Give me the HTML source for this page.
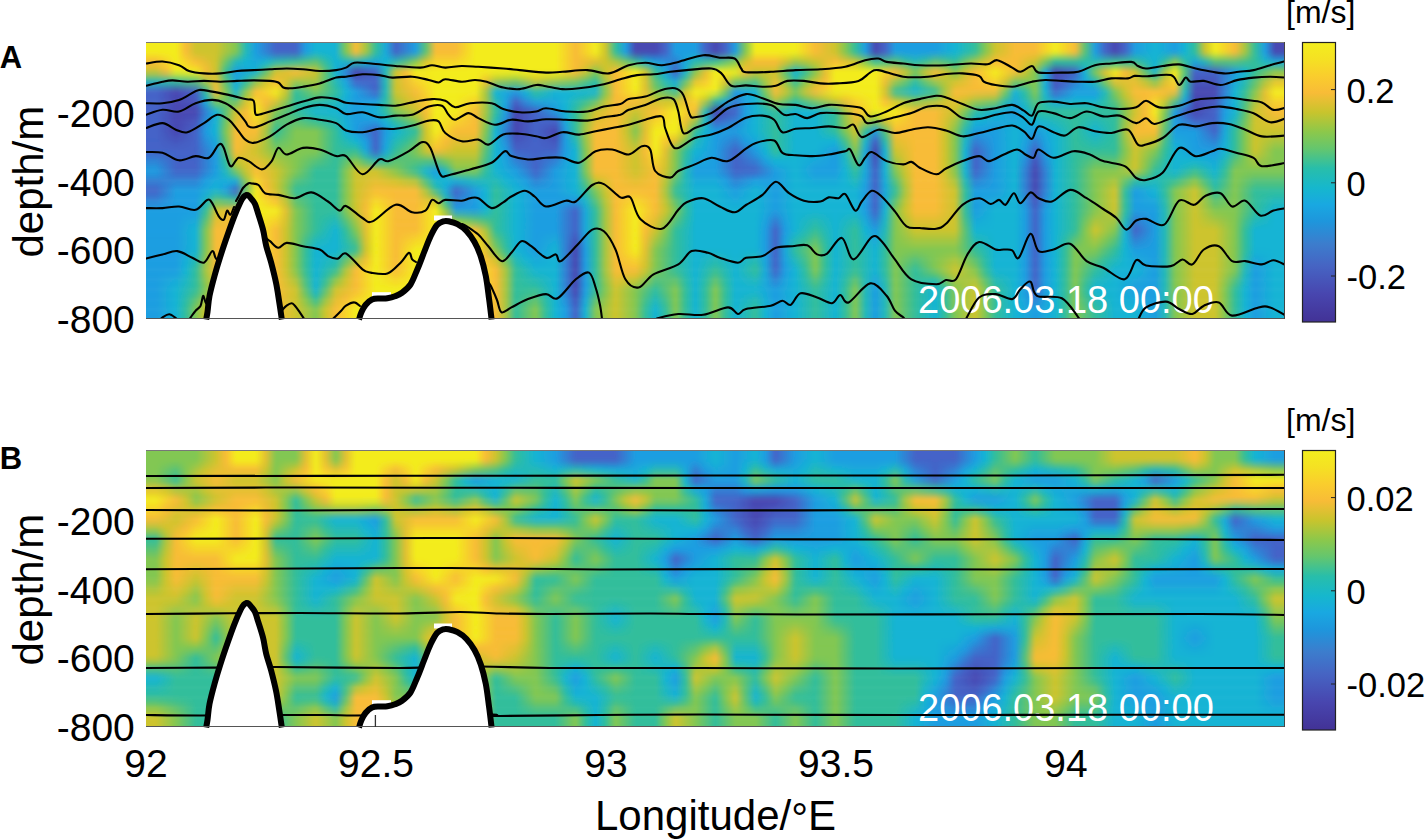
<!DOCTYPE html>
<html><head><meta charset="utf-8"><style>
html,body{margin:0;padding:0;background:#fff;width:1425px;height:840px;overflow:hidden}
svg{display:block;font-family:'Liberation Sans', sans-serif}
</style></head><body>
<svg width="1425" height="840" viewBox="0 0 1425 840">
<defs><linearGradient id="cbg" x1="0" y1="0" x2="0" y2="1"><stop offset="0.000" stop-color="rgb(243,238,30)"/><stop offset="0.060" stop-color="rgb(245,225,35)"/><stop offset="0.120" stop-color="rgb(250,205,45)"/><stop offset="0.180" stop-color="rgb(248,188,55)"/><stop offset="0.250" stop-color="rgb(200,196,45)"/><stop offset="0.320" stop-color="rgb(140,200,75)"/><stop offset="0.380" stop-color="rgb(100,198,110)"/><stop offset="0.450" stop-color="rgb(40,190,170)"/><stop offset="0.520" stop-color="rgb(22,183,205)"/><stop offset="0.580" stop-color="rgb(25,168,225)"/><stop offset="0.640" stop-color="rgb(30,150,220)"/><stop offset="0.720" stop-color="rgb(60,125,205)"/><stop offset="0.800" stop-color="rgb(70,100,195)"/><stop offset="0.900" stop-color="rgb(72,70,175)"/><stop offset="1.000" stop-color="rgb(66,50,150)"/></linearGradient></defs>
<defs><linearGradient id="vfade" x1="0" y1="0" x2="0" y2="1"><stop offset="0" stop-color="#fff"/><stop offset="1" stop-color="#000"/></linearGradient><mask id="fade" maskContentUnits="objectBoundingBox"><rect width="1" height="1" fill="url(#vfade)"/></mask></defs>
<defs><filter id="bl" x="-5%" y="-5%" width="110%" height="110%"><feGaussianBlur stdDeviation="1.5"/></filter></defs>
<defs><linearGradient id="gA0" gradientUnits="userSpaceOnUse" x1="156.0" y1="0" x2="1275.0" y2="0"><stop offset="0.00%" stop-color="#f3ec1e"/><stop offset="0.89%" stop-color="#f3ec1e"/><stop offset="1.79%" stop-color="#f3ec1e"/><stop offset="2.68%" stop-color="#f8bc37"/><stop offset="3.57%" stop-color="#cdc42d"/><stop offset="4.46%" stop-color="#cdc42d"/><stop offset="5.36%" stop-color="#cdc42d"/><stop offset="6.25%" stop-color="#a8c640"/><stop offset="7.14%" stop-color="#82c752"/><stop offset="8.04%" stop-color="#24b9b8"/><stop offset="8.93%" stop-color="#1e9ee1"/><stop offset="9.82%" stop-color="#3181d4"/><stop offset="10.71%" stop-color="#4464c8"/><stop offset="11.61%" stop-color="#4464c8"/><stop offset="12.50%" stop-color="#4464c8"/><stop offset="13.39%" stop-color="#1e9ee1"/><stop offset="14.29%" stop-color="#16b4d4"/><stop offset="15.18%" stop-color="#16b4d4"/><stop offset="16.07%" stop-color="#16b4d4"/><stop offset="16.96%" stop-color="#82c752"/><stop offset="17.86%" stop-color="#f8bc37"/><stop offset="18.75%" stop-color="#a8c640"/><stop offset="19.64%" stop-color="#32be9b"/><stop offset="20.54%" stop-color="#1aa9da"/><stop offset="21.43%" stop-color="#4464c8"/><stop offset="22.32%" stop-color="#3181d4"/><stop offset="23.21%" stop-color="#1e9ee1"/><stop offset="24.11%" stop-color="#5ac276"/><stop offset="25.00%" stop-color="#f8bc37"/><stop offset="25.89%" stop-color="#f8bc37"/><stop offset="26.79%" stop-color="#f8bc37"/><stop offset="27.68%" stop-color="#f6d42a"/><stop offset="28.57%" stop-color="#f3ec1e"/><stop offset="29.46%" stop-color="#f3ec1e"/><stop offset="30.36%" stop-color="#f3ec1e"/><stop offset="31.25%" stop-color="#f3ec1e"/><stop offset="32.14%" stop-color="#f3ec1e"/><stop offset="33.04%" stop-color="#f3ec1e"/><stop offset="33.93%" stop-color="#f3ec1e"/><stop offset="34.82%" stop-color="#f3ec1e"/><stop offset="35.71%" stop-color="#f3ec1e"/><stop offset="36.61%" stop-color="#f6d42a"/><stop offset="37.50%" stop-color="#f8bc37"/><stop offset="38.39%" stop-color="#f6d42a"/><stop offset="39.29%" stop-color="#f3ec1e"/><stop offset="40.18%" stop-color="#cdc42d"/><stop offset="41.07%" stop-color="#32be9b"/><stop offset="41.96%" stop-color="#1e9ee1"/><stop offset="42.86%" stop-color="#4848b2"/><stop offset="43.75%" stop-color="#4848b2"/><stop offset="44.64%" stop-color="#4848b2"/><stop offset="45.54%" stop-color="#4464c8"/><stop offset="46.43%" stop-color="#1e9ee1"/><stop offset="47.32%" stop-color="#1e9ee1"/><stop offset="48.21%" stop-color="#1e9ee1"/><stop offset="49.11%" stop-color="#4464c8"/><stop offset="50.00%" stop-color="#4848b2"/><stop offset="50.89%" stop-color="#4464c8"/><stop offset="51.79%" stop-color="#1e9ee1"/><stop offset="52.68%" stop-color="#82c752"/><stop offset="53.57%" stop-color="#f3ec1e"/><stop offset="54.46%" stop-color="#f3ec1e"/><stop offset="55.36%" stop-color="#f3ec1e"/><stop offset="56.25%" stop-color="#f3ec1e"/><stop offset="57.14%" stop-color="#f3ec1e"/><stop offset="58.04%" stop-color="#f6d42a"/><stop offset="58.93%" stop-color="#f8bc37"/><stop offset="59.82%" stop-color="#e2c032"/><stop offset="60.71%" stop-color="#cdc42d"/><stop offset="61.61%" stop-color="#82c752"/><stop offset="62.50%" stop-color="#32be9b"/><stop offset="63.39%" stop-color="#1e9ee1"/><stop offset="64.29%" stop-color="#4848b2"/><stop offset="65.18%" stop-color="#4464c8"/><stop offset="66.07%" stop-color="#1e9ee1"/><stop offset="66.96%" stop-color="#1e9ee1"/><stop offset="67.86%" stop-color="#1e9ee1"/><stop offset="68.75%" stop-color="#1e9ee1"/><stop offset="69.64%" stop-color="#1e9ee1"/><stop offset="70.54%" stop-color="#1aa9da"/><stop offset="71.43%" stop-color="#16b4d4"/><stop offset="72.32%" stop-color="#24b9b8"/><stop offset="73.21%" stop-color="#32be9b"/><stop offset="74.11%" stop-color="#82c752"/><stop offset="75.00%" stop-color="#cdc42d"/><stop offset="75.89%" stop-color="#e2c032"/><stop offset="76.79%" stop-color="#f8bc37"/><stop offset="77.68%" stop-color="#f8bc37"/><stop offset="78.57%" stop-color="#f8bc37"/><stop offset="79.46%" stop-color="#f6d42a"/><stop offset="80.36%" stop-color="#f3ec1e"/><stop offset="81.25%" stop-color="#f6d42a"/><stop offset="82.14%" stop-color="#f8bc37"/><stop offset="83.04%" stop-color="#5ac276"/><stop offset="83.93%" stop-color="#1e9ee1"/><stop offset="84.82%" stop-color="#4464c8"/><stop offset="85.71%" stop-color="#4848b2"/><stop offset="86.61%" stop-color="#4464c8"/><stop offset="87.50%" stop-color="#1e9ee1"/><stop offset="88.39%" stop-color="#1aa9da"/><stop offset="89.29%" stop-color="#16b4d4"/><stop offset="90.18%" stop-color="#1aa9da"/><stop offset="91.07%" stop-color="#1e9ee1"/><stop offset="91.96%" stop-color="#16b4d4"/><stop offset="92.86%" stop-color="#32be9b"/><stop offset="93.75%" stop-color="#cdc42d"/><stop offset="94.64%" stop-color="#f3ec1e"/><stop offset="95.54%" stop-color="#f6d42a"/><stop offset="96.43%" stop-color="#f8bc37"/><stop offset="97.32%" stop-color="#a8c640"/><stop offset="98.21%" stop-color="#32be9b"/><stop offset="99.11%" stop-color="#1e9ee1"/><stop offset="100.00%" stop-color="#4848b2"/></linearGradient><linearGradient id="gA1" gradientUnits="userSpaceOnUse" x1="156.0" y1="0" x2="1275.0" y2="0"><stop offset="0.00%" stop-color="#f8bc37"/><stop offset="0.89%" stop-color="#f6d42a"/><stop offset="1.79%" stop-color="#f3ec1e"/><stop offset="2.68%" stop-color="#f6d42a"/><stop offset="3.57%" stop-color="#f8bc37"/><stop offset="4.46%" stop-color="#e2c032"/><stop offset="5.36%" stop-color="#cdc42d"/><stop offset="6.25%" stop-color="#6ec564"/><stop offset="7.14%" stop-color="#24b9b8"/><stop offset="8.04%" stop-color="#16b4d4"/><stop offset="8.93%" stop-color="#1aa9da"/><stop offset="9.82%" stop-color="#16b4d4"/><stop offset="10.71%" stop-color="#24b9b8"/><stop offset="11.61%" stop-color="#2bbca9"/><stop offset="12.50%" stop-color="#32be9b"/><stop offset="13.39%" stop-color="#46c089"/><stop offset="14.29%" stop-color="#5ac276"/><stop offset="15.18%" stop-color="#2bbca9"/><stop offset="16.07%" stop-color="#16b4d4"/><stop offset="16.96%" stop-color="#1db6c6"/><stop offset="17.86%" stop-color="#24b9b8"/><stop offset="18.75%" stop-color="#16b4d4"/><stop offset="19.64%" stop-color="#1aa9da"/><stop offset="20.54%" stop-color="#16b4d4"/><stop offset="21.43%" stop-color="#24b9b8"/><stop offset="22.32%" stop-color="#46c089"/><stop offset="23.21%" stop-color="#82c752"/><stop offset="24.11%" stop-color="#d8c230"/><stop offset="25.00%" stop-color="#f6d42a"/><stop offset="25.89%" stop-color="#f6d42a"/><stop offset="26.79%" stop-color="#f6d42a"/><stop offset="27.68%" stop-color="#f4e024"/><stop offset="28.57%" stop-color="#f3ec1e"/><stop offset="29.46%" stop-color="#f3ec1e"/><stop offset="30.36%" stop-color="#f3ec1e"/><stop offset="31.25%" stop-color="#f3ec1e"/><stop offset="32.14%" stop-color="#f3ec1e"/><stop offset="33.04%" stop-color="#f3ec1e"/><stop offset="33.93%" stop-color="#f3ec1e"/><stop offset="34.82%" stop-color="#f3ec1e"/><stop offset="35.71%" stop-color="#f3ec1e"/><stop offset="36.61%" stop-color="#f6d42a"/><stop offset="37.50%" stop-color="#f8bc37"/><stop offset="38.39%" stop-color="#edbe34"/><stop offset="39.29%" stop-color="#e2c032"/><stop offset="40.18%" stop-color="#cdc42d"/><stop offset="41.07%" stop-color="#a8c640"/><stop offset="41.96%" stop-color="#6ec564"/><stop offset="42.86%" stop-color="#32be9b"/><stop offset="43.75%" stop-color="#16b4d4"/><stop offset="44.64%" stop-color="#1e9ee1"/><stop offset="45.54%" stop-color="#2890db"/><stop offset="46.43%" stop-color="#3181d4"/><stop offset="47.32%" stop-color="#1aa9da"/><stop offset="48.21%" stop-color="#24b9b8"/><stop offset="49.11%" stop-color="#2bbca9"/><stop offset="50.00%" stop-color="#32be9b"/><stop offset="50.89%" stop-color="#5ac276"/><stop offset="51.79%" stop-color="#82c752"/><stop offset="52.68%" stop-color="#cdc42d"/><stop offset="53.57%" stop-color="#f8bc37"/><stop offset="54.46%" stop-color="#f8bc37"/><stop offset="55.36%" stop-color="#f8bc37"/><stop offset="56.25%" stop-color="#d8c230"/><stop offset="57.14%" stop-color="#a8c640"/><stop offset="58.04%" stop-color="#bac536"/><stop offset="58.93%" stop-color="#cdc42d"/><stop offset="59.82%" stop-color="#e2c032"/><stop offset="60.71%" stop-color="#f8bc37"/><stop offset="61.61%" stop-color="#e2c032"/><stop offset="62.50%" stop-color="#cdc42d"/><stop offset="63.39%" stop-color="#82c752"/><stop offset="64.29%" stop-color="#32be9b"/><stop offset="65.18%" stop-color="#46c089"/><stop offset="66.07%" stop-color="#5ac276"/><stop offset="66.96%" stop-color="#32be9b"/><stop offset="67.86%" stop-color="#24b9b8"/><stop offset="68.75%" stop-color="#32be9b"/><stop offset="69.64%" stop-color="#5ac276"/><stop offset="70.54%" stop-color="#46c089"/><stop offset="71.43%" stop-color="#32be9b"/><stop offset="72.32%" stop-color="#6ec564"/><stop offset="73.21%" stop-color="#a8c640"/><stop offset="74.11%" stop-color="#d8c230"/><stop offset="75.00%" stop-color="#f8bc37"/><stop offset="75.89%" stop-color="#f8bc37"/><stop offset="76.79%" stop-color="#f8bc37"/><stop offset="77.68%" stop-color="#e2c032"/><stop offset="78.57%" stop-color="#cdc42d"/><stop offset="79.46%" stop-color="#82c752"/><stop offset="80.36%" stop-color="#32be9b"/><stop offset="81.25%" stop-color="#32be9b"/><stop offset="82.14%" stop-color="#32be9b"/><stop offset="83.04%" stop-color="#2bbca9"/><stop offset="83.93%" stop-color="#24b9b8"/><stop offset="84.82%" stop-color="#2bbca9"/><stop offset="85.71%" stop-color="#32be9b"/><stop offset="86.61%" stop-color="#32be9b"/><stop offset="87.50%" stop-color="#32be9b"/><stop offset="88.39%" stop-color="#24b9b8"/><stop offset="89.29%" stop-color="#16b4d4"/><stop offset="90.18%" stop-color="#32be9b"/><stop offset="91.07%" stop-color="#82c752"/><stop offset="91.96%" stop-color="#2bbca9"/><stop offset="92.86%" stop-color="#1aa9da"/><stop offset="93.75%" stop-color="#24b9b8"/><stop offset="94.64%" stop-color="#5ac276"/><stop offset="95.54%" stop-color="#5ac276"/><stop offset="96.43%" stop-color="#5ac276"/><stop offset="97.32%" stop-color="#46c089"/><stop offset="98.21%" stop-color="#32be9b"/><stop offset="99.11%" stop-color="#1db6c6"/><stop offset="100.00%" stop-color="#1aa9da"/></linearGradient><linearGradient id="gA2" gradientUnits="userSpaceOnUse" x1="156.0" y1="0" x2="1275.0" y2="0"><stop offset="0.00%" stop-color="#cdc42d"/><stop offset="0.89%" stop-color="#f8bc37"/><stop offset="1.79%" stop-color="#f3ec1e"/><stop offset="2.68%" stop-color="#f3ec1e"/><stop offset="3.57%" stop-color="#f3ec1e"/><stop offset="4.46%" stop-color="#f8bc37"/><stop offset="5.36%" stop-color="#cdc42d"/><stop offset="6.25%" stop-color="#32be9b"/><stop offset="7.14%" stop-color="#1e9ee1"/><stop offset="8.04%" stop-color="#1aa9da"/><stop offset="8.93%" stop-color="#16b4d4"/><stop offset="9.82%" stop-color="#5ac276"/><stop offset="10.71%" stop-color="#cdc42d"/><stop offset="11.61%" stop-color="#e2c032"/><stop offset="12.50%" stop-color="#f8bc37"/><stop offset="13.39%" stop-color="#e2c032"/><stop offset="14.29%" stop-color="#cdc42d"/><stop offset="15.18%" stop-color="#5ac276"/><stop offset="16.07%" stop-color="#16b4d4"/><stop offset="16.96%" stop-color="#3181d4"/><stop offset="17.86%" stop-color="#4848b2"/><stop offset="18.75%" stop-color="#4656bd"/><stop offset="19.64%" stop-color="#4464c8"/><stop offset="20.54%" stop-color="#24b9b8"/><stop offset="21.43%" stop-color="#cdc42d"/><stop offset="22.32%" stop-color="#f8bc37"/><stop offset="23.21%" stop-color="#f3ec1e"/><stop offset="24.11%" stop-color="#f3ec1e"/><stop offset="25.00%" stop-color="#f3ec1e"/><stop offset="25.89%" stop-color="#f3ec1e"/><stop offset="26.79%" stop-color="#f3ec1e"/><stop offset="27.68%" stop-color="#f3ec1e"/><stop offset="28.57%" stop-color="#f3ec1e"/><stop offset="29.46%" stop-color="#f3ec1e"/><stop offset="30.36%" stop-color="#f3ec1e"/><stop offset="31.25%" stop-color="#f3ec1e"/><stop offset="32.14%" stop-color="#f3ec1e"/><stop offset="33.04%" stop-color="#f3ec1e"/><stop offset="33.93%" stop-color="#f3ec1e"/><stop offset="34.82%" stop-color="#f3ec1e"/><stop offset="35.71%" stop-color="#f3ec1e"/><stop offset="36.61%" stop-color="#f6d42a"/><stop offset="37.50%" stop-color="#f8bc37"/><stop offset="38.39%" stop-color="#cdc42d"/><stop offset="39.29%" stop-color="#82c752"/><stop offset="40.18%" stop-color="#cdc42d"/><stop offset="41.07%" stop-color="#f8bc37"/><stop offset="41.96%" stop-color="#f6d42a"/><stop offset="42.86%" stop-color="#f3ec1e"/><stop offset="43.75%" stop-color="#cdc42d"/><stop offset="44.64%" stop-color="#32be9b"/><stop offset="45.54%" stop-color="#1aa9da"/><stop offset="46.43%" stop-color="#4464c8"/><stop offset="47.32%" stop-color="#16b4d4"/><stop offset="48.21%" stop-color="#82c752"/><stop offset="49.11%" stop-color="#e2c032"/><stop offset="50.00%" stop-color="#f3ec1e"/><stop offset="50.89%" stop-color="#f3ec1e"/><stop offset="51.79%" stop-color="#f3ec1e"/><stop offset="52.68%" stop-color="#f8bc37"/><stop offset="53.57%" stop-color="#cdc42d"/><stop offset="54.46%" stop-color="#cdc42d"/><stop offset="55.36%" stop-color="#cdc42d"/><stop offset="56.25%" stop-color="#5ac276"/><stop offset="57.14%" stop-color="#16b4d4"/><stop offset="58.04%" stop-color="#32be9b"/><stop offset="58.93%" stop-color="#82c752"/><stop offset="59.82%" stop-color="#e2c032"/><stop offset="60.71%" stop-color="#f3ec1e"/><stop offset="61.61%" stop-color="#f3ec1e"/><stop offset="62.50%" stop-color="#f3ec1e"/><stop offset="63.39%" stop-color="#f3ec1e"/><stop offset="64.29%" stop-color="#f3ec1e"/><stop offset="65.18%" stop-color="#f6d42a"/><stop offset="66.07%" stop-color="#f8bc37"/><stop offset="66.96%" stop-color="#cdc42d"/><stop offset="67.86%" stop-color="#82c752"/><stop offset="68.75%" stop-color="#cdc42d"/><stop offset="69.64%" stop-color="#f8bc37"/><stop offset="70.54%" stop-color="#cdc42d"/><stop offset="71.43%" stop-color="#82c752"/><stop offset="72.32%" stop-color="#cdc42d"/><stop offset="73.21%" stop-color="#f8bc37"/><stop offset="74.11%" stop-color="#f6d42a"/><stop offset="75.00%" stop-color="#f3ec1e"/><stop offset="75.89%" stop-color="#f6d42a"/><stop offset="76.79%" stop-color="#f8bc37"/><stop offset="77.68%" stop-color="#cdc42d"/><stop offset="78.57%" stop-color="#82c752"/><stop offset="79.46%" stop-color="#1aa9da"/><stop offset="80.36%" stop-color="#4848b2"/><stop offset="81.25%" stop-color="#4656bd"/><stop offset="82.14%" stop-color="#4464c8"/><stop offset="83.04%" stop-color="#16b4d4"/><stop offset="83.93%" stop-color="#82c752"/><stop offset="84.82%" stop-color="#e2c032"/><stop offset="85.71%" stop-color="#f3ec1e"/><stop offset="86.61%" stop-color="#f8bc37"/><stop offset="87.50%" stop-color="#cdc42d"/><stop offset="88.39%" stop-color="#5ac276"/><stop offset="89.29%" stop-color="#16b4d4"/><stop offset="90.18%" stop-color="#a8c640"/><stop offset="91.07%" stop-color="#f3ec1e"/><stop offset="91.96%" stop-color="#5ac276"/><stop offset="92.86%" stop-color="#4464c8"/><stop offset="93.75%" stop-color="#4464c8"/><stop offset="94.64%" stop-color="#4464c8"/><stop offset="95.54%" stop-color="#3181d4"/><stop offset="96.43%" stop-color="#1e9ee1"/><stop offset="97.32%" stop-color="#16b4d4"/><stop offset="98.21%" stop-color="#32be9b"/><stop offset="99.11%" stop-color="#5ac276"/><stop offset="100.00%" stop-color="#82c752"/></linearGradient><linearGradient id="gA3" gradientUnits="userSpaceOnUse" x1="156.0" y1="0" x2="1275.0" y2="0"><stop offset="0.00%" stop-color="#24b9b8"/><stop offset="0.89%" stop-color="#2bbca9"/><stop offset="1.79%" stop-color="#32be9b"/><stop offset="2.68%" stop-color="#46c089"/><stop offset="3.57%" stop-color="#5ac276"/><stop offset="4.46%" stop-color="#a8c640"/><stop offset="5.36%" stop-color="#e2c032"/><stop offset="6.25%" stop-color="#5ac276"/><stop offset="7.14%" stop-color="#1aa9da"/><stop offset="8.04%" stop-color="#2bbca9"/><stop offset="8.93%" stop-color="#82c752"/><stop offset="9.82%" stop-color="#cdc42d"/><stop offset="10.71%" stop-color="#f8bc37"/><stop offset="11.61%" stop-color="#d8c230"/><stop offset="12.50%" stop-color="#a8c640"/><stop offset="13.39%" stop-color="#a8c640"/><stop offset="14.29%" stop-color="#a8c640"/><stop offset="15.18%" stop-color="#5ac276"/><stop offset="16.07%" stop-color="#24b9b8"/><stop offset="16.96%" stop-color="#1ca4de"/><stop offset="17.86%" stop-color="#4464c8"/><stop offset="18.75%" stop-color="#4464c8"/><stop offset="19.64%" stop-color="#4464c8"/><stop offset="20.54%" stop-color="#24b9b8"/><stop offset="21.43%" stop-color="#cdc42d"/><stop offset="22.32%" stop-color="#edbe34"/><stop offset="23.21%" stop-color="#f6d42a"/><stop offset="24.11%" stop-color="#f4e024"/><stop offset="25.00%" stop-color="#f3ec1e"/><stop offset="25.89%" stop-color="#f3ec1e"/><stop offset="26.79%" stop-color="#f3ec1e"/><stop offset="27.68%" stop-color="#f3ec1e"/><stop offset="28.57%" stop-color="#f3ec1e"/><stop offset="29.46%" stop-color="#edbe34"/><stop offset="30.36%" stop-color="#a8c640"/><stop offset="31.25%" stop-color="#95c649"/><stop offset="32.14%" stop-color="#82c752"/><stop offset="33.04%" stop-color="#a8c640"/><stop offset="33.93%" stop-color="#cdc42d"/><stop offset="34.82%" stop-color="#bac536"/><stop offset="35.71%" stop-color="#a8c640"/><stop offset="36.61%" stop-color="#95c649"/><stop offset="37.50%" stop-color="#82c752"/><stop offset="38.39%" stop-color="#5ac276"/><stop offset="39.29%" stop-color="#32be9b"/><stop offset="40.18%" stop-color="#a8c640"/><stop offset="41.07%" stop-color="#f8bc37"/><stop offset="41.96%" stop-color="#f6d42a"/><stop offset="42.86%" stop-color="#f3ec1e"/><stop offset="43.75%" stop-color="#d8c230"/><stop offset="44.64%" stop-color="#5ac276"/><stop offset="45.54%" stop-color="#24b9b8"/><stop offset="46.43%" stop-color="#1aa9da"/><stop offset="47.32%" stop-color="#5ac276"/><stop offset="48.21%" stop-color="#e2c032"/><stop offset="49.11%" stop-color="#f7c831"/><stop offset="50.00%" stop-color="#f3ec1e"/><stop offset="50.89%" stop-color="#e2c032"/><stop offset="51.79%" stop-color="#82c752"/><stop offset="52.68%" stop-color="#6ec564"/><stop offset="53.57%" stop-color="#5ac276"/><stop offset="54.46%" stop-color="#a8c640"/><stop offset="55.36%" stop-color="#e2c032"/><stop offset="56.25%" stop-color="#95c649"/><stop offset="57.14%" stop-color="#32be9b"/><stop offset="58.04%" stop-color="#82c752"/><stop offset="58.93%" stop-color="#cdc42d"/><stop offset="59.82%" stop-color="#f8bc37"/><stop offset="60.71%" stop-color="#f3ec1e"/><stop offset="61.61%" stop-color="#f3ec1e"/><stop offset="62.50%" stop-color="#f3ec1e"/><stop offset="63.39%" stop-color="#f3ec1e"/><stop offset="64.29%" stop-color="#f3ec1e"/><stop offset="65.18%" stop-color="#edbe34"/><stop offset="66.07%" stop-color="#a8c640"/><stop offset="66.96%" stop-color="#6ec564"/><stop offset="67.86%" stop-color="#32be9b"/><stop offset="68.75%" stop-color="#6ec564"/><stop offset="69.64%" stop-color="#a8c640"/><stop offset="70.54%" stop-color="#bac536"/><stop offset="71.43%" stop-color="#cdc42d"/><stop offset="72.32%" stop-color="#e2c032"/><stop offset="73.21%" stop-color="#f8bc37"/><stop offset="74.11%" stop-color="#f7c831"/><stop offset="75.00%" stop-color="#f6d42a"/><stop offset="75.89%" stop-color="#d8c230"/><stop offset="76.79%" stop-color="#82c752"/><stop offset="77.68%" stop-color="#82c752"/><stop offset="78.57%" stop-color="#82c752"/><stop offset="79.46%" stop-color="#18aed7"/><stop offset="80.36%" stop-color="#4656bd"/><stop offset="81.25%" stop-color="#4464c8"/><stop offset="82.14%" stop-color="#3181d4"/><stop offset="83.04%" stop-color="#1aa9da"/><stop offset="83.93%" stop-color="#24b9b8"/><stop offset="84.82%" stop-color="#82c752"/><stop offset="85.71%" stop-color="#e2c032"/><stop offset="86.61%" stop-color="#e2c032"/><stop offset="87.50%" stop-color="#e2c032"/><stop offset="88.39%" stop-color="#bac536"/><stop offset="89.29%" stop-color="#82c752"/><stop offset="90.18%" stop-color="#d8c230"/><stop offset="91.07%" stop-color="#f6d42a"/><stop offset="91.96%" stop-color="#32be9b"/><stop offset="92.86%" stop-color="#4656bd"/><stop offset="93.75%" stop-color="#4656bd"/><stop offset="94.64%" stop-color="#4656bd"/><stop offset="95.54%" stop-color="#3181d4"/><stop offset="96.43%" stop-color="#1aa9da"/><stop offset="97.32%" stop-color="#24b9b8"/><stop offset="98.21%" stop-color="#5ac276"/><stop offset="99.11%" stop-color="#a8c640"/><stop offset="100.00%" stop-color="#e2c032"/></linearGradient><linearGradient id="gA4" gradientUnits="userSpaceOnUse" x1="156.0" y1="0" x2="1275.0" y2="0"><stop offset="0.00%" stop-color="#4464c8"/><stop offset="0.89%" stop-color="#4656bd"/><stop offset="1.79%" stop-color="#4848b2"/><stop offset="2.68%" stop-color="#4656bd"/><stop offset="3.57%" stop-color="#4464c8"/><stop offset="4.46%" stop-color="#32be9b"/><stop offset="5.36%" stop-color="#f8bc37"/><stop offset="6.25%" stop-color="#82c752"/><stop offset="7.14%" stop-color="#16b4d4"/><stop offset="8.04%" stop-color="#82c752"/><stop offset="8.93%" stop-color="#f8bc37"/><stop offset="9.82%" stop-color="#f6d42a"/><stop offset="10.71%" stop-color="#f3ec1e"/><stop offset="11.61%" stop-color="#cdc42d"/><stop offset="12.50%" stop-color="#32be9b"/><stop offset="13.39%" stop-color="#5ac276"/><stop offset="14.29%" stop-color="#82c752"/><stop offset="15.18%" stop-color="#5ac276"/><stop offset="16.07%" stop-color="#32be9b"/><stop offset="16.96%" stop-color="#16b4d4"/><stop offset="17.86%" stop-color="#1e9ee1"/><stop offset="18.75%" stop-color="#3181d4"/><stop offset="19.64%" stop-color="#4464c8"/><stop offset="20.54%" stop-color="#24b9b8"/><stop offset="21.43%" stop-color="#cdc42d"/><stop offset="22.32%" stop-color="#e2c032"/><stop offset="23.21%" stop-color="#f8bc37"/><stop offset="24.11%" stop-color="#f6d42a"/><stop offset="25.00%" stop-color="#f3ec1e"/><stop offset="25.89%" stop-color="#f3ec1e"/><stop offset="26.79%" stop-color="#f3ec1e"/><stop offset="27.68%" stop-color="#f3ec1e"/><stop offset="28.57%" stop-color="#f3ec1e"/><stop offset="29.46%" stop-color="#a8c640"/><stop offset="30.36%" stop-color="#16b4d4"/><stop offset="31.25%" stop-color="#1aa9da"/><stop offset="32.14%" stop-color="#1e9ee1"/><stop offset="33.04%" stop-color="#16b4d4"/><stop offset="33.93%" stop-color="#32be9b"/><stop offset="34.82%" stop-color="#24b9b8"/><stop offset="35.71%" stop-color="#16b4d4"/><stop offset="36.61%" stop-color="#16b4d4"/><stop offset="37.50%" stop-color="#16b4d4"/><stop offset="38.39%" stop-color="#16b4d4"/><stop offset="39.29%" stop-color="#16b4d4"/><stop offset="40.18%" stop-color="#82c752"/><stop offset="41.07%" stop-color="#f8bc37"/><stop offset="41.96%" stop-color="#f6d42a"/><stop offset="42.86%" stop-color="#f3ec1e"/><stop offset="43.75%" stop-color="#e2c032"/><stop offset="44.64%" stop-color="#82c752"/><stop offset="45.54%" stop-color="#5ac276"/><stop offset="46.43%" stop-color="#32be9b"/><stop offset="47.32%" stop-color="#cdc42d"/><stop offset="48.21%" stop-color="#f3ec1e"/><stop offset="49.11%" stop-color="#f3ec1e"/><stop offset="50.00%" stop-color="#f3ec1e"/><stop offset="50.89%" stop-color="#82c752"/><stop offset="51.79%" stop-color="#1e9ee1"/><stop offset="52.68%" stop-color="#1aa9da"/><stop offset="53.57%" stop-color="#16b4d4"/><stop offset="54.46%" stop-color="#82c752"/><stop offset="55.36%" stop-color="#f8bc37"/><stop offset="56.25%" stop-color="#cdc42d"/><stop offset="57.14%" stop-color="#82c752"/><stop offset="58.04%" stop-color="#cdc42d"/><stop offset="58.93%" stop-color="#f8bc37"/><stop offset="59.82%" stop-color="#f6d42a"/><stop offset="60.71%" stop-color="#f3ec1e"/><stop offset="61.61%" stop-color="#f3ec1e"/><stop offset="62.50%" stop-color="#f3ec1e"/><stop offset="63.39%" stop-color="#f3ec1e"/><stop offset="64.29%" stop-color="#f3ec1e"/><stop offset="65.18%" stop-color="#cdc42d"/><stop offset="66.07%" stop-color="#32be9b"/><stop offset="66.96%" stop-color="#24b9b8"/><stop offset="67.86%" stop-color="#16b4d4"/><stop offset="68.75%" stop-color="#24b9b8"/><stop offset="69.64%" stop-color="#32be9b"/><stop offset="70.54%" stop-color="#a8c640"/><stop offset="71.43%" stop-color="#f8bc37"/><stop offset="72.32%" stop-color="#f8bc37"/><stop offset="73.21%" stop-color="#f8bc37"/><stop offset="74.11%" stop-color="#f8bc37"/><stop offset="75.00%" stop-color="#f8bc37"/><stop offset="75.89%" stop-color="#82c752"/><stop offset="76.79%" stop-color="#16b4d4"/><stop offset="77.68%" stop-color="#32be9b"/><stop offset="78.57%" stop-color="#82c752"/><stop offset="79.46%" stop-color="#16b4d4"/><stop offset="80.36%" stop-color="#4464c8"/><stop offset="81.25%" stop-color="#3181d4"/><stop offset="82.14%" stop-color="#1e9ee1"/><stop offset="83.04%" stop-color="#1e9ee1"/><stop offset="83.93%" stop-color="#1e9ee1"/><stop offset="84.82%" stop-color="#24b9b8"/><stop offset="85.71%" stop-color="#82c752"/><stop offset="86.61%" stop-color="#cdc42d"/><stop offset="87.50%" stop-color="#f8bc37"/><stop offset="88.39%" stop-color="#f8bc37"/><stop offset="89.29%" stop-color="#f8bc37"/><stop offset="90.18%" stop-color="#f8bc37"/><stop offset="91.07%" stop-color="#f8bc37"/><stop offset="91.96%" stop-color="#24b9b8"/><stop offset="92.86%" stop-color="#4848b2"/><stop offset="93.75%" stop-color="#4848b2"/><stop offset="94.64%" stop-color="#4848b2"/><stop offset="95.54%" stop-color="#3181d4"/><stop offset="96.43%" stop-color="#16b4d4"/><stop offset="97.32%" stop-color="#32be9b"/><stop offset="98.21%" stop-color="#82c752"/><stop offset="99.11%" stop-color="#e2c032"/><stop offset="100.00%" stop-color="#f3ec1e"/></linearGradient><linearGradient id="gA5" gradientUnits="userSpaceOnUse" x1="156.0" y1="0" x2="1275.0" y2="0"><stop offset="0.00%" stop-color="#4464c8"/><stop offset="0.89%" stop-color="#4656bd"/><stop offset="1.79%" stop-color="#4848b2"/><stop offset="2.68%" stop-color="#474fb8"/><stop offset="3.57%" stop-color="#4656bd"/><stop offset="4.46%" stop-color="#18aed7"/><stop offset="5.36%" stop-color="#82c752"/><stop offset="6.25%" stop-color="#6ec564"/><stop offset="7.14%" stop-color="#5ac276"/><stop offset="8.04%" stop-color="#cdc42d"/><stop offset="8.93%" stop-color="#f6d42a"/><stop offset="9.82%" stop-color="#f8bc37"/><stop offset="10.71%" stop-color="#e2c032"/><stop offset="11.61%" stop-color="#95c649"/><stop offset="12.50%" stop-color="#32be9b"/><stop offset="13.39%" stop-color="#32be9b"/><stop offset="14.29%" stop-color="#32be9b"/><stop offset="15.18%" stop-color="#2bbca9"/><stop offset="16.07%" stop-color="#24b9b8"/><stop offset="16.96%" stop-color="#18aed7"/><stop offset="17.86%" stop-color="#1e9ee1"/><stop offset="18.75%" stop-color="#1e9ee1"/><stop offset="19.64%" stop-color="#1e9ee1"/><stop offset="20.54%" stop-color="#2bbca9"/><stop offset="21.43%" stop-color="#a8c640"/><stop offset="22.32%" stop-color="#cdc42d"/><stop offset="23.21%" stop-color="#e2c032"/><stop offset="24.11%" stop-color="#f7c831"/><stop offset="25.00%" stop-color="#f3ec1e"/><stop offset="25.89%" stop-color="#f3ec1e"/><stop offset="26.79%" stop-color="#f3ec1e"/><stop offset="27.68%" stop-color="#f4e024"/><stop offset="28.57%" stop-color="#f6d42a"/><stop offset="29.46%" stop-color="#a8c640"/><stop offset="30.36%" stop-color="#24b9b8"/><stop offset="31.25%" stop-color="#1ca4de"/><stop offset="32.14%" stop-color="#4464c8"/><stop offset="33.04%" stop-color="#2890db"/><stop offset="33.93%" stop-color="#1aa9da"/><stop offset="34.82%" stop-color="#1aa9da"/><stop offset="35.71%" stop-color="#1aa9da"/><stop offset="36.61%" stop-color="#16b4d4"/><stop offset="37.50%" stop-color="#24b9b8"/><stop offset="38.39%" stop-color="#32be9b"/><stop offset="39.29%" stop-color="#5ac276"/><stop offset="40.18%" stop-color="#bac536"/><stop offset="41.07%" stop-color="#f8bc37"/><stop offset="41.96%" stop-color="#f8bc37"/><stop offset="42.86%" stop-color="#f8bc37"/><stop offset="43.75%" stop-color="#e2c032"/><stop offset="44.64%" stop-color="#cdc42d"/><stop offset="45.54%" stop-color="#cdc42d"/><stop offset="46.43%" stop-color="#cdc42d"/><stop offset="47.32%" stop-color="#edbe34"/><stop offset="48.21%" stop-color="#f6d42a"/><stop offset="49.11%" stop-color="#bac536"/><stop offset="50.00%" stop-color="#32be9b"/><stop offset="50.89%" stop-color="#18aed7"/><stop offset="51.79%" stop-color="#3181d4"/><stop offset="52.68%" stop-color="#1ca4de"/><stop offset="53.57%" stop-color="#16b4d4"/><stop offset="54.46%" stop-color="#46c089"/><stop offset="55.36%" stop-color="#a8c640"/><stop offset="56.25%" stop-color="#6ec564"/><stop offset="57.14%" stop-color="#32be9b"/><stop offset="58.04%" stop-color="#5ac276"/><stop offset="58.93%" stop-color="#82c752"/><stop offset="59.82%" stop-color="#a8c640"/><stop offset="60.71%" stop-color="#cdc42d"/><stop offset="61.61%" stop-color="#edbe34"/><stop offset="62.50%" stop-color="#f6d42a"/><stop offset="63.39%" stop-color="#f4e024"/><stop offset="64.29%" stop-color="#f3ec1e"/><stop offset="65.18%" stop-color="#f8bc37"/><stop offset="66.07%" stop-color="#cdc42d"/><stop offset="66.96%" stop-color="#a8c640"/><stop offset="67.86%" stop-color="#82c752"/><stop offset="68.75%" stop-color="#95c649"/><stop offset="69.64%" stop-color="#a8c640"/><stop offset="70.54%" stop-color="#cdc42d"/><stop offset="71.43%" stop-color="#e2c032"/><stop offset="72.32%" stop-color="#cdc42d"/><stop offset="73.21%" stop-color="#a8c640"/><stop offset="74.11%" stop-color="#95c649"/><stop offset="75.00%" stop-color="#82c752"/><stop offset="75.89%" stop-color="#2bbca9"/><stop offset="76.79%" stop-color="#1aa9da"/><stop offset="77.68%" stop-color="#24b9b8"/><stop offset="78.57%" stop-color="#5ac276"/><stop offset="79.46%" stop-color="#24b9b8"/><stop offset="80.36%" stop-color="#1aa9da"/><stop offset="81.25%" stop-color="#18aed7"/><stop offset="82.14%" stop-color="#16b4d4"/><stop offset="83.04%" stop-color="#16b4d4"/><stop offset="83.93%" stop-color="#16b4d4"/><stop offset="84.82%" stop-color="#2bbca9"/><stop offset="85.71%" stop-color="#5ac276"/><stop offset="86.61%" stop-color="#a8c640"/><stop offset="87.50%" stop-color="#e2c032"/><stop offset="88.39%" stop-color="#f8bc37"/><stop offset="89.29%" stop-color="#f6d42a"/><stop offset="90.18%" stop-color="#cdc42d"/><stop offset="91.07%" stop-color="#5ac276"/><stop offset="91.96%" stop-color="#1ca4de"/><stop offset="92.86%" stop-color="#4848b2"/><stop offset="93.75%" stop-color="#474fb8"/><stop offset="94.64%" stop-color="#4656bd"/><stop offset="95.54%" stop-color="#2890db"/><stop offset="96.43%" stop-color="#16b4d4"/><stop offset="97.32%" stop-color="#46c089"/><stop offset="98.21%" stop-color="#a8c640"/><stop offset="99.11%" stop-color="#e2c032"/><stop offset="100.00%" stop-color="#f6d42a"/></linearGradient><linearGradient id="gA6" gradientUnits="userSpaceOnUse" x1="156.0" y1="0" x2="1275.0" y2="0"><stop offset="0.00%" stop-color="#4464c8"/><stop offset="0.89%" stop-color="#4656bd"/><stop offset="1.79%" stop-color="#4848b2"/><stop offset="2.68%" stop-color="#4848b2"/><stop offset="3.57%" stop-color="#4848b2"/><stop offset="4.46%" stop-color="#3181d4"/><stop offset="5.36%" stop-color="#16b4d4"/><stop offset="6.25%" stop-color="#5ac276"/><stop offset="7.14%" stop-color="#cdc42d"/><stop offset="8.04%" stop-color="#f8bc37"/><stop offset="8.93%" stop-color="#f3ec1e"/><stop offset="9.82%" stop-color="#e2c032"/><stop offset="10.71%" stop-color="#82c752"/><stop offset="11.61%" stop-color="#5ac276"/><stop offset="12.50%" stop-color="#32be9b"/><stop offset="13.39%" stop-color="#24b9b8"/><stop offset="14.29%" stop-color="#16b4d4"/><stop offset="15.18%" stop-color="#16b4d4"/><stop offset="16.07%" stop-color="#16b4d4"/><stop offset="16.96%" stop-color="#1aa9da"/><stop offset="17.86%" stop-color="#1e9ee1"/><stop offset="18.75%" stop-color="#1aa9da"/><stop offset="19.64%" stop-color="#16b4d4"/><stop offset="20.54%" stop-color="#32be9b"/><stop offset="21.43%" stop-color="#82c752"/><stop offset="22.32%" stop-color="#a8c640"/><stop offset="23.21%" stop-color="#cdc42d"/><stop offset="24.11%" stop-color="#f8bc37"/><stop offset="25.00%" stop-color="#f3ec1e"/><stop offset="25.89%" stop-color="#f3ec1e"/><stop offset="26.79%" stop-color="#f3ec1e"/><stop offset="27.68%" stop-color="#f6d42a"/><stop offset="28.57%" stop-color="#f8bc37"/><stop offset="29.46%" stop-color="#a8c640"/><stop offset="30.36%" stop-color="#32be9b"/><stop offset="31.25%" stop-color="#1e9ee1"/><stop offset="32.14%" stop-color="#4848b2"/><stop offset="33.04%" stop-color="#4656bd"/><stop offset="33.93%" stop-color="#4464c8"/><stop offset="34.82%" stop-color="#3181d4"/><stop offset="35.71%" stop-color="#1e9ee1"/><stop offset="36.61%" stop-color="#16b4d4"/><stop offset="37.50%" stop-color="#32be9b"/><stop offset="38.39%" stop-color="#82c752"/><stop offset="39.29%" stop-color="#cdc42d"/><stop offset="40.18%" stop-color="#e2c032"/><stop offset="41.07%" stop-color="#f8bc37"/><stop offset="41.96%" stop-color="#e2c032"/><stop offset="42.86%" stop-color="#cdc42d"/><stop offset="43.75%" stop-color="#e2c032"/><stop offset="44.64%" stop-color="#f8bc37"/><stop offset="45.54%" stop-color="#f6d42a"/><stop offset="46.43%" stop-color="#f3ec1e"/><stop offset="47.32%" stop-color="#f6d42a"/><stop offset="48.21%" stop-color="#f8bc37"/><stop offset="49.11%" stop-color="#24b9b8"/><stop offset="50.00%" stop-color="#4848b2"/><stop offset="50.89%" stop-color="#4656bd"/><stop offset="51.79%" stop-color="#4464c8"/><stop offset="52.68%" stop-color="#1e9ee1"/><stop offset="53.57%" stop-color="#16b4d4"/><stop offset="54.46%" stop-color="#24b9b8"/><stop offset="55.36%" stop-color="#32be9b"/><stop offset="56.25%" stop-color="#24b9b8"/><stop offset="57.14%" stop-color="#16b4d4"/><stop offset="58.04%" stop-color="#16b4d4"/><stop offset="58.93%" stop-color="#16b4d4"/><stop offset="59.82%" stop-color="#24b9b8"/><stop offset="60.71%" stop-color="#32be9b"/><stop offset="61.61%" stop-color="#a8c640"/><stop offset="62.50%" stop-color="#f8bc37"/><stop offset="63.39%" stop-color="#f6d42a"/><stop offset="64.29%" stop-color="#f3ec1e"/><stop offset="65.18%" stop-color="#f3ec1e"/><stop offset="66.07%" stop-color="#f3ec1e"/><stop offset="66.96%" stop-color="#f6d42a"/><stop offset="67.86%" stop-color="#f8bc37"/><stop offset="68.75%" stop-color="#f8bc37"/><stop offset="69.64%" stop-color="#f8bc37"/><stop offset="70.54%" stop-color="#e2c032"/><stop offset="71.43%" stop-color="#cdc42d"/><stop offset="72.32%" stop-color="#82c752"/><stop offset="73.21%" stop-color="#32be9b"/><stop offset="74.11%" stop-color="#24b9b8"/><stop offset="75.00%" stop-color="#16b4d4"/><stop offset="75.89%" stop-color="#1aa9da"/><stop offset="76.79%" stop-color="#1e9ee1"/><stop offset="77.68%" stop-color="#16b4d4"/><stop offset="78.57%" stop-color="#32be9b"/><stop offset="79.46%" stop-color="#32be9b"/><stop offset="80.36%" stop-color="#32be9b"/><stop offset="81.25%" stop-color="#32be9b"/><stop offset="82.14%" stop-color="#32be9b"/><stop offset="83.04%" stop-color="#32be9b"/><stop offset="83.93%" stop-color="#32be9b"/><stop offset="84.82%" stop-color="#32be9b"/><stop offset="85.71%" stop-color="#32be9b"/><stop offset="86.61%" stop-color="#82c752"/><stop offset="87.50%" stop-color="#cdc42d"/><stop offset="88.39%" stop-color="#f8bc37"/><stop offset="89.29%" stop-color="#f3ec1e"/><stop offset="90.18%" stop-color="#82c752"/><stop offset="91.07%" stop-color="#1e9ee1"/><stop offset="91.96%" stop-color="#4464c8"/><stop offset="92.86%" stop-color="#4848b2"/><stop offset="93.75%" stop-color="#4656bd"/><stop offset="94.64%" stop-color="#4464c8"/><stop offset="95.54%" stop-color="#1e9ee1"/><stop offset="96.43%" stop-color="#16b4d4"/><stop offset="97.32%" stop-color="#5ac276"/><stop offset="98.21%" stop-color="#cdc42d"/><stop offset="99.11%" stop-color="#e2c032"/><stop offset="100.00%" stop-color="#f8bc37"/></linearGradient><linearGradient id="gA7" gradientUnits="userSpaceOnUse" x1="156.0" y1="0" x2="1275.0" y2="0"><stop offset="0.00%" stop-color="#4464c8"/><stop offset="0.89%" stop-color="#4656bd"/><stop offset="1.79%" stop-color="#4848b2"/><stop offset="2.68%" stop-color="#474fb8"/><stop offset="3.57%" stop-color="#4656bd"/><stop offset="4.46%" stop-color="#2890db"/><stop offset="5.36%" stop-color="#16b4d4"/><stop offset="6.25%" stop-color="#6ec564"/><stop offset="7.14%" stop-color="#e2c032"/><stop offset="8.04%" stop-color="#f8bc37"/><stop offset="8.93%" stop-color="#f6d42a"/><stop offset="9.82%" stop-color="#cdc42d"/><stop offset="10.71%" stop-color="#5ac276"/><stop offset="11.61%" stop-color="#5ac276"/><stop offset="12.50%" stop-color="#5ac276"/><stop offset="13.39%" stop-color="#46c089"/><stop offset="14.29%" stop-color="#32be9b"/><stop offset="15.18%" stop-color="#2bbca9"/><stop offset="16.07%" stop-color="#24b9b8"/><stop offset="16.96%" stop-color="#18aed7"/><stop offset="17.86%" stop-color="#1e9ee1"/><stop offset="18.75%" stop-color="#1e9ee1"/><stop offset="19.64%" stop-color="#1e9ee1"/><stop offset="20.54%" stop-color="#16b4d4"/><stop offset="21.43%" stop-color="#32be9b"/><stop offset="22.32%" stop-color="#5ac276"/><stop offset="23.21%" stop-color="#82c752"/><stop offset="24.11%" stop-color="#e2c032"/><stop offset="25.00%" stop-color="#f3ec1e"/><stop offset="25.89%" stop-color="#f4e024"/><stop offset="26.79%" stop-color="#f6d42a"/><stop offset="27.68%" stop-color="#f7c831"/><stop offset="28.57%" stop-color="#f8bc37"/><stop offset="29.46%" stop-color="#95c649"/><stop offset="30.36%" stop-color="#24b9b8"/><stop offset="31.25%" stop-color="#2890db"/><stop offset="32.14%" stop-color="#4848b2"/><stop offset="33.04%" stop-color="#4656bd"/><stop offset="33.93%" stop-color="#4464c8"/><stop offset="34.82%" stop-color="#4464c8"/><stop offset="35.71%" stop-color="#4464c8"/><stop offset="36.61%" stop-color="#1aa9da"/><stop offset="37.50%" stop-color="#32be9b"/><stop offset="38.39%" stop-color="#95c649"/><stop offset="39.29%" stop-color="#e2c032"/><stop offset="40.18%" stop-color="#edbe34"/><stop offset="41.07%" stop-color="#f8bc37"/><stop offset="41.96%" stop-color="#d8c230"/><stop offset="42.86%" stop-color="#a8c640"/><stop offset="43.75%" stop-color="#e2c032"/><stop offset="44.64%" stop-color="#f6d42a"/><stop offset="45.54%" stop-color="#f4e024"/><stop offset="46.43%" stop-color="#f3ec1e"/><stop offset="47.32%" stop-color="#edbe34"/><stop offset="48.21%" stop-color="#a8c640"/><stop offset="49.11%" stop-color="#1db6c6"/><stop offset="50.00%" stop-color="#4464c8"/><stop offset="50.89%" stop-color="#3a72ce"/><stop offset="51.79%" stop-color="#3181d4"/><stop offset="52.68%" stop-color="#1ca4de"/><stop offset="53.57%" stop-color="#16b4d4"/><stop offset="54.46%" stop-color="#24b9b8"/><stop offset="55.36%" stop-color="#32be9b"/><stop offset="56.25%" stop-color="#24b9b8"/><stop offset="57.14%" stop-color="#16b4d4"/><stop offset="58.04%" stop-color="#16b4d4"/><stop offset="58.93%" stop-color="#16b4d4"/><stop offset="59.82%" stop-color="#24b9b8"/><stop offset="60.71%" stop-color="#32be9b"/><stop offset="61.61%" stop-color="#95c649"/><stop offset="62.50%" stop-color="#e2c032"/><stop offset="63.39%" stop-color="#bac536"/><stop offset="64.29%" stop-color="#82c752"/><stop offset="65.18%" stop-color="#d8c230"/><stop offset="66.07%" stop-color="#f6d42a"/><stop offset="66.96%" stop-color="#f7c831"/><stop offset="67.86%" stop-color="#f8bc37"/><stop offset="68.75%" stop-color="#f8bc37"/><stop offset="69.64%" stop-color="#f8bc37"/><stop offset="70.54%" stop-color="#d8c230"/><stop offset="71.43%" stop-color="#a8c640"/><stop offset="72.32%" stop-color="#46c089"/><stop offset="73.21%" stop-color="#16b4d4"/><stop offset="74.11%" stop-color="#18aed7"/><stop offset="75.00%" stop-color="#1aa9da"/><stop offset="75.89%" stop-color="#1aa9da"/><stop offset="76.79%" stop-color="#1aa9da"/><stop offset="77.68%" stop-color="#18aed7"/><stop offset="78.57%" stop-color="#16b4d4"/><stop offset="79.46%" stop-color="#1db6c6"/><stop offset="80.36%" stop-color="#24b9b8"/><stop offset="81.25%" stop-color="#2bbca9"/><stop offset="82.14%" stop-color="#32be9b"/><stop offset="83.04%" stop-color="#2bbca9"/><stop offset="83.93%" stop-color="#24b9b8"/><stop offset="84.82%" stop-color="#2bbca9"/><stop offset="85.71%" stop-color="#32be9b"/><stop offset="86.61%" stop-color="#95c649"/><stop offset="87.50%" stop-color="#e2c032"/><stop offset="88.39%" stop-color="#f8bc37"/><stop offset="89.29%" stop-color="#f6d42a"/><stop offset="90.18%" stop-color="#6ec564"/><stop offset="91.07%" stop-color="#1e9ee1"/><stop offset="91.96%" stop-color="#3181d4"/><stop offset="92.86%" stop-color="#4464c8"/><stop offset="93.75%" stop-color="#4464c8"/><stop offset="94.64%" stop-color="#4464c8"/><stop offset="95.54%" stop-color="#1ca4de"/><stop offset="96.43%" stop-color="#24b9b8"/><stop offset="97.32%" stop-color="#6ec564"/><stop offset="98.21%" stop-color="#cdc42d"/><stop offset="99.11%" stop-color="#d8c230"/><stop offset="100.00%" stop-color="#e2c032"/></linearGradient><linearGradient id="gA8" gradientUnits="userSpaceOnUse" x1="156.0" y1="0" x2="1275.0" y2="0"><stop offset="0.00%" stop-color="#4464c8"/><stop offset="0.89%" stop-color="#4656bd"/><stop offset="1.79%" stop-color="#4848b2"/><stop offset="2.68%" stop-color="#4656bd"/><stop offset="3.57%" stop-color="#4464c8"/><stop offset="4.46%" stop-color="#1e9ee1"/><stop offset="5.36%" stop-color="#16b4d4"/><stop offset="6.25%" stop-color="#82c752"/><stop offset="7.14%" stop-color="#f8bc37"/><stop offset="8.04%" stop-color="#f8bc37"/><stop offset="8.93%" stop-color="#f8bc37"/><stop offset="9.82%" stop-color="#a8c640"/><stop offset="10.71%" stop-color="#32be9b"/><stop offset="11.61%" stop-color="#5ac276"/><stop offset="12.50%" stop-color="#82c752"/><stop offset="13.39%" stop-color="#82c752"/><stop offset="14.29%" stop-color="#82c752"/><stop offset="15.18%" stop-color="#5ac276"/><stop offset="16.07%" stop-color="#32be9b"/><stop offset="16.96%" stop-color="#16b4d4"/><stop offset="17.86%" stop-color="#1e9ee1"/><stop offset="18.75%" stop-color="#3181d4"/><stop offset="19.64%" stop-color="#4464c8"/><stop offset="20.54%" stop-color="#1e9ee1"/><stop offset="21.43%" stop-color="#16b4d4"/><stop offset="22.32%" stop-color="#24b9b8"/><stop offset="23.21%" stop-color="#32be9b"/><stop offset="24.11%" stop-color="#cdc42d"/><stop offset="25.00%" stop-color="#f3ec1e"/><stop offset="25.89%" stop-color="#f6d42a"/><stop offset="26.79%" stop-color="#f8bc37"/><stop offset="27.68%" stop-color="#f8bc37"/><stop offset="28.57%" stop-color="#f8bc37"/><stop offset="29.46%" stop-color="#82c752"/><stop offset="30.36%" stop-color="#16b4d4"/><stop offset="31.25%" stop-color="#3181d4"/><stop offset="32.14%" stop-color="#4848b2"/><stop offset="33.04%" stop-color="#4656bd"/><stop offset="33.93%" stop-color="#4464c8"/><stop offset="34.82%" stop-color="#4656bd"/><stop offset="35.71%" stop-color="#4848b2"/><stop offset="36.61%" stop-color="#1e9ee1"/><stop offset="37.50%" stop-color="#32be9b"/><stop offset="38.39%" stop-color="#a8c640"/><stop offset="39.29%" stop-color="#f8bc37"/><stop offset="40.18%" stop-color="#f8bc37"/><stop offset="41.07%" stop-color="#f8bc37"/><stop offset="41.96%" stop-color="#cdc42d"/><stop offset="42.86%" stop-color="#82c752"/><stop offset="43.75%" stop-color="#e2c032"/><stop offset="44.64%" stop-color="#f3ec1e"/><stop offset="45.54%" stop-color="#f3ec1e"/><stop offset="46.43%" stop-color="#f3ec1e"/><stop offset="47.32%" stop-color="#cdc42d"/><stop offset="48.21%" stop-color="#32be9b"/><stop offset="49.11%" stop-color="#16b4d4"/><stop offset="50.00%" stop-color="#1e9ee1"/><stop offset="50.89%" stop-color="#1e9ee1"/><stop offset="51.79%" stop-color="#1e9ee1"/><stop offset="52.68%" stop-color="#1aa9da"/><stop offset="53.57%" stop-color="#16b4d4"/><stop offset="54.46%" stop-color="#24b9b8"/><stop offset="55.36%" stop-color="#32be9b"/><stop offset="56.25%" stop-color="#24b9b8"/><stop offset="57.14%" stop-color="#16b4d4"/><stop offset="58.04%" stop-color="#16b4d4"/><stop offset="58.93%" stop-color="#16b4d4"/><stop offset="59.82%" stop-color="#24b9b8"/><stop offset="60.71%" stop-color="#32be9b"/><stop offset="61.61%" stop-color="#82c752"/><stop offset="62.50%" stop-color="#cdc42d"/><stop offset="63.39%" stop-color="#32be9b"/><stop offset="64.29%" stop-color="#1e9ee1"/><stop offset="65.18%" stop-color="#5ac276"/><stop offset="66.07%" stop-color="#f8bc37"/><stop offset="66.96%" stop-color="#f8bc37"/><stop offset="67.86%" stop-color="#f8bc37"/><stop offset="68.75%" stop-color="#f8bc37"/><stop offset="69.64%" stop-color="#f8bc37"/><stop offset="70.54%" stop-color="#cdc42d"/><stop offset="71.43%" stop-color="#82c752"/><stop offset="72.32%" stop-color="#24b9b8"/><stop offset="73.21%" stop-color="#1e9ee1"/><stop offset="74.11%" stop-color="#1e9ee1"/><stop offset="75.00%" stop-color="#1e9ee1"/><stop offset="75.89%" stop-color="#1aa9da"/><stop offset="76.79%" stop-color="#16b4d4"/><stop offset="77.68%" stop-color="#1aa9da"/><stop offset="78.57%" stop-color="#1e9ee1"/><stop offset="79.46%" stop-color="#1aa9da"/><stop offset="80.36%" stop-color="#16b4d4"/><stop offset="81.25%" stop-color="#24b9b8"/><stop offset="82.14%" stop-color="#32be9b"/><stop offset="83.04%" stop-color="#24b9b8"/><stop offset="83.93%" stop-color="#16b4d4"/><stop offset="84.82%" stop-color="#24b9b8"/><stop offset="85.71%" stop-color="#32be9b"/><stop offset="86.61%" stop-color="#a8c640"/><stop offset="87.50%" stop-color="#f8bc37"/><stop offset="88.39%" stop-color="#f8bc37"/><stop offset="89.29%" stop-color="#f8bc37"/><stop offset="90.18%" stop-color="#5ac276"/><stop offset="91.07%" stop-color="#1e9ee1"/><stop offset="91.96%" stop-color="#1e9ee1"/><stop offset="92.86%" stop-color="#1e9ee1"/><stop offset="93.75%" stop-color="#3181d4"/><stop offset="94.64%" stop-color="#4464c8"/><stop offset="95.54%" stop-color="#1aa9da"/><stop offset="96.43%" stop-color="#32be9b"/><stop offset="97.32%" stop-color="#82c752"/><stop offset="98.21%" stop-color="#cdc42d"/><stop offset="99.11%" stop-color="#cdc42d"/><stop offset="100.00%" stop-color="#cdc42d"/></linearGradient><linearGradient id="gA9" gradientUnits="userSpaceOnUse" x1="156.0" y1="0" x2="1275.0" y2="0"><stop offset="0.00%" stop-color="#4464c8"/><stop offset="0.89%" stop-color="#455dc2"/><stop offset="1.79%" stop-color="#4656bd"/><stop offset="2.68%" stop-color="#455dc2"/><stop offset="3.57%" stop-color="#4464c8"/><stop offset="4.46%" stop-color="#2890db"/><stop offset="5.36%" stop-color="#1aa9da"/><stop offset="6.25%" stop-color="#6ec564"/><stop offset="7.14%" stop-color="#f8bc37"/><stop offset="8.04%" stop-color="#edbe34"/><stop offset="8.93%" stop-color="#e2c032"/><stop offset="9.82%" stop-color="#a8c640"/><stop offset="10.71%" stop-color="#5ac276"/><stop offset="11.61%" stop-color="#6ec564"/><stop offset="12.50%" stop-color="#82c752"/><stop offset="13.39%" stop-color="#82c752"/><stop offset="14.29%" stop-color="#82c752"/><stop offset="15.18%" stop-color="#5ac276"/><stop offset="16.07%" stop-color="#32be9b"/><stop offset="16.96%" stop-color="#24b9b8"/><stop offset="17.86%" stop-color="#16b4d4"/><stop offset="18.75%" stop-color="#1e9ee1"/><stop offset="19.64%" stop-color="#4464c8"/><stop offset="20.54%" stop-color="#1ca4de"/><stop offset="21.43%" stop-color="#24b9b8"/><stop offset="22.32%" stop-color="#32be9b"/><stop offset="23.21%" stop-color="#5ac276"/><stop offset="24.11%" stop-color="#cdc42d"/><stop offset="25.00%" stop-color="#f6d42a"/><stop offset="25.89%" stop-color="#f8bc37"/><stop offset="26.79%" stop-color="#e2c032"/><stop offset="27.68%" stop-color="#e2c032"/><stop offset="28.57%" stop-color="#e2c032"/><stop offset="29.46%" stop-color="#6ec564"/><stop offset="30.36%" stop-color="#16b4d4"/><stop offset="31.25%" stop-color="#2890db"/><stop offset="32.14%" stop-color="#4656bd"/><stop offset="33.04%" stop-color="#455dc2"/><stop offset="33.93%" stop-color="#4464c8"/><stop offset="34.82%" stop-color="#455dc2"/><stop offset="35.71%" stop-color="#4656bd"/><stop offset="36.61%" stop-color="#1e9ee1"/><stop offset="37.50%" stop-color="#24b9b8"/><stop offset="38.39%" stop-color="#95c649"/><stop offset="39.29%" stop-color="#f8bc37"/><stop offset="40.18%" stop-color="#f8bc37"/><stop offset="41.07%" stop-color="#f8bc37"/><stop offset="41.96%" stop-color="#d8c230"/><stop offset="42.86%" stop-color="#a8c640"/><stop offset="43.75%" stop-color="#edbe34"/><stop offset="44.64%" stop-color="#f3ec1e"/><stop offset="45.54%" stop-color="#f7c831"/><stop offset="46.43%" stop-color="#e2c032"/><stop offset="47.32%" stop-color="#82c752"/><stop offset="48.21%" stop-color="#24b9b8"/><stop offset="49.11%" stop-color="#18aed7"/><stop offset="50.00%" stop-color="#1e9ee1"/><stop offset="50.89%" stop-color="#2890db"/><stop offset="51.79%" stop-color="#3181d4"/><stop offset="52.68%" stop-color="#1e9ee1"/><stop offset="53.57%" stop-color="#1aa9da"/><stop offset="54.46%" stop-color="#1db6c6"/><stop offset="55.36%" stop-color="#32be9b"/><stop offset="56.25%" stop-color="#24b9b8"/><stop offset="57.14%" stop-color="#16b4d4"/><stop offset="58.04%" stop-color="#16b4d4"/><stop offset="58.93%" stop-color="#16b4d4"/><stop offset="59.82%" stop-color="#16b4d4"/><stop offset="60.71%" stop-color="#16b4d4"/><stop offset="61.61%" stop-color="#46c089"/><stop offset="62.50%" stop-color="#a8c640"/><stop offset="63.39%" stop-color="#1db6c6"/><stop offset="64.29%" stop-color="#4464c8"/><stop offset="65.18%" stop-color="#2bbca9"/><stop offset="66.07%" stop-color="#e2c032"/><stop offset="66.96%" stop-color="#edbe34"/><stop offset="67.86%" stop-color="#f8bc37"/><stop offset="68.75%" stop-color="#f8bc37"/><stop offset="69.64%" stop-color="#f8bc37"/><stop offset="70.54%" stop-color="#cdc42d"/><stop offset="71.43%" stop-color="#82c752"/><stop offset="72.32%" stop-color="#1db6c6"/><stop offset="73.21%" stop-color="#3181d4"/><stop offset="74.11%" stop-color="#2890db"/><stop offset="75.00%" stop-color="#1e9ee1"/><stop offset="75.89%" stop-color="#1aa9da"/><stop offset="76.79%" stop-color="#16b4d4"/><stop offset="77.68%" stop-color="#1ca4de"/><stop offset="78.57%" stop-color="#3181d4"/><stop offset="79.46%" stop-color="#1ca4de"/><stop offset="80.36%" stop-color="#16b4d4"/><stop offset="81.25%" stop-color="#24b9b8"/><stop offset="82.14%" stop-color="#32be9b"/><stop offset="83.04%" stop-color="#2bbca9"/><stop offset="83.93%" stop-color="#24b9b8"/><stop offset="84.82%" stop-color="#2bbca9"/><stop offset="85.71%" stop-color="#32be9b"/><stop offset="86.61%" stop-color="#95c649"/><stop offset="87.50%" stop-color="#e2c032"/><stop offset="88.39%" stop-color="#d8c230"/><stop offset="89.29%" stop-color="#cdc42d"/><stop offset="90.18%" stop-color="#46c089"/><stop offset="91.07%" stop-color="#1aa9da"/><stop offset="91.96%" stop-color="#1ca4de"/><stop offset="92.86%" stop-color="#1e9ee1"/><stop offset="93.75%" stop-color="#2890db"/><stop offset="94.64%" stop-color="#3181d4"/><stop offset="95.54%" stop-color="#18aed7"/><stop offset="96.43%" stop-color="#32be9b"/><stop offset="97.32%" stop-color="#82c752"/><stop offset="98.21%" stop-color="#cdc42d"/><stop offset="99.11%" stop-color="#bac536"/><stop offset="100.00%" stop-color="#a8c640"/></linearGradient><linearGradient id="gA10" gradientUnits="userSpaceOnUse" x1="156.0" y1="0" x2="1275.0" y2="0"><stop offset="0.00%" stop-color="#4464c8"/><stop offset="0.89%" stop-color="#4464c8"/><stop offset="1.79%" stop-color="#4464c8"/><stop offset="2.68%" stop-color="#4464c8"/><stop offset="3.57%" stop-color="#4464c8"/><stop offset="4.46%" stop-color="#3181d4"/><stop offset="5.36%" stop-color="#1e9ee1"/><stop offset="6.25%" stop-color="#5ac276"/><stop offset="7.14%" stop-color="#f8bc37"/><stop offset="8.04%" stop-color="#e2c032"/><stop offset="8.93%" stop-color="#cdc42d"/><stop offset="9.82%" stop-color="#a8c640"/><stop offset="10.71%" stop-color="#82c752"/><stop offset="11.61%" stop-color="#82c752"/><stop offset="12.50%" stop-color="#82c752"/><stop offset="13.39%" stop-color="#82c752"/><stop offset="14.29%" stop-color="#82c752"/><stop offset="15.18%" stop-color="#5ac276"/><stop offset="16.07%" stop-color="#32be9b"/><stop offset="16.96%" stop-color="#32be9b"/><stop offset="17.86%" stop-color="#32be9b"/><stop offset="18.75%" stop-color="#1aa9da"/><stop offset="19.64%" stop-color="#4464c8"/><stop offset="20.54%" stop-color="#1aa9da"/><stop offset="21.43%" stop-color="#32be9b"/><stop offset="22.32%" stop-color="#5ac276"/><stop offset="23.21%" stop-color="#82c752"/><stop offset="24.11%" stop-color="#cdc42d"/><stop offset="25.00%" stop-color="#f8bc37"/><stop offset="25.89%" stop-color="#e2c032"/><stop offset="26.79%" stop-color="#cdc42d"/><stop offset="27.68%" stop-color="#cdc42d"/><stop offset="28.57%" stop-color="#cdc42d"/><stop offset="29.46%" stop-color="#5ac276"/><stop offset="30.36%" stop-color="#16b4d4"/><stop offset="31.25%" stop-color="#1e9ee1"/><stop offset="32.14%" stop-color="#4464c8"/><stop offset="33.04%" stop-color="#4464c8"/><stop offset="33.93%" stop-color="#4464c8"/><stop offset="34.82%" stop-color="#4464c8"/><stop offset="35.71%" stop-color="#4464c8"/><stop offset="36.61%" stop-color="#1e9ee1"/><stop offset="37.50%" stop-color="#16b4d4"/><stop offset="38.39%" stop-color="#82c752"/><stop offset="39.29%" stop-color="#f8bc37"/><stop offset="40.18%" stop-color="#f8bc37"/><stop offset="41.07%" stop-color="#f8bc37"/><stop offset="41.96%" stop-color="#e2c032"/><stop offset="42.86%" stop-color="#cdc42d"/><stop offset="43.75%" stop-color="#f8bc37"/><stop offset="44.64%" stop-color="#f3ec1e"/><stop offset="45.54%" stop-color="#e2c032"/><stop offset="46.43%" stop-color="#82c752"/><stop offset="47.32%" stop-color="#32be9b"/><stop offset="48.21%" stop-color="#16b4d4"/><stop offset="49.11%" stop-color="#1aa9da"/><stop offset="50.00%" stop-color="#1e9ee1"/><stop offset="50.89%" stop-color="#3181d4"/><stop offset="51.79%" stop-color="#4464c8"/><stop offset="52.68%" stop-color="#3181d4"/><stop offset="53.57%" stop-color="#1e9ee1"/><stop offset="54.46%" stop-color="#16b4d4"/><stop offset="55.36%" stop-color="#32be9b"/><stop offset="56.25%" stop-color="#24b9b8"/><stop offset="57.14%" stop-color="#16b4d4"/><stop offset="58.04%" stop-color="#16b4d4"/><stop offset="58.93%" stop-color="#16b4d4"/><stop offset="59.82%" stop-color="#1aa9da"/><stop offset="60.71%" stop-color="#1e9ee1"/><stop offset="61.61%" stop-color="#24b9b8"/><stop offset="62.50%" stop-color="#82c752"/><stop offset="63.39%" stop-color="#1aa9da"/><stop offset="64.29%" stop-color="#4848b2"/><stop offset="65.18%" stop-color="#16b4d4"/><stop offset="66.07%" stop-color="#cdc42d"/><stop offset="66.96%" stop-color="#e2c032"/><stop offset="67.86%" stop-color="#f8bc37"/><stop offset="68.75%" stop-color="#f8bc37"/><stop offset="69.64%" stop-color="#f8bc37"/><stop offset="70.54%" stop-color="#cdc42d"/><stop offset="71.43%" stop-color="#82c752"/><stop offset="72.32%" stop-color="#16b4d4"/><stop offset="73.21%" stop-color="#4464c8"/><stop offset="74.11%" stop-color="#3181d4"/><stop offset="75.00%" stop-color="#1e9ee1"/><stop offset="75.89%" stop-color="#1aa9da"/><stop offset="76.79%" stop-color="#16b4d4"/><stop offset="77.68%" stop-color="#1e9ee1"/><stop offset="78.57%" stop-color="#4464c8"/><stop offset="79.46%" stop-color="#1e9ee1"/><stop offset="80.36%" stop-color="#16b4d4"/><stop offset="81.25%" stop-color="#24b9b8"/><stop offset="82.14%" stop-color="#32be9b"/><stop offset="83.04%" stop-color="#32be9b"/><stop offset="83.93%" stop-color="#32be9b"/><stop offset="84.82%" stop-color="#32be9b"/><stop offset="85.71%" stop-color="#32be9b"/><stop offset="86.61%" stop-color="#82c752"/><stop offset="87.50%" stop-color="#cdc42d"/><stop offset="88.39%" stop-color="#a8c640"/><stop offset="89.29%" stop-color="#82c752"/><stop offset="90.18%" stop-color="#32be9b"/><stop offset="91.07%" stop-color="#16b4d4"/><stop offset="91.96%" stop-color="#1aa9da"/><stop offset="92.86%" stop-color="#1e9ee1"/><stop offset="93.75%" stop-color="#1e9ee1"/><stop offset="94.64%" stop-color="#1e9ee1"/><stop offset="95.54%" stop-color="#16b4d4"/><stop offset="96.43%" stop-color="#32be9b"/><stop offset="97.32%" stop-color="#82c752"/><stop offset="98.21%" stop-color="#cdc42d"/><stop offset="99.11%" stop-color="#a8c640"/><stop offset="100.00%" stop-color="#82c752"/></linearGradient><linearGradient id="gA11" gradientUnits="userSpaceOnUse" x1="156.0" y1="0" x2="1275.0" y2="0"><stop offset="0.00%" stop-color="#3181d4"/><stop offset="0.89%" stop-color="#3a72ce"/><stop offset="1.79%" stop-color="#4464c8"/><stop offset="2.68%" stop-color="#4464c8"/><stop offset="3.57%" stop-color="#4464c8"/><stop offset="4.46%" stop-color="#3181d4"/><stop offset="5.36%" stop-color="#1e9ee1"/><stop offset="6.25%" stop-color="#32be9b"/><stop offset="7.14%" stop-color="#cdc42d"/><stop offset="8.04%" stop-color="#d8c230"/><stop offset="8.93%" stop-color="#e2c032"/><stop offset="9.82%" stop-color="#cdc42d"/><stop offset="10.71%" stop-color="#a8c640"/><stop offset="11.61%" stop-color="#95c649"/><stop offset="12.50%" stop-color="#82c752"/><stop offset="13.39%" stop-color="#6ec564"/><stop offset="14.29%" stop-color="#5ac276"/><stop offset="15.18%" stop-color="#46c089"/><stop offset="16.07%" stop-color="#32be9b"/><stop offset="16.96%" stop-color="#5ac276"/><stop offset="17.86%" stop-color="#82c752"/><stop offset="18.75%" stop-color="#46c089"/><stop offset="19.64%" stop-color="#24b9b8"/><stop offset="20.54%" stop-color="#32be9b"/><stop offset="21.43%" stop-color="#5ac276"/><stop offset="22.32%" stop-color="#5ac276"/><stop offset="23.21%" stop-color="#5ac276"/><stop offset="24.11%" stop-color="#5ac276"/><stop offset="25.00%" stop-color="#5ac276"/><stop offset="25.89%" stop-color="#82c752"/><stop offset="26.79%" stop-color="#a8c640"/><stop offset="27.68%" stop-color="#a8c640"/><stop offset="28.57%" stop-color="#a8c640"/><stop offset="29.46%" stop-color="#46c089"/><stop offset="30.36%" stop-color="#16b4d4"/><stop offset="31.25%" stop-color="#1ca4de"/><stop offset="32.14%" stop-color="#3181d4"/><stop offset="33.04%" stop-color="#3a72ce"/><stop offset="33.93%" stop-color="#4464c8"/><stop offset="34.82%" stop-color="#3a72ce"/><stop offset="35.71%" stop-color="#3181d4"/><stop offset="36.61%" stop-color="#1ca4de"/><stop offset="37.50%" stop-color="#16b4d4"/><stop offset="38.39%" stop-color="#82c752"/><stop offset="39.29%" stop-color="#f8bc37"/><stop offset="40.18%" stop-color="#f8bc37"/><stop offset="41.07%" stop-color="#f8bc37"/><stop offset="41.96%" stop-color="#e2c032"/><stop offset="42.86%" stop-color="#cdc42d"/><stop offset="43.75%" stop-color="#edbe34"/><stop offset="44.64%" stop-color="#f6d42a"/><stop offset="45.54%" stop-color="#d8c230"/><stop offset="46.43%" stop-color="#82c752"/><stop offset="47.32%" stop-color="#2bbca9"/><stop offset="48.21%" stop-color="#1aa9da"/><stop offset="49.11%" stop-color="#1ca4de"/><stop offset="50.00%" stop-color="#1e9ee1"/><stop offset="50.89%" stop-color="#3181d4"/><stop offset="51.79%" stop-color="#4464c8"/><stop offset="52.68%" stop-color="#3a72ce"/><stop offset="53.57%" stop-color="#3181d4"/><stop offset="54.46%" stop-color="#1ca4de"/><stop offset="55.36%" stop-color="#16b4d4"/><stop offset="56.25%" stop-color="#16b4d4"/><stop offset="57.14%" stop-color="#16b4d4"/><stop offset="58.04%" stop-color="#18aed7"/><stop offset="58.93%" stop-color="#1aa9da"/><stop offset="59.82%" stop-color="#1ca4de"/><stop offset="60.71%" stop-color="#1e9ee1"/><stop offset="61.61%" stop-color="#1db6c6"/><stop offset="62.50%" stop-color="#5ac276"/><stop offset="63.39%" stop-color="#1aa9da"/><stop offset="64.29%" stop-color="#4656bd"/><stop offset="65.18%" stop-color="#16b4d4"/><stop offset="66.07%" stop-color="#a8c640"/><stop offset="66.96%" stop-color="#d8c230"/><stop offset="67.86%" stop-color="#f8bc37"/><stop offset="68.75%" stop-color="#f8bc37"/><stop offset="69.64%" stop-color="#f8bc37"/><stop offset="70.54%" stop-color="#cdc42d"/><stop offset="71.43%" stop-color="#82c752"/><stop offset="72.32%" stop-color="#16b4d4"/><stop offset="73.21%" stop-color="#4464c8"/><stop offset="74.11%" stop-color="#3181d4"/><stop offset="75.00%" stop-color="#1e9ee1"/><stop offset="75.89%" stop-color="#1aa9da"/><stop offset="76.79%" stop-color="#16b4d4"/><stop offset="77.68%" stop-color="#2890db"/><stop offset="78.57%" stop-color="#4656bd"/><stop offset="79.46%" stop-color="#2890db"/><stop offset="80.36%" stop-color="#16b4d4"/><stop offset="81.25%" stop-color="#24b9b8"/><stop offset="82.14%" stop-color="#32be9b"/><stop offset="83.04%" stop-color="#46c089"/><stop offset="83.93%" stop-color="#5ac276"/><stop offset="84.82%" stop-color="#5ac276"/><stop offset="85.71%" stop-color="#5ac276"/><stop offset="86.61%" stop-color="#95c649"/><stop offset="87.50%" stop-color="#cdc42d"/><stop offset="88.39%" stop-color="#95c649"/><stop offset="89.29%" stop-color="#5ac276"/><stop offset="90.18%" stop-color="#2bbca9"/><stop offset="91.07%" stop-color="#16b4d4"/><stop offset="91.96%" stop-color="#16b4d4"/><stop offset="92.86%" stop-color="#16b4d4"/><stop offset="93.75%" stop-color="#18aed7"/><stop offset="94.64%" stop-color="#1aa9da"/><stop offset="95.54%" stop-color="#24b9b8"/><stop offset="96.43%" stop-color="#5ac276"/><stop offset="97.32%" stop-color="#82c752"/><stop offset="98.21%" stop-color="#a8c640"/><stop offset="99.11%" stop-color="#95c649"/><stop offset="100.00%" stop-color="#82c752"/></linearGradient><linearGradient id="gA12" gradientUnits="userSpaceOnUse" x1="156.0" y1="0" x2="1275.0" y2="0"><stop offset="0.00%" stop-color="#1e9ee1"/><stop offset="0.89%" stop-color="#3181d4"/><stop offset="1.79%" stop-color="#4464c8"/><stop offset="2.68%" stop-color="#4464c8"/><stop offset="3.57%" stop-color="#4464c8"/><stop offset="4.46%" stop-color="#3181d4"/><stop offset="5.36%" stop-color="#1e9ee1"/><stop offset="6.25%" stop-color="#24b9b8"/><stop offset="7.14%" stop-color="#82c752"/><stop offset="8.04%" stop-color="#cdc42d"/><stop offset="8.93%" stop-color="#f8bc37"/><stop offset="9.82%" stop-color="#e2c032"/><stop offset="10.71%" stop-color="#cdc42d"/><stop offset="11.61%" stop-color="#a8c640"/><stop offset="12.50%" stop-color="#82c752"/><stop offset="13.39%" stop-color="#5ac276"/><stop offset="14.29%" stop-color="#32be9b"/><stop offset="15.18%" stop-color="#32be9b"/><stop offset="16.07%" stop-color="#32be9b"/><stop offset="16.96%" stop-color="#82c752"/><stop offset="17.86%" stop-color="#cdc42d"/><stop offset="18.75%" stop-color="#cdc42d"/><stop offset="19.64%" stop-color="#cdc42d"/><stop offset="20.54%" stop-color="#a8c640"/><stop offset="21.43%" stop-color="#82c752"/><stop offset="22.32%" stop-color="#5ac276"/><stop offset="23.21%" stop-color="#32be9b"/><stop offset="24.11%" stop-color="#16b4d4"/><stop offset="25.00%" stop-color="#1e9ee1"/><stop offset="25.89%" stop-color="#24b9b8"/><stop offset="26.79%" stop-color="#82c752"/><stop offset="27.68%" stop-color="#82c752"/><stop offset="28.57%" stop-color="#82c752"/><stop offset="29.46%" stop-color="#32be9b"/><stop offset="30.36%" stop-color="#16b4d4"/><stop offset="31.25%" stop-color="#1aa9da"/><stop offset="32.14%" stop-color="#1e9ee1"/><stop offset="33.04%" stop-color="#3181d4"/><stop offset="33.93%" stop-color="#4464c8"/><stop offset="34.82%" stop-color="#3181d4"/><stop offset="35.71%" stop-color="#1e9ee1"/><stop offset="36.61%" stop-color="#1aa9da"/><stop offset="37.50%" stop-color="#16b4d4"/><stop offset="38.39%" stop-color="#82c752"/><stop offset="39.29%" stop-color="#f8bc37"/><stop offset="40.18%" stop-color="#f8bc37"/><stop offset="41.07%" stop-color="#f8bc37"/><stop offset="41.96%" stop-color="#e2c032"/><stop offset="42.86%" stop-color="#cdc42d"/><stop offset="43.75%" stop-color="#e2c032"/><stop offset="44.64%" stop-color="#f8bc37"/><stop offset="45.54%" stop-color="#cdc42d"/><stop offset="46.43%" stop-color="#82c752"/><stop offset="47.32%" stop-color="#24b9b8"/><stop offset="48.21%" stop-color="#1e9ee1"/><stop offset="49.11%" stop-color="#1e9ee1"/><stop offset="50.00%" stop-color="#1e9ee1"/><stop offset="50.89%" stop-color="#3181d4"/><stop offset="51.79%" stop-color="#4464c8"/><stop offset="52.68%" stop-color="#4464c8"/><stop offset="53.57%" stop-color="#4464c8"/><stop offset="54.46%" stop-color="#3181d4"/><stop offset="55.36%" stop-color="#1e9ee1"/><stop offset="56.25%" stop-color="#1aa9da"/><stop offset="57.14%" stop-color="#16b4d4"/><stop offset="58.04%" stop-color="#1aa9da"/><stop offset="58.93%" stop-color="#1e9ee1"/><stop offset="59.82%" stop-color="#1e9ee1"/><stop offset="60.71%" stop-color="#1e9ee1"/><stop offset="61.61%" stop-color="#16b4d4"/><stop offset="62.50%" stop-color="#32be9b"/><stop offset="63.39%" stop-color="#1aa9da"/><stop offset="64.29%" stop-color="#4464c8"/><stop offset="65.18%" stop-color="#16b4d4"/><stop offset="66.07%" stop-color="#82c752"/><stop offset="66.96%" stop-color="#cdc42d"/><stop offset="67.86%" stop-color="#f8bc37"/><stop offset="68.75%" stop-color="#f8bc37"/><stop offset="69.64%" stop-color="#f8bc37"/><stop offset="70.54%" stop-color="#cdc42d"/><stop offset="71.43%" stop-color="#82c752"/><stop offset="72.32%" stop-color="#16b4d4"/><stop offset="73.21%" stop-color="#4464c8"/><stop offset="74.11%" stop-color="#3181d4"/><stop offset="75.00%" stop-color="#1e9ee1"/><stop offset="75.89%" stop-color="#1aa9da"/><stop offset="76.79%" stop-color="#16b4d4"/><stop offset="77.68%" stop-color="#3181d4"/><stop offset="78.57%" stop-color="#4848b2"/><stop offset="79.46%" stop-color="#3181d4"/><stop offset="80.36%" stop-color="#16b4d4"/><stop offset="81.25%" stop-color="#24b9b8"/><stop offset="82.14%" stop-color="#32be9b"/><stop offset="83.04%" stop-color="#5ac276"/><stop offset="83.93%" stop-color="#82c752"/><stop offset="84.82%" stop-color="#82c752"/><stop offset="85.71%" stop-color="#82c752"/><stop offset="86.61%" stop-color="#a8c640"/><stop offset="87.50%" stop-color="#cdc42d"/><stop offset="88.39%" stop-color="#82c752"/><stop offset="89.29%" stop-color="#32be9b"/><stop offset="90.18%" stop-color="#24b9b8"/><stop offset="91.07%" stop-color="#16b4d4"/><stop offset="91.96%" stop-color="#24b9b8"/><stop offset="92.86%" stop-color="#32be9b"/><stop offset="93.75%" stop-color="#24b9b8"/><stop offset="94.64%" stop-color="#16b4d4"/><stop offset="95.54%" stop-color="#32be9b"/><stop offset="96.43%" stop-color="#82c752"/><stop offset="97.32%" stop-color="#82c752"/><stop offset="98.21%" stop-color="#82c752"/><stop offset="99.11%" stop-color="#82c752"/><stop offset="100.00%" stop-color="#82c752"/></linearGradient><linearGradient id="gA13" gradientUnits="userSpaceOnUse" x1="156.0" y1="0" x2="1275.0" y2="0"><stop offset="0.00%" stop-color="#3181d4"/><stop offset="0.89%" stop-color="#3181d4"/><stop offset="1.79%" stop-color="#3181d4"/><stop offset="2.68%" stop-color="#3181d4"/><stop offset="3.57%" stop-color="#3181d4"/><stop offset="4.46%" stop-color="#1e9ee1"/><stop offset="5.36%" stop-color="#1aa9da"/><stop offset="6.25%" stop-color="#18aed7"/><stop offset="7.14%" stop-color="#16b4d4"/><stop offset="8.04%" stop-color="#95c649"/><stop offset="8.93%" stop-color="#f6d42a"/><stop offset="9.82%" stop-color="#edbe34"/><stop offset="10.71%" stop-color="#cdc42d"/><stop offset="11.61%" stop-color="#95c649"/><stop offset="12.50%" stop-color="#5ac276"/><stop offset="13.39%" stop-color="#46c089"/><stop offset="14.29%" stop-color="#32be9b"/><stop offset="15.18%" stop-color="#32be9b"/><stop offset="16.07%" stop-color="#32be9b"/><stop offset="16.96%" stop-color="#82c752"/><stop offset="17.86%" stop-color="#cdc42d"/><stop offset="18.75%" stop-color="#d8c230"/><stop offset="19.64%" stop-color="#e2c032"/><stop offset="20.54%" stop-color="#d8c230"/><stop offset="21.43%" stop-color="#cdc42d"/><stop offset="22.32%" stop-color="#bac536"/><stop offset="23.21%" stop-color="#a8c640"/><stop offset="24.11%" stop-color="#46c089"/><stop offset="25.00%" stop-color="#16b4d4"/><stop offset="25.89%" stop-color="#16b4d4"/><stop offset="26.79%" stop-color="#16b4d4"/><stop offset="27.68%" stop-color="#1db6c6"/><stop offset="28.57%" stop-color="#24b9b8"/><stop offset="29.46%" stop-color="#24b9b8"/><stop offset="30.36%" stop-color="#24b9b8"/><stop offset="31.25%" stop-color="#16b4d4"/><stop offset="32.14%" stop-color="#1aa9da"/><stop offset="33.04%" stop-color="#1e9ee1"/><stop offset="33.93%" stop-color="#3181d4"/><stop offset="34.82%" stop-color="#2890db"/><stop offset="35.71%" stop-color="#1e9ee1"/><stop offset="36.61%" stop-color="#1aa9da"/><stop offset="37.50%" stop-color="#16b4d4"/><stop offset="38.39%" stop-color="#5ac276"/><stop offset="39.29%" stop-color="#cdc42d"/><stop offset="40.18%" stop-color="#e2c032"/><stop offset="41.07%" stop-color="#f8bc37"/><stop offset="41.96%" stop-color="#edbe34"/><stop offset="42.86%" stop-color="#e2c032"/><stop offset="43.75%" stop-color="#edbe34"/><stop offset="44.64%" stop-color="#f8bc37"/><stop offset="45.54%" stop-color="#bac536"/><stop offset="46.43%" stop-color="#5ac276"/><stop offset="47.32%" stop-color="#24b9b8"/><stop offset="48.21%" stop-color="#1aa9da"/><stop offset="49.11%" stop-color="#1aa9da"/><stop offset="50.00%" stop-color="#1aa9da"/><stop offset="50.89%" stop-color="#1e9ee1"/><stop offset="51.79%" stop-color="#3181d4"/><stop offset="52.68%" stop-color="#2890db"/><stop offset="53.57%" stop-color="#1e9ee1"/><stop offset="54.46%" stop-color="#1e9ee1"/><stop offset="55.36%" stop-color="#1e9ee1"/><stop offset="56.25%" stop-color="#1aa9da"/><stop offset="57.14%" stop-color="#16b4d4"/><stop offset="58.04%" stop-color="#18aed7"/><stop offset="58.93%" stop-color="#1aa9da"/><stop offset="59.82%" stop-color="#1aa9da"/><stop offset="60.71%" stop-color="#1aa9da"/><stop offset="61.61%" stop-color="#16b4d4"/><stop offset="62.50%" stop-color="#24b9b8"/><stop offset="63.39%" stop-color="#1ca4de"/><stop offset="64.29%" stop-color="#4464c8"/><stop offset="65.18%" stop-color="#18aed7"/><stop offset="66.07%" stop-color="#5ac276"/><stop offset="66.96%" stop-color="#bac536"/><stop offset="67.86%" stop-color="#f8bc37"/><stop offset="68.75%" stop-color="#f8bc37"/><stop offset="69.64%" stop-color="#f8bc37"/><stop offset="70.54%" stop-color="#d8c230"/><stop offset="71.43%" stop-color="#a8c640"/><stop offset="72.32%" stop-color="#24b9b8"/><stop offset="73.21%" stop-color="#3181d4"/><stop offset="74.11%" stop-color="#2890db"/><stop offset="75.00%" stop-color="#1e9ee1"/><stop offset="75.89%" stop-color="#1aa9da"/><stop offset="76.79%" stop-color="#16b4d4"/><stop offset="77.68%" stop-color="#3181d4"/><stop offset="78.57%" stop-color="#4848b2"/><stop offset="79.46%" stop-color="#3181d4"/><stop offset="80.36%" stop-color="#16b4d4"/><stop offset="81.25%" stop-color="#24b9b8"/><stop offset="82.14%" stop-color="#32be9b"/><stop offset="83.04%" stop-color="#5ac276"/><stop offset="83.93%" stop-color="#82c752"/><stop offset="84.82%" stop-color="#95c649"/><stop offset="85.71%" stop-color="#a8c640"/><stop offset="86.61%" stop-color="#6ec564"/><stop offset="87.50%" stop-color="#32be9b"/><stop offset="88.39%" stop-color="#2bbca9"/><stop offset="89.29%" stop-color="#24b9b8"/><stop offset="90.18%" stop-color="#2bbca9"/><stop offset="91.07%" stop-color="#32be9b"/><stop offset="91.96%" stop-color="#5ac276"/><stop offset="92.86%" stop-color="#82c752"/><stop offset="93.75%" stop-color="#46c089"/><stop offset="94.64%" stop-color="#24b9b8"/><stop offset="95.54%" stop-color="#46c089"/><stop offset="96.43%" stop-color="#82c752"/><stop offset="97.32%" stop-color="#6ec564"/><stop offset="98.21%" stop-color="#5ac276"/><stop offset="99.11%" stop-color="#5ac276"/><stop offset="100.00%" stop-color="#5ac276"/></linearGradient><linearGradient id="gA14" gradientUnits="userSpaceOnUse" x1="156.0" y1="0" x2="1275.0" y2="0"><stop offset="0.00%" stop-color="#4464c8"/><stop offset="0.89%" stop-color="#3181d4"/><stop offset="1.79%" stop-color="#1e9ee1"/><stop offset="2.68%" stop-color="#1e9ee1"/><stop offset="3.57%" stop-color="#1e9ee1"/><stop offset="4.46%" stop-color="#1aa9da"/><stop offset="5.36%" stop-color="#16b4d4"/><stop offset="6.25%" stop-color="#1e9ee1"/><stop offset="7.14%" stop-color="#4464c8"/><stop offset="8.04%" stop-color="#5ac276"/><stop offset="8.93%" stop-color="#f3ec1e"/><stop offset="9.82%" stop-color="#f8bc37"/><stop offset="10.71%" stop-color="#cdc42d"/><stop offset="11.61%" stop-color="#82c752"/><stop offset="12.50%" stop-color="#32be9b"/><stop offset="13.39%" stop-color="#32be9b"/><stop offset="14.29%" stop-color="#32be9b"/><stop offset="15.18%" stop-color="#32be9b"/><stop offset="16.07%" stop-color="#32be9b"/><stop offset="16.96%" stop-color="#82c752"/><stop offset="17.86%" stop-color="#cdc42d"/><stop offset="18.75%" stop-color="#e2c032"/><stop offset="19.64%" stop-color="#f8bc37"/><stop offset="20.54%" stop-color="#f8bc37"/><stop offset="21.43%" stop-color="#f8bc37"/><stop offset="22.32%" stop-color="#f8bc37"/><stop offset="23.21%" stop-color="#f8bc37"/><stop offset="24.11%" stop-color="#a8c640"/><stop offset="25.00%" stop-color="#32be9b"/><stop offset="25.89%" stop-color="#1aa9da"/><stop offset="26.79%" stop-color="#4464c8"/><stop offset="27.68%" stop-color="#3181d4"/><stop offset="28.57%" stop-color="#1e9ee1"/><stop offset="29.46%" stop-color="#16b4d4"/><stop offset="30.36%" stop-color="#32be9b"/><stop offset="31.25%" stop-color="#24b9b8"/><stop offset="32.14%" stop-color="#16b4d4"/><stop offset="33.04%" stop-color="#1aa9da"/><stop offset="33.93%" stop-color="#1e9ee1"/><stop offset="34.82%" stop-color="#1e9ee1"/><stop offset="35.71%" stop-color="#1e9ee1"/><stop offset="36.61%" stop-color="#1aa9da"/><stop offset="37.50%" stop-color="#16b4d4"/><stop offset="38.39%" stop-color="#32be9b"/><stop offset="39.29%" stop-color="#82c752"/><stop offset="40.18%" stop-color="#cdc42d"/><stop offset="41.07%" stop-color="#f8bc37"/><stop offset="41.96%" stop-color="#f8bc37"/><stop offset="42.86%" stop-color="#f8bc37"/><stop offset="43.75%" stop-color="#f8bc37"/><stop offset="44.64%" stop-color="#f8bc37"/><stop offset="45.54%" stop-color="#a8c640"/><stop offset="46.43%" stop-color="#32be9b"/><stop offset="47.32%" stop-color="#24b9b8"/><stop offset="48.21%" stop-color="#16b4d4"/><stop offset="49.11%" stop-color="#16b4d4"/><stop offset="50.00%" stop-color="#16b4d4"/><stop offset="50.89%" stop-color="#1aa9da"/><stop offset="51.79%" stop-color="#1e9ee1"/><stop offset="52.68%" stop-color="#1aa9da"/><stop offset="53.57%" stop-color="#16b4d4"/><stop offset="54.46%" stop-color="#1aa9da"/><stop offset="55.36%" stop-color="#1e9ee1"/><stop offset="56.25%" stop-color="#1aa9da"/><stop offset="57.14%" stop-color="#16b4d4"/><stop offset="58.04%" stop-color="#16b4d4"/><stop offset="58.93%" stop-color="#16b4d4"/><stop offset="59.82%" stop-color="#16b4d4"/><stop offset="60.71%" stop-color="#16b4d4"/><stop offset="61.61%" stop-color="#16b4d4"/><stop offset="62.50%" stop-color="#16b4d4"/><stop offset="63.39%" stop-color="#1e9ee1"/><stop offset="64.29%" stop-color="#4464c8"/><stop offset="65.18%" stop-color="#1aa9da"/><stop offset="66.07%" stop-color="#32be9b"/><stop offset="66.96%" stop-color="#a8c640"/><stop offset="67.86%" stop-color="#f8bc37"/><stop offset="68.75%" stop-color="#f8bc37"/><stop offset="69.64%" stop-color="#f8bc37"/><stop offset="70.54%" stop-color="#e2c032"/><stop offset="71.43%" stop-color="#cdc42d"/><stop offset="72.32%" stop-color="#32be9b"/><stop offset="73.21%" stop-color="#1e9ee1"/><stop offset="74.11%" stop-color="#1e9ee1"/><stop offset="75.00%" stop-color="#1e9ee1"/><stop offset="75.89%" stop-color="#1aa9da"/><stop offset="76.79%" stop-color="#16b4d4"/><stop offset="77.68%" stop-color="#3181d4"/><stop offset="78.57%" stop-color="#4848b2"/><stop offset="79.46%" stop-color="#3181d4"/><stop offset="80.36%" stop-color="#16b4d4"/><stop offset="81.25%" stop-color="#24b9b8"/><stop offset="82.14%" stop-color="#32be9b"/><stop offset="83.04%" stop-color="#5ac276"/><stop offset="83.93%" stop-color="#82c752"/><stop offset="84.82%" stop-color="#a8c640"/><stop offset="85.71%" stop-color="#cdc42d"/><stop offset="86.61%" stop-color="#32be9b"/><stop offset="87.50%" stop-color="#1e9ee1"/><stop offset="88.39%" stop-color="#1aa9da"/><stop offset="89.29%" stop-color="#16b4d4"/><stop offset="90.18%" stop-color="#32be9b"/><stop offset="91.07%" stop-color="#82c752"/><stop offset="91.96%" stop-color="#a8c640"/><stop offset="92.86%" stop-color="#cdc42d"/><stop offset="93.75%" stop-color="#82c752"/><stop offset="94.64%" stop-color="#32be9b"/><stop offset="95.54%" stop-color="#5ac276"/><stop offset="96.43%" stop-color="#82c752"/><stop offset="97.32%" stop-color="#5ac276"/><stop offset="98.21%" stop-color="#32be9b"/><stop offset="99.11%" stop-color="#32be9b"/><stop offset="100.00%" stop-color="#32be9b"/></linearGradient><linearGradient id="gA15" gradientUnits="userSpaceOnUse" x1="156.0" y1="0" x2="1275.0" y2="0"><stop offset="0.00%" stop-color="#3181d4"/><stop offset="0.89%" stop-color="#2890db"/><stop offset="1.79%" stop-color="#1e9ee1"/><stop offset="2.68%" stop-color="#1e9ee1"/><stop offset="3.57%" stop-color="#1e9ee1"/><stop offset="4.46%" stop-color="#1db6c6"/><stop offset="5.36%" stop-color="#5ac276"/><stop offset="6.25%" stop-color="#46c089"/><stop offset="7.14%" stop-color="#32be9b"/><stop offset="8.04%" stop-color="#cdc42d"/><stop offset="8.93%" stop-color="#f3ec1e"/><stop offset="9.82%" stop-color="#f6d42a"/><stop offset="10.71%" stop-color="#f8bc37"/><stop offset="11.61%" stop-color="#bac536"/><stop offset="12.50%" stop-color="#5ac276"/><stop offset="13.39%" stop-color="#46c089"/><stop offset="14.29%" stop-color="#32be9b"/><stop offset="15.18%" stop-color="#32be9b"/><stop offset="16.07%" stop-color="#32be9b"/><stop offset="16.96%" stop-color="#82c752"/><stop offset="17.86%" stop-color="#cdc42d"/><stop offset="18.75%" stop-color="#edbe34"/><stop offset="19.64%" stop-color="#f6d42a"/><stop offset="20.54%" stop-color="#f7c831"/><stop offset="21.43%" stop-color="#f8bc37"/><stop offset="22.32%" stop-color="#f8bc37"/><stop offset="23.21%" stop-color="#f8bc37"/><stop offset="24.11%" stop-color="#e2c032"/><stop offset="25.00%" stop-color="#cdc42d"/><stop offset="25.89%" stop-color="#2bbca9"/><stop offset="26.79%" stop-color="#3181d4"/><stop offset="27.68%" stop-color="#2890db"/><stop offset="28.57%" stop-color="#1e9ee1"/><stop offset="29.46%" stop-color="#16b4d4"/><stop offset="30.36%" stop-color="#32be9b"/><stop offset="31.25%" stop-color="#24b9b8"/><stop offset="32.14%" stop-color="#16b4d4"/><stop offset="33.04%" stop-color="#1aa9da"/><stop offset="33.93%" stop-color="#1e9ee1"/><stop offset="34.82%" stop-color="#1e9ee1"/><stop offset="35.71%" stop-color="#1e9ee1"/><stop offset="36.61%" stop-color="#1e9ee1"/><stop offset="37.50%" stop-color="#1e9ee1"/><stop offset="38.39%" stop-color="#1db6c6"/><stop offset="39.29%" stop-color="#5ac276"/><stop offset="40.18%" stop-color="#bac536"/><stop offset="41.07%" stop-color="#f8bc37"/><stop offset="41.96%" stop-color="#f7c831"/><stop offset="42.86%" stop-color="#f6d42a"/><stop offset="43.75%" stop-color="#f7c831"/><stop offset="44.64%" stop-color="#f8bc37"/><stop offset="45.54%" stop-color="#bac536"/><stop offset="46.43%" stop-color="#5ac276"/><stop offset="47.32%" stop-color="#2bbca9"/><stop offset="48.21%" stop-color="#16b4d4"/><stop offset="49.11%" stop-color="#16b4d4"/><stop offset="50.00%" stop-color="#16b4d4"/><stop offset="50.89%" stop-color="#18aed7"/><stop offset="51.79%" stop-color="#1aa9da"/><stop offset="52.68%" stop-color="#18aed7"/><stop offset="53.57%" stop-color="#16b4d4"/><stop offset="54.46%" stop-color="#1aa9da"/><stop offset="55.36%" stop-color="#1e9ee1"/><stop offset="56.25%" stop-color="#1aa9da"/><stop offset="57.14%" stop-color="#16b4d4"/><stop offset="58.04%" stop-color="#16b4d4"/><stop offset="58.93%" stop-color="#16b4d4"/><stop offset="59.82%" stop-color="#16b4d4"/><stop offset="60.71%" stop-color="#16b4d4"/><stop offset="61.61%" stop-color="#16b4d4"/><stop offset="62.50%" stop-color="#16b4d4"/><stop offset="63.39%" stop-color="#1e9ee1"/><stop offset="64.29%" stop-color="#4464c8"/><stop offset="65.18%" stop-color="#18aed7"/><stop offset="66.07%" stop-color="#5ac276"/><stop offset="66.96%" stop-color="#bac536"/><stop offset="67.86%" stop-color="#f8bc37"/><stop offset="68.75%" stop-color="#f8bc37"/><stop offset="69.64%" stop-color="#f8bc37"/><stop offset="70.54%" stop-color="#e2c032"/><stop offset="71.43%" stop-color="#cdc42d"/><stop offset="72.32%" stop-color="#32be9b"/><stop offset="73.21%" stop-color="#1e9ee1"/><stop offset="74.11%" stop-color="#1ca4de"/><stop offset="75.00%" stop-color="#1aa9da"/><stop offset="75.89%" stop-color="#18aed7"/><stop offset="76.79%" stop-color="#16b4d4"/><stop offset="77.68%" stop-color="#2890db"/><stop offset="78.57%" stop-color="#4656bd"/><stop offset="79.46%" stop-color="#2890db"/><stop offset="80.36%" stop-color="#16b4d4"/><stop offset="81.25%" stop-color="#24b9b8"/><stop offset="82.14%" stop-color="#32be9b"/><stop offset="83.04%" stop-color="#5ac276"/><stop offset="83.93%" stop-color="#82c752"/><stop offset="84.82%" stop-color="#a8c640"/><stop offset="85.71%" stop-color="#cdc42d"/><stop offset="86.61%" stop-color="#32be9b"/><stop offset="87.50%" stop-color="#1e9ee1"/><stop offset="88.39%" stop-color="#1ca4de"/><stop offset="89.29%" stop-color="#1aa9da"/><stop offset="90.18%" stop-color="#2bbca9"/><stop offset="91.07%" stop-color="#82c752"/><stop offset="91.96%" stop-color="#a8c640"/><stop offset="92.86%" stop-color="#cdc42d"/><stop offset="93.75%" stop-color="#95c649"/><stop offset="94.64%" stop-color="#5ac276"/><stop offset="95.54%" stop-color="#6ec564"/><stop offset="96.43%" stop-color="#82c752"/><stop offset="97.32%" stop-color="#5ac276"/><stop offset="98.21%" stop-color="#32be9b"/><stop offset="99.11%" stop-color="#2bbca9"/><stop offset="100.00%" stop-color="#24b9b8"/></linearGradient><linearGradient id="gA16" gradientUnits="userSpaceOnUse" x1="156.0" y1="0" x2="1275.0" y2="0"><stop offset="0.00%" stop-color="#1e9ee1"/><stop offset="0.89%" stop-color="#1e9ee1"/><stop offset="1.79%" stop-color="#1e9ee1"/><stop offset="2.68%" stop-color="#1e9ee1"/><stop offset="3.57%" stop-color="#1e9ee1"/><stop offset="4.46%" stop-color="#32be9b"/><stop offset="5.36%" stop-color="#cdc42d"/><stop offset="6.25%" stop-color="#e2c032"/><stop offset="7.14%" stop-color="#f8bc37"/><stop offset="8.04%" stop-color="#f6d42a"/><stop offset="8.93%" stop-color="#f3ec1e"/><stop offset="9.82%" stop-color="#f3ec1e"/><stop offset="10.71%" stop-color="#f3ec1e"/><stop offset="11.61%" stop-color="#e2c032"/><stop offset="12.50%" stop-color="#82c752"/><stop offset="13.39%" stop-color="#5ac276"/><stop offset="14.29%" stop-color="#32be9b"/><stop offset="15.18%" stop-color="#32be9b"/><stop offset="16.07%" stop-color="#32be9b"/><stop offset="16.96%" stop-color="#82c752"/><stop offset="17.86%" stop-color="#cdc42d"/><stop offset="18.75%" stop-color="#f8bc37"/><stop offset="19.64%" stop-color="#f3ec1e"/><stop offset="20.54%" stop-color="#f6d42a"/><stop offset="21.43%" stop-color="#f8bc37"/><stop offset="22.32%" stop-color="#f8bc37"/><stop offset="23.21%" stop-color="#f8bc37"/><stop offset="24.11%" stop-color="#f6d42a"/><stop offset="25.00%" stop-color="#f3ec1e"/><stop offset="25.89%" stop-color="#82c752"/><stop offset="26.79%" stop-color="#1e9ee1"/><stop offset="27.68%" stop-color="#1e9ee1"/><stop offset="28.57%" stop-color="#1e9ee1"/><stop offset="29.46%" stop-color="#16b4d4"/><stop offset="30.36%" stop-color="#32be9b"/><stop offset="31.25%" stop-color="#24b9b8"/><stop offset="32.14%" stop-color="#16b4d4"/><stop offset="33.04%" stop-color="#1aa9da"/><stop offset="33.93%" stop-color="#1e9ee1"/><stop offset="34.82%" stop-color="#1e9ee1"/><stop offset="35.71%" stop-color="#1e9ee1"/><stop offset="36.61%" stop-color="#3181d4"/><stop offset="37.50%" stop-color="#4464c8"/><stop offset="38.39%" stop-color="#1aa9da"/><stop offset="39.29%" stop-color="#32be9b"/><stop offset="40.18%" stop-color="#a8c640"/><stop offset="41.07%" stop-color="#f8bc37"/><stop offset="41.96%" stop-color="#f6d42a"/><stop offset="42.86%" stop-color="#f3ec1e"/><stop offset="43.75%" stop-color="#f6d42a"/><stop offset="44.64%" stop-color="#f8bc37"/><stop offset="45.54%" stop-color="#cdc42d"/><stop offset="46.43%" stop-color="#82c752"/><stop offset="47.32%" stop-color="#32be9b"/><stop offset="48.21%" stop-color="#16b4d4"/><stop offset="49.11%" stop-color="#16b4d4"/><stop offset="50.00%" stop-color="#16b4d4"/><stop offset="50.89%" stop-color="#16b4d4"/><stop offset="51.79%" stop-color="#16b4d4"/><stop offset="52.68%" stop-color="#16b4d4"/><stop offset="53.57%" stop-color="#16b4d4"/><stop offset="54.46%" stop-color="#1aa9da"/><stop offset="55.36%" stop-color="#1e9ee1"/><stop offset="56.25%" stop-color="#1aa9da"/><stop offset="57.14%" stop-color="#16b4d4"/><stop offset="58.04%" stop-color="#16b4d4"/><stop offset="58.93%" stop-color="#16b4d4"/><stop offset="59.82%" stop-color="#16b4d4"/><stop offset="60.71%" stop-color="#16b4d4"/><stop offset="61.61%" stop-color="#16b4d4"/><stop offset="62.50%" stop-color="#16b4d4"/><stop offset="63.39%" stop-color="#1e9ee1"/><stop offset="64.29%" stop-color="#4464c8"/><stop offset="65.18%" stop-color="#16b4d4"/><stop offset="66.07%" stop-color="#82c752"/><stop offset="66.96%" stop-color="#cdc42d"/><stop offset="67.86%" stop-color="#f8bc37"/><stop offset="68.75%" stop-color="#f8bc37"/><stop offset="69.64%" stop-color="#f8bc37"/><stop offset="70.54%" stop-color="#e2c032"/><stop offset="71.43%" stop-color="#cdc42d"/><stop offset="72.32%" stop-color="#32be9b"/><stop offset="73.21%" stop-color="#1e9ee1"/><stop offset="74.11%" stop-color="#1aa9da"/><stop offset="75.00%" stop-color="#16b4d4"/><stop offset="75.89%" stop-color="#16b4d4"/><stop offset="76.79%" stop-color="#16b4d4"/><stop offset="77.68%" stop-color="#1e9ee1"/><stop offset="78.57%" stop-color="#4464c8"/><stop offset="79.46%" stop-color="#1e9ee1"/><stop offset="80.36%" stop-color="#16b4d4"/><stop offset="81.25%" stop-color="#24b9b8"/><stop offset="82.14%" stop-color="#32be9b"/><stop offset="83.04%" stop-color="#5ac276"/><stop offset="83.93%" stop-color="#82c752"/><stop offset="84.82%" stop-color="#a8c640"/><stop offset="85.71%" stop-color="#cdc42d"/><stop offset="86.61%" stop-color="#32be9b"/><stop offset="87.50%" stop-color="#1e9ee1"/><stop offset="88.39%" stop-color="#1e9ee1"/><stop offset="89.29%" stop-color="#1e9ee1"/><stop offset="90.18%" stop-color="#24b9b8"/><stop offset="91.07%" stop-color="#82c752"/><stop offset="91.96%" stop-color="#a8c640"/><stop offset="92.86%" stop-color="#cdc42d"/><stop offset="93.75%" stop-color="#a8c640"/><stop offset="94.64%" stop-color="#82c752"/><stop offset="95.54%" stop-color="#82c752"/><stop offset="96.43%" stop-color="#82c752"/><stop offset="97.32%" stop-color="#5ac276"/><stop offset="98.21%" stop-color="#32be9b"/><stop offset="99.11%" stop-color="#24b9b8"/><stop offset="100.00%" stop-color="#16b4d4"/></linearGradient><linearGradient id="gA17" gradientUnits="userSpaceOnUse" x1="156.0" y1="0" x2="1275.0" y2="0"><stop offset="0.00%" stop-color="#1e9ee1"/><stop offset="0.89%" stop-color="#1e9ee1"/><stop offset="1.79%" stop-color="#1e9ee1"/><stop offset="2.68%" stop-color="#1ca4de"/><stop offset="3.57%" stop-color="#1aa9da"/><stop offset="4.46%" stop-color="#5ac276"/><stop offset="5.36%" stop-color="#e2c032"/><stop offset="6.25%" stop-color="#edbe34"/><stop offset="7.14%" stop-color="#f8bc37"/><stop offset="8.04%" stop-color="#f6d42a"/><stop offset="8.93%" stop-color="#f3ec1e"/><stop offset="9.82%" stop-color="#f4e024"/><stop offset="10.71%" stop-color="#f6d42a"/><stop offset="11.61%" stop-color="#d8c230"/><stop offset="12.50%" stop-color="#82c752"/><stop offset="13.39%" stop-color="#5ac276"/><stop offset="14.29%" stop-color="#32be9b"/><stop offset="15.18%" stop-color="#2bbca9"/><stop offset="16.07%" stop-color="#24b9b8"/><stop offset="16.96%" stop-color="#5ac276"/><stop offset="17.86%" stop-color="#a8c640"/><stop offset="18.75%" stop-color="#edbe34"/><stop offset="19.64%" stop-color="#f3ec1e"/><stop offset="20.54%" stop-color="#f6d42a"/><stop offset="21.43%" stop-color="#f8bc37"/><stop offset="22.32%" stop-color="#f8bc37"/><stop offset="23.21%" stop-color="#f8bc37"/><stop offset="24.11%" stop-color="#f6d42a"/><stop offset="25.00%" stop-color="#f3ec1e"/><stop offset="25.89%" stop-color="#e2c032"/><stop offset="26.79%" stop-color="#82c752"/><stop offset="27.68%" stop-color="#6ec564"/><stop offset="28.57%" stop-color="#5ac276"/><stop offset="29.46%" stop-color="#46c089"/><stop offset="30.36%" stop-color="#32be9b"/><stop offset="31.25%" stop-color="#24b9b8"/><stop offset="32.14%" stop-color="#16b4d4"/><stop offset="33.04%" stop-color="#1aa9da"/><stop offset="33.93%" stop-color="#1e9ee1"/><stop offset="34.82%" stop-color="#1e9ee1"/><stop offset="35.71%" stop-color="#1e9ee1"/><stop offset="36.61%" stop-color="#3181d4"/><stop offset="37.50%" stop-color="#4464c8"/><stop offset="38.39%" stop-color="#1aa9da"/><stop offset="39.29%" stop-color="#32be9b"/><stop offset="40.18%" stop-color="#a8c640"/><stop offset="41.07%" stop-color="#f8bc37"/><stop offset="41.96%" stop-color="#f6d42a"/><stop offset="42.86%" stop-color="#f3ec1e"/><stop offset="43.75%" stop-color="#f7c831"/><stop offset="44.64%" stop-color="#e2c032"/><stop offset="45.54%" stop-color="#a8c640"/><stop offset="46.43%" stop-color="#5ac276"/><stop offset="47.32%" stop-color="#2bbca9"/><stop offset="48.21%" stop-color="#16b4d4"/><stop offset="49.11%" stop-color="#16b4d4"/><stop offset="50.00%" stop-color="#16b4d4"/><stop offset="50.89%" stop-color="#16b4d4"/><stop offset="51.79%" stop-color="#16b4d4"/><stop offset="52.68%" stop-color="#16b4d4"/><stop offset="53.57%" stop-color="#16b4d4"/><stop offset="54.46%" stop-color="#1ca4de"/><stop offset="55.36%" stop-color="#3181d4"/><stop offset="56.25%" stop-color="#1ca4de"/><stop offset="57.14%" stop-color="#16b4d4"/><stop offset="58.04%" stop-color="#1db6c6"/><stop offset="58.93%" stop-color="#24b9b8"/><stop offset="59.82%" stop-color="#1db6c6"/><stop offset="60.71%" stop-color="#16b4d4"/><stop offset="61.61%" stop-color="#1db6c6"/><stop offset="62.50%" stop-color="#24b9b8"/><stop offset="63.39%" stop-color="#1aa9da"/><stop offset="64.29%" stop-color="#3181d4"/><stop offset="65.18%" stop-color="#1db6c6"/><stop offset="66.07%" stop-color="#82c752"/><stop offset="66.96%" stop-color="#bac536"/><stop offset="67.86%" stop-color="#e2c032"/><stop offset="68.75%" stop-color="#e2c032"/><stop offset="69.64%" stop-color="#e2c032"/><stop offset="70.54%" stop-color="#d8c230"/><stop offset="71.43%" stop-color="#cdc42d"/><stop offset="72.32%" stop-color="#46c089"/><stop offset="73.21%" stop-color="#1aa9da"/><stop offset="74.11%" stop-color="#18aed7"/><stop offset="75.00%" stop-color="#16b4d4"/><stop offset="75.89%" stop-color="#16b4d4"/><stop offset="76.79%" stop-color="#16b4d4"/><stop offset="77.68%" stop-color="#1e9ee1"/><stop offset="78.57%" stop-color="#4464c8"/><stop offset="79.46%" stop-color="#1e9ee1"/><stop offset="80.36%" stop-color="#16b4d4"/><stop offset="81.25%" stop-color="#24b9b8"/><stop offset="82.14%" stop-color="#32be9b"/><stop offset="83.04%" stop-color="#6ec564"/><stop offset="83.93%" stop-color="#a8c640"/><stop offset="84.82%" stop-color="#a8c640"/><stop offset="85.71%" stop-color="#a8c640"/><stop offset="86.61%" stop-color="#24b9b8"/><stop offset="87.50%" stop-color="#3181d4"/><stop offset="88.39%" stop-color="#2890db"/><stop offset="89.29%" stop-color="#1e9ee1"/><stop offset="90.18%" stop-color="#24b9b8"/><stop offset="91.07%" stop-color="#82c752"/><stop offset="91.96%" stop-color="#a8c640"/><stop offset="92.86%" stop-color="#cdc42d"/><stop offset="93.75%" stop-color="#bac536"/><stop offset="94.64%" stop-color="#a8c640"/><stop offset="95.54%" stop-color="#95c649"/><stop offset="96.43%" stop-color="#82c752"/><stop offset="97.32%" stop-color="#46c089"/><stop offset="98.21%" stop-color="#24b9b8"/><stop offset="99.11%" stop-color="#1db6c6"/><stop offset="100.00%" stop-color="#16b4d4"/></linearGradient><linearGradient id="gA18" gradientUnits="userSpaceOnUse" x1="156.0" y1="0" x2="1275.0" y2="0"><stop offset="0.00%" stop-color="#1e9ee1"/><stop offset="0.89%" stop-color="#1e9ee1"/><stop offset="1.79%" stop-color="#1e9ee1"/><stop offset="2.68%" stop-color="#1aa9da"/><stop offset="3.57%" stop-color="#16b4d4"/><stop offset="4.46%" stop-color="#82c752"/><stop offset="5.36%" stop-color="#f8bc37"/><stop offset="6.25%" stop-color="#f8bc37"/><stop offset="7.14%" stop-color="#f8bc37"/><stop offset="8.04%" stop-color="#f6d42a"/><stop offset="8.93%" stop-color="#f3ec1e"/><stop offset="9.82%" stop-color="#f6d42a"/><stop offset="10.71%" stop-color="#f8bc37"/><stop offset="11.61%" stop-color="#cdc42d"/><stop offset="12.50%" stop-color="#82c752"/><stop offset="13.39%" stop-color="#5ac276"/><stop offset="14.29%" stop-color="#32be9b"/><stop offset="15.18%" stop-color="#24b9b8"/><stop offset="16.07%" stop-color="#16b4d4"/><stop offset="16.96%" stop-color="#32be9b"/><stop offset="17.86%" stop-color="#82c752"/><stop offset="18.75%" stop-color="#e2c032"/><stop offset="19.64%" stop-color="#f3ec1e"/><stop offset="20.54%" stop-color="#f6d42a"/><stop offset="21.43%" stop-color="#f8bc37"/><stop offset="22.32%" stop-color="#f8bc37"/><stop offset="23.21%" stop-color="#f8bc37"/><stop offset="24.11%" stop-color="#f6d42a"/><stop offset="25.00%" stop-color="#f3ec1e"/><stop offset="25.89%" stop-color="#f3ec1e"/><stop offset="26.79%" stop-color="#f3ec1e"/><stop offset="27.68%" stop-color="#f6d42a"/><stop offset="28.57%" stop-color="#f8bc37"/><stop offset="29.46%" stop-color="#a8c640"/><stop offset="30.36%" stop-color="#32be9b"/><stop offset="31.25%" stop-color="#24b9b8"/><stop offset="32.14%" stop-color="#16b4d4"/><stop offset="33.04%" stop-color="#1aa9da"/><stop offset="33.93%" stop-color="#1e9ee1"/><stop offset="34.82%" stop-color="#1e9ee1"/><stop offset="35.71%" stop-color="#1e9ee1"/><stop offset="36.61%" stop-color="#3181d4"/><stop offset="37.50%" stop-color="#4464c8"/><stop offset="38.39%" stop-color="#1aa9da"/><stop offset="39.29%" stop-color="#32be9b"/><stop offset="40.18%" stop-color="#a8c640"/><stop offset="41.07%" stop-color="#f8bc37"/><stop offset="41.96%" stop-color="#f6d42a"/><stop offset="42.86%" stop-color="#f3ec1e"/><stop offset="43.75%" stop-color="#f8bc37"/><stop offset="44.64%" stop-color="#cdc42d"/><stop offset="45.54%" stop-color="#82c752"/><stop offset="46.43%" stop-color="#32be9b"/><stop offset="47.32%" stop-color="#24b9b8"/><stop offset="48.21%" stop-color="#16b4d4"/><stop offset="49.11%" stop-color="#16b4d4"/><stop offset="50.00%" stop-color="#16b4d4"/><stop offset="50.89%" stop-color="#16b4d4"/><stop offset="51.79%" stop-color="#16b4d4"/><stop offset="52.68%" stop-color="#16b4d4"/><stop offset="53.57%" stop-color="#16b4d4"/><stop offset="54.46%" stop-color="#1e9ee1"/><stop offset="55.36%" stop-color="#4464c8"/><stop offset="56.25%" stop-color="#1e9ee1"/><stop offset="57.14%" stop-color="#16b4d4"/><stop offset="58.04%" stop-color="#24b9b8"/><stop offset="58.93%" stop-color="#32be9b"/><stop offset="59.82%" stop-color="#24b9b8"/><stop offset="60.71%" stop-color="#16b4d4"/><stop offset="61.61%" stop-color="#24b9b8"/><stop offset="62.50%" stop-color="#32be9b"/><stop offset="63.39%" stop-color="#16b4d4"/><stop offset="64.29%" stop-color="#1e9ee1"/><stop offset="65.18%" stop-color="#24b9b8"/><stop offset="66.07%" stop-color="#82c752"/><stop offset="66.96%" stop-color="#a8c640"/><stop offset="67.86%" stop-color="#cdc42d"/><stop offset="68.75%" stop-color="#cdc42d"/><stop offset="69.64%" stop-color="#cdc42d"/><stop offset="70.54%" stop-color="#cdc42d"/><stop offset="71.43%" stop-color="#cdc42d"/><stop offset="72.32%" stop-color="#5ac276"/><stop offset="73.21%" stop-color="#16b4d4"/><stop offset="74.11%" stop-color="#16b4d4"/><stop offset="75.00%" stop-color="#16b4d4"/><stop offset="75.89%" stop-color="#16b4d4"/><stop offset="76.79%" stop-color="#16b4d4"/><stop offset="77.68%" stop-color="#1e9ee1"/><stop offset="78.57%" stop-color="#4464c8"/><stop offset="79.46%" stop-color="#1e9ee1"/><stop offset="80.36%" stop-color="#16b4d4"/><stop offset="81.25%" stop-color="#24b9b8"/><stop offset="82.14%" stop-color="#32be9b"/><stop offset="83.04%" stop-color="#82c752"/><stop offset="83.93%" stop-color="#cdc42d"/><stop offset="84.82%" stop-color="#a8c640"/><stop offset="85.71%" stop-color="#82c752"/><stop offset="86.61%" stop-color="#16b4d4"/><stop offset="87.50%" stop-color="#4464c8"/><stop offset="88.39%" stop-color="#3181d4"/><stop offset="89.29%" stop-color="#1e9ee1"/><stop offset="90.18%" stop-color="#24b9b8"/><stop offset="91.07%" stop-color="#82c752"/><stop offset="91.96%" stop-color="#a8c640"/><stop offset="92.86%" stop-color="#cdc42d"/><stop offset="93.75%" stop-color="#cdc42d"/><stop offset="94.64%" stop-color="#cdc42d"/><stop offset="95.54%" stop-color="#a8c640"/><stop offset="96.43%" stop-color="#82c752"/><stop offset="97.32%" stop-color="#32be9b"/><stop offset="98.21%" stop-color="#16b4d4"/><stop offset="99.11%" stop-color="#16b4d4"/><stop offset="100.00%" stop-color="#16b4d4"/></linearGradient><linearGradient id="gA19" gradientUnits="userSpaceOnUse" x1="156.0" y1="0" x2="1275.0" y2="0"><stop offset="0.00%" stop-color="#1e9ee1"/><stop offset="0.89%" stop-color="#1e9ee1"/><stop offset="1.79%" stop-color="#1e9ee1"/><stop offset="2.68%" stop-color="#1aa9da"/><stop offset="3.57%" stop-color="#16b4d4"/><stop offset="4.46%" stop-color="#82c752"/><stop offset="5.36%" stop-color="#f8bc37"/><stop offset="6.25%" stop-color="#f8bc37"/><stop offset="7.14%" stop-color="#f8bc37"/><stop offset="8.04%" stop-color="#f6d42a"/><stop offset="8.93%" stop-color="#f3ec1e"/><stop offset="9.82%" stop-color="#f6d42a"/><stop offset="10.71%" stop-color="#f8bc37"/><stop offset="11.61%" stop-color="#cdc42d"/><stop offset="12.50%" stop-color="#82c752"/><stop offset="13.39%" stop-color="#46c089"/><stop offset="14.29%" stop-color="#24b9b8"/><stop offset="15.18%" stop-color="#1db6c6"/><stop offset="16.07%" stop-color="#16b4d4"/><stop offset="16.96%" stop-color="#2bbca9"/><stop offset="17.86%" stop-color="#5ac276"/><stop offset="18.75%" stop-color="#d8c230"/><stop offset="19.64%" stop-color="#f3ec1e"/><stop offset="20.54%" stop-color="#f6d42a"/><stop offset="21.43%" stop-color="#f8bc37"/><stop offset="22.32%" stop-color="#f7c831"/><stop offset="23.21%" stop-color="#f6d42a"/><stop offset="24.11%" stop-color="#f4e024"/><stop offset="25.00%" stop-color="#f3ec1e"/><stop offset="25.89%" stop-color="#f3ec1e"/><stop offset="26.79%" stop-color="#f3ec1e"/><stop offset="27.68%" stop-color="#f4e024"/><stop offset="28.57%" stop-color="#f6d42a"/><stop offset="29.46%" stop-color="#cdc42d"/><stop offset="30.36%" stop-color="#5ac276"/><stop offset="31.25%" stop-color="#2bbca9"/><stop offset="32.14%" stop-color="#16b4d4"/><stop offset="33.04%" stop-color="#1aa9da"/><stop offset="33.93%" stop-color="#1e9ee1"/><stop offset="34.82%" stop-color="#1ca4de"/><stop offset="35.71%" stop-color="#1aa9da"/><stop offset="36.61%" stop-color="#3181d4"/><stop offset="37.50%" stop-color="#4656bd"/><stop offset="38.39%" stop-color="#1ca4de"/><stop offset="39.29%" stop-color="#32be9b"/><stop offset="40.18%" stop-color="#a8c640"/><stop offset="41.07%" stop-color="#f8bc37"/><stop offset="41.96%" stop-color="#f6d42a"/><stop offset="42.86%" stop-color="#f3ec1e"/><stop offset="43.75%" stop-color="#edbe34"/><stop offset="44.64%" stop-color="#a8c640"/><stop offset="45.54%" stop-color="#6ec564"/><stop offset="46.43%" stop-color="#32be9b"/><stop offset="47.32%" stop-color="#24b9b8"/><stop offset="48.21%" stop-color="#16b4d4"/><stop offset="49.11%" stop-color="#16b4d4"/><stop offset="50.00%" stop-color="#16b4d4"/><stop offset="50.89%" stop-color="#16b4d4"/><stop offset="51.79%" stop-color="#16b4d4"/><stop offset="52.68%" stop-color="#16b4d4"/><stop offset="53.57%" stop-color="#16b4d4"/><stop offset="54.46%" stop-color="#1e9ee1"/><stop offset="55.36%" stop-color="#4464c8"/><stop offset="56.25%" stop-color="#1ca4de"/><stop offset="57.14%" stop-color="#24b9b8"/><stop offset="58.04%" stop-color="#32be9b"/><stop offset="58.93%" stop-color="#5ac276"/><stop offset="59.82%" stop-color="#2bbca9"/><stop offset="60.71%" stop-color="#16b4d4"/><stop offset="61.61%" stop-color="#24b9b8"/><stop offset="62.50%" stop-color="#32be9b"/><stop offset="63.39%" stop-color="#1db6c6"/><stop offset="64.29%" stop-color="#1aa9da"/><stop offset="65.18%" stop-color="#2bbca9"/><stop offset="66.07%" stop-color="#82c752"/><stop offset="66.96%" stop-color="#95c649"/><stop offset="67.86%" stop-color="#a8c640"/><stop offset="68.75%" stop-color="#a8c640"/><stop offset="69.64%" stop-color="#a8c640"/><stop offset="70.54%" stop-color="#a8c640"/><stop offset="71.43%" stop-color="#a8c640"/><stop offset="72.32%" stop-color="#5ac276"/><stop offset="73.21%" stop-color="#24b9b8"/><stop offset="74.11%" stop-color="#1db6c6"/><stop offset="75.00%" stop-color="#16b4d4"/><stop offset="75.89%" stop-color="#16b4d4"/><stop offset="76.79%" stop-color="#16b4d4"/><stop offset="77.68%" stop-color="#1e9ee1"/><stop offset="78.57%" stop-color="#4464c8"/><stop offset="79.46%" stop-color="#1e9ee1"/><stop offset="80.36%" stop-color="#16b4d4"/><stop offset="81.25%" stop-color="#2bbca9"/><stop offset="82.14%" stop-color="#5ac276"/><stop offset="83.04%" stop-color="#82c752"/><stop offset="83.93%" stop-color="#a8c640"/><stop offset="84.82%" stop-color="#82c752"/><stop offset="85.71%" stop-color="#5ac276"/><stop offset="86.61%" stop-color="#16b4d4"/><stop offset="87.50%" stop-color="#3181d4"/><stop offset="88.39%" stop-color="#2890db"/><stop offset="89.29%" stop-color="#1e9ee1"/><stop offset="90.18%" stop-color="#24b9b8"/><stop offset="91.07%" stop-color="#82c752"/><stop offset="91.96%" stop-color="#a8c640"/><stop offset="92.86%" stop-color="#cdc42d"/><stop offset="93.75%" stop-color="#cdc42d"/><stop offset="94.64%" stop-color="#cdc42d"/><stop offset="95.54%" stop-color="#a8c640"/><stop offset="96.43%" stop-color="#82c752"/><stop offset="97.32%" stop-color="#32be9b"/><stop offset="98.21%" stop-color="#16b4d4"/><stop offset="99.11%" stop-color="#16b4d4"/><stop offset="100.00%" stop-color="#16b4d4"/></linearGradient><linearGradient id="gA20" gradientUnits="userSpaceOnUse" x1="156.0" y1="0" x2="1275.0" y2="0"><stop offset="0.00%" stop-color="#1e9ee1"/><stop offset="0.89%" stop-color="#1e9ee1"/><stop offset="1.79%" stop-color="#1e9ee1"/><stop offset="2.68%" stop-color="#1aa9da"/><stop offset="3.57%" stop-color="#16b4d4"/><stop offset="4.46%" stop-color="#82c752"/><stop offset="5.36%" stop-color="#f8bc37"/><stop offset="6.25%" stop-color="#f8bc37"/><stop offset="7.14%" stop-color="#f8bc37"/><stop offset="8.04%" stop-color="#f6d42a"/><stop offset="8.93%" stop-color="#f3ec1e"/><stop offset="9.82%" stop-color="#f6d42a"/><stop offset="10.71%" stop-color="#f8bc37"/><stop offset="11.61%" stop-color="#cdc42d"/><stop offset="12.50%" stop-color="#82c752"/><stop offset="13.39%" stop-color="#32be9b"/><stop offset="14.29%" stop-color="#16b4d4"/><stop offset="15.18%" stop-color="#16b4d4"/><stop offset="16.07%" stop-color="#16b4d4"/><stop offset="16.96%" stop-color="#24b9b8"/><stop offset="17.86%" stop-color="#32be9b"/><stop offset="18.75%" stop-color="#cdc42d"/><stop offset="19.64%" stop-color="#f3ec1e"/><stop offset="20.54%" stop-color="#f6d42a"/><stop offset="21.43%" stop-color="#f8bc37"/><stop offset="22.32%" stop-color="#f6d42a"/><stop offset="23.21%" stop-color="#f3ec1e"/><stop offset="24.11%" stop-color="#f3ec1e"/><stop offset="25.00%" stop-color="#f3ec1e"/><stop offset="25.89%" stop-color="#f3ec1e"/><stop offset="26.79%" stop-color="#f3ec1e"/><stop offset="27.68%" stop-color="#f3ec1e"/><stop offset="28.57%" stop-color="#f3ec1e"/><stop offset="29.46%" stop-color="#e2c032"/><stop offset="30.36%" stop-color="#82c752"/><stop offset="31.25%" stop-color="#32be9b"/><stop offset="32.14%" stop-color="#16b4d4"/><stop offset="33.04%" stop-color="#1aa9da"/><stop offset="33.93%" stop-color="#1e9ee1"/><stop offset="34.82%" stop-color="#1aa9da"/><stop offset="35.71%" stop-color="#16b4d4"/><stop offset="36.61%" stop-color="#3181d4"/><stop offset="37.50%" stop-color="#4848b2"/><stop offset="38.39%" stop-color="#1e9ee1"/><stop offset="39.29%" stop-color="#32be9b"/><stop offset="40.18%" stop-color="#a8c640"/><stop offset="41.07%" stop-color="#f8bc37"/><stop offset="41.96%" stop-color="#f6d42a"/><stop offset="42.86%" stop-color="#f3ec1e"/><stop offset="43.75%" stop-color="#e2c032"/><stop offset="44.64%" stop-color="#82c752"/><stop offset="45.54%" stop-color="#5ac276"/><stop offset="46.43%" stop-color="#32be9b"/><stop offset="47.32%" stop-color="#24b9b8"/><stop offset="48.21%" stop-color="#16b4d4"/><stop offset="49.11%" stop-color="#16b4d4"/><stop offset="50.00%" stop-color="#16b4d4"/><stop offset="50.89%" stop-color="#16b4d4"/><stop offset="51.79%" stop-color="#16b4d4"/><stop offset="52.68%" stop-color="#16b4d4"/><stop offset="53.57%" stop-color="#16b4d4"/><stop offset="54.46%" stop-color="#1e9ee1"/><stop offset="55.36%" stop-color="#4464c8"/><stop offset="56.25%" stop-color="#1aa9da"/><stop offset="57.14%" stop-color="#32be9b"/><stop offset="58.04%" stop-color="#5ac276"/><stop offset="58.93%" stop-color="#82c752"/><stop offset="59.82%" stop-color="#32be9b"/><stop offset="60.71%" stop-color="#16b4d4"/><stop offset="61.61%" stop-color="#24b9b8"/><stop offset="62.50%" stop-color="#32be9b"/><stop offset="63.39%" stop-color="#24b9b8"/><stop offset="64.29%" stop-color="#16b4d4"/><stop offset="65.18%" stop-color="#32be9b"/><stop offset="66.07%" stop-color="#82c752"/><stop offset="66.96%" stop-color="#82c752"/><stop offset="67.86%" stop-color="#82c752"/><stop offset="68.75%" stop-color="#82c752"/><stop offset="69.64%" stop-color="#82c752"/><stop offset="70.54%" stop-color="#82c752"/><stop offset="71.43%" stop-color="#82c752"/><stop offset="72.32%" stop-color="#5ac276"/><stop offset="73.21%" stop-color="#32be9b"/><stop offset="74.11%" stop-color="#24b9b8"/><stop offset="75.00%" stop-color="#16b4d4"/><stop offset="75.89%" stop-color="#16b4d4"/><stop offset="76.79%" stop-color="#16b4d4"/><stop offset="77.68%" stop-color="#1e9ee1"/><stop offset="78.57%" stop-color="#4464c8"/><stop offset="79.46%" stop-color="#1e9ee1"/><stop offset="80.36%" stop-color="#16b4d4"/><stop offset="81.25%" stop-color="#32be9b"/><stop offset="82.14%" stop-color="#82c752"/><stop offset="83.04%" stop-color="#82c752"/><stop offset="83.93%" stop-color="#82c752"/><stop offset="84.82%" stop-color="#5ac276"/><stop offset="85.71%" stop-color="#32be9b"/><stop offset="86.61%" stop-color="#16b4d4"/><stop offset="87.50%" stop-color="#1e9ee1"/><stop offset="88.39%" stop-color="#1e9ee1"/><stop offset="89.29%" stop-color="#1e9ee1"/><stop offset="90.18%" stop-color="#24b9b8"/><stop offset="91.07%" stop-color="#82c752"/><stop offset="91.96%" stop-color="#a8c640"/><stop offset="92.86%" stop-color="#cdc42d"/><stop offset="93.75%" stop-color="#cdc42d"/><stop offset="94.64%" stop-color="#cdc42d"/><stop offset="95.54%" stop-color="#a8c640"/><stop offset="96.43%" stop-color="#82c752"/><stop offset="97.32%" stop-color="#32be9b"/><stop offset="98.21%" stop-color="#16b4d4"/><stop offset="99.11%" stop-color="#16b4d4"/><stop offset="100.00%" stop-color="#16b4d4"/></linearGradient><linearGradient id="gA21" gradientUnits="userSpaceOnUse" x1="156.0" y1="0" x2="1275.0" y2="0"><stop offset="0.00%" stop-color="#1e9ee1"/><stop offset="0.89%" stop-color="#1e9ee1"/><stop offset="1.79%" stop-color="#1e9ee1"/><stop offset="2.68%" stop-color="#18aed7"/><stop offset="3.57%" stop-color="#24b9b8"/><stop offset="4.46%" stop-color="#95c649"/><stop offset="5.36%" stop-color="#f8bc37"/><stop offset="6.25%" stop-color="#f8bc37"/><stop offset="7.14%" stop-color="#f8bc37"/><stop offset="8.04%" stop-color="#f6d42a"/><stop offset="8.93%" stop-color="#f3ec1e"/><stop offset="9.82%" stop-color="#f6d42a"/><stop offset="10.71%" stop-color="#f8bc37"/><stop offset="11.61%" stop-color="#cdc42d"/><stop offset="12.50%" stop-color="#82c752"/><stop offset="13.39%" stop-color="#32be9b"/><stop offset="14.29%" stop-color="#16b4d4"/><stop offset="15.18%" stop-color="#1db6c6"/><stop offset="16.07%" stop-color="#24b9b8"/><stop offset="16.96%" stop-color="#5ac276"/><stop offset="17.86%" stop-color="#a8c640"/><stop offset="18.75%" stop-color="#edbe34"/><stop offset="19.64%" stop-color="#f3ec1e"/><stop offset="20.54%" stop-color="#f6d42a"/><stop offset="21.43%" stop-color="#f8bc37"/><stop offset="22.32%" stop-color="#f6d42a"/><stop offset="23.21%" stop-color="#f3ec1e"/><stop offset="24.11%" stop-color="#f3ec1e"/><stop offset="25.00%" stop-color="#f3ec1e"/><stop offset="25.89%" stop-color="#f3ec1e"/><stop offset="26.79%" stop-color="#f3ec1e"/><stop offset="27.68%" stop-color="#f3ec1e"/><stop offset="28.57%" stop-color="#f3ec1e"/><stop offset="29.46%" stop-color="#f8bc37"/><stop offset="30.36%" stop-color="#cdc42d"/><stop offset="31.25%" stop-color="#6ec564"/><stop offset="32.14%" stop-color="#24b9b8"/><stop offset="33.04%" stop-color="#16b4d4"/><stop offset="33.93%" stop-color="#1aa9da"/><stop offset="34.82%" stop-color="#18aed7"/><stop offset="35.71%" stop-color="#16b4d4"/><stop offset="36.61%" stop-color="#3181d4"/><stop offset="37.50%" stop-color="#4848b2"/><stop offset="38.39%" stop-color="#1e9ee1"/><stop offset="39.29%" stop-color="#32be9b"/><stop offset="40.18%" stop-color="#a8c640"/><stop offset="41.07%" stop-color="#f8bc37"/><stop offset="41.96%" stop-color="#f7c831"/><stop offset="42.86%" stop-color="#f6d42a"/><stop offset="43.75%" stop-color="#d8c230"/><stop offset="44.64%" stop-color="#82c752"/><stop offset="45.54%" stop-color="#5ac276"/><stop offset="46.43%" stop-color="#32be9b"/><stop offset="47.32%" stop-color="#24b9b8"/><stop offset="48.21%" stop-color="#16b4d4"/><stop offset="49.11%" stop-color="#1db6c6"/><stop offset="50.00%" stop-color="#24b9b8"/><stop offset="50.89%" stop-color="#1db6c6"/><stop offset="51.79%" stop-color="#16b4d4"/><stop offset="52.68%" stop-color="#1db6c6"/><stop offset="53.57%" stop-color="#24b9b8"/><stop offset="54.46%" stop-color="#1ca4de"/><stop offset="55.36%" stop-color="#4464c8"/><stop offset="56.25%" stop-color="#1ca4de"/><stop offset="57.14%" stop-color="#24b9b8"/><stop offset="58.04%" stop-color="#46c089"/><stop offset="58.93%" stop-color="#82c752"/><stop offset="59.82%" stop-color="#32be9b"/><stop offset="60.71%" stop-color="#16b4d4"/><stop offset="61.61%" stop-color="#24b9b8"/><stop offset="62.50%" stop-color="#32be9b"/><stop offset="63.39%" stop-color="#24b9b8"/><stop offset="64.29%" stop-color="#16b4d4"/><stop offset="65.18%" stop-color="#32be9b"/><stop offset="66.07%" stop-color="#82c752"/><stop offset="66.96%" stop-color="#6ec564"/><stop offset="67.86%" stop-color="#5ac276"/><stop offset="68.75%" stop-color="#6ec564"/><stop offset="69.64%" stop-color="#82c752"/><stop offset="70.54%" stop-color="#95c649"/><stop offset="71.43%" stop-color="#a8c640"/><stop offset="72.32%" stop-color="#82c752"/><stop offset="73.21%" stop-color="#5ac276"/><stop offset="74.11%" stop-color="#2bbca9"/><stop offset="75.00%" stop-color="#16b4d4"/><stop offset="75.89%" stop-color="#16b4d4"/><stop offset="76.79%" stop-color="#16b4d4"/><stop offset="77.68%" stop-color="#1e9ee1"/><stop offset="78.57%" stop-color="#4464c8"/><stop offset="79.46%" stop-color="#1e9ee1"/><stop offset="80.36%" stop-color="#16b4d4"/><stop offset="81.25%" stop-color="#32be9b"/><stop offset="82.14%" stop-color="#82c752"/><stop offset="83.04%" stop-color="#6ec564"/><stop offset="83.93%" stop-color="#5ac276"/><stop offset="84.82%" stop-color="#32be9b"/><stop offset="85.71%" stop-color="#24b9b8"/><stop offset="86.61%" stop-color="#16b4d4"/><stop offset="87.50%" stop-color="#1aa9da"/><stop offset="88.39%" stop-color="#1ca4de"/><stop offset="89.29%" stop-color="#1e9ee1"/><stop offset="90.18%" stop-color="#24b9b8"/><stop offset="91.07%" stop-color="#82c752"/><stop offset="91.96%" stop-color="#a8c640"/><stop offset="92.86%" stop-color="#cdc42d"/><stop offset="93.75%" stop-color="#cdc42d"/><stop offset="94.64%" stop-color="#cdc42d"/><stop offset="95.54%" stop-color="#a8c640"/><stop offset="96.43%" stop-color="#82c752"/><stop offset="97.32%" stop-color="#2bbca9"/><stop offset="98.21%" stop-color="#1aa9da"/><stop offset="99.11%" stop-color="#18aed7"/><stop offset="100.00%" stop-color="#16b4d4"/></linearGradient><linearGradient id="gA22" gradientUnits="userSpaceOnUse" x1="156.0" y1="0" x2="1275.0" y2="0"><stop offset="0.00%" stop-color="#1e9ee1"/><stop offset="0.89%" stop-color="#1e9ee1"/><stop offset="1.79%" stop-color="#1e9ee1"/><stop offset="2.68%" stop-color="#16b4d4"/><stop offset="3.57%" stop-color="#32be9b"/><stop offset="4.46%" stop-color="#a8c640"/><stop offset="5.36%" stop-color="#f8bc37"/><stop offset="6.25%" stop-color="#f8bc37"/><stop offset="7.14%" stop-color="#f8bc37"/><stop offset="8.04%" stop-color="#f6d42a"/><stop offset="8.93%" stop-color="#f3ec1e"/><stop offset="9.82%" stop-color="#f6d42a"/><stop offset="10.71%" stop-color="#f8bc37"/><stop offset="11.61%" stop-color="#cdc42d"/><stop offset="12.50%" stop-color="#82c752"/><stop offset="13.39%" stop-color="#32be9b"/><stop offset="14.29%" stop-color="#16b4d4"/><stop offset="15.18%" stop-color="#24b9b8"/><stop offset="16.07%" stop-color="#32be9b"/><stop offset="16.96%" stop-color="#a8c640"/><stop offset="17.86%" stop-color="#f8bc37"/><stop offset="18.75%" stop-color="#f6d42a"/><stop offset="19.64%" stop-color="#f3ec1e"/><stop offset="20.54%" stop-color="#f6d42a"/><stop offset="21.43%" stop-color="#f8bc37"/><stop offset="22.32%" stop-color="#f6d42a"/><stop offset="23.21%" stop-color="#f3ec1e"/><stop offset="24.11%" stop-color="#f3ec1e"/><stop offset="25.00%" stop-color="#f3ec1e"/><stop offset="25.89%" stop-color="#f3ec1e"/><stop offset="26.79%" stop-color="#f3ec1e"/><stop offset="27.68%" stop-color="#f3ec1e"/><stop offset="28.57%" stop-color="#f3ec1e"/><stop offset="29.46%" stop-color="#f6d42a"/><stop offset="30.36%" stop-color="#f8bc37"/><stop offset="31.25%" stop-color="#a8c640"/><stop offset="32.14%" stop-color="#32be9b"/><stop offset="33.04%" stop-color="#24b9b8"/><stop offset="33.93%" stop-color="#16b4d4"/><stop offset="34.82%" stop-color="#16b4d4"/><stop offset="35.71%" stop-color="#16b4d4"/><stop offset="36.61%" stop-color="#3181d4"/><stop offset="37.50%" stop-color="#4848b2"/><stop offset="38.39%" stop-color="#1e9ee1"/><stop offset="39.29%" stop-color="#32be9b"/><stop offset="40.18%" stop-color="#a8c640"/><stop offset="41.07%" stop-color="#f8bc37"/><stop offset="41.96%" stop-color="#f8bc37"/><stop offset="42.86%" stop-color="#f8bc37"/><stop offset="43.75%" stop-color="#cdc42d"/><stop offset="44.64%" stop-color="#82c752"/><stop offset="45.54%" stop-color="#5ac276"/><stop offset="46.43%" stop-color="#32be9b"/><stop offset="47.32%" stop-color="#24b9b8"/><stop offset="48.21%" stop-color="#16b4d4"/><stop offset="49.11%" stop-color="#24b9b8"/><stop offset="50.00%" stop-color="#32be9b"/><stop offset="50.89%" stop-color="#24b9b8"/><stop offset="51.79%" stop-color="#16b4d4"/><stop offset="52.68%" stop-color="#24b9b8"/><stop offset="53.57%" stop-color="#32be9b"/><stop offset="54.46%" stop-color="#1aa9da"/><stop offset="55.36%" stop-color="#4464c8"/><stop offset="56.25%" stop-color="#1e9ee1"/><stop offset="57.14%" stop-color="#16b4d4"/><stop offset="58.04%" stop-color="#32be9b"/><stop offset="58.93%" stop-color="#82c752"/><stop offset="59.82%" stop-color="#32be9b"/><stop offset="60.71%" stop-color="#16b4d4"/><stop offset="61.61%" stop-color="#24b9b8"/><stop offset="62.50%" stop-color="#32be9b"/><stop offset="63.39%" stop-color="#24b9b8"/><stop offset="64.29%" stop-color="#16b4d4"/><stop offset="65.18%" stop-color="#32be9b"/><stop offset="66.07%" stop-color="#82c752"/><stop offset="66.96%" stop-color="#5ac276"/><stop offset="67.86%" stop-color="#32be9b"/><stop offset="68.75%" stop-color="#5ac276"/><stop offset="69.64%" stop-color="#82c752"/><stop offset="70.54%" stop-color="#a8c640"/><stop offset="71.43%" stop-color="#cdc42d"/><stop offset="72.32%" stop-color="#a8c640"/><stop offset="73.21%" stop-color="#82c752"/><stop offset="74.11%" stop-color="#32be9b"/><stop offset="75.00%" stop-color="#16b4d4"/><stop offset="75.89%" stop-color="#16b4d4"/><stop offset="76.79%" stop-color="#16b4d4"/><stop offset="77.68%" stop-color="#1e9ee1"/><stop offset="78.57%" stop-color="#4464c8"/><stop offset="79.46%" stop-color="#1e9ee1"/><stop offset="80.36%" stop-color="#16b4d4"/><stop offset="81.25%" stop-color="#32be9b"/><stop offset="82.14%" stop-color="#82c752"/><stop offset="83.04%" stop-color="#5ac276"/><stop offset="83.93%" stop-color="#32be9b"/><stop offset="84.82%" stop-color="#24b9b8"/><stop offset="85.71%" stop-color="#16b4d4"/><stop offset="86.61%" stop-color="#16b4d4"/><stop offset="87.50%" stop-color="#16b4d4"/><stop offset="88.39%" stop-color="#1aa9da"/><stop offset="89.29%" stop-color="#1e9ee1"/><stop offset="90.18%" stop-color="#24b9b8"/><stop offset="91.07%" stop-color="#82c752"/><stop offset="91.96%" stop-color="#a8c640"/><stop offset="92.86%" stop-color="#cdc42d"/><stop offset="93.75%" stop-color="#cdc42d"/><stop offset="94.64%" stop-color="#cdc42d"/><stop offset="95.54%" stop-color="#a8c640"/><stop offset="96.43%" stop-color="#82c752"/><stop offset="97.32%" stop-color="#24b9b8"/><stop offset="98.21%" stop-color="#1e9ee1"/><stop offset="99.11%" stop-color="#1aa9da"/><stop offset="100.00%" stop-color="#16b4d4"/></linearGradient><linearGradient id="gA23" gradientUnits="userSpaceOnUse" x1="156.0" y1="0" x2="1275.0" y2="0"><stop offset="0.00%" stop-color="#1e9ee1"/><stop offset="0.89%" stop-color="#1ca4de"/><stop offset="1.79%" stop-color="#1aa9da"/><stop offset="2.68%" stop-color="#1db6c6"/><stop offset="3.57%" stop-color="#32be9b"/><stop offset="4.46%" stop-color="#95c649"/><stop offset="5.36%" stop-color="#e2c032"/><stop offset="6.25%" stop-color="#edbe34"/><stop offset="7.14%" stop-color="#f8bc37"/><stop offset="8.04%" stop-color="#f6d42a"/><stop offset="8.93%" stop-color="#f3ec1e"/><stop offset="9.82%" stop-color="#f6d42a"/><stop offset="10.71%" stop-color="#f8bc37"/><stop offset="11.61%" stop-color="#d8c230"/><stop offset="12.50%" stop-color="#a8c640"/><stop offset="13.39%" stop-color="#46c089"/><stop offset="14.29%" stop-color="#16b4d4"/><stop offset="15.18%" stop-color="#32be9b"/><stop offset="16.07%" stop-color="#82c752"/><stop offset="16.96%" stop-color="#cdc42d"/><stop offset="17.86%" stop-color="#f8bc37"/><stop offset="18.75%" stop-color="#f6d42a"/><stop offset="19.64%" stop-color="#f3ec1e"/><stop offset="20.54%" stop-color="#f4e024"/><stop offset="21.43%" stop-color="#f6d42a"/><stop offset="22.32%" stop-color="#f4e024"/><stop offset="23.21%" stop-color="#f3ec1e"/><stop offset="24.11%" stop-color="#f3ec1e"/><stop offset="25.00%" stop-color="#f3ec1e"/><stop offset="25.89%" stop-color="#f3ec1e"/><stop offset="26.79%" stop-color="#f3ec1e"/><stop offset="27.68%" stop-color="#f3ec1e"/><stop offset="28.57%" stop-color="#f3ec1e"/><stop offset="29.46%" stop-color="#f6d42a"/><stop offset="30.36%" stop-color="#f8bc37"/><stop offset="31.25%" stop-color="#a8c640"/><stop offset="32.14%" stop-color="#32be9b"/><stop offset="33.04%" stop-color="#2bbca9"/><stop offset="33.93%" stop-color="#24b9b8"/><stop offset="34.82%" stop-color="#1db6c6"/><stop offset="35.71%" stop-color="#16b4d4"/><stop offset="36.61%" stop-color="#3181d4"/><stop offset="37.50%" stop-color="#4848b2"/><stop offset="38.39%" stop-color="#1e9ee1"/><stop offset="39.29%" stop-color="#32be9b"/><stop offset="40.18%" stop-color="#95c649"/><stop offset="41.07%" stop-color="#e2c032"/><stop offset="41.96%" stop-color="#d8c230"/><stop offset="42.86%" stop-color="#cdc42d"/><stop offset="43.75%" stop-color="#95c649"/><stop offset="44.64%" stop-color="#5ac276"/><stop offset="45.54%" stop-color="#5ac276"/><stop offset="46.43%" stop-color="#5ac276"/><stop offset="47.32%" stop-color="#2bbca9"/><stop offset="48.21%" stop-color="#16b4d4"/><stop offset="49.11%" stop-color="#2bbca9"/><stop offset="50.00%" stop-color="#5ac276"/><stop offset="50.89%" stop-color="#2bbca9"/><stop offset="51.79%" stop-color="#16b4d4"/><stop offset="52.68%" stop-color="#1db6c6"/><stop offset="53.57%" stop-color="#24b9b8"/><stop offset="54.46%" stop-color="#1aa9da"/><stop offset="55.36%" stop-color="#3181d4"/><stop offset="56.25%" stop-color="#1ca4de"/><stop offset="57.14%" stop-color="#16b4d4"/><stop offset="58.04%" stop-color="#2bbca9"/><stop offset="58.93%" stop-color="#5ac276"/><stop offset="59.82%" stop-color="#2bbca9"/><stop offset="60.71%" stop-color="#16b4d4"/><stop offset="61.61%" stop-color="#2bbca9"/><stop offset="62.50%" stop-color="#5ac276"/><stop offset="63.39%" stop-color="#24b9b8"/><stop offset="64.29%" stop-color="#1aa9da"/><stop offset="65.18%" stop-color="#2bbca9"/><stop offset="66.07%" stop-color="#82c752"/><stop offset="66.96%" stop-color="#5ac276"/><stop offset="67.86%" stop-color="#32be9b"/><stop offset="68.75%" stop-color="#32be9b"/><stop offset="69.64%" stop-color="#32be9b"/><stop offset="70.54%" stop-color="#6ec564"/><stop offset="71.43%" stop-color="#a8c640"/><stop offset="72.32%" stop-color="#a8c640"/><stop offset="73.21%" stop-color="#a8c640"/><stop offset="74.11%" stop-color="#5ac276"/><stop offset="75.00%" stop-color="#24b9b8"/><stop offset="75.89%" stop-color="#1db6c6"/><stop offset="76.79%" stop-color="#16b4d4"/><stop offset="77.68%" stop-color="#1e9ee1"/><stop offset="78.57%" stop-color="#4464c8"/><stop offset="79.46%" stop-color="#1e9ee1"/><stop offset="80.36%" stop-color="#16b4d4"/><stop offset="81.25%" stop-color="#32be9b"/><stop offset="82.14%" stop-color="#82c752"/><stop offset="83.04%" stop-color="#46c089"/><stop offset="83.93%" stop-color="#24b9b8"/><stop offset="84.82%" stop-color="#1db6c6"/><stop offset="85.71%" stop-color="#16b4d4"/><stop offset="86.61%" stop-color="#18aed7"/><stop offset="87.50%" stop-color="#1aa9da"/><stop offset="88.39%" stop-color="#1ca4de"/><stop offset="89.29%" stop-color="#1e9ee1"/><stop offset="90.18%" stop-color="#24b9b8"/><stop offset="91.07%" stop-color="#82c752"/><stop offset="91.96%" stop-color="#a8c640"/><stop offset="92.86%" stop-color="#cdc42d"/><stop offset="93.75%" stop-color="#cdc42d"/><stop offset="94.64%" stop-color="#cdc42d"/><stop offset="95.54%" stop-color="#95c649"/><stop offset="96.43%" stop-color="#5ac276"/><stop offset="97.32%" stop-color="#1db6c6"/><stop offset="98.21%" stop-color="#1e9ee1"/><stop offset="99.11%" stop-color="#1aa9da"/><stop offset="100.00%" stop-color="#16b4d4"/></linearGradient><linearGradient id="gA24" gradientUnits="userSpaceOnUse" x1="156.0" y1="0" x2="1275.0" y2="0"><stop offset="0.00%" stop-color="#1e9ee1"/><stop offset="0.89%" stop-color="#1aa9da"/><stop offset="1.79%" stop-color="#16b4d4"/><stop offset="2.68%" stop-color="#24b9b8"/><stop offset="3.57%" stop-color="#32be9b"/><stop offset="4.46%" stop-color="#82c752"/><stop offset="5.36%" stop-color="#cdc42d"/><stop offset="6.25%" stop-color="#e2c032"/><stop offset="7.14%" stop-color="#f8bc37"/><stop offset="8.04%" stop-color="#f6d42a"/><stop offset="8.93%" stop-color="#f3ec1e"/><stop offset="9.82%" stop-color="#f6d42a"/><stop offset="10.71%" stop-color="#f8bc37"/><stop offset="11.61%" stop-color="#e2c032"/><stop offset="12.50%" stop-color="#cdc42d"/><stop offset="13.39%" stop-color="#5ac276"/><stop offset="14.29%" stop-color="#16b4d4"/><stop offset="15.18%" stop-color="#5ac276"/><stop offset="16.07%" stop-color="#cdc42d"/><stop offset="16.96%" stop-color="#e2c032"/><stop offset="17.86%" stop-color="#f8bc37"/><stop offset="18.75%" stop-color="#f6d42a"/><stop offset="19.64%" stop-color="#f3ec1e"/><stop offset="20.54%" stop-color="#f3ec1e"/><stop offset="21.43%" stop-color="#f3ec1e"/><stop offset="22.32%" stop-color="#f3ec1e"/><stop offset="23.21%" stop-color="#f3ec1e"/><stop offset="24.11%" stop-color="#f3ec1e"/><stop offset="25.00%" stop-color="#f3ec1e"/><stop offset="25.89%" stop-color="#f3ec1e"/><stop offset="26.79%" stop-color="#f3ec1e"/><stop offset="27.68%" stop-color="#f3ec1e"/><stop offset="28.57%" stop-color="#f3ec1e"/><stop offset="29.46%" stop-color="#f6d42a"/><stop offset="30.36%" stop-color="#f8bc37"/><stop offset="31.25%" stop-color="#a8c640"/><stop offset="32.14%" stop-color="#32be9b"/><stop offset="33.04%" stop-color="#32be9b"/><stop offset="33.93%" stop-color="#32be9b"/><stop offset="34.82%" stop-color="#24b9b8"/><stop offset="35.71%" stop-color="#16b4d4"/><stop offset="36.61%" stop-color="#3181d4"/><stop offset="37.50%" stop-color="#4848b2"/><stop offset="38.39%" stop-color="#1e9ee1"/><stop offset="39.29%" stop-color="#32be9b"/><stop offset="40.18%" stop-color="#82c752"/><stop offset="41.07%" stop-color="#cdc42d"/><stop offset="41.96%" stop-color="#a8c640"/><stop offset="42.86%" stop-color="#82c752"/><stop offset="43.75%" stop-color="#5ac276"/><stop offset="44.64%" stop-color="#32be9b"/><stop offset="45.54%" stop-color="#5ac276"/><stop offset="46.43%" stop-color="#82c752"/><stop offset="47.32%" stop-color="#32be9b"/><stop offset="48.21%" stop-color="#16b4d4"/><stop offset="49.11%" stop-color="#32be9b"/><stop offset="50.00%" stop-color="#82c752"/><stop offset="50.89%" stop-color="#32be9b"/><stop offset="51.79%" stop-color="#16b4d4"/><stop offset="52.68%" stop-color="#16b4d4"/><stop offset="53.57%" stop-color="#16b4d4"/><stop offset="54.46%" stop-color="#1aa9da"/><stop offset="55.36%" stop-color="#1e9ee1"/><stop offset="56.25%" stop-color="#1aa9da"/><stop offset="57.14%" stop-color="#16b4d4"/><stop offset="58.04%" stop-color="#24b9b8"/><stop offset="58.93%" stop-color="#32be9b"/><stop offset="59.82%" stop-color="#24b9b8"/><stop offset="60.71%" stop-color="#16b4d4"/><stop offset="61.61%" stop-color="#32be9b"/><stop offset="62.50%" stop-color="#82c752"/><stop offset="63.39%" stop-color="#24b9b8"/><stop offset="64.29%" stop-color="#1e9ee1"/><stop offset="65.18%" stop-color="#24b9b8"/><stop offset="66.07%" stop-color="#82c752"/><stop offset="66.96%" stop-color="#5ac276"/><stop offset="67.86%" stop-color="#32be9b"/><stop offset="68.75%" stop-color="#24b9b8"/><stop offset="69.64%" stop-color="#16b4d4"/><stop offset="70.54%" stop-color="#32be9b"/><stop offset="71.43%" stop-color="#82c752"/><stop offset="72.32%" stop-color="#a8c640"/><stop offset="73.21%" stop-color="#cdc42d"/><stop offset="74.11%" stop-color="#82c752"/><stop offset="75.00%" stop-color="#32be9b"/><stop offset="75.89%" stop-color="#24b9b8"/><stop offset="76.79%" stop-color="#16b4d4"/><stop offset="77.68%" stop-color="#1e9ee1"/><stop offset="78.57%" stop-color="#4464c8"/><stop offset="79.46%" stop-color="#1e9ee1"/><stop offset="80.36%" stop-color="#16b4d4"/><stop offset="81.25%" stop-color="#32be9b"/><stop offset="82.14%" stop-color="#82c752"/><stop offset="83.04%" stop-color="#32be9b"/><stop offset="83.93%" stop-color="#16b4d4"/><stop offset="84.82%" stop-color="#16b4d4"/><stop offset="85.71%" stop-color="#16b4d4"/><stop offset="86.61%" stop-color="#1aa9da"/><stop offset="87.50%" stop-color="#1e9ee1"/><stop offset="88.39%" stop-color="#1e9ee1"/><stop offset="89.29%" stop-color="#1e9ee1"/><stop offset="90.18%" stop-color="#24b9b8"/><stop offset="91.07%" stop-color="#82c752"/><stop offset="91.96%" stop-color="#a8c640"/><stop offset="92.86%" stop-color="#cdc42d"/><stop offset="93.75%" stop-color="#cdc42d"/><stop offset="94.64%" stop-color="#cdc42d"/><stop offset="95.54%" stop-color="#82c752"/><stop offset="96.43%" stop-color="#32be9b"/><stop offset="97.32%" stop-color="#16b4d4"/><stop offset="98.21%" stop-color="#1e9ee1"/><stop offset="99.11%" stop-color="#1aa9da"/><stop offset="100.00%" stop-color="#16b4d4"/></linearGradient><linearGradient id="gA25" gradientUnits="userSpaceOnUse" x1="156.0" y1="0" x2="1275.0" y2="0"><stop offset="0.00%" stop-color="#1e9ee1"/><stop offset="0.89%" stop-color="#1aa9da"/><stop offset="1.79%" stop-color="#16b4d4"/><stop offset="2.68%" stop-color="#2bbca9"/><stop offset="3.57%" stop-color="#5ac276"/><stop offset="4.46%" stop-color="#a8c640"/><stop offset="5.36%" stop-color="#e2c032"/><stop offset="6.25%" stop-color="#edbe34"/><stop offset="7.14%" stop-color="#f8bc37"/><stop offset="8.04%" stop-color="#f6d42a"/><stop offset="8.93%" stop-color="#f3ec1e"/><stop offset="9.82%" stop-color="#f6d42a"/><stop offset="10.71%" stop-color="#f8bc37"/><stop offset="11.61%" stop-color="#e2c032"/><stop offset="12.50%" stop-color="#cdc42d"/><stop offset="13.39%" stop-color="#82c752"/><stop offset="14.29%" stop-color="#32be9b"/><stop offset="15.18%" stop-color="#95c649"/><stop offset="16.07%" stop-color="#e2c032"/><stop offset="16.96%" stop-color="#f8bc37"/><stop offset="17.86%" stop-color="#f6d42a"/><stop offset="18.75%" stop-color="#f4e024"/><stop offset="19.64%" stop-color="#f3ec1e"/><stop offset="20.54%" stop-color="#f3ec1e"/><stop offset="21.43%" stop-color="#f3ec1e"/><stop offset="22.32%" stop-color="#f3ec1e"/><stop offset="23.21%" stop-color="#f3ec1e"/><stop offset="24.11%" stop-color="#f3ec1e"/><stop offset="25.00%" stop-color="#f3ec1e"/><stop offset="25.89%" stop-color="#f3ec1e"/><stop offset="26.79%" stop-color="#f3ec1e"/><stop offset="27.68%" stop-color="#f3ec1e"/><stop offset="28.57%" stop-color="#f3ec1e"/><stop offset="29.46%" stop-color="#f6d42a"/><stop offset="30.36%" stop-color="#f8bc37"/><stop offset="31.25%" stop-color="#a8c640"/><stop offset="32.14%" stop-color="#32be9b"/><stop offset="33.04%" stop-color="#46c089"/><stop offset="33.93%" stop-color="#5ac276"/><stop offset="34.82%" stop-color="#2bbca9"/><stop offset="35.71%" stop-color="#16b4d4"/><stop offset="36.61%" stop-color="#2890db"/><stop offset="37.50%" stop-color="#4656bd"/><stop offset="38.39%" stop-color="#1aa9da"/><stop offset="39.29%" stop-color="#5ac276"/><stop offset="40.18%" stop-color="#95c649"/><stop offset="41.07%" stop-color="#cdc42d"/><stop offset="41.96%" stop-color="#a8c640"/><stop offset="42.86%" stop-color="#82c752"/><stop offset="43.75%" stop-color="#46c089"/><stop offset="44.64%" stop-color="#24b9b8"/><stop offset="45.54%" stop-color="#46c089"/><stop offset="46.43%" stop-color="#82c752"/><stop offset="47.32%" stop-color="#32be9b"/><stop offset="48.21%" stop-color="#16b4d4"/><stop offset="49.11%" stop-color="#32be9b"/><stop offset="50.00%" stop-color="#82c752"/><stop offset="50.89%" stop-color="#32be9b"/><stop offset="51.79%" stop-color="#16b4d4"/><stop offset="52.68%" stop-color="#1db6c6"/><stop offset="53.57%" stop-color="#24b9b8"/><stop offset="54.46%" stop-color="#18aed7"/><stop offset="55.36%" stop-color="#1e9ee1"/><stop offset="56.25%" stop-color="#1aa9da"/><stop offset="57.14%" stop-color="#16b4d4"/><stop offset="58.04%" stop-color="#24b9b8"/><stop offset="58.93%" stop-color="#32be9b"/><stop offset="59.82%" stop-color="#24b9b8"/><stop offset="60.71%" stop-color="#16b4d4"/><stop offset="61.61%" stop-color="#32be9b"/><stop offset="62.50%" stop-color="#82c752"/><stop offset="63.39%" stop-color="#24b9b8"/><stop offset="64.29%" stop-color="#1e9ee1"/><stop offset="65.18%" stop-color="#24b9b8"/><stop offset="66.07%" stop-color="#82c752"/><stop offset="66.96%" stop-color="#5ac276"/><stop offset="67.86%" stop-color="#32be9b"/><stop offset="68.75%" stop-color="#24b9b8"/><stop offset="69.64%" stop-color="#16b4d4"/><stop offset="70.54%" stop-color="#32be9b"/><stop offset="71.43%" stop-color="#82c752"/><stop offset="72.32%" stop-color="#a8c640"/><stop offset="73.21%" stop-color="#cdc42d"/><stop offset="74.11%" stop-color="#82c752"/><stop offset="75.00%" stop-color="#32be9b"/><stop offset="75.89%" stop-color="#24b9b8"/><stop offset="76.79%" stop-color="#16b4d4"/><stop offset="77.68%" stop-color="#1ca4de"/><stop offset="78.57%" stop-color="#3181d4"/><stop offset="79.46%" stop-color="#1ca4de"/><stop offset="80.36%" stop-color="#16b4d4"/><stop offset="81.25%" stop-color="#32be9b"/><stop offset="82.14%" stop-color="#82c752"/><stop offset="83.04%" stop-color="#46c089"/><stop offset="83.93%" stop-color="#24b9b8"/><stop offset="84.82%" stop-color="#1db6c6"/><stop offset="85.71%" stop-color="#16b4d4"/><stop offset="86.61%" stop-color="#18aed7"/><stop offset="87.50%" stop-color="#1aa9da"/><stop offset="88.39%" stop-color="#1ca4de"/><stop offset="89.29%" stop-color="#1e9ee1"/><stop offset="90.18%" stop-color="#24b9b8"/><stop offset="91.07%" stop-color="#82c752"/><stop offset="91.96%" stop-color="#a8c640"/><stop offset="92.86%" stop-color="#cdc42d"/><stop offset="93.75%" stop-color="#cdc42d"/><stop offset="94.64%" stop-color="#cdc42d"/><stop offset="95.54%" stop-color="#82c752"/><stop offset="96.43%" stop-color="#32be9b"/><stop offset="97.32%" stop-color="#16b4d4"/><stop offset="98.21%" stop-color="#1e9ee1"/><stop offset="99.11%" stop-color="#1aa9da"/><stop offset="100.00%" stop-color="#16b4d4"/></linearGradient><linearGradient id="gA26" gradientUnits="userSpaceOnUse" x1="156.0" y1="0" x2="1275.0" y2="0"><stop offset="0.00%" stop-color="#1e9ee1"/><stop offset="0.89%" stop-color="#1aa9da"/><stop offset="1.79%" stop-color="#16b4d4"/><stop offset="2.68%" stop-color="#32be9b"/><stop offset="3.57%" stop-color="#82c752"/><stop offset="4.46%" stop-color="#cdc42d"/><stop offset="5.36%" stop-color="#f8bc37"/><stop offset="6.25%" stop-color="#f8bc37"/><stop offset="7.14%" stop-color="#f8bc37"/><stop offset="8.04%" stop-color="#f6d42a"/><stop offset="8.93%" stop-color="#f3ec1e"/><stop offset="9.82%" stop-color="#f6d42a"/><stop offset="10.71%" stop-color="#f8bc37"/><stop offset="11.61%" stop-color="#e2c032"/><stop offset="12.50%" stop-color="#cdc42d"/><stop offset="13.39%" stop-color="#a8c640"/><stop offset="14.29%" stop-color="#82c752"/><stop offset="15.18%" stop-color="#cdc42d"/><stop offset="16.07%" stop-color="#f8bc37"/><stop offset="16.96%" stop-color="#f6d42a"/><stop offset="17.86%" stop-color="#f3ec1e"/><stop offset="18.75%" stop-color="#f3ec1e"/><stop offset="19.64%" stop-color="#f3ec1e"/><stop offset="20.54%" stop-color="#f3ec1e"/><stop offset="21.43%" stop-color="#f3ec1e"/><stop offset="22.32%" stop-color="#f3ec1e"/><stop offset="23.21%" stop-color="#f3ec1e"/><stop offset="24.11%" stop-color="#f3ec1e"/><stop offset="25.00%" stop-color="#f3ec1e"/><stop offset="25.89%" stop-color="#f3ec1e"/><stop offset="26.79%" stop-color="#f3ec1e"/><stop offset="27.68%" stop-color="#f3ec1e"/><stop offset="28.57%" stop-color="#f3ec1e"/><stop offset="29.46%" stop-color="#f6d42a"/><stop offset="30.36%" stop-color="#f8bc37"/><stop offset="31.25%" stop-color="#a8c640"/><stop offset="32.14%" stop-color="#32be9b"/><stop offset="33.04%" stop-color="#5ac276"/><stop offset="33.93%" stop-color="#82c752"/><stop offset="34.82%" stop-color="#32be9b"/><stop offset="35.71%" stop-color="#16b4d4"/><stop offset="36.61%" stop-color="#1e9ee1"/><stop offset="37.50%" stop-color="#4464c8"/><stop offset="38.39%" stop-color="#16b4d4"/><stop offset="39.29%" stop-color="#82c752"/><stop offset="40.18%" stop-color="#a8c640"/><stop offset="41.07%" stop-color="#cdc42d"/><stop offset="41.96%" stop-color="#a8c640"/><stop offset="42.86%" stop-color="#82c752"/><stop offset="43.75%" stop-color="#32be9b"/><stop offset="44.64%" stop-color="#16b4d4"/><stop offset="45.54%" stop-color="#32be9b"/><stop offset="46.43%" stop-color="#82c752"/><stop offset="47.32%" stop-color="#32be9b"/><stop offset="48.21%" stop-color="#16b4d4"/><stop offset="49.11%" stop-color="#32be9b"/><stop offset="50.00%" stop-color="#82c752"/><stop offset="50.89%" stop-color="#32be9b"/><stop offset="51.79%" stop-color="#16b4d4"/><stop offset="52.68%" stop-color="#24b9b8"/><stop offset="53.57%" stop-color="#32be9b"/><stop offset="54.46%" stop-color="#16b4d4"/><stop offset="55.36%" stop-color="#1e9ee1"/><stop offset="56.25%" stop-color="#1aa9da"/><stop offset="57.14%" stop-color="#16b4d4"/><stop offset="58.04%" stop-color="#24b9b8"/><stop offset="58.93%" stop-color="#32be9b"/><stop offset="59.82%" stop-color="#24b9b8"/><stop offset="60.71%" stop-color="#16b4d4"/><stop offset="61.61%" stop-color="#32be9b"/><stop offset="62.50%" stop-color="#82c752"/><stop offset="63.39%" stop-color="#24b9b8"/><stop offset="64.29%" stop-color="#1e9ee1"/><stop offset="65.18%" stop-color="#24b9b8"/><stop offset="66.07%" stop-color="#82c752"/><stop offset="66.96%" stop-color="#5ac276"/><stop offset="67.86%" stop-color="#32be9b"/><stop offset="68.75%" stop-color="#24b9b8"/><stop offset="69.64%" stop-color="#16b4d4"/><stop offset="70.54%" stop-color="#32be9b"/><stop offset="71.43%" stop-color="#82c752"/><stop offset="72.32%" stop-color="#a8c640"/><stop offset="73.21%" stop-color="#cdc42d"/><stop offset="74.11%" stop-color="#82c752"/><stop offset="75.00%" stop-color="#32be9b"/><stop offset="75.89%" stop-color="#24b9b8"/><stop offset="76.79%" stop-color="#16b4d4"/><stop offset="77.68%" stop-color="#1aa9da"/><stop offset="78.57%" stop-color="#1e9ee1"/><stop offset="79.46%" stop-color="#1aa9da"/><stop offset="80.36%" stop-color="#16b4d4"/><stop offset="81.25%" stop-color="#32be9b"/><stop offset="82.14%" stop-color="#82c752"/><stop offset="83.04%" stop-color="#5ac276"/><stop offset="83.93%" stop-color="#32be9b"/><stop offset="84.82%" stop-color="#24b9b8"/><stop offset="85.71%" stop-color="#16b4d4"/><stop offset="86.61%" stop-color="#16b4d4"/><stop offset="87.50%" stop-color="#16b4d4"/><stop offset="88.39%" stop-color="#1aa9da"/><stop offset="89.29%" stop-color="#1e9ee1"/><stop offset="90.18%" stop-color="#24b9b8"/><stop offset="91.07%" stop-color="#82c752"/><stop offset="91.96%" stop-color="#a8c640"/><stop offset="92.86%" stop-color="#cdc42d"/><stop offset="93.75%" stop-color="#cdc42d"/><stop offset="94.64%" stop-color="#cdc42d"/><stop offset="95.54%" stop-color="#82c752"/><stop offset="96.43%" stop-color="#32be9b"/><stop offset="97.32%" stop-color="#16b4d4"/><stop offset="98.21%" stop-color="#1e9ee1"/><stop offset="99.11%" stop-color="#1aa9da"/><stop offset="100.00%" stop-color="#16b4d4"/></linearGradient></defs>
<clipPath id="clipA"><rect x="146" y="42" width="1139" height="277"/></clipPath>
<g clip-path="url(#clipA)"><g filter="url(#bl)">
<rect x="126" y="22" width="1179" height="30.39" fill="url(#gA0)"/>
<rect x="126" y="51.89" width="1179" height="10.19" fill="url(#gA1)"/>
<rect x="126" y="51.89" width="1179" height="10.19" fill="url(#gA0)" mask="url(#fade)"/>
<rect x="126" y="61.79" width="1179" height="10.19" fill="url(#gA2)"/>
<rect x="126" y="61.79" width="1179" height="10.19" fill="url(#gA1)" mask="url(#fade)"/>
<rect x="126" y="71.68" width="1179" height="10.19" fill="url(#gA3)"/>
<rect x="126" y="71.68" width="1179" height="10.19" fill="url(#gA2)" mask="url(#fade)"/>
<rect x="126" y="81.57" width="1179" height="10.19" fill="url(#gA4)"/>
<rect x="126" y="81.57" width="1179" height="10.19" fill="url(#gA3)" mask="url(#fade)"/>
<rect x="126" y="91.46" width="1179" height="10.19" fill="url(#gA5)"/>
<rect x="126" y="91.46" width="1179" height="10.19" fill="url(#gA4)" mask="url(#fade)"/>
<rect x="126" y="101.36" width="1179" height="10.19" fill="url(#gA6)"/>
<rect x="126" y="101.36" width="1179" height="10.19" fill="url(#gA5)" mask="url(#fade)"/>
<rect x="126" y="111.25" width="1179" height="10.19" fill="url(#gA7)"/>
<rect x="126" y="111.25" width="1179" height="10.19" fill="url(#gA6)" mask="url(#fade)"/>
<rect x="126" y="121.14" width="1179" height="10.19" fill="url(#gA8)"/>
<rect x="126" y="121.14" width="1179" height="10.19" fill="url(#gA7)" mask="url(#fade)"/>
<rect x="126" y="131.04" width="1179" height="10.19" fill="url(#gA9)"/>
<rect x="126" y="131.04" width="1179" height="10.19" fill="url(#gA8)" mask="url(#fade)"/>
<rect x="126" y="140.93" width="1179" height="10.19" fill="url(#gA10)"/>
<rect x="126" y="140.93" width="1179" height="10.19" fill="url(#gA9)" mask="url(#fade)"/>
<rect x="126" y="150.82" width="1179" height="10.19" fill="url(#gA11)"/>
<rect x="126" y="150.82" width="1179" height="10.19" fill="url(#gA10)" mask="url(#fade)"/>
<rect x="126" y="160.71" width="1179" height="10.19" fill="url(#gA12)"/>
<rect x="126" y="160.71" width="1179" height="10.19" fill="url(#gA11)" mask="url(#fade)"/>
<rect x="126" y="170.61" width="1179" height="10.19" fill="url(#gA13)"/>
<rect x="126" y="170.61" width="1179" height="10.19" fill="url(#gA12)" mask="url(#fade)"/>
<rect x="126" y="180.50" width="1179" height="10.19" fill="url(#gA14)"/>
<rect x="126" y="180.50" width="1179" height="10.19" fill="url(#gA13)" mask="url(#fade)"/>
<rect x="126" y="190.39" width="1179" height="10.19" fill="url(#gA15)"/>
<rect x="126" y="190.39" width="1179" height="10.19" fill="url(#gA14)" mask="url(#fade)"/>
<rect x="126" y="200.29" width="1179" height="10.19" fill="url(#gA16)"/>
<rect x="126" y="200.29" width="1179" height="10.19" fill="url(#gA15)" mask="url(#fade)"/>
<rect x="126" y="210.18" width="1179" height="10.19" fill="url(#gA17)"/>
<rect x="126" y="210.18" width="1179" height="10.19" fill="url(#gA16)" mask="url(#fade)"/>
<rect x="126" y="220.07" width="1179" height="10.19" fill="url(#gA18)"/>
<rect x="126" y="220.07" width="1179" height="10.19" fill="url(#gA17)" mask="url(#fade)"/>
<rect x="126" y="229.96" width="1179" height="10.19" fill="url(#gA19)"/>
<rect x="126" y="229.96" width="1179" height="10.19" fill="url(#gA18)" mask="url(#fade)"/>
<rect x="126" y="239.86" width="1179" height="10.19" fill="url(#gA20)"/>
<rect x="126" y="239.86" width="1179" height="10.19" fill="url(#gA19)" mask="url(#fade)"/>
<rect x="126" y="249.75" width="1179" height="10.19" fill="url(#gA21)"/>
<rect x="126" y="249.75" width="1179" height="10.19" fill="url(#gA20)" mask="url(#fade)"/>
<rect x="126" y="259.64" width="1179" height="10.19" fill="url(#gA22)"/>
<rect x="126" y="259.64" width="1179" height="10.19" fill="url(#gA21)" mask="url(#fade)"/>
<rect x="126" y="269.54" width="1179" height="10.19" fill="url(#gA23)"/>
<rect x="126" y="269.54" width="1179" height="10.19" fill="url(#gA22)" mask="url(#fade)"/>
<rect x="126" y="279.43" width="1179" height="10.19" fill="url(#gA24)"/>
<rect x="126" y="279.43" width="1179" height="10.19" fill="url(#gA23)" mask="url(#fade)"/>
<rect x="126" y="289.32" width="1179" height="10.19" fill="url(#gA25)"/>
<rect x="126" y="289.32" width="1179" height="10.19" fill="url(#gA24)" mask="url(#fade)"/>
<rect x="126" y="299.21" width="1179" height="10.19" fill="url(#gA26)"/>
<rect x="126" y="299.21" width="1179" height="10.19" fill="url(#gA25)" mask="url(#fade)"/>
<rect x="126" y="309.11" width="1179" height="29.89" fill="url(#gA26)"/>
</g></g>
<text x="918" y="313.3" font-size="38" fill="#fff">2006.03.18 00:00</text>
<g clip-path="url(#clipA)"><path d="M146.0,63.5 C148.8,63.2 157.0,61.2 162.5,61.5 C168.0,61.8 174.6,63.6 179.0,65.2 C183.4,66.8 184.8,69.6 189.0,71.0 C193.2,72.4 198.8,73.0 204.0,73.4 C209.2,73.8 214.9,73.8 220.4,73.4 C225.9,73.0 231.5,71.5 237.0,71.0 C242.5,70.5 248.0,70.4 253.5,70.1 C259.0,69.8 264.5,69.6 270.0,69.3 C275.5,69.0 281.1,68.5 286.6,68.5 C292.1,68.5 297.5,68.9 303.0,69.3 C308.5,69.7 314.2,70.9 319.7,71.0 C325.2,71.1 331.8,70.7 336.2,70.1 C340.6,69.5 343.0,68.8 346.0,67.6 C349.0,66.4 350.2,63.4 354.3,62.7 C358.4,62.0 363.9,63.0 370.8,63.5 C377.7,64.0 387.3,65.3 395.6,66.0 C403.9,66.7 414.3,67.7 420.4,67.6 C426.5,67.5 427.9,65.2 432.0,65.2 C436.1,65.2 440.3,67.5 445.3,67.6 C450.3,67.7 456.3,66.1 461.8,66.0 C467.3,65.9 471.4,66.4 478.3,66.8 C485.2,67.2 496.3,68.0 503.2,68.5 C510.1,69.0 512.6,69.4 519.7,70.1 C526.8,70.8 538.9,72.3 546.0,72.6 C553.1,72.9 555.6,72.2 562.5,71.8 C569.4,71.4 579.7,69.8 587.4,70.1 C595.1,70.4 602.0,74.2 608.9,73.4 C615.8,72.6 622.6,67.0 628.7,65.2 C634.8,63.4 639.8,62.7 645.3,62.7 C650.8,62.7 656.3,65.3 661.8,65.2 C667.3,65.1 671.4,63.6 678.3,61.9 C685.2,60.2 696.3,55.9 703.2,55.2 C710.1,54.5 714.5,57.2 719.7,57.7 C724.9,58.2 731.0,56.7 734.6,58.5 C738.2,60.3 739.3,66.2 741.2,68.5 C743.1,70.8 741.1,71.7 746.0,72.2 C750.9,72.8 762.5,72.2 770.8,71.8 C779.1,71.4 787.3,70.5 795.6,70.1 C803.9,69.7 812.1,69.8 820.4,69.3 C828.7,68.8 837.8,68.3 845.3,66.8 C852.8,65.3 859.6,61.6 865.1,60.2 C870.6,58.8 874.7,58.2 878.3,58.5 C881.9,58.8 882.5,61.1 886.6,61.9 C890.8,62.7 897.7,63.0 903.2,63.5 C908.7,64.0 912.6,64.9 919.7,65.2 C926.8,65.5 937.5,65.5 946.0,65.2 C954.5,64.9 963.9,63.6 970.8,63.5 C977.7,63.4 983.0,64.8 987.4,64.3 C991.8,63.8 993.2,59.7 997.3,60.2 C1001.4,60.8 1008.4,65.7 1012.2,67.6 C1016.1,69.5 1017.1,72.1 1020.4,71.8 C1023.7,71.5 1029.0,65.9 1032.0,66.0 C1035.0,66.1 1033.6,71.5 1038.6,72.6 C1043.6,73.7 1055.2,72.7 1061.8,72.6 C1068.4,72.5 1072.8,73.0 1078.3,71.8 C1083.8,70.6 1089.4,66.6 1094.9,65.2 C1100.4,63.8 1105.3,64.0 1111.4,63.5 C1117.5,63.0 1126.9,61.5 1131.3,61.9 C1135.7,62.3 1135.5,64.9 1137.9,66.0 C1140.4,67.1 1141.9,68.5 1146.0,68.5 C1150.1,68.5 1157.1,66.7 1162.6,66.0 C1168.1,65.3 1173.6,64.0 1179.1,64.4 C1184.6,64.8 1190.2,67.3 1195.7,68.5 C1201.2,69.7 1207.2,71.0 1212.2,71.8 C1217.2,72.6 1221.1,73.5 1225.5,73.5 C1229.9,73.5 1234.0,72.4 1238.7,71.8 C1243.4,71.2 1248.3,71.2 1253.6,70.1 C1258.8,69.0 1264.8,66.7 1270.2,65.2 C1275.6,63.7 1283.4,61.7 1286.0,61.0" fill="none" stroke="#000" stroke-width="2.1" stroke-linejoin="round" stroke-linecap="round"/>
<path d="M146.0,85.8 C148.8,85.1 158.1,82.6 162.5,81.7 C166.9,80.8 168.3,80.4 172.5,80.4 C176.7,80.4 182.2,81.6 187.4,81.7 C192.7,81.8 198.5,80.9 204.0,80.9 C209.5,80.9 214.9,81.7 220.4,81.7 C225.9,81.7 231.5,81.1 237.0,80.9 C242.5,80.7 248.0,80.4 253.5,80.4 C259.0,80.4 265.9,80.6 270.0,80.9 C274.1,81.2 276.1,81.4 278.3,82.5 C280.5,83.6 281.4,86.5 283.3,87.5 C285.2,88.5 286.7,88.4 290.0,88.3 C293.3,88.2 298.1,87.5 303.0,86.7 C307.9,85.9 314.2,84.9 319.7,83.4 C325.2,81.9 331.8,78.7 336.2,77.6 C340.6,76.5 341.6,77.2 346.0,76.7 C350.4,76.2 357.0,74.6 362.5,74.3 C368.0,74.0 374.1,74.5 379.1,75.1 C384.1,75.6 386.8,77.3 392.3,77.6 C397.8,77.9 406.1,76.3 412.2,76.7 C418.3,77.1 424.3,79.0 428.7,80.0 C433.1,81.0 435.8,82.6 438.6,82.5 C441.4,82.4 441.4,79.3 445.3,79.2 C449.2,79.1 456.9,81.6 461.8,81.7 C466.8,81.8 470.9,80.0 475.0,80.0 C479.1,80.0 481.9,80.5 486.6,81.7 C491.3,83.0 497.7,86.3 503.2,87.5 C508.7,88.7 514.2,89.5 519.7,89.1 C525.2,88.7 531.8,85.5 536.2,85.0 C540.6,84.5 541.6,85.5 546.0,86.2 C550.4,86.9 557.0,88.8 562.5,89.1 C568.0,89.4 572.2,89.1 579.1,88.3 C586.0,87.5 597.0,85.7 603.9,84.2 C610.8,82.7 614.9,80.7 620.4,79.2 C625.9,77.7 631.5,75.9 637.0,75.1 C642.5,74.3 648.0,74.8 653.5,74.3 C659.0,73.8 664.6,72.5 670.1,71.8 C675.6,71.1 679.7,70.6 686.6,70.1 C693.5,69.5 705.6,68.0 711.4,68.5 C717.2,69.0 718.1,70.5 721.4,73.4 C724.7,76.3 727.2,83.8 731.3,85.8 C735.4,87.8 740.8,85.2 746.0,85.4 C751.2,85.6 757.5,86.6 762.5,86.7 C767.5,86.8 771.6,86.8 775.8,85.8 C779.9,84.8 782.7,81.7 787.4,80.9 C792.1,80.1 798.4,80.5 803.9,80.9 C809.4,81.3 814.9,83.0 820.4,83.4 C825.9,83.8 830.6,83.8 837.0,83.4 C843.4,83.0 853.0,82.7 858.5,80.9 C864.0,79.1 866.8,74.4 870.1,72.6 C873.4,70.8 872.8,69.4 878.3,70.1 C883.8,70.8 894.9,75.6 903.2,76.7 C911.5,77.8 920.9,77.2 928.0,76.7 C935.1,76.2 940.2,74.5 946.0,74.0 C951.8,73.5 957.0,73.1 962.5,73.4 C968.0,73.7 975.5,74.5 979.1,75.9 C982.7,77.3 981.2,80.2 984.0,81.7 C986.8,83.2 990.9,84.2 995.6,85.0 C1000.3,85.8 1008.1,86.7 1012.2,86.7 C1016.3,86.7 1017.1,85.8 1020.4,85.0 C1023.7,84.2 1027.8,82.5 1032.0,81.7 C1036.2,80.9 1040.3,80.1 1045.3,80.0 C1050.3,79.9 1056.3,80.6 1061.8,80.9 C1067.3,81.2 1072.8,81.6 1078.3,81.7 C1083.8,81.8 1089.4,82.2 1094.9,81.7 C1100.4,81.2 1105.9,79.0 1111.4,78.4 C1116.9,77.9 1124.1,78.8 1128.0,78.4 C1131.9,78.0 1131.6,76.2 1134.6,75.9 C1137.6,75.6 1140.0,76.4 1146.0,76.3 C1152.0,76.2 1165.3,73.6 1170.8,75.1 C1176.3,76.5 1176.6,84.6 1179.1,85.0 C1181.6,85.4 1183.8,78.1 1185.7,77.6 C1187.6,77.0 1187.7,81.2 1190.7,81.7 C1193.7,82.2 1198.9,80.4 1203.9,80.9 C1208.9,81.5 1215.0,85.1 1220.5,85.0 C1226.0,84.9 1231.5,81.3 1237.0,80.1 C1242.5,78.9 1248.1,78.2 1253.6,77.6 C1259.1,77.0 1264.8,76.7 1270.2,76.7 C1275.6,76.7 1283.4,77.4 1286.0,77.6" fill="none" stroke="#000" stroke-width="2.1" stroke-linejoin="round" stroke-linecap="round"/>
<path d="M146.0,103.2 C148.8,103.2 157.0,103.8 162.5,103.2 C168.0,102.7 174.6,101.3 179.0,99.9 C183.4,98.5 185.7,96.6 189.0,94.9 C192.3,93.2 195.1,90.5 199.0,90.0 C202.9,89.5 207.2,90.8 212.2,91.6 C217.1,92.4 223.2,93.7 228.7,94.9 C234.2,96.2 241.2,98.1 245.3,99.1 C249.4,100.1 251.8,98.4 253.5,100.7 C255.2,103.0 254.4,110.8 255.2,113.1 C256.0,115.4 256.0,115.1 258.5,114.8 C261.0,114.5 265.3,112.9 270.0,111.5 C274.7,110.1 281.1,108.2 286.6,106.5 C292.1,104.8 297.5,103.1 303.0,101.6 C308.5,100.1 314.2,97.8 319.7,97.4 C325.2,97.0 331.8,98.2 336.2,99.1 C340.6,100.0 341.6,102.0 346.0,102.8 C350.4,103.6 357.0,103.7 362.5,104.0 C368.0,104.3 373.6,104.6 379.1,104.9 C384.6,105.2 389.5,106.2 395.6,105.7 C401.7,105.2 409.4,102.7 415.5,101.6 C421.6,100.5 427.0,99.2 432.0,99.1 C437.0,98.9 441.4,99.3 445.3,100.7 C449.2,102.1 451.1,106.9 455.2,107.3 C459.3,107.7 464.0,103.9 470.1,103.2 C476.2,102.5 486.1,102.2 491.6,103.2 C497.1,104.2 498.5,107.5 503.2,109.0 C507.9,110.5 514.2,111.9 519.7,112.3 C525.2,112.7 531.8,112.2 536.2,111.5 C540.6,110.8 541.0,108.2 546.0,108.2 C551.0,108.2 559.0,111.0 565.9,111.5 C572.8,112.0 581.1,112.3 587.4,111.5 C593.7,110.7 598.4,107.8 603.9,106.5 C609.4,105.2 616.3,105.2 620.4,104.0 C624.5,102.8 624.6,100.3 628.7,99.1 C632.9,97.9 639.8,98.1 645.3,96.6 C650.8,95.1 656.8,91.4 661.8,90.0 C666.8,88.6 671.4,87.5 675.0,88.3 C678.6,89.1 680.8,90.5 683.3,94.9 C685.8,99.3 688.0,111.1 689.9,114.8 C691.8,118.5 691.3,117.6 694.9,117.3 C698.5,117.0 705.9,115.7 711.4,113.1 C716.9,110.5 722.2,104.8 728.0,101.6 C733.8,98.4 740.2,94.7 746.0,94.1 C751.8,93.5 757.0,96.5 762.5,98.2 C768.0,99.9 773.6,102.9 779.1,104.0 C784.6,105.1 790.1,104.2 795.6,104.9 C801.1,105.6 806.7,108.2 812.2,108.2 C817.7,108.2 823.2,105.3 828.7,104.9 C834.2,104.5 839.8,105.2 845.3,105.7 C850.8,106.2 857.7,106.4 861.8,108.2 C865.9,110.0 866.0,115.9 870.1,116.4 C874.2,117.0 881.1,113.7 886.6,111.5 C892.1,109.3 897.7,105.3 903.2,103.2 C908.7,101.1 914.2,100.3 919.7,99.1 C925.2,97.9 931.8,96.1 936.2,95.8 C940.6,95.5 941.6,96.0 946.0,97.4 C950.4,98.8 957.0,101.9 962.5,104.0 C968.0,106.1 973.6,109.1 979.1,109.8 C984.6,110.5 990.1,109.0 995.6,108.2 C1001.1,107.4 1007.5,104.5 1012.2,104.9 C1016.9,105.3 1020.5,108.8 1023.8,110.6 C1027.1,112.4 1029.5,116.8 1032.0,115.6 C1034.5,114.4 1035.0,105.5 1038.6,103.2 C1042.2,100.9 1048.2,101.5 1053.5,101.6 C1058.8,101.7 1064.6,103.7 1070.1,104.0 C1075.6,104.3 1081.1,102.7 1086.6,103.2 C1092.1,103.8 1097.7,106.3 1103.2,107.3 C1108.7,108.3 1114.2,109.0 1119.7,109.0 C1125.2,109.0 1131.8,108.7 1136.2,107.3 C1140.6,105.9 1142.2,100.8 1146.0,100.8 C1149.8,100.8 1153.7,106.6 1159.2,107.4 C1164.7,108.2 1173.0,107.0 1179.1,105.7 C1185.2,104.5 1190.2,101.1 1195.7,99.9 C1201.2,98.7 1206.7,98.7 1212.2,98.3 C1217.7,97.9 1223.3,97.2 1228.8,97.5 C1234.3,97.8 1239.8,99.1 1245.3,99.9 C1250.8,100.7 1257.2,100.7 1261.9,102.4 C1266.6,104.1 1269.5,109.1 1273.5,109.9 C1277.5,110.7 1283.9,107.8 1286.0,107.4" fill="none" stroke="#000" stroke-width="2.1" stroke-linejoin="round" stroke-linecap="round"/>
<path d="M146.0,114.8 C148.8,114.0 157.0,110.3 162.5,109.8 C168.0,109.2 173.5,112.6 179.0,111.5 C184.5,110.4 190.1,105.1 195.6,103.2 C201.1,101.3 207.2,99.9 212.2,99.9 C217.2,99.9 221.3,101.3 225.4,103.2 C229.5,105.1 233.7,108.5 237.0,111.5 C240.3,114.5 243.4,118.9 245.3,121.4 C247.2,123.9 246.9,125.4 248.6,126.4 C250.2,127.4 251.6,128.0 255.2,127.2 C258.8,126.4 264.8,123.5 270.0,121.4 C275.2,119.3 281.1,117.0 286.6,114.8 C292.1,112.6 297.5,109.8 303.0,108.2 C308.5,106.6 314.2,104.9 319.7,104.9 C325.2,104.9 331.8,106.7 336.2,108.2 C340.6,109.7 341.6,113.3 346.0,114.0 C350.4,114.7 357.0,111.8 362.5,112.3 C368.0,112.8 373.6,116.8 379.1,117.3 C384.6,117.8 390.1,116.0 395.6,115.6 C401.1,115.2 406.7,116.3 412.2,114.8 C417.7,113.3 423.8,108.0 428.7,106.5 C433.6,105.0 438.6,104.3 441.9,105.7 C445.2,107.1 446.4,112.5 448.6,114.8 C450.8,117.1 451.9,120.0 455.2,119.7 C458.5,119.4 464.5,113.4 468.4,113.1 C472.2,112.8 473.9,116.2 478.3,118.1 C482.7,120.0 489.4,124.4 494.9,124.7 C500.4,125.0 505.9,120.2 511.4,119.7 C516.9,119.2 522.2,121.5 528.0,121.4 C533.8,121.3 539.7,119.6 546.0,119.3 C552.3,119.0 559.0,119.5 565.9,119.7 C572.8,119.9 581.1,121.0 587.4,120.6 C593.7,120.2 598.4,118.3 603.9,117.3 C609.4,116.3 616.3,116.0 620.4,114.8 C624.5,113.5 624.6,111.4 628.7,109.8 C632.9,108.2 639.8,106.8 645.3,104.9 C650.8,103.0 657.1,99.2 661.8,98.2 C666.5,97.2 670.6,96.9 673.4,99.1 C676.1,101.3 676.6,105.8 678.3,111.5 C679.9,117.2 680.5,130.2 683.3,133.0 C686.1,135.8 690.2,129.9 694.9,128.0 C699.6,126.1 705.9,124.7 711.4,121.4 C716.9,118.1 722.2,111.1 728.0,108.2 C733.8,105.3 738.9,104.5 746.0,104.0 C753.1,103.5 764.5,103.1 770.8,104.9 C777.1,106.7 779.9,113.3 784.0,114.8 C788.1,116.3 791.7,113.5 795.6,114.0 C799.5,114.5 803.1,118.2 807.2,118.1 C811.3,117.9 815.4,113.9 820.4,113.1 C825.4,112.3 831.5,112.9 837.0,113.1 C842.5,113.2 849.4,113.5 853.5,114.0 C857.6,114.5 859.6,114.9 861.8,116.4 C864.0,117.9 864.0,122.3 866.8,123.1 C869.5,123.9 873.6,122.4 878.3,121.4 C883.0,120.4 889.4,118.7 894.9,117.3 C900.4,115.9 905.9,114.9 911.4,113.1 C916.9,111.3 922.2,107.5 928.0,106.5 C933.8,105.5 940.2,105.1 946.0,107.0 C951.8,108.9 957.0,116.1 962.5,118.1 C968.0,120.1 973.6,119.5 979.1,118.9 C984.6,118.4 990.1,115.9 995.6,114.8 C1001.1,113.7 1007.5,111.8 1012.2,112.3 C1016.9,112.8 1020.5,116.0 1023.8,118.1 C1027.1,120.2 1029.5,125.8 1032.0,124.7 C1034.5,123.6 1035.0,113.4 1038.6,111.5 C1042.2,109.6 1048.2,112.0 1053.5,113.1 C1058.8,114.2 1064.6,118.4 1070.1,118.1 C1075.6,117.8 1081.1,111.8 1086.6,111.5 C1092.1,111.2 1097.7,115.7 1103.2,116.4 C1108.7,117.1 1114.2,114.5 1119.7,115.6 C1125.2,116.7 1131.8,122.7 1136.2,123.1 C1140.6,123.5 1143.0,118.0 1146.0,118.2 C1149.0,118.4 1150.2,124.0 1154.3,124.0 C1158.4,124.0 1165.3,120.1 1170.8,118.2 C1176.3,116.3 1181.9,114.1 1187.4,112.4 C1192.9,110.7 1198.4,109.2 1203.9,108.2 C1209.4,107.2 1215.0,106.4 1220.5,106.6 C1226.0,106.8 1231.5,108.0 1237.0,109.1 C1242.5,110.2 1248.1,111.0 1253.6,113.2 C1259.1,115.4 1264.8,121.5 1270.2,122.3 C1275.6,123.1 1283.4,118.9 1286.0,118.2" fill="none" stroke="#000" stroke-width="2.1" stroke-linejoin="round" stroke-linecap="round"/>
<path d="M146.0,128.0 C148.8,127.2 157.5,122.8 162.5,123.1 C167.5,123.4 171.7,128.2 175.8,129.7 C180.0,131.2 182.7,133.3 187.4,132.2 C192.1,131.1 199.1,126.0 204.0,123.1 C208.9,120.2 213.0,115.4 217.1,114.8 C221.2,114.2 225.1,117.0 228.7,119.7 C232.3,122.5 235.8,128.0 238.6,131.3 C241.4,134.6 242.8,137.7 245.3,139.6 C247.8,141.5 249.4,143.4 253.5,142.9 C257.6,142.4 264.5,139.3 270.0,136.3 C275.5,133.3 281.1,127.7 286.6,124.7 C292.1,121.7 297.5,118.9 303.0,118.1 C308.5,117.3 314.2,118.9 319.7,119.7 C325.2,120.5 331.8,121.3 336.2,123.1 C340.6,124.9 341.6,129.0 346.0,130.5 C350.4,132.0 357.0,132.5 362.5,132.2 C368.0,131.9 373.6,129.4 379.1,128.8 C384.6,128.2 389.5,129.5 395.6,128.8 C401.7,128.1 410.0,126.1 415.5,124.7 C421.0,123.3 424.8,121.1 428.7,120.6 C432.6,120.0 435.8,119.3 438.6,121.4 C441.4,123.5 441.4,129.7 445.3,133.0 C449.2,136.3 456.3,140.2 461.8,141.3 C467.3,142.4 473.9,139.1 478.3,139.6 C482.7,140.1 484.2,145.4 488.3,144.6 C492.4,143.8 498.0,136.4 503.2,134.6 C508.4,132.8 514.2,133.5 519.7,133.8 C525.2,134.1 531.8,135.6 536.2,136.3 C540.6,137.0 541.6,138.7 546.0,138.0 C550.4,137.3 557.0,132.8 562.5,132.2 C568.0,131.6 573.6,134.8 579.1,134.6 C584.6,134.4 590.1,132.4 595.6,131.3 C601.1,130.2 606.7,129.1 612.2,128.0 C617.7,126.9 623.2,126.1 628.7,124.7 C634.2,123.3 639.8,121.1 645.3,119.7 C650.8,118.3 658.5,115.0 661.8,116.4 C665.1,117.8 663.5,123.3 665.1,128.0 C666.8,132.7 669.5,141.3 671.7,144.6 C673.9,147.9 674.4,149.0 678.3,147.9 C682.2,146.8 689.4,140.2 694.9,138.0 C700.4,135.8 705.9,136.3 711.4,134.6 C716.9,132.9 722.2,130.8 728.0,128.0 C733.8,125.2 740.2,119.8 746.0,117.7 C751.8,115.6 757.8,115.3 762.5,115.6 C767.2,115.9 770.8,116.9 774.1,119.7 C777.4,122.5 778.8,130.7 782.4,132.2 C786.0,133.7 790.6,129.5 795.6,128.8 C800.6,128.1 806.7,128.4 812.2,128.0 C817.7,127.6 823.2,126.4 828.7,126.4 C834.2,126.4 841.2,128.3 845.3,128.0 C849.4,127.7 850.8,123.2 853.5,124.7 C856.2,126.2 857.7,136.3 861.8,137.1 C865.9,137.9 872.8,130.4 878.3,129.7 C883.8,129.0 889.4,133.0 894.9,133.0 C900.4,133.0 905.9,130.7 911.4,129.7 C916.9,128.7 922.2,127.1 928.0,127.2 C933.8,127.3 940.2,129.0 946.0,130.5 C951.8,132.0 957.0,135.9 962.5,136.3 C968.0,136.7 973.6,134.2 979.1,133.0 C984.6,131.8 990.1,130.1 995.6,128.8 C1001.1,127.6 1007.5,125.1 1012.2,125.5 C1016.9,125.9 1020.5,129.1 1023.8,131.3 C1027.1,133.5 1029.5,139.6 1032.0,138.8 C1034.5,138.0 1035.0,127.5 1038.6,126.4 C1042.2,125.3 1049.1,130.7 1053.5,132.2 C1057.9,133.7 1061.0,136.3 1065.1,135.5 C1069.2,134.7 1073.3,127.9 1078.3,127.2 C1083.3,126.5 1089.4,130.3 1094.9,131.3 C1100.4,132.3 1105.9,133.3 1111.4,133.0 C1116.9,132.7 1123.6,127.8 1128.0,129.7 C1132.4,131.6 1134.9,142.1 1137.9,144.6 C1140.9,147.1 1141.9,145.7 1146.0,144.6 C1150.1,143.5 1157.1,141.3 1162.6,138.0 C1168.1,134.7 1173.6,126.7 1179.1,124.8 C1184.6,122.9 1190.2,126.7 1195.7,126.4 C1201.2,126.1 1206.7,123.5 1212.2,123.1 C1217.7,122.7 1223.3,122.9 1228.8,124.0 C1234.3,125.1 1239.8,127.6 1245.3,129.7 C1250.8,131.8 1255.1,135.4 1261.9,136.4 C1268.7,137.4 1282.0,135.7 1286.0,135.5" fill="none" stroke="#000" stroke-width="2.1" stroke-linejoin="round" stroke-linecap="round"/>
<path d="M146.0,152.0 C148.8,152.1 157.0,151.4 162.5,152.8 C168.0,154.2 173.5,159.8 179.0,160.3 C184.5,160.9 190.6,156.5 195.6,156.1 C200.6,155.7 205.0,159.7 208.9,157.8 C212.8,155.9 216.3,146.2 218.8,144.6 C221.3,142.9 221.9,144.3 223.8,147.9 C225.7,151.5 227.9,164.4 230.4,166.1 C232.9,167.8 235.6,158.6 238.6,157.8 C241.6,157.0 244.7,159.2 248.6,161.1 C252.5,163.0 257.9,169.4 261.8,169.4 C265.7,169.4 268.9,164.7 271.7,161.1 C274.4,157.5 275.8,149.0 278.3,147.9 C280.8,146.8 282.5,154.5 286.6,154.5 C290.7,154.5 297.5,148.7 303.0,147.9 C308.5,147.1 314.2,148.1 319.7,149.5 C325.2,150.9 331.8,155.0 336.2,156.1 C340.6,157.2 341.6,153.1 346.0,156.1 C350.4,159.1 357.0,173.7 362.5,174.3 C368.0,174.9 374.7,161.7 379.1,159.5 C383.5,157.3 384.0,162.5 389.0,161.1 C394.0,159.7 403.4,154.4 408.9,151.2 C414.4,148.0 418.5,142.6 422.1,142.1 C425.7,141.6 427.4,142.5 430.4,147.9 C433.4,153.3 437.3,169.8 440.3,174.3 C443.3,178.9 443.6,176.0 448.6,175.2 C453.6,174.4 462.9,171.5 470.1,169.4 C477.3,167.3 485.8,165.8 491.6,162.8 C497.4,159.8 501.5,152.3 504.8,151.2 C508.1,150.1 507.5,154.7 511.4,156.1 C515.3,157.5 522.2,159.2 528.0,159.5 C533.8,159.8 540.2,158.1 546.0,157.8 C551.8,157.5 557.0,157.0 562.5,157.8 C568.0,158.6 573.6,163.9 579.1,162.8 C584.6,161.7 590.1,153.4 595.6,151.2 C601.1,149.0 606.7,148.9 612.2,149.5 C617.7,150.1 623.8,155.1 628.7,154.5 C633.7,153.9 638.3,147.0 641.9,146.2 C645.5,145.4 648.0,145.4 650.2,149.5 C652.4,153.6 651.9,166.3 655.2,171.0 C658.5,175.7 666.2,177.6 670.1,177.6 C674.0,177.6 674.2,173.2 678.3,171.0 C682.4,168.8 689.4,166.6 694.9,164.4 C700.4,162.2 705.9,158.4 711.4,157.8 C716.9,157.2 722.2,162.6 728.0,161.1 C733.8,159.6 741.4,151.7 746.0,148.7 C750.6,145.7 751.2,144.3 755.9,142.9 C760.6,141.5 769.7,138.8 774.1,140.4 C778.5,142.1 778.8,150.3 782.4,152.8 C786.0,155.3 790.6,154.8 795.6,155.3 C800.6,155.9 806.7,156.2 812.2,156.1 C817.7,156.0 823.2,155.3 828.7,154.5 C834.2,153.7 841.7,152.0 845.3,151.2 C848.9,150.4 848.0,147.2 850.2,149.5 C852.4,151.8 856.0,163.8 858.5,165.2 C861.0,166.6 862.9,160.0 865.1,157.8 C867.3,155.6 868.1,151.4 871.7,152.0 C875.3,152.6 881.4,159.0 886.6,161.1 C891.9,163.2 899.1,164.3 903.2,164.4 C907.3,164.5 908.6,161.4 911.4,161.9 C914.1,162.4 915.6,165.6 919.7,167.7 C923.8,169.8 931.8,174.2 936.2,174.3 C940.6,174.4 941.6,170.7 946.0,168.5 C950.4,166.3 957.0,163.2 962.5,161.1 C968.0,159.0 974.7,156.1 979.1,156.1 C983.5,156.1 984.9,161.4 989.0,161.1 C993.1,160.8 999.2,156.4 1003.9,154.5 C1008.6,152.6 1013.5,149.5 1017.1,149.5 C1020.7,149.5 1022.6,153.1 1025.4,154.5 C1028.2,155.9 1031.5,158.6 1033.7,157.8 C1035.9,157.0 1035.3,149.5 1038.6,149.5 C1041.9,149.5 1047.7,157.5 1053.5,157.8 C1059.3,158.1 1067.3,151.8 1073.4,151.2 C1079.5,150.6 1084.9,152.8 1089.9,154.5 C1094.9,156.2 1097.4,159.2 1103.2,161.1 C1109.0,163.0 1119.2,163.3 1124.7,166.1 C1130.2,168.9 1132.7,175.7 1136.2,178.0 C1139.8,180.3 1141.6,180.9 1146.0,180.0 C1150.4,179.1 1157.1,178.1 1162.6,172.8 C1168.1,167.5 1173.6,150.8 1179.1,148.0 C1184.6,145.2 1190.2,155.6 1195.7,156.2 C1201.2,156.8 1208.1,152.5 1212.2,151.3 C1216.3,150.1 1216.4,148.5 1220.5,148.8 C1224.6,149.1 1231.5,151.4 1237.0,152.9 C1242.5,154.4 1249.4,155.7 1253.6,157.9 C1257.8,160.1 1256.5,165.4 1261.9,166.2 C1267.3,167.0 1282.0,163.4 1286.0,162.9" fill="none" stroke="#000" stroke-width="2.1" stroke-linejoin="round" stroke-linecap="round"/>
<path d="M146.0,208.1 C148.8,208.1 157.0,208.4 162.5,208.1 C168.0,207.8 173.5,206.2 179.0,206.5 C184.5,206.8 190.9,210.9 195.6,209.8 C200.3,208.7 204.4,201.0 207.2,199.9 C210.0,198.8 210.3,200.4 212.2,203.2 C214.1,205.9 216.9,213.7 218.8,216.4 C220.7,219.2 222.4,220.7 223.8,219.7 C225.2,218.7 226.0,211.4 227.1,210.6 C228.2,209.8 229.2,215.3 230.4,214.7 C231.6,214.1 233.4,208.3 234.0,207.0" fill="none" stroke="#000" stroke-width="2.1" stroke-linejoin="round" stroke-linecap="round"/>
<path d="M236.0,201.0 C236.4,200.2 237.4,198.7 238.6,196.5 C239.8,194.3 241.3,190.2 243.0,188.0 C244.7,185.8 247.1,184.1 248.6,183.3 C250.1,182.6 250.3,183.2 252.0,183.5 C253.7,183.8 256.3,183.4 258.5,185.0 C260.7,186.6 261.8,191.5 265.1,193.2 C268.4,194.8 273.3,194.1 278.3,194.9 C283.3,195.7 289.4,198.6 294.9,198.2 C300.4,197.8 305.9,191.8 311.4,192.4 C316.9,193.0 323.3,198.5 328.0,201.5 C332.7,204.5 336.5,209.8 339.5,210.6 C342.5,211.3 342.2,204.8 346.0,206.0 C349.8,207.2 358.1,215.4 362.5,218.0 C366.9,220.6 367.0,223.6 372.5,221.4 C378.0,219.2 389.0,206.3 395.6,204.8 C402.2,203.3 407.2,211.3 412.2,212.3 C417.2,213.3 422.1,212.7 425.4,210.6 C428.7,208.5 429.8,201.1 432.0,199.9 C434.2,198.7 436.4,203.2 438.6,203.2 C440.8,203.2 441.4,200.3 445.3,199.9 C449.2,199.5 457.7,201.0 461.8,200.7 C465.9,200.4 467.4,198.6 470.1,198.2 C472.9,197.8 474.7,196.5 478.3,198.2 C481.9,199.8 487.5,207.4 491.6,208.1 C495.8,208.8 499.9,204.2 503.2,202.3 C506.5,200.4 507.8,198.4 511.4,196.5 C515.0,194.6 520.8,190.8 524.7,190.8 C528.6,190.8 531.1,193.9 534.6,196.5 C538.1,199.1 540.8,205.8 546.0,206.5 C551.2,207.2 560.9,201.5 565.9,200.7 C570.9,199.9 571.4,204.1 575.8,201.5 C580.2,198.9 587.6,187.9 592.3,185.0 C597.0,182.1 599.2,182.0 603.9,184.1 C608.6,186.2 616.0,195.2 620.4,197.4 C624.8,199.6 627.1,193.8 630.4,197.4 C633.7,201.0 635.1,213.7 640.3,218.9 C645.5,224.1 655.5,230.3 661.8,228.8 C668.1,227.3 674.2,214.2 678.3,209.8 C682.4,205.4 682.5,204.2 686.6,202.3 C690.8,200.4 697.7,197.5 703.2,198.2 C708.7,198.9 714.5,204.2 719.7,206.5 C724.9,208.8 730.2,212.6 734.6,212.3 C739.0,212.1 741.4,207.9 746.0,205.0 C750.6,202.1 757.5,198.8 762.5,194.9 C767.5,191.0 771.4,182.0 775.8,181.7 C780.2,181.4 784.3,190.0 789.0,193.2 C793.7,196.4 798.7,199.3 803.9,200.7 C809.1,202.1 816.3,202.1 820.4,201.5 C824.5,200.9 825.7,198.0 828.7,197.4 C831.7,196.8 835.8,198.8 838.6,198.2 C841.4,197.6 842.5,192.0 845.3,194.1 C848.1,196.2 852.5,209.4 855.2,210.6 C858.0,211.8 859.0,204.8 861.8,201.5 C864.5,198.2 868.4,191.6 871.7,190.8 C875.0,190.0 877.7,193.1 881.6,196.5 C885.5,199.9 890.8,206.4 894.9,211.4 C899.0,216.4 902.4,223.5 906.5,226.3 C910.6,229.1 914.8,227.6 919.7,228.0 C924.7,228.4 931.8,229.5 936.2,228.8 C940.6,228.1 941.6,227.8 946.0,223.8 C950.4,219.8 957.0,209.1 962.5,204.8 C968.0,200.5 974.4,198.3 979.1,198.2 C983.8,198.1 987.4,203.7 990.7,204.0 C994.0,204.3 996.5,199.8 999.0,199.9 C1001.5,200.0 1003.1,205.9 1005.6,204.8 C1008.1,203.7 1011.3,193.5 1013.8,193.2 C1016.3,192.9 1017.6,203.3 1020.4,203.2 C1023.2,203.1 1027.4,193.2 1030.4,192.4 C1033.4,191.6 1035.0,196.7 1038.6,198.2 C1042.2,199.7 1046.7,202.9 1051.9,201.5 C1057.2,200.1 1064.3,190.5 1070.1,189.9 C1075.9,189.3 1081.1,195.0 1086.6,198.2 C1092.1,201.4 1098.2,205.7 1103.2,209.0 C1108.2,212.3 1112.6,214.6 1116.4,218.0 C1120.2,221.4 1123.0,229.2 1126.3,229.6 C1129.6,230.0 1132.9,222.3 1136.2,220.5 C1139.5,218.7 1141.3,218.2 1146.0,218.9 C1150.7,219.6 1158.7,227.7 1164.2,224.7 C1169.7,221.7 1174.1,204.0 1179.1,200.7 C1184.1,197.4 1189.6,205.6 1194.0,204.8 C1198.4,204.0 1201.2,197.6 1205.6,195.7 C1210.0,193.8 1216.1,191.4 1220.5,193.2 C1224.9,195.0 1228.0,205.2 1232.1,206.5 C1236.2,207.8 1240.6,199.2 1245.3,200.7 C1250.0,202.2 1255.5,213.9 1260.2,215.6 C1264.9,217.2 1269.2,211.8 1273.5,210.6 C1277.8,209.3 1283.9,208.5 1286.0,208.1" fill="none" stroke="#000" stroke-width="2.1" stroke-linejoin="round" stroke-linecap="round"/>
<path d="M146.0,258.6 C148.8,257.9 157.3,255.7 162.5,254.4 C167.7,253.2 172.4,250.5 177.4,251.1 C182.4,251.7 187.9,255.9 192.3,257.8 C196.7,259.7 200.6,263.8 203.9,262.7 C207.2,261.6 210.3,251.9 212.2,251.1 C214.1,250.3 214.4,256.0 215.5,257.8 C216.6,259.6 218.4,261.3 219.0,262.0" fill="none" stroke="#000" stroke-width="2.1" stroke-linejoin="round" stroke-linecap="round"/>
<path d="M266.0,238.0 C266.7,238.5 267.9,239.6 270.0,241.2 C272.1,242.8 275.5,247.5 278.3,247.8 C281.1,248.1 282.5,243.2 286.6,242.9 C290.7,242.6 297.5,245.1 303.0,246.2 C308.5,247.3 315.5,247.8 319.7,249.5 C323.9,251.2 325.0,254.6 328.0,256.1 C331.0,257.6 334.9,259.0 337.9,258.6 C340.9,258.2 341.9,251.7 346.0,253.5 C350.1,255.3 358.4,266.1 362.5,269.3 C366.6,272.5 366.7,271.9 370.8,272.6 C374.9,273.3 382.4,275.1 387.4,273.5 C392.4,271.9 397.0,266.1 400.6,262.7 C404.2,259.2 407.0,253.4 408.9,252.8 C410.8,252.2 411.0,257.9 412.2,259.4 C413.4,260.9 415.4,261.6 416.0,262.0" fill="none" stroke="#000" stroke-width="2.1" stroke-linejoin="round" stroke-linecap="round"/>
<path d="M462.0,224.0 C462.8,224.4 464.1,224.5 466.8,226.3 C469.5,228.1 474.7,231.3 478.3,234.6 C481.9,237.9 484.4,241.8 488.3,246.2 C492.2,250.6 497.6,260.0 501.5,261.1 C505.4,262.2 508.1,256.1 511.4,252.8 C514.7,249.5 518.0,242.3 521.3,241.2 C524.6,240.1 527.2,243.4 531.3,246.2 C535.4,249.0 541.9,256.4 546.0,257.8 C550.1,259.2 553.4,253.8 555.9,254.4 C558.4,255.0 557.0,263.0 560.9,261.1 C564.8,259.2 573.9,248.2 579.1,242.9 C584.3,237.7 588.2,231.5 592.3,229.6 C596.4,227.7 600.0,228.0 603.9,231.3 C607.8,234.6 611.9,241.5 615.5,249.5 C619.1,257.5 621.5,273.0 625.4,279.3 C629.2,285.6 633.9,288.3 638.6,287.5 C643.3,286.7 646.9,278.2 653.5,274.3 C660.1,270.4 671.9,268.3 678.3,264.4 C684.6,260.5 686.6,253.0 691.6,251.1 C696.6,249.2 703.4,251.7 708.1,252.8 C712.8,253.9 714.7,256.2 719.7,257.8 C724.7,259.4 733.5,262.7 737.9,262.7 C742.3,262.7 741.9,258.9 746.0,257.8 C750.1,256.7 757.5,257.8 762.5,256.1 C767.5,254.4 770.8,249.5 775.8,247.8 C780.8,246.2 787.1,246.6 792.3,246.2 C797.5,245.8 803.1,243.9 807.2,245.3 C811.3,246.7 813.8,253.0 817.1,254.4 C820.4,255.8 823.0,256.4 827.1,253.6 C831.2,250.8 837.5,236.9 841.9,237.9 C846.3,238.9 848.5,259.5 853.5,259.4 C858.5,259.3 867.0,240.1 871.7,237.1 C876.4,234.1 877.7,237.5 881.6,241.2 C885.5,244.9 889.9,253.0 894.9,259.4 C899.9,265.8 904.5,275.2 911.4,279.3 C918.3,283.4 930.4,284.1 936.2,284.2 C942.0,284.3 942.7,280.8 946.0,280.0 C949.3,279.2 952.3,283.6 955.9,279.3 C959.5,275.0 963.6,260.6 967.5,254.4 C971.4,248.2 974.4,242.8 979.1,242.0 C983.8,241.2 991.5,248.2 995.6,249.5 C999.7,250.8 1001.1,249.4 1003.9,249.5 C1006.7,249.6 1009.7,248.9 1012.2,250.3 C1014.7,251.7 1015.8,260.6 1018.8,257.8 C1021.8,255.1 1027.1,234.9 1030.4,233.8 C1033.7,232.7 1034.8,248.5 1038.6,251.1 C1042.4,253.7 1048.2,250.7 1053.5,249.5 C1058.8,248.3 1064.6,241.8 1070.1,243.7 C1075.6,245.6 1081.1,257.1 1086.6,261.1 C1092.1,265.1 1096.8,264.7 1103.2,267.7 C1109.6,270.7 1119.2,280.6 1124.7,279.3 C1130.2,278.1 1132.7,262.5 1136.2,260.2 C1139.8,257.9 1140.2,264.5 1146.0,265.5 C1151.8,266.5 1164.7,267.1 1170.8,266.1 C1176.9,265.1 1178.8,259.8 1182.4,259.5 C1186.0,259.2 1188.8,266.1 1192.4,264.4 C1196.0,262.7 1199.5,252.5 1203.9,249.5 C1208.3,246.5 1214.1,244.3 1218.8,246.2 C1223.5,248.1 1227.7,258.6 1232.1,261.1 C1236.5,263.6 1240.3,260.6 1245.3,261.1 C1250.3,261.7 1257.2,264.5 1261.9,264.4 C1266.6,264.3 1269.5,260.1 1273.5,260.3 C1277.5,260.5 1283.9,264.5 1286.0,265.3" fill="none" stroke="#000" stroke-width="2.1" stroke-linejoin="round" stroke-linecap="round"/>
<path d="M160.0,320.0 C160.4,319.6 161.0,318.2 162.5,317.3 C164.0,316.4 167.0,314.2 169.2,314.3 C171.4,314.4 174.5,317.2 175.8,318.1 C177.1,319.1 176.8,319.7 177.0,320.0" fill="none" stroke="#000" stroke-width="2.1" stroke-linejoin="round" stroke-linecap="round"/>
<path d="M189.0,320.0 C189.3,319.6 189.6,318.9 190.7,317.3 C191.8,315.8 193.9,312.6 195.6,310.7 C197.2,308.8 199.3,308.2 200.6,305.7 C201.8,303.2 202.3,296.4 203.1,295.8 C203.9,295.2 204.6,300.8 205.6,302.4 C206.6,304.0 208.3,305.1 208.9,305.7" fill="none" stroke="#000" stroke-width="2.1" stroke-linejoin="round" stroke-linecap="round"/>
<path d="M279.0,314.0 C279.4,313.4 280.3,312.1 281.6,310.7 C282.9,309.3 284.9,306.9 286.6,305.7 C288.3,304.4 290.2,303.2 291.6,303.2 C293.0,303.2 293.5,304.2 294.9,305.7 C296.3,307.2 298.1,309.9 299.8,312.3 C301.5,314.7 304.0,318.7 304.8,320.0" fill="none" stroke="#000" stroke-width="2.1" stroke-linejoin="round" stroke-linecap="round"/>
<path d="M332.0,320.0 C332.4,319.6 333.1,318.9 334.6,317.3 C336.1,315.8 339.3,312.6 341.2,310.7 C343.1,308.8 343.8,307.1 346.0,305.7 C348.2,304.3 352.0,302.3 354.3,302.4 C356.6,302.4 359.1,305.4 360.0,306.0" fill="none" stroke="#000" stroke-width="2.1" stroke-linejoin="round" stroke-linecap="round"/>
<path d="M489.0,283.0 C489.4,283.8 490.3,284.7 491.6,287.5 C492.9,290.3 495.4,295.9 497.0,300.0 C498.6,304.1 499.1,311.1 501.5,312.3 C503.9,313.5 507.0,309.6 511.4,307.4 C515.8,305.2 522.2,301.3 528.0,299.1 C533.8,296.9 541.1,294.2 546.0,294.1 C550.9,294.0 552.6,300.8 557.6,298.3 C562.6,295.8 570.6,283.6 575.8,279.3 C581.0,275.0 585.7,271.2 589.0,272.6 C592.3,274.0 593.8,282.1 595.6,287.5 C597.4,292.9 598.9,299.6 600.0,305.0 C601.1,310.4 601.8,317.5 602.2,320.0" fill="none" stroke="#000" stroke-width="2.1" stroke-linejoin="round" stroke-linecap="round"/>
<path d="M656.0,320.0 C656.4,319.7 654.8,319.1 658.5,318.1 C662.2,317.1 670.8,314.6 678.3,314.0 C685.8,313.4 694.9,315.9 703.2,314.8 C711.5,313.7 722.2,307.5 728.0,307.4 C733.8,307.3 734.9,313.7 737.9,314.0 C740.9,314.3 740.5,310.4 746.0,309.0 C751.5,307.6 764.7,307.1 770.8,305.7 C776.9,304.3 779.1,300.9 782.4,300.8 C785.7,300.7 787.7,306.1 790.7,304.9 C793.7,303.6 796.2,294.5 800.6,293.3 C805.0,292.1 811.9,295.9 817.1,297.5 C822.3,299.1 828.1,303.6 832.0,303.2 C835.9,302.8 837.5,295.1 840.3,295.0 C843.1,294.9 843.6,304.3 848.6,302.4 C853.6,300.5 863.8,284.5 870.1,283.4 C876.4,282.3 882.5,291.2 886.6,295.8 C890.7,300.4 892.1,307.1 894.9,310.7 C897.7,314.3 901.5,315.8 903.2,317.3 C904.9,318.9 904.7,319.6 905.0,320.0" fill="none" stroke="#000" stroke-width="2.1" stroke-linejoin="round" stroke-linecap="round"/>
<path d="M964.0,320.0 C964.3,319.8 963.4,322.8 965.9,319.0 C968.4,315.2 974.1,301.6 979.1,297.5 C984.1,293.4 990.1,293.8 995.6,294.1 C1001.1,294.4 1008.1,299.9 1012.2,299.1 C1016.3,298.3 1017.4,292.1 1020.4,289.2 C1023.4,286.3 1027.6,280.6 1030.4,281.7 C1033.2,282.8 1031.8,293.0 1037.0,295.8 C1042.2,298.6 1054.9,294.7 1061.8,298.3 C1068.7,301.9 1075.3,313.7 1078.3,317.3 C1081.3,320.9 1079.7,319.6 1080.0,320.0" fill="none" stroke="#000" stroke-width="2.1" stroke-linejoin="round" stroke-linecap="round"/>
<path d="M1138.0,320.0 C1139.3,317.9 1141.3,310.5 1146.0,307.4 C1150.7,304.3 1160.4,301.3 1165.9,301.6 C1171.4,301.9 1174.7,306.9 1179.1,309.0 C1183.5,311.1 1188.2,314.6 1192.3,314.0 C1196.4,313.4 1199.5,307.6 1203.9,305.7 C1208.3,303.8 1214.1,300.8 1218.8,302.4 C1223.5,304.0 1225.4,314.8 1232.0,315.6 C1238.6,316.4 1252.2,308.8 1258.5,307.4 C1264.8,306.0 1265.5,306.0 1270.1,307.4 C1274.7,308.8 1283.3,314.2 1286.0,315.6" fill="none" stroke="#000" stroke-width="2.1" stroke-linejoin="round" stroke-linecap="round"/></g>
<path d="M206.2,319.5 C206.4,318.2 206.9,315.9 207.5,312.0 C208.1,308.1 208.3,302.0 209.5,296.0 C210.7,290.0 212.6,282.9 214.5,276.0 C216.4,269.1 218.8,261.3 221.0,254.4 C223.2,247.5 225.5,240.9 227.7,234.6 C229.9,228.3 232.2,221.8 234.3,216.4 C236.4,211.0 238.9,205.3 240.5,202.0 C242.1,198.7 243.0,197.7 244.0,196.5 C245.0,195.3 245.6,195.2 246.3,195.0 C247.1,194.8 247.6,194.8 248.5,195.5 C249.4,196.2 250.4,197.6 251.5,199.0 C252.6,200.4 253.9,201.7 255.0,204.0 C256.1,206.3 256.7,208.8 258.0,213.1 C259.3,217.4 261.6,224.1 263.0,229.6 C264.4,235.1 264.9,240.7 266.3,246.2 C267.7,251.7 269.6,256.6 271.2,262.7 C272.8,268.8 274.6,276.0 276.0,282.6 C277.4,289.2 278.3,296.2 279.3,302.4 C280.3,308.5 281.4,316.6 281.8,319.5 Z" fill="#fff" stroke="none"/>
<path d="M359.0,319.5 C359.4,318.2 360.4,314.4 361.5,312.0 C362.6,309.6 363.8,307.1 365.5,305.0 C367.2,302.9 369.6,300.6 372.0,299.5 C374.4,298.4 377.4,298.7 380.0,298.5 C382.6,298.3 384.9,298.6 387.4,298.2 C389.9,297.8 392.6,297.2 395.0,296.3 C397.4,295.4 399.0,295.0 401.6,293.0 C404.2,291.0 407.9,288.5 410.5,284.5 C413.1,280.5 415.2,274.3 417.5,269.0 C419.8,263.7 421.8,258.0 424.0,252.5 C426.2,247.0 428.5,240.6 430.7,236.0 C432.9,231.4 434.9,227.4 437.0,225.0 C439.1,222.6 441.6,221.9 443.5,221.3 C445.4,220.7 446.3,220.8 448.6,221.3 C450.9,221.8 454.5,222.6 457.5,224.2 C460.5,225.8 463.7,228.0 466.5,231.0 C469.3,234.0 472.1,237.8 474.5,242.0 C476.9,246.2 478.9,250.8 480.8,256.5 C482.7,262.2 484.4,268.9 485.8,276.0 C487.2,283.1 488.1,291.9 489.1,299.1 C490.1,306.4 491.2,316.1 491.6,319.5 Z" fill="#fff" stroke="none"/>
<rect x="434" y="215.5" width="18" height="5" fill="#fff"/>
<rect x="372" y="292.2" width="19" height="5" fill="#fff"/>
<path d="M206.2,319.5 C206.4,318.2 206.9,315.9 207.5,312.0 C208.1,308.1 208.3,302.0 209.5,296.0 C210.7,290.0 212.6,282.9 214.5,276.0 C216.4,269.1 218.8,261.3 221.0,254.4 C223.2,247.5 225.5,240.9 227.7,234.6 C229.9,228.3 232.2,221.8 234.3,216.4 C236.4,211.0 238.9,205.3 240.5,202.0 C242.1,198.7 243.0,197.7 244.0,196.5 C245.0,195.3 245.6,195.2 246.3,195.0 C247.1,194.8 247.6,194.8 248.5,195.5 C249.4,196.2 250.4,197.6 251.5,199.0 C252.6,200.4 253.9,201.7 255.0,204.0 C256.1,206.3 256.7,208.8 258.0,213.1 C259.3,217.4 261.6,224.1 263.0,229.6 C264.4,235.1 264.9,240.7 266.3,246.2 C267.7,251.7 269.6,256.6 271.2,262.7 C272.8,268.8 274.6,276.0 276.0,282.6 C277.4,289.2 278.3,296.2 279.3,302.4 C280.3,308.5 281.4,316.6 281.8,319.5" fill="none" stroke="#000" stroke-width="6" stroke-linejoin="round"/>
<path d="M359.0,319.5 C359.4,318.2 360.4,314.4 361.5,312.0 C362.6,309.6 363.8,307.1 365.5,305.0 C367.2,302.9 369.6,300.6 372.0,299.5 C374.4,298.4 377.4,298.7 380.0,298.5 C382.6,298.3 384.9,298.6 387.4,298.2 C389.9,297.8 392.6,297.2 395.0,296.3 C397.4,295.4 399.0,295.0 401.6,293.0 C404.2,291.0 407.9,288.5 410.5,284.5 C413.1,280.5 415.2,274.3 417.5,269.0 C419.8,263.7 421.8,258.0 424.0,252.5 C426.2,247.0 428.5,240.6 430.7,236.0 C432.9,231.4 434.9,227.4 437.0,225.0 C439.1,222.6 441.6,221.9 443.5,221.3 C445.4,220.7 446.3,220.8 448.6,221.3 C450.9,221.8 454.5,222.6 457.5,224.2 C460.5,225.8 463.7,228.0 466.5,231.0 C469.3,234.0 472.1,237.8 474.5,242.0 C476.9,246.2 478.9,250.8 480.8,256.5 C482.7,262.2 484.4,268.9 485.8,276.0 C487.2,283.1 488.1,291.9 489.1,299.1 C490.1,306.4 491.2,316.1 491.6,319.5" fill="none" stroke="#000" stroke-width="6" stroke-linejoin="round"/>
<line x1="146" y1="42.5" x2="1285" y2="42.5" stroke="#777" stroke-width="1"/>
<line x1="146" y1="318.5" x2="1285" y2="318.5" stroke="#555" stroke-width="1"/>
<line x1="1284.5" y1="42" x2="1284.5" y2="319" stroke="#444" stroke-width="1"/>
<defs><linearGradient id="gB0" gradientUnits="userSpaceOnUse" x1="156.0" y1="0" x2="1275.0" y2="0"><stop offset="0.00%" stop-color="#82c752"/><stop offset="0.89%" stop-color="#82c752"/><stop offset="1.79%" stop-color="#82c752"/><stop offset="2.68%" stop-color="#82c752"/><stop offset="3.57%" stop-color="#82c752"/><stop offset="4.46%" stop-color="#a8c640"/><stop offset="5.36%" stop-color="#cdc42d"/><stop offset="6.25%" stop-color="#f8bc37"/><stop offset="7.14%" stop-color="#f3ec1e"/><stop offset="8.04%" stop-color="#f3ec1e"/><stop offset="8.93%" stop-color="#f3ec1e"/><stop offset="9.82%" stop-color="#e2c032"/><stop offset="10.71%" stop-color="#82c752"/><stop offset="11.61%" stop-color="#82c752"/><stop offset="12.50%" stop-color="#82c752"/><stop offset="13.39%" stop-color="#e2c032"/><stop offset="14.29%" stop-color="#f3ec1e"/><stop offset="15.18%" stop-color="#e2c032"/><stop offset="16.07%" stop-color="#82c752"/><stop offset="16.96%" stop-color="#e2c032"/><stop offset="17.86%" stop-color="#f3ec1e"/><stop offset="18.75%" stop-color="#f3ec1e"/><stop offset="19.64%" stop-color="#f3ec1e"/><stop offset="20.54%" stop-color="#f3ec1e"/><stop offset="21.43%" stop-color="#f3ec1e"/><stop offset="22.32%" stop-color="#f3ec1e"/><stop offset="23.21%" stop-color="#f3ec1e"/><stop offset="24.11%" stop-color="#f3ec1e"/><stop offset="25.00%" stop-color="#f3ec1e"/><stop offset="25.89%" stop-color="#f3ec1e"/><stop offset="26.79%" stop-color="#f3ec1e"/><stop offset="27.68%" stop-color="#f3ec1e"/><stop offset="28.57%" stop-color="#f3ec1e"/><stop offset="29.46%" stop-color="#f8bc37"/><stop offset="30.36%" stop-color="#cdc42d"/><stop offset="31.25%" stop-color="#82c752"/><stop offset="32.14%" stop-color="#32be9b"/><stop offset="33.04%" stop-color="#24b9b8"/><stop offset="33.93%" stop-color="#16b4d4"/><stop offset="34.82%" stop-color="#1aa9da"/><stop offset="35.71%" stop-color="#1e9ee1"/><stop offset="36.61%" stop-color="#3181d4"/><stop offset="37.50%" stop-color="#4464c8"/><stop offset="38.39%" stop-color="#4464c8"/><stop offset="39.29%" stop-color="#4464c8"/><stop offset="40.18%" stop-color="#4464c8"/><stop offset="41.07%" stop-color="#4464c8"/><stop offset="41.96%" stop-color="#3181d4"/><stop offset="42.86%" stop-color="#1e9ee1"/><stop offset="43.75%" stop-color="#1e9ee1"/><stop offset="44.64%" stop-color="#1e9ee1"/><stop offset="45.54%" stop-color="#1e9ee1"/><stop offset="46.43%" stop-color="#1e9ee1"/><stop offset="47.32%" stop-color="#1e9ee1"/><stop offset="48.21%" stop-color="#1e9ee1"/><stop offset="49.11%" stop-color="#1aa9da"/><stop offset="50.00%" stop-color="#16b4d4"/><stop offset="50.89%" stop-color="#1aa9da"/><stop offset="51.79%" stop-color="#1e9ee1"/><stop offset="52.68%" stop-color="#1aa9da"/><stop offset="53.57%" stop-color="#16b4d4"/><stop offset="54.46%" stop-color="#1e9ee1"/><stop offset="55.36%" stop-color="#4464c8"/><stop offset="56.25%" stop-color="#3181d4"/><stop offset="57.14%" stop-color="#1e9ee1"/><stop offset="58.04%" stop-color="#1aa9da"/><stop offset="58.93%" stop-color="#16b4d4"/><stop offset="59.82%" stop-color="#1aa9da"/><stop offset="60.71%" stop-color="#1e9ee1"/><stop offset="61.61%" stop-color="#1e9ee1"/><stop offset="62.50%" stop-color="#1e9ee1"/><stop offset="63.39%" stop-color="#1e9ee1"/><stop offset="64.29%" stop-color="#1e9ee1"/><stop offset="65.18%" stop-color="#1e9ee1"/><stop offset="66.07%" stop-color="#1e9ee1"/><stop offset="66.96%" stop-color="#3181d4"/><stop offset="67.86%" stop-color="#4464c8"/><stop offset="68.75%" stop-color="#4464c8"/><stop offset="69.64%" stop-color="#4464c8"/><stop offset="70.54%" stop-color="#4464c8"/><stop offset="71.43%" stop-color="#4464c8"/><stop offset="72.32%" stop-color="#3181d4"/><stop offset="73.21%" stop-color="#1e9ee1"/><stop offset="74.11%" stop-color="#16b4d4"/><stop offset="75.00%" stop-color="#32be9b"/><stop offset="75.89%" stop-color="#5ac276"/><stop offset="76.79%" stop-color="#82c752"/><stop offset="77.68%" stop-color="#5ac276"/><stop offset="78.57%" stop-color="#32be9b"/><stop offset="79.46%" stop-color="#5ac276"/><stop offset="80.36%" stop-color="#82c752"/><stop offset="81.25%" stop-color="#82c752"/><stop offset="82.14%" stop-color="#82c752"/><stop offset="83.04%" stop-color="#82c752"/><stop offset="83.93%" stop-color="#82c752"/><stop offset="84.82%" stop-color="#a8c640"/><stop offset="85.71%" stop-color="#cdc42d"/><stop offset="86.61%" stop-color="#cdc42d"/><stop offset="87.50%" stop-color="#cdc42d"/><stop offset="88.39%" stop-color="#cdc42d"/><stop offset="89.29%" stop-color="#cdc42d"/><stop offset="90.18%" stop-color="#cdc42d"/><stop offset="91.07%" stop-color="#cdc42d"/><stop offset="91.96%" stop-color="#e2c032"/><stop offset="92.86%" stop-color="#f8bc37"/><stop offset="93.75%" stop-color="#cdc42d"/><stop offset="94.64%" stop-color="#82c752"/><stop offset="95.54%" stop-color="#82c752"/><stop offset="96.43%" stop-color="#82c752"/><stop offset="97.32%" stop-color="#32be9b"/><stop offset="98.21%" stop-color="#16b4d4"/><stop offset="99.11%" stop-color="#1aa9da"/><stop offset="100.00%" stop-color="#1e9ee1"/></linearGradient><linearGradient id="gB1" gradientUnits="userSpaceOnUse" x1="156.0" y1="0" x2="1275.0" y2="0"><stop offset="0.00%" stop-color="#82c752"/><stop offset="0.89%" stop-color="#6ec564"/><stop offset="1.79%" stop-color="#5ac276"/><stop offset="2.68%" stop-color="#82c752"/><stop offset="3.57%" stop-color="#a8c640"/><stop offset="4.46%" stop-color="#cdc42d"/><stop offset="5.36%" stop-color="#e2c032"/><stop offset="6.25%" stop-color="#edbe34"/><stop offset="7.14%" stop-color="#f8bc37"/><stop offset="8.04%" stop-color="#f8bc37"/><stop offset="8.93%" stop-color="#f8bc37"/><stop offset="9.82%" stop-color="#cdc42d"/><stop offset="10.71%" stop-color="#82c752"/><stop offset="11.61%" stop-color="#a8c640"/><stop offset="12.50%" stop-color="#cdc42d"/><stop offset="13.39%" stop-color="#f8bc37"/><stop offset="14.29%" stop-color="#f3ec1e"/><stop offset="15.18%" stop-color="#f7c831"/><stop offset="16.07%" stop-color="#e2c032"/><stop offset="16.96%" stop-color="#f7c831"/><stop offset="17.86%" stop-color="#f3ec1e"/><stop offset="18.75%" stop-color="#f3ec1e"/><stop offset="19.64%" stop-color="#f3ec1e"/><stop offset="20.54%" stop-color="#f6d42a"/><stop offset="21.43%" stop-color="#f8bc37"/><stop offset="22.32%" stop-color="#f6d42a"/><stop offset="23.21%" stop-color="#f3ec1e"/><stop offset="24.11%" stop-color="#f6d42a"/><stop offset="25.00%" stop-color="#f8bc37"/><stop offset="25.89%" stop-color="#e2c032"/><stop offset="26.79%" stop-color="#cdc42d"/><stop offset="27.68%" stop-color="#a8c640"/><stop offset="28.57%" stop-color="#82c752"/><stop offset="29.46%" stop-color="#6ec564"/><stop offset="30.36%" stop-color="#5ac276"/><stop offset="31.25%" stop-color="#32be9b"/><stop offset="32.14%" stop-color="#24b9b8"/><stop offset="33.04%" stop-color="#24b9b8"/><stop offset="33.93%" stop-color="#24b9b8"/><stop offset="34.82%" stop-color="#1db6c6"/><stop offset="35.71%" stop-color="#16b4d4"/><stop offset="36.61%" stop-color="#1db6c6"/><stop offset="37.50%" stop-color="#24b9b8"/><stop offset="38.39%" stop-color="#1db6c6"/><stop offset="39.29%" stop-color="#16b4d4"/><stop offset="40.18%" stop-color="#18aed7"/><stop offset="41.07%" stop-color="#1aa9da"/><stop offset="41.96%" stop-color="#1aa9da"/><stop offset="42.86%" stop-color="#1aa9da"/><stop offset="43.75%" stop-color="#16b4d4"/><stop offset="44.64%" stop-color="#24b9b8"/><stop offset="45.54%" stop-color="#24b9b8"/><stop offset="46.43%" stop-color="#24b9b8"/><stop offset="47.32%" stop-color="#1aa9da"/><stop offset="48.21%" stop-color="#3181d4"/><stop offset="49.11%" stop-color="#1e9ee1"/><stop offset="50.00%" stop-color="#1aa9da"/><stop offset="50.89%" stop-color="#1ca4de"/><stop offset="51.79%" stop-color="#1e9ee1"/><stop offset="52.68%" stop-color="#16b4d4"/><stop offset="53.57%" stop-color="#32be9b"/><stop offset="54.46%" stop-color="#1db6c6"/><stop offset="55.36%" stop-color="#1aa9da"/><stop offset="56.25%" stop-color="#1aa9da"/><stop offset="57.14%" stop-color="#1aa9da"/><stop offset="58.04%" stop-color="#16b4d4"/><stop offset="58.93%" stop-color="#24b9b8"/><stop offset="59.82%" stop-color="#1db6c6"/><stop offset="60.71%" stop-color="#16b4d4"/><stop offset="61.61%" stop-color="#18aed7"/><stop offset="62.50%" stop-color="#1aa9da"/><stop offset="63.39%" stop-color="#1aa9da"/><stop offset="64.29%" stop-color="#1aa9da"/><stop offset="65.18%" stop-color="#16b4d4"/><stop offset="66.07%" stop-color="#24b9b8"/><stop offset="66.96%" stop-color="#1aa9da"/><stop offset="67.86%" stop-color="#3181d4"/><stop offset="68.75%" stop-color="#3a72ce"/><stop offset="69.64%" stop-color="#4464c8"/><stop offset="70.54%" stop-color="#3a72ce"/><stop offset="71.43%" stop-color="#3181d4"/><stop offset="72.32%" stop-color="#1ca4de"/><stop offset="73.21%" stop-color="#16b4d4"/><stop offset="74.11%" stop-color="#2bbca9"/><stop offset="75.00%" stop-color="#5ac276"/><stop offset="75.89%" stop-color="#46c089"/><stop offset="76.79%" stop-color="#32be9b"/><stop offset="77.68%" stop-color="#24b9b8"/><stop offset="78.57%" stop-color="#16b4d4"/><stop offset="79.46%" stop-color="#1db6c6"/><stop offset="80.36%" stop-color="#24b9b8"/><stop offset="81.25%" stop-color="#2bbca9"/><stop offset="82.14%" stop-color="#32be9b"/><stop offset="83.04%" stop-color="#5ac276"/><stop offset="83.93%" stop-color="#82c752"/><stop offset="84.82%" stop-color="#82c752"/><stop offset="85.71%" stop-color="#82c752"/><stop offset="86.61%" stop-color="#6ec564"/><stop offset="87.50%" stop-color="#5ac276"/><stop offset="88.39%" stop-color="#32be9b"/><stop offset="89.29%" stop-color="#24b9b8"/><stop offset="90.18%" stop-color="#2bbca9"/><stop offset="91.07%" stop-color="#32be9b"/><stop offset="91.96%" stop-color="#6ec564"/><stop offset="92.86%" stop-color="#a8c640"/><stop offset="93.75%" stop-color="#95c649"/><stop offset="94.64%" stop-color="#82c752"/><stop offset="95.54%" stop-color="#a8c640"/><stop offset="96.43%" stop-color="#cdc42d"/><stop offset="97.32%" stop-color="#bac536"/><stop offset="98.21%" stop-color="#a8c640"/><stop offset="99.11%" stop-color="#95c649"/><stop offset="100.00%" stop-color="#82c752"/></linearGradient><linearGradient id="gB2" gradientUnits="userSpaceOnUse" x1="156.0" y1="0" x2="1275.0" y2="0"><stop offset="0.00%" stop-color="#82c752"/><stop offset="0.89%" stop-color="#5ac276"/><stop offset="1.79%" stop-color="#32be9b"/><stop offset="2.68%" stop-color="#82c752"/><stop offset="3.57%" stop-color="#cdc42d"/><stop offset="4.46%" stop-color="#e2c032"/><stop offset="5.36%" stop-color="#f8bc37"/><stop offset="6.25%" stop-color="#e2c032"/><stop offset="7.14%" stop-color="#cdc42d"/><stop offset="8.04%" stop-color="#cdc42d"/><stop offset="8.93%" stop-color="#cdc42d"/><stop offset="9.82%" stop-color="#a8c640"/><stop offset="10.71%" stop-color="#82c752"/><stop offset="11.61%" stop-color="#cdc42d"/><stop offset="12.50%" stop-color="#f8bc37"/><stop offset="13.39%" stop-color="#f6d42a"/><stop offset="14.29%" stop-color="#f3ec1e"/><stop offset="15.18%" stop-color="#f3ec1e"/><stop offset="16.07%" stop-color="#f3ec1e"/><stop offset="16.96%" stop-color="#f3ec1e"/><stop offset="17.86%" stop-color="#f3ec1e"/><stop offset="18.75%" stop-color="#f3ec1e"/><stop offset="19.64%" stop-color="#f3ec1e"/><stop offset="20.54%" stop-color="#f8bc37"/><stop offset="21.43%" stop-color="#cdc42d"/><stop offset="22.32%" stop-color="#f8bc37"/><stop offset="23.21%" stop-color="#f3ec1e"/><stop offset="24.11%" stop-color="#f8bc37"/><stop offset="25.00%" stop-color="#cdc42d"/><stop offset="25.89%" stop-color="#82c752"/><stop offset="26.79%" stop-color="#32be9b"/><stop offset="27.68%" stop-color="#16b4d4"/><stop offset="28.57%" stop-color="#1e9ee1"/><stop offset="29.46%" stop-color="#1aa9da"/><stop offset="30.36%" stop-color="#16b4d4"/><stop offset="31.25%" stop-color="#16b4d4"/><stop offset="32.14%" stop-color="#16b4d4"/><stop offset="33.04%" stop-color="#24b9b8"/><stop offset="33.93%" stop-color="#32be9b"/><stop offset="34.82%" stop-color="#32be9b"/><stop offset="35.71%" stop-color="#32be9b"/><stop offset="36.61%" stop-color="#82c752"/><stop offset="37.50%" stop-color="#cdc42d"/><stop offset="38.39%" stop-color="#a8c640"/><stop offset="39.29%" stop-color="#82c752"/><stop offset="40.18%" stop-color="#5ac276"/><stop offset="41.07%" stop-color="#32be9b"/><stop offset="41.96%" stop-color="#24b9b8"/><stop offset="42.86%" stop-color="#16b4d4"/><stop offset="43.75%" stop-color="#32be9b"/><stop offset="44.64%" stop-color="#82c752"/><stop offset="45.54%" stop-color="#82c752"/><stop offset="46.43%" stop-color="#82c752"/><stop offset="47.32%" stop-color="#16b4d4"/><stop offset="48.21%" stop-color="#4464c8"/><stop offset="49.11%" stop-color="#3181d4"/><stop offset="50.00%" stop-color="#1e9ee1"/><stop offset="50.89%" stop-color="#1e9ee1"/><stop offset="51.79%" stop-color="#1e9ee1"/><stop offset="52.68%" stop-color="#24b9b8"/><stop offset="53.57%" stop-color="#82c752"/><stop offset="54.46%" stop-color="#5ac276"/><stop offset="55.36%" stop-color="#32be9b"/><stop offset="56.25%" stop-color="#24b9b8"/><stop offset="57.14%" stop-color="#16b4d4"/><stop offset="58.04%" stop-color="#24b9b8"/><stop offset="58.93%" stop-color="#32be9b"/><stop offset="59.82%" stop-color="#32be9b"/><stop offset="60.71%" stop-color="#32be9b"/><stop offset="61.61%" stop-color="#24b9b8"/><stop offset="62.50%" stop-color="#16b4d4"/><stop offset="63.39%" stop-color="#16b4d4"/><stop offset="64.29%" stop-color="#16b4d4"/><stop offset="65.18%" stop-color="#32be9b"/><stop offset="66.07%" stop-color="#82c752"/><stop offset="66.96%" stop-color="#24b9b8"/><stop offset="67.86%" stop-color="#1e9ee1"/><stop offset="68.75%" stop-color="#3181d4"/><stop offset="69.64%" stop-color="#4464c8"/><stop offset="70.54%" stop-color="#3181d4"/><stop offset="71.43%" stop-color="#1e9ee1"/><stop offset="72.32%" stop-color="#16b4d4"/><stop offset="73.21%" stop-color="#32be9b"/><stop offset="74.11%" stop-color="#5ac276"/><stop offset="75.00%" stop-color="#82c752"/><stop offset="75.89%" stop-color="#32be9b"/><stop offset="76.79%" stop-color="#16b4d4"/><stop offset="77.68%" stop-color="#1aa9da"/><stop offset="78.57%" stop-color="#1e9ee1"/><stop offset="79.46%" stop-color="#1e9ee1"/><stop offset="80.36%" stop-color="#1e9ee1"/><stop offset="81.25%" stop-color="#1aa9da"/><stop offset="82.14%" stop-color="#16b4d4"/><stop offset="83.04%" stop-color="#32be9b"/><stop offset="83.93%" stop-color="#82c752"/><stop offset="84.82%" stop-color="#5ac276"/><stop offset="85.71%" stop-color="#32be9b"/><stop offset="86.61%" stop-color="#24b9b8"/><stop offset="87.50%" stop-color="#16b4d4"/><stop offset="88.39%" stop-color="#1e9ee1"/><stop offset="89.29%" stop-color="#4464c8"/><stop offset="90.18%" stop-color="#3181d4"/><stop offset="91.07%" stop-color="#1e9ee1"/><stop offset="91.96%" stop-color="#16b4d4"/><stop offset="92.86%" stop-color="#32be9b"/><stop offset="93.75%" stop-color="#5ac276"/><stop offset="94.64%" stop-color="#82c752"/><stop offset="95.54%" stop-color="#cdc42d"/><stop offset="96.43%" stop-color="#f8bc37"/><stop offset="97.32%" stop-color="#f6d42a"/><stop offset="98.21%" stop-color="#f3ec1e"/><stop offset="99.11%" stop-color="#f3ec1e"/><stop offset="100.00%" stop-color="#f3ec1e"/></linearGradient><linearGradient id="gB3" gradientUnits="userSpaceOnUse" x1="156.0" y1="0" x2="1275.0" y2="0"><stop offset="0.00%" stop-color="#e2c032"/><stop offset="0.89%" stop-color="#cdc42d"/><stop offset="1.79%" stop-color="#a8c640"/><stop offset="2.68%" stop-color="#a8c640"/><stop offset="3.57%" stop-color="#a8c640"/><stop offset="4.46%" stop-color="#cdc42d"/><stop offset="5.36%" stop-color="#e2c032"/><stop offset="6.25%" stop-color="#e2c032"/><stop offset="7.14%" stop-color="#e2c032"/><stop offset="8.04%" stop-color="#e2c032"/><stop offset="8.93%" stop-color="#e2c032"/><stop offset="9.82%" stop-color="#cdc42d"/><stop offset="10.71%" stop-color="#a8c640"/><stop offset="11.61%" stop-color="#a8c640"/><stop offset="12.50%" stop-color="#a8c640"/><stop offset="13.39%" stop-color="#d8c230"/><stop offset="14.29%" stop-color="#f8bc37"/><stop offset="15.18%" stop-color="#f6d42a"/><stop offset="16.07%" stop-color="#f3ec1e"/><stop offset="16.96%" stop-color="#f3ec1e"/><stop offset="17.86%" stop-color="#f3ec1e"/><stop offset="18.75%" stop-color="#f3ec1e"/><stop offset="19.64%" stop-color="#f3ec1e"/><stop offset="20.54%" stop-color="#f8bc37"/><stop offset="21.43%" stop-color="#cdc42d"/><stop offset="22.32%" stop-color="#cdc42d"/><stop offset="23.21%" stop-color="#cdc42d"/><stop offset="24.11%" stop-color="#bac536"/><stop offset="25.00%" stop-color="#a8c640"/><stop offset="25.89%" stop-color="#6ec564"/><stop offset="26.79%" stop-color="#32be9b"/><stop offset="27.68%" stop-color="#2bbca9"/><stop offset="28.57%" stop-color="#24b9b8"/><stop offset="29.46%" stop-color="#1db6c6"/><stop offset="30.36%" stop-color="#16b4d4"/><stop offset="31.25%" stop-color="#2bbca9"/><stop offset="32.14%" stop-color="#5ac276"/><stop offset="33.04%" stop-color="#5ac276"/><stop offset="33.93%" stop-color="#5ac276"/><stop offset="34.82%" stop-color="#32be9b"/><stop offset="35.71%" stop-color="#24b9b8"/><stop offset="36.61%" stop-color="#5ac276"/><stop offset="37.50%" stop-color="#a8c640"/><stop offset="38.39%" stop-color="#6ec564"/><stop offset="39.29%" stop-color="#32be9b"/><stop offset="40.18%" stop-color="#46c089"/><stop offset="41.07%" stop-color="#5ac276"/><stop offset="41.96%" stop-color="#6ec564"/><stop offset="42.86%" stop-color="#82c752"/><stop offset="43.75%" stop-color="#82c752"/><stop offset="44.64%" stop-color="#82c752"/><stop offset="45.54%" stop-color="#82c752"/><stop offset="46.43%" stop-color="#82c752"/><stop offset="47.32%" stop-color="#2bbca9"/><stop offset="48.21%" stop-color="#1aa9da"/><stop offset="49.11%" stop-color="#1e9ee1"/><stop offset="50.00%" stop-color="#3181d4"/><stop offset="50.89%" stop-color="#3181d4"/><stop offset="51.79%" stop-color="#3181d4"/><stop offset="52.68%" stop-color="#1e9ee1"/><stop offset="53.57%" stop-color="#1aa9da"/><stop offset="54.46%" stop-color="#1ca4de"/><stop offset="55.36%" stop-color="#1e9ee1"/><stop offset="56.25%" stop-color="#1e9ee1"/><stop offset="57.14%" stop-color="#1e9ee1"/><stop offset="58.04%" stop-color="#1aa9da"/><stop offset="58.93%" stop-color="#16b4d4"/><stop offset="59.82%" stop-color="#1db6c6"/><stop offset="60.71%" stop-color="#24b9b8"/><stop offset="61.61%" stop-color="#32be9b"/><stop offset="62.50%" stop-color="#5ac276"/><stop offset="63.39%" stop-color="#2bbca9"/><stop offset="64.29%" stop-color="#16b4d4"/><stop offset="65.18%" stop-color="#2bbca9"/><stop offset="66.07%" stop-color="#5ac276"/><stop offset="66.96%" stop-color="#5ac276"/><stop offset="67.86%" stop-color="#5ac276"/><stop offset="68.75%" stop-color="#46c089"/><stop offset="69.64%" stop-color="#32be9b"/><stop offset="70.54%" stop-color="#24b9b8"/><stop offset="71.43%" stop-color="#16b4d4"/><stop offset="72.32%" stop-color="#16b4d4"/><stop offset="73.21%" stop-color="#16b4d4"/><stop offset="74.11%" stop-color="#1db6c6"/><stop offset="75.00%" stop-color="#24b9b8"/><stop offset="75.89%" stop-color="#1db6c6"/><stop offset="76.79%" stop-color="#16b4d4"/><stop offset="77.68%" stop-color="#1db6c6"/><stop offset="78.57%" stop-color="#24b9b8"/><stop offset="79.46%" stop-color="#16b4d4"/><stop offset="80.36%" stop-color="#1aa9da"/><stop offset="81.25%" stop-color="#1aa9da"/><stop offset="82.14%" stop-color="#1aa9da"/><stop offset="83.04%" stop-color="#18aed7"/><stop offset="83.93%" stop-color="#16b4d4"/><stop offset="84.82%" stop-color="#18aed7"/><stop offset="85.71%" stop-color="#1aa9da"/><stop offset="86.61%" stop-color="#18aed7"/><stop offset="87.50%" stop-color="#16b4d4"/><stop offset="88.39%" stop-color="#1db6c6"/><stop offset="89.29%" stop-color="#24b9b8"/><stop offset="90.18%" stop-color="#1db6c6"/><stop offset="91.07%" stop-color="#16b4d4"/><stop offset="91.96%" stop-color="#32be9b"/><stop offset="92.86%" stop-color="#82c752"/><stop offset="93.75%" stop-color="#a8c640"/><stop offset="94.64%" stop-color="#cdc42d"/><stop offset="95.54%" stop-color="#e2c032"/><stop offset="96.43%" stop-color="#f8bc37"/><stop offset="97.32%" stop-color="#f7c831"/><stop offset="98.21%" stop-color="#f6d42a"/><stop offset="99.11%" stop-color="#f7c831"/><stop offset="100.00%" stop-color="#f8bc37"/></linearGradient><linearGradient id="gB4" gradientUnits="userSpaceOnUse" x1="156.0" y1="0" x2="1275.0" y2="0"><stop offset="0.00%" stop-color="#f3ec1e"/><stop offset="0.89%" stop-color="#f6d42a"/><stop offset="1.79%" stop-color="#f8bc37"/><stop offset="2.68%" stop-color="#cdc42d"/><stop offset="3.57%" stop-color="#82c752"/><stop offset="4.46%" stop-color="#a8c640"/><stop offset="5.36%" stop-color="#cdc42d"/><stop offset="6.25%" stop-color="#e2c032"/><stop offset="7.14%" stop-color="#f8bc37"/><stop offset="8.04%" stop-color="#f8bc37"/><stop offset="8.93%" stop-color="#f8bc37"/><stop offset="9.82%" stop-color="#e2c032"/><stop offset="10.71%" stop-color="#cdc42d"/><stop offset="11.61%" stop-color="#82c752"/><stop offset="12.50%" stop-color="#32be9b"/><stop offset="13.39%" stop-color="#82c752"/><stop offset="14.29%" stop-color="#cdc42d"/><stop offset="15.18%" stop-color="#f8bc37"/><stop offset="16.07%" stop-color="#f3ec1e"/><stop offset="16.96%" stop-color="#f3ec1e"/><stop offset="17.86%" stop-color="#f3ec1e"/><stop offset="18.75%" stop-color="#f3ec1e"/><stop offset="19.64%" stop-color="#f3ec1e"/><stop offset="20.54%" stop-color="#f8bc37"/><stop offset="21.43%" stop-color="#cdc42d"/><stop offset="22.32%" stop-color="#82c752"/><stop offset="23.21%" stop-color="#32be9b"/><stop offset="24.11%" stop-color="#5ac276"/><stop offset="25.00%" stop-color="#82c752"/><stop offset="25.89%" stop-color="#5ac276"/><stop offset="26.79%" stop-color="#32be9b"/><stop offset="27.68%" stop-color="#5ac276"/><stop offset="28.57%" stop-color="#82c752"/><stop offset="29.46%" stop-color="#32be9b"/><stop offset="30.36%" stop-color="#16b4d4"/><stop offset="31.25%" stop-color="#5ac276"/><stop offset="32.14%" stop-color="#cdc42d"/><stop offset="33.04%" stop-color="#a8c640"/><stop offset="33.93%" stop-color="#82c752"/><stop offset="34.82%" stop-color="#32be9b"/><stop offset="35.71%" stop-color="#16b4d4"/><stop offset="36.61%" stop-color="#32be9b"/><stop offset="37.50%" stop-color="#82c752"/><stop offset="38.39%" stop-color="#32be9b"/><stop offset="39.29%" stop-color="#16b4d4"/><stop offset="40.18%" stop-color="#32be9b"/><stop offset="41.07%" stop-color="#82c752"/><stop offset="41.96%" stop-color="#cdc42d"/><stop offset="42.86%" stop-color="#f8bc37"/><stop offset="43.75%" stop-color="#cdc42d"/><stop offset="44.64%" stop-color="#82c752"/><stop offset="45.54%" stop-color="#82c752"/><stop offset="46.43%" stop-color="#82c752"/><stop offset="47.32%" stop-color="#5ac276"/><stop offset="48.21%" stop-color="#32be9b"/><stop offset="49.11%" stop-color="#1aa9da"/><stop offset="50.00%" stop-color="#4464c8"/><stop offset="50.89%" stop-color="#4464c8"/><stop offset="51.79%" stop-color="#4464c8"/><stop offset="52.68%" stop-color="#4656bd"/><stop offset="53.57%" stop-color="#4848b2"/><stop offset="54.46%" stop-color="#4848b2"/><stop offset="55.36%" stop-color="#4848b2"/><stop offset="56.25%" stop-color="#4656bd"/><stop offset="57.14%" stop-color="#4464c8"/><stop offset="58.04%" stop-color="#3181d4"/><stop offset="58.93%" stop-color="#1e9ee1"/><stop offset="59.82%" stop-color="#1aa9da"/><stop offset="60.71%" stop-color="#16b4d4"/><stop offset="61.61%" stop-color="#5ac276"/><stop offset="62.50%" stop-color="#cdc42d"/><stop offset="63.39%" stop-color="#5ac276"/><stop offset="64.29%" stop-color="#16b4d4"/><stop offset="65.18%" stop-color="#24b9b8"/><stop offset="66.07%" stop-color="#32be9b"/><stop offset="66.96%" stop-color="#a8c640"/><stop offset="67.86%" stop-color="#f8bc37"/><stop offset="68.75%" stop-color="#f8bc37"/><stop offset="69.64%" stop-color="#f8bc37"/><stop offset="70.54%" stop-color="#a8c640"/><stop offset="71.43%" stop-color="#32be9b"/><stop offset="72.32%" stop-color="#16b4d4"/><stop offset="73.21%" stop-color="#1e9ee1"/><stop offset="74.11%" stop-color="#1e9ee1"/><stop offset="75.00%" stop-color="#1e9ee1"/><stop offset="75.89%" stop-color="#1aa9da"/><stop offset="76.79%" stop-color="#16b4d4"/><stop offset="77.68%" stop-color="#32be9b"/><stop offset="78.57%" stop-color="#82c752"/><stop offset="79.46%" stop-color="#32be9b"/><stop offset="80.36%" stop-color="#16b4d4"/><stop offset="81.25%" stop-color="#1aa9da"/><stop offset="82.14%" stop-color="#1e9ee1"/><stop offset="83.04%" stop-color="#3181d4"/><stop offset="83.93%" stop-color="#4464c8"/><stop offset="84.82%" stop-color="#4464c8"/><stop offset="85.71%" stop-color="#4464c8"/><stop offset="86.61%" stop-color="#1e9ee1"/><stop offset="87.50%" stop-color="#16b4d4"/><stop offset="88.39%" stop-color="#5ac276"/><stop offset="89.29%" stop-color="#cdc42d"/><stop offset="90.18%" stop-color="#82c752"/><stop offset="91.07%" stop-color="#32be9b"/><stop offset="91.96%" stop-color="#82c752"/><stop offset="92.86%" stop-color="#cdc42d"/><stop offset="93.75%" stop-color="#e2c032"/><stop offset="94.64%" stop-color="#f8bc37"/><stop offset="95.54%" stop-color="#f8bc37"/><stop offset="96.43%" stop-color="#f8bc37"/><stop offset="97.32%" stop-color="#f8bc37"/><stop offset="98.21%" stop-color="#f8bc37"/><stop offset="99.11%" stop-color="#e2c032"/><stop offset="100.00%" stop-color="#cdc42d"/></linearGradient><linearGradient id="gB5" gradientUnits="userSpaceOnUse" x1="156.0" y1="0" x2="1275.0" y2="0"><stop offset="0.00%" stop-color="#f6d42a"/><stop offset="0.89%" stop-color="#f8bc37"/><stop offset="1.79%" stop-color="#e2c032"/><stop offset="2.68%" stop-color="#d8c230"/><stop offset="3.57%" stop-color="#cdc42d"/><stop offset="4.46%" stop-color="#e2c032"/><stop offset="5.36%" stop-color="#f8bc37"/><stop offset="6.25%" stop-color="#f8bc37"/><stop offset="7.14%" stop-color="#f8bc37"/><stop offset="8.04%" stop-color="#f7c831"/><stop offset="8.93%" stop-color="#f6d42a"/><stop offset="9.82%" stop-color="#edbe34"/><stop offset="10.71%" stop-color="#cdc42d"/><stop offset="11.61%" stop-color="#82c752"/><stop offset="12.50%" stop-color="#32be9b"/><stop offset="13.39%" stop-color="#5ac276"/><stop offset="14.29%" stop-color="#82c752"/><stop offset="15.18%" stop-color="#95c649"/><stop offset="16.07%" stop-color="#a8c640"/><stop offset="16.96%" stop-color="#a8c640"/><stop offset="17.86%" stop-color="#a8c640"/><stop offset="18.75%" stop-color="#95c649"/><stop offset="19.64%" stop-color="#82c752"/><stop offset="20.54%" stop-color="#a8c640"/><stop offset="21.43%" stop-color="#cdc42d"/><stop offset="22.32%" stop-color="#bac536"/><stop offset="23.21%" stop-color="#a8c640"/><stop offset="24.11%" stop-color="#bac536"/><stop offset="25.00%" stop-color="#cdc42d"/><stop offset="25.89%" stop-color="#bac536"/><stop offset="26.79%" stop-color="#a8c640"/><stop offset="27.68%" stop-color="#cdc42d"/><stop offset="28.57%" stop-color="#e2c032"/><stop offset="29.46%" stop-color="#bac536"/><stop offset="30.36%" stop-color="#82c752"/><stop offset="31.25%" stop-color="#82c752"/><stop offset="32.14%" stop-color="#82c752"/><stop offset="33.04%" stop-color="#5ac276"/><stop offset="33.93%" stop-color="#32be9b"/><stop offset="34.82%" stop-color="#24b9b8"/><stop offset="35.71%" stop-color="#16b4d4"/><stop offset="36.61%" stop-color="#2bbca9"/><stop offset="37.50%" stop-color="#5ac276"/><stop offset="38.39%" stop-color="#5ac276"/><stop offset="39.29%" stop-color="#5ac276"/><stop offset="40.18%" stop-color="#5ac276"/><stop offset="41.07%" stop-color="#5ac276"/><stop offset="41.96%" stop-color="#82c752"/><stop offset="42.86%" stop-color="#a8c640"/><stop offset="43.75%" stop-color="#6ec564"/><stop offset="44.64%" stop-color="#32be9b"/><stop offset="45.54%" stop-color="#32be9b"/><stop offset="46.43%" stop-color="#32be9b"/><stop offset="47.32%" stop-color="#32be9b"/><stop offset="48.21%" stop-color="#32be9b"/><stop offset="49.11%" stop-color="#18aed7"/><stop offset="50.00%" stop-color="#3181d4"/><stop offset="50.89%" stop-color="#3a72ce"/><stop offset="51.79%" stop-color="#4464c8"/><stop offset="52.68%" stop-color="#4656bd"/><stop offset="53.57%" stop-color="#4848b2"/><stop offset="54.46%" stop-color="#474fb8"/><stop offset="55.36%" stop-color="#4656bd"/><stop offset="56.25%" stop-color="#455dc2"/><stop offset="57.14%" stop-color="#4464c8"/><stop offset="58.04%" stop-color="#3181d4"/><stop offset="58.93%" stop-color="#1e9ee1"/><stop offset="59.82%" stop-color="#1ca4de"/><stop offset="60.71%" stop-color="#1aa9da"/><stop offset="61.61%" stop-color="#24b9b8"/><stop offset="62.50%" stop-color="#5ac276"/><stop offset="63.39%" stop-color="#5ac276"/><stop offset="64.29%" stop-color="#5ac276"/><stop offset="65.18%" stop-color="#5ac276"/><stop offset="66.07%" stop-color="#5ac276"/><stop offset="66.96%" stop-color="#95c649"/><stop offset="67.86%" stop-color="#cdc42d"/><stop offset="68.75%" stop-color="#d8c230"/><stop offset="69.64%" stop-color="#e2c032"/><stop offset="70.54%" stop-color="#95c649"/><stop offset="71.43%" stop-color="#32be9b"/><stop offset="72.32%" stop-color="#32be9b"/><stop offset="73.21%" stop-color="#32be9b"/><stop offset="74.11%" stop-color="#24b9b8"/><stop offset="75.00%" stop-color="#16b4d4"/><stop offset="75.89%" stop-color="#16b4d4"/><stop offset="76.79%" stop-color="#16b4d4"/><stop offset="77.68%" stop-color="#24b9b8"/><stop offset="78.57%" stop-color="#32be9b"/><stop offset="79.46%" stop-color="#24b9b8"/><stop offset="80.36%" stop-color="#16b4d4"/><stop offset="81.25%" stop-color="#18aed7"/><stop offset="82.14%" stop-color="#1aa9da"/><stop offset="83.04%" stop-color="#2890db"/><stop offset="83.93%" stop-color="#4464c8"/><stop offset="84.82%" stop-color="#4464c8"/><stop offset="85.71%" stop-color="#4464c8"/><stop offset="86.61%" stop-color="#18aed7"/><stop offset="87.50%" stop-color="#5ac276"/><stop offset="88.39%" stop-color="#a8c640"/><stop offset="89.29%" stop-color="#e2c032"/><stop offset="90.18%" stop-color="#cdc42d"/><stop offset="91.07%" stop-color="#a8c640"/><stop offset="91.96%" stop-color="#cdc42d"/><stop offset="92.86%" stop-color="#e2c032"/><stop offset="93.75%" stop-color="#cdc42d"/><stop offset="94.64%" stop-color="#a8c640"/><stop offset="95.54%" stop-color="#6ec564"/><stop offset="96.43%" stop-color="#32be9b"/><stop offset="97.32%" stop-color="#46c089"/><stop offset="98.21%" stop-color="#5ac276"/><stop offset="99.11%" stop-color="#5ac276"/><stop offset="100.00%" stop-color="#5ac276"/></linearGradient><linearGradient id="gB6" gradientUnits="userSpaceOnUse" x1="156.0" y1="0" x2="1275.0" y2="0"><stop offset="0.00%" stop-color="#f8bc37"/><stop offset="0.89%" stop-color="#e2c032"/><stop offset="1.79%" stop-color="#cdc42d"/><stop offset="2.68%" stop-color="#e2c032"/><stop offset="3.57%" stop-color="#f8bc37"/><stop offset="4.46%" stop-color="#f6d42a"/><stop offset="5.36%" stop-color="#f3ec1e"/><stop offset="6.25%" stop-color="#f6d42a"/><stop offset="7.14%" stop-color="#f8bc37"/><stop offset="8.04%" stop-color="#f6d42a"/><stop offset="8.93%" stop-color="#f3ec1e"/><stop offset="9.82%" stop-color="#f8bc37"/><stop offset="10.71%" stop-color="#cdc42d"/><stop offset="11.61%" stop-color="#82c752"/><stop offset="12.50%" stop-color="#32be9b"/><stop offset="13.39%" stop-color="#32be9b"/><stop offset="14.29%" stop-color="#32be9b"/><stop offset="15.18%" stop-color="#24b9b8"/><stop offset="16.07%" stop-color="#16b4d4"/><stop offset="16.96%" stop-color="#16b4d4"/><stop offset="17.86%" stop-color="#16b4d4"/><stop offset="18.75%" stop-color="#1aa9da"/><stop offset="19.64%" stop-color="#1e9ee1"/><stop offset="20.54%" stop-color="#32be9b"/><stop offset="21.43%" stop-color="#cdc42d"/><stop offset="22.32%" stop-color="#e2c032"/><stop offset="23.21%" stop-color="#f8bc37"/><stop offset="24.11%" stop-color="#f8bc37"/><stop offset="25.00%" stop-color="#f8bc37"/><stop offset="25.89%" stop-color="#f8bc37"/><stop offset="26.79%" stop-color="#f8bc37"/><stop offset="27.68%" stop-color="#f6d42a"/><stop offset="28.57%" stop-color="#f3ec1e"/><stop offset="29.46%" stop-color="#f6d42a"/><stop offset="30.36%" stop-color="#f8bc37"/><stop offset="31.25%" stop-color="#a8c640"/><stop offset="32.14%" stop-color="#32be9b"/><stop offset="33.04%" stop-color="#24b9b8"/><stop offset="33.93%" stop-color="#16b4d4"/><stop offset="34.82%" stop-color="#16b4d4"/><stop offset="35.71%" stop-color="#16b4d4"/><stop offset="36.61%" stop-color="#24b9b8"/><stop offset="37.50%" stop-color="#32be9b"/><stop offset="38.39%" stop-color="#82c752"/><stop offset="39.29%" stop-color="#cdc42d"/><stop offset="40.18%" stop-color="#82c752"/><stop offset="41.07%" stop-color="#32be9b"/><stop offset="41.96%" stop-color="#32be9b"/><stop offset="42.86%" stop-color="#32be9b"/><stop offset="43.75%" stop-color="#24b9b8"/><stop offset="44.64%" stop-color="#16b4d4"/><stop offset="45.54%" stop-color="#16b4d4"/><stop offset="46.43%" stop-color="#16b4d4"/><stop offset="47.32%" stop-color="#24b9b8"/><stop offset="48.21%" stop-color="#32be9b"/><stop offset="49.11%" stop-color="#16b4d4"/><stop offset="50.00%" stop-color="#1e9ee1"/><stop offset="50.89%" stop-color="#3181d4"/><stop offset="51.79%" stop-color="#4464c8"/><stop offset="52.68%" stop-color="#4656bd"/><stop offset="53.57%" stop-color="#4848b2"/><stop offset="54.46%" stop-color="#4656bd"/><stop offset="55.36%" stop-color="#4464c8"/><stop offset="56.25%" stop-color="#4464c8"/><stop offset="57.14%" stop-color="#4464c8"/><stop offset="58.04%" stop-color="#3181d4"/><stop offset="58.93%" stop-color="#1e9ee1"/><stop offset="59.82%" stop-color="#1e9ee1"/><stop offset="60.71%" stop-color="#1e9ee1"/><stop offset="61.61%" stop-color="#1aa9da"/><stop offset="62.50%" stop-color="#16b4d4"/><stop offset="63.39%" stop-color="#5ac276"/><stop offset="64.29%" stop-color="#cdc42d"/><stop offset="65.18%" stop-color="#a8c640"/><stop offset="66.07%" stop-color="#82c752"/><stop offset="66.96%" stop-color="#82c752"/><stop offset="67.86%" stop-color="#82c752"/><stop offset="68.75%" stop-color="#a8c640"/><stop offset="69.64%" stop-color="#cdc42d"/><stop offset="70.54%" stop-color="#82c752"/><stop offset="71.43%" stop-color="#32be9b"/><stop offset="72.32%" stop-color="#82c752"/><stop offset="73.21%" stop-color="#cdc42d"/><stop offset="74.11%" stop-color="#82c752"/><stop offset="75.00%" stop-color="#32be9b"/><stop offset="75.89%" stop-color="#24b9b8"/><stop offset="76.79%" stop-color="#16b4d4"/><stop offset="77.68%" stop-color="#16b4d4"/><stop offset="78.57%" stop-color="#16b4d4"/><stop offset="79.46%" stop-color="#16b4d4"/><stop offset="80.36%" stop-color="#16b4d4"/><stop offset="81.25%" stop-color="#16b4d4"/><stop offset="82.14%" stop-color="#16b4d4"/><stop offset="83.04%" stop-color="#1e9ee1"/><stop offset="83.93%" stop-color="#4464c8"/><stop offset="84.82%" stop-color="#4464c8"/><stop offset="85.71%" stop-color="#4464c8"/><stop offset="86.61%" stop-color="#24b9b8"/><stop offset="87.50%" stop-color="#cdc42d"/><stop offset="88.39%" stop-color="#e2c032"/><stop offset="89.29%" stop-color="#f8bc37"/><stop offset="90.18%" stop-color="#f8bc37"/><stop offset="91.07%" stop-color="#f8bc37"/><stop offset="91.96%" stop-color="#f8bc37"/><stop offset="92.86%" stop-color="#f8bc37"/><stop offset="93.75%" stop-color="#a8c640"/><stop offset="94.64%" stop-color="#32be9b"/><stop offset="95.54%" stop-color="#1aa9da"/><stop offset="96.43%" stop-color="#4464c8"/><stop offset="97.32%" stop-color="#3181d4"/><stop offset="98.21%" stop-color="#1e9ee1"/><stop offset="99.11%" stop-color="#1aa9da"/><stop offset="100.00%" stop-color="#16b4d4"/></linearGradient><linearGradient id="gB7" gradientUnits="userSpaceOnUse" x1="156.0" y1="0" x2="1275.0" y2="0"><stop offset="0.00%" stop-color="#a8c640"/><stop offset="0.89%" stop-color="#cdc42d"/><stop offset="1.79%" stop-color="#e2c032"/><stop offset="2.68%" stop-color="#f8bc37"/><stop offset="3.57%" stop-color="#f6d42a"/><stop offset="4.46%" stop-color="#f4e024"/><stop offset="5.36%" stop-color="#f3ec1e"/><stop offset="6.25%" stop-color="#f6d42a"/><stop offset="7.14%" stop-color="#f8bc37"/><stop offset="8.04%" stop-color="#f6d42a"/><stop offset="8.93%" stop-color="#f3ec1e"/><stop offset="9.82%" stop-color="#e2c032"/><stop offset="10.71%" stop-color="#82c752"/><stop offset="11.61%" stop-color="#5ac276"/><stop offset="12.50%" stop-color="#32be9b"/><stop offset="13.39%" stop-color="#46c089"/><stop offset="14.29%" stop-color="#5ac276"/><stop offset="15.18%" stop-color="#32be9b"/><stop offset="16.07%" stop-color="#24b9b8"/><stop offset="16.96%" stop-color="#24b9b8"/><stop offset="17.86%" stop-color="#24b9b8"/><stop offset="18.75%" stop-color="#16b4d4"/><stop offset="19.64%" stop-color="#1aa9da"/><stop offset="20.54%" stop-color="#32be9b"/><stop offset="21.43%" stop-color="#a8c640"/><stop offset="22.32%" stop-color="#e2c032"/><stop offset="23.21%" stop-color="#f6d42a"/><stop offset="24.11%" stop-color="#f6d42a"/><stop offset="25.00%" stop-color="#f6d42a"/><stop offset="25.89%" stop-color="#f6d42a"/><stop offset="26.79%" stop-color="#f6d42a"/><stop offset="27.68%" stop-color="#f6d42a"/><stop offset="28.57%" stop-color="#f6d42a"/><stop offset="29.46%" stop-color="#edbe34"/><stop offset="30.36%" stop-color="#cdc42d"/><stop offset="31.25%" stop-color="#bac536"/><stop offset="32.14%" stop-color="#a8c640"/><stop offset="33.04%" stop-color="#95c649"/><stop offset="33.93%" stop-color="#82c752"/><stop offset="34.82%" stop-color="#82c752"/><stop offset="35.71%" stop-color="#82c752"/><stop offset="36.61%" stop-color="#6ec564"/><stop offset="37.50%" stop-color="#5ac276"/><stop offset="38.39%" stop-color="#6ec564"/><stop offset="39.29%" stop-color="#82c752"/><stop offset="40.18%" stop-color="#46c089"/><stop offset="41.07%" stop-color="#24b9b8"/><stop offset="41.96%" stop-color="#2bbca9"/><stop offset="42.86%" stop-color="#32be9b"/><stop offset="43.75%" stop-color="#2bbca9"/><stop offset="44.64%" stop-color="#24b9b8"/><stop offset="45.54%" stop-color="#1db6c6"/><stop offset="46.43%" stop-color="#16b4d4"/><stop offset="47.32%" stop-color="#16b4d4"/><stop offset="48.21%" stop-color="#16b4d4"/><stop offset="49.11%" stop-color="#1ca4de"/><stop offset="50.00%" stop-color="#3181d4"/><stop offset="50.89%" stop-color="#3181d4"/><stop offset="51.79%" stop-color="#3181d4"/><stop offset="52.68%" stop-color="#4464c8"/><stop offset="53.57%" stop-color="#4656bd"/><stop offset="54.46%" stop-color="#4464c8"/><stop offset="55.36%" stop-color="#3181d4"/><stop offset="56.25%" stop-color="#3181d4"/><stop offset="57.14%" stop-color="#3181d4"/><stop offset="58.04%" stop-color="#2890db"/><stop offset="58.93%" stop-color="#1e9ee1"/><stop offset="59.82%" stop-color="#1e9ee1"/><stop offset="60.71%" stop-color="#1e9ee1"/><stop offset="61.61%" stop-color="#1aa9da"/><stop offset="62.50%" stop-color="#16b4d4"/><stop offset="63.39%" stop-color="#32be9b"/><stop offset="64.29%" stop-color="#82c752"/><stop offset="65.18%" stop-color="#82c752"/><stop offset="66.07%" stop-color="#82c752"/><stop offset="66.96%" stop-color="#6ec564"/><stop offset="67.86%" stop-color="#5ac276"/><stop offset="68.75%" stop-color="#82c752"/><stop offset="69.64%" stop-color="#a8c640"/><stop offset="70.54%" stop-color="#82c752"/><stop offset="71.43%" stop-color="#5ac276"/><stop offset="72.32%" stop-color="#95c649"/><stop offset="73.21%" stop-color="#cdc42d"/><stop offset="74.11%" stop-color="#95c649"/><stop offset="75.00%" stop-color="#5ac276"/><stop offset="75.89%" stop-color="#2bbca9"/><stop offset="76.79%" stop-color="#16b4d4"/><stop offset="77.68%" stop-color="#18aed7"/><stop offset="78.57%" stop-color="#1aa9da"/><stop offset="79.46%" stop-color="#1aa9da"/><stop offset="80.36%" stop-color="#1aa9da"/><stop offset="81.25%" stop-color="#1ca4de"/><stop offset="82.14%" stop-color="#1e9ee1"/><stop offset="83.04%" stop-color="#1ca4de"/><stop offset="83.93%" stop-color="#1aa9da"/><stop offset="84.82%" stop-color="#1aa9da"/><stop offset="85.71%" stop-color="#1aa9da"/><stop offset="86.61%" stop-color="#32be9b"/><stop offset="87.50%" stop-color="#a8c640"/><stop offset="88.39%" stop-color="#a8c640"/><stop offset="89.29%" stop-color="#a8c640"/><stop offset="90.18%" stop-color="#a8c640"/><stop offset="91.07%" stop-color="#a8c640"/><stop offset="91.96%" stop-color="#95c649"/><stop offset="92.86%" stop-color="#82c752"/><stop offset="93.75%" stop-color="#6ec564"/><stop offset="94.64%" stop-color="#5ac276"/><stop offset="95.54%" stop-color="#16b4d4"/><stop offset="96.43%" stop-color="#3181d4"/><stop offset="97.32%" stop-color="#3181d4"/><stop offset="98.21%" stop-color="#3181d4"/><stop offset="99.11%" stop-color="#2890db"/><stop offset="100.00%" stop-color="#1e9ee1"/></linearGradient><linearGradient id="gB8" gradientUnits="userSpaceOnUse" x1="156.0" y1="0" x2="1275.0" y2="0"><stop offset="0.00%" stop-color="#32be9b"/><stop offset="0.89%" stop-color="#a8c640"/><stop offset="1.79%" stop-color="#f8bc37"/><stop offset="2.68%" stop-color="#f6d42a"/><stop offset="3.57%" stop-color="#f3ec1e"/><stop offset="4.46%" stop-color="#f3ec1e"/><stop offset="5.36%" stop-color="#f3ec1e"/><stop offset="6.25%" stop-color="#f6d42a"/><stop offset="7.14%" stop-color="#f8bc37"/><stop offset="8.04%" stop-color="#f6d42a"/><stop offset="8.93%" stop-color="#f3ec1e"/><stop offset="9.82%" stop-color="#cdc42d"/><stop offset="10.71%" stop-color="#32be9b"/><stop offset="11.61%" stop-color="#32be9b"/><stop offset="12.50%" stop-color="#32be9b"/><stop offset="13.39%" stop-color="#5ac276"/><stop offset="14.29%" stop-color="#82c752"/><stop offset="15.18%" stop-color="#5ac276"/><stop offset="16.07%" stop-color="#32be9b"/><stop offset="16.96%" stop-color="#32be9b"/><stop offset="17.86%" stop-color="#32be9b"/><stop offset="18.75%" stop-color="#24b9b8"/><stop offset="19.64%" stop-color="#16b4d4"/><stop offset="20.54%" stop-color="#32be9b"/><stop offset="21.43%" stop-color="#82c752"/><stop offset="22.32%" stop-color="#e2c032"/><stop offset="23.21%" stop-color="#f3ec1e"/><stop offset="24.11%" stop-color="#f3ec1e"/><stop offset="25.00%" stop-color="#f3ec1e"/><stop offset="25.89%" stop-color="#f3ec1e"/><stop offset="26.79%" stop-color="#f3ec1e"/><stop offset="27.68%" stop-color="#f6d42a"/><stop offset="28.57%" stop-color="#f8bc37"/><stop offset="29.46%" stop-color="#cdc42d"/><stop offset="30.36%" stop-color="#82c752"/><stop offset="31.25%" stop-color="#cdc42d"/><stop offset="32.14%" stop-color="#f8bc37"/><stop offset="33.04%" stop-color="#f8bc37"/><stop offset="33.93%" stop-color="#f8bc37"/><stop offset="34.82%" stop-color="#f8bc37"/><stop offset="35.71%" stop-color="#f8bc37"/><stop offset="36.61%" stop-color="#cdc42d"/><stop offset="37.50%" stop-color="#82c752"/><stop offset="38.39%" stop-color="#5ac276"/><stop offset="39.29%" stop-color="#32be9b"/><stop offset="40.18%" stop-color="#24b9b8"/><stop offset="41.07%" stop-color="#16b4d4"/><stop offset="41.96%" stop-color="#24b9b8"/><stop offset="42.86%" stop-color="#32be9b"/><stop offset="43.75%" stop-color="#32be9b"/><stop offset="44.64%" stop-color="#32be9b"/><stop offset="45.54%" stop-color="#24b9b8"/><stop offset="46.43%" stop-color="#16b4d4"/><stop offset="47.32%" stop-color="#1aa9da"/><stop offset="48.21%" stop-color="#1e9ee1"/><stop offset="49.11%" stop-color="#3181d4"/><stop offset="50.00%" stop-color="#4464c8"/><stop offset="50.89%" stop-color="#3181d4"/><stop offset="51.79%" stop-color="#1e9ee1"/><stop offset="52.68%" stop-color="#3181d4"/><stop offset="53.57%" stop-color="#4464c8"/><stop offset="54.46%" stop-color="#3181d4"/><stop offset="55.36%" stop-color="#1e9ee1"/><stop offset="56.25%" stop-color="#1e9ee1"/><stop offset="57.14%" stop-color="#1e9ee1"/><stop offset="58.04%" stop-color="#1e9ee1"/><stop offset="58.93%" stop-color="#1e9ee1"/><stop offset="59.82%" stop-color="#1e9ee1"/><stop offset="60.71%" stop-color="#1e9ee1"/><stop offset="61.61%" stop-color="#1aa9da"/><stop offset="62.50%" stop-color="#16b4d4"/><stop offset="63.39%" stop-color="#24b9b8"/><stop offset="64.29%" stop-color="#32be9b"/><stop offset="65.18%" stop-color="#5ac276"/><stop offset="66.07%" stop-color="#82c752"/><stop offset="66.96%" stop-color="#5ac276"/><stop offset="67.86%" stop-color="#32be9b"/><stop offset="68.75%" stop-color="#5ac276"/><stop offset="69.64%" stop-color="#82c752"/><stop offset="70.54%" stop-color="#82c752"/><stop offset="71.43%" stop-color="#82c752"/><stop offset="72.32%" stop-color="#a8c640"/><stop offset="73.21%" stop-color="#cdc42d"/><stop offset="74.11%" stop-color="#a8c640"/><stop offset="75.00%" stop-color="#82c752"/><stop offset="75.89%" stop-color="#32be9b"/><stop offset="76.79%" stop-color="#16b4d4"/><stop offset="77.68%" stop-color="#1aa9da"/><stop offset="78.57%" stop-color="#1e9ee1"/><stop offset="79.46%" stop-color="#1e9ee1"/><stop offset="80.36%" stop-color="#1e9ee1"/><stop offset="81.25%" stop-color="#3181d4"/><stop offset="82.14%" stop-color="#4464c8"/><stop offset="83.04%" stop-color="#1aa9da"/><stop offset="83.93%" stop-color="#32be9b"/><stop offset="84.82%" stop-color="#32be9b"/><stop offset="85.71%" stop-color="#32be9b"/><stop offset="86.61%" stop-color="#5ac276"/><stop offset="87.50%" stop-color="#82c752"/><stop offset="88.39%" stop-color="#5ac276"/><stop offset="89.29%" stop-color="#32be9b"/><stop offset="90.18%" stop-color="#32be9b"/><stop offset="91.07%" stop-color="#32be9b"/><stop offset="91.96%" stop-color="#24b9b8"/><stop offset="92.86%" stop-color="#16b4d4"/><stop offset="93.75%" stop-color="#32be9b"/><stop offset="94.64%" stop-color="#82c752"/><stop offset="95.54%" stop-color="#24b9b8"/><stop offset="96.43%" stop-color="#1e9ee1"/><stop offset="97.32%" stop-color="#3181d4"/><stop offset="98.21%" stop-color="#4464c8"/><stop offset="99.11%" stop-color="#4464c8"/><stop offset="100.00%" stop-color="#4464c8"/></linearGradient><linearGradient id="gB9" gradientUnits="userSpaceOnUse" x1="156.0" y1="0" x2="1275.0" y2="0"><stop offset="0.00%" stop-color="#5ac276"/><stop offset="0.89%" stop-color="#bac536"/><stop offset="1.79%" stop-color="#f8bc37"/><stop offset="2.68%" stop-color="#f7c831"/><stop offset="3.57%" stop-color="#f6d42a"/><stop offset="4.46%" stop-color="#f6d42a"/><stop offset="5.36%" stop-color="#f6d42a"/><stop offset="6.25%" stop-color="#f6d42a"/><stop offset="7.14%" stop-color="#f6d42a"/><stop offset="8.04%" stop-color="#f4e024"/><stop offset="8.93%" stop-color="#f3ec1e"/><stop offset="9.82%" stop-color="#d8c230"/><stop offset="10.71%" stop-color="#5ac276"/><stop offset="11.61%" stop-color="#46c089"/><stop offset="12.50%" stop-color="#32be9b"/><stop offset="13.39%" stop-color="#46c089"/><stop offset="14.29%" stop-color="#5ac276"/><stop offset="15.18%" stop-color="#32be9b"/><stop offset="16.07%" stop-color="#24b9b8"/><stop offset="16.96%" stop-color="#24b9b8"/><stop offset="17.86%" stop-color="#24b9b8"/><stop offset="18.75%" stop-color="#1db6c6"/><stop offset="19.64%" stop-color="#16b4d4"/><stop offset="20.54%" stop-color="#32be9b"/><stop offset="21.43%" stop-color="#82c752"/><stop offset="22.32%" stop-color="#e2c032"/><stop offset="23.21%" stop-color="#f3ec1e"/><stop offset="24.11%" stop-color="#f3ec1e"/><stop offset="25.00%" stop-color="#f3ec1e"/><stop offset="25.89%" stop-color="#f3ec1e"/><stop offset="26.79%" stop-color="#f3ec1e"/><stop offset="27.68%" stop-color="#f6d42a"/><stop offset="28.57%" stop-color="#f8bc37"/><stop offset="29.46%" stop-color="#cdc42d"/><stop offset="30.36%" stop-color="#82c752"/><stop offset="31.25%" stop-color="#bac536"/><stop offset="32.14%" stop-color="#e2c032"/><stop offset="33.04%" stop-color="#edbe34"/><stop offset="33.93%" stop-color="#f8bc37"/><stop offset="34.82%" stop-color="#edbe34"/><stop offset="35.71%" stop-color="#e2c032"/><stop offset="36.61%" stop-color="#a8c640"/><stop offset="37.50%" stop-color="#5ac276"/><stop offset="38.39%" stop-color="#5ac276"/><stop offset="39.29%" stop-color="#5ac276"/><stop offset="40.18%" stop-color="#32be9b"/><stop offset="41.07%" stop-color="#24b9b8"/><stop offset="41.96%" stop-color="#2bbca9"/><stop offset="42.86%" stop-color="#32be9b"/><stop offset="43.75%" stop-color="#2bbca9"/><stop offset="44.64%" stop-color="#24b9b8"/><stop offset="45.54%" stop-color="#18aed7"/><stop offset="46.43%" stop-color="#1e9ee1"/><stop offset="47.32%" stop-color="#1e9ee1"/><stop offset="48.21%" stop-color="#1e9ee1"/><stop offset="49.11%" stop-color="#1e9ee1"/><stop offset="50.00%" stop-color="#1e9ee1"/><stop offset="50.89%" stop-color="#1aa9da"/><stop offset="51.79%" stop-color="#16b4d4"/><stop offset="52.68%" stop-color="#18aed7"/><stop offset="53.57%" stop-color="#1aa9da"/><stop offset="54.46%" stop-color="#1db6c6"/><stop offset="55.36%" stop-color="#32be9b"/><stop offset="56.25%" stop-color="#24b9b8"/><stop offset="57.14%" stop-color="#16b4d4"/><stop offset="58.04%" stop-color="#18aed7"/><stop offset="58.93%" stop-color="#1aa9da"/><stop offset="59.82%" stop-color="#18aed7"/><stop offset="60.71%" stop-color="#16b4d4"/><stop offset="61.61%" stop-color="#18aed7"/><stop offset="62.50%" stop-color="#1aa9da"/><stop offset="63.39%" stop-color="#16b4d4"/><stop offset="64.29%" stop-color="#24b9b8"/><stop offset="65.18%" stop-color="#32be9b"/><stop offset="66.07%" stop-color="#5ac276"/><stop offset="66.96%" stop-color="#5ac276"/><stop offset="67.86%" stop-color="#5ac276"/><stop offset="68.75%" stop-color="#5ac276"/><stop offset="69.64%" stop-color="#5ac276"/><stop offset="70.54%" stop-color="#5ac276"/><stop offset="71.43%" stop-color="#5ac276"/><stop offset="72.32%" stop-color="#82c752"/><stop offset="73.21%" stop-color="#a8c640"/><stop offset="74.11%" stop-color="#a8c640"/><stop offset="75.00%" stop-color="#a8c640"/><stop offset="75.89%" stop-color="#6ec564"/><stop offset="76.79%" stop-color="#32be9b"/><stop offset="77.68%" stop-color="#1db6c6"/><stop offset="78.57%" stop-color="#1aa9da"/><stop offset="79.46%" stop-color="#1e9ee1"/><stop offset="80.36%" stop-color="#3181d4"/><stop offset="81.25%" stop-color="#3181d4"/><stop offset="82.14%" stop-color="#3181d4"/><stop offset="83.04%" stop-color="#16b4d4"/><stop offset="83.93%" stop-color="#5ac276"/><stop offset="84.82%" stop-color="#6ec564"/><stop offset="85.71%" stop-color="#82c752"/><stop offset="86.61%" stop-color="#6ec564"/><stop offset="87.50%" stop-color="#5ac276"/><stop offset="88.39%" stop-color="#46c089"/><stop offset="89.29%" stop-color="#32be9b"/><stop offset="90.18%" stop-color="#2bbca9"/><stop offset="91.07%" stop-color="#24b9b8"/><stop offset="91.96%" stop-color="#16b4d4"/><stop offset="92.86%" stop-color="#1aa9da"/><stop offset="93.75%" stop-color="#2bbca9"/><stop offset="94.64%" stop-color="#82c752"/><stop offset="95.54%" stop-color="#32be9b"/><stop offset="96.43%" stop-color="#16b4d4"/><stop offset="97.32%" stop-color="#1ca4de"/><stop offset="98.21%" stop-color="#3181d4"/><stop offset="99.11%" stop-color="#3a72ce"/><stop offset="100.00%" stop-color="#4464c8"/></linearGradient><linearGradient id="gB10" gradientUnits="userSpaceOnUse" x1="156.0" y1="0" x2="1275.0" y2="0"><stop offset="0.00%" stop-color="#82c752"/><stop offset="0.89%" stop-color="#cdc42d"/><stop offset="1.79%" stop-color="#f8bc37"/><stop offset="2.68%" stop-color="#f8bc37"/><stop offset="3.57%" stop-color="#f8bc37"/><stop offset="4.46%" stop-color="#f8bc37"/><stop offset="5.36%" stop-color="#f8bc37"/><stop offset="6.25%" stop-color="#f6d42a"/><stop offset="7.14%" stop-color="#f3ec1e"/><stop offset="8.04%" stop-color="#f3ec1e"/><stop offset="8.93%" stop-color="#f3ec1e"/><stop offset="9.82%" stop-color="#e2c032"/><stop offset="10.71%" stop-color="#82c752"/><stop offset="11.61%" stop-color="#5ac276"/><stop offset="12.50%" stop-color="#32be9b"/><stop offset="13.39%" stop-color="#32be9b"/><stop offset="14.29%" stop-color="#32be9b"/><stop offset="15.18%" stop-color="#24b9b8"/><stop offset="16.07%" stop-color="#16b4d4"/><stop offset="16.96%" stop-color="#16b4d4"/><stop offset="17.86%" stop-color="#16b4d4"/><stop offset="18.75%" stop-color="#16b4d4"/><stop offset="19.64%" stop-color="#16b4d4"/><stop offset="20.54%" stop-color="#32be9b"/><stop offset="21.43%" stop-color="#82c752"/><stop offset="22.32%" stop-color="#e2c032"/><stop offset="23.21%" stop-color="#f3ec1e"/><stop offset="24.11%" stop-color="#f3ec1e"/><stop offset="25.00%" stop-color="#f3ec1e"/><stop offset="25.89%" stop-color="#f3ec1e"/><stop offset="26.79%" stop-color="#f3ec1e"/><stop offset="27.68%" stop-color="#f6d42a"/><stop offset="28.57%" stop-color="#f8bc37"/><stop offset="29.46%" stop-color="#cdc42d"/><stop offset="30.36%" stop-color="#82c752"/><stop offset="31.25%" stop-color="#a8c640"/><stop offset="32.14%" stop-color="#cdc42d"/><stop offset="33.04%" stop-color="#e2c032"/><stop offset="33.93%" stop-color="#f8bc37"/><stop offset="34.82%" stop-color="#e2c032"/><stop offset="35.71%" stop-color="#cdc42d"/><stop offset="36.61%" stop-color="#82c752"/><stop offset="37.50%" stop-color="#32be9b"/><stop offset="38.39%" stop-color="#5ac276"/><stop offset="39.29%" stop-color="#82c752"/><stop offset="40.18%" stop-color="#5ac276"/><stop offset="41.07%" stop-color="#32be9b"/><stop offset="41.96%" stop-color="#32be9b"/><stop offset="42.86%" stop-color="#32be9b"/><stop offset="43.75%" stop-color="#24b9b8"/><stop offset="44.64%" stop-color="#16b4d4"/><stop offset="45.54%" stop-color="#1e9ee1"/><stop offset="46.43%" stop-color="#4464c8"/><stop offset="47.32%" stop-color="#3181d4"/><stop offset="48.21%" stop-color="#1e9ee1"/><stop offset="49.11%" stop-color="#1aa9da"/><stop offset="50.00%" stop-color="#16b4d4"/><stop offset="50.89%" stop-color="#24b9b8"/><stop offset="51.79%" stop-color="#32be9b"/><stop offset="52.68%" stop-color="#32be9b"/><stop offset="53.57%" stop-color="#32be9b"/><stop offset="54.46%" stop-color="#82c752"/><stop offset="55.36%" stop-color="#cdc42d"/><stop offset="56.25%" stop-color="#82c752"/><stop offset="57.14%" stop-color="#32be9b"/><stop offset="58.04%" stop-color="#24b9b8"/><stop offset="58.93%" stop-color="#16b4d4"/><stop offset="59.82%" stop-color="#24b9b8"/><stop offset="60.71%" stop-color="#32be9b"/><stop offset="61.61%" stop-color="#16b4d4"/><stop offset="62.50%" stop-color="#1e9ee1"/><stop offset="63.39%" stop-color="#1aa9da"/><stop offset="64.29%" stop-color="#16b4d4"/><stop offset="65.18%" stop-color="#24b9b8"/><stop offset="66.07%" stop-color="#32be9b"/><stop offset="66.96%" stop-color="#5ac276"/><stop offset="67.86%" stop-color="#82c752"/><stop offset="68.75%" stop-color="#5ac276"/><stop offset="69.64%" stop-color="#32be9b"/><stop offset="70.54%" stop-color="#32be9b"/><stop offset="71.43%" stop-color="#32be9b"/><stop offset="72.32%" stop-color="#5ac276"/><stop offset="73.21%" stop-color="#82c752"/><stop offset="74.11%" stop-color="#a8c640"/><stop offset="75.00%" stop-color="#cdc42d"/><stop offset="75.89%" stop-color="#a8c640"/><stop offset="76.79%" stop-color="#82c752"/><stop offset="77.68%" stop-color="#32be9b"/><stop offset="78.57%" stop-color="#16b4d4"/><stop offset="79.46%" stop-color="#1e9ee1"/><stop offset="80.36%" stop-color="#4464c8"/><stop offset="81.25%" stop-color="#3181d4"/><stop offset="82.14%" stop-color="#1e9ee1"/><stop offset="83.04%" stop-color="#24b9b8"/><stop offset="83.93%" stop-color="#82c752"/><stop offset="84.82%" stop-color="#a8c640"/><stop offset="85.71%" stop-color="#cdc42d"/><stop offset="86.61%" stop-color="#82c752"/><stop offset="87.50%" stop-color="#32be9b"/><stop offset="88.39%" stop-color="#32be9b"/><stop offset="89.29%" stop-color="#32be9b"/><stop offset="90.18%" stop-color="#24b9b8"/><stop offset="91.07%" stop-color="#16b4d4"/><stop offset="91.96%" stop-color="#1aa9da"/><stop offset="92.86%" stop-color="#1e9ee1"/><stop offset="93.75%" stop-color="#24b9b8"/><stop offset="94.64%" stop-color="#82c752"/><stop offset="95.54%" stop-color="#5ac276"/><stop offset="96.43%" stop-color="#32be9b"/><stop offset="97.32%" stop-color="#16b4d4"/><stop offset="98.21%" stop-color="#1e9ee1"/><stop offset="99.11%" stop-color="#3181d4"/><stop offset="100.00%" stop-color="#4464c8"/></linearGradient><linearGradient id="gB11" gradientUnits="userSpaceOnUse" x1="156.0" y1="0" x2="1275.0" y2="0"><stop offset="0.00%" stop-color="#82c752"/><stop offset="0.89%" stop-color="#cdc42d"/><stop offset="1.79%" stop-color="#f8bc37"/><stop offset="2.68%" stop-color="#edbe34"/><stop offset="3.57%" stop-color="#e2c032"/><stop offset="4.46%" stop-color="#edbe34"/><stop offset="5.36%" stop-color="#f8bc37"/><stop offset="6.25%" stop-color="#f7c831"/><stop offset="7.14%" stop-color="#f6d42a"/><stop offset="8.04%" stop-color="#f6d42a"/><stop offset="8.93%" stop-color="#f6d42a"/><stop offset="9.82%" stop-color="#d8c230"/><stop offset="10.71%" stop-color="#82c752"/><stop offset="11.61%" stop-color="#5ac276"/><stop offset="12.50%" stop-color="#32be9b"/><stop offset="13.39%" stop-color="#2bbca9"/><stop offset="14.29%" stop-color="#24b9b8"/><stop offset="15.18%" stop-color="#16b4d4"/><stop offset="16.07%" stop-color="#1aa9da"/><stop offset="16.96%" stop-color="#18aed7"/><stop offset="17.86%" stop-color="#16b4d4"/><stop offset="18.75%" stop-color="#2bbca9"/><stop offset="19.64%" stop-color="#5ac276"/><stop offset="20.54%" stop-color="#6ec564"/><stop offset="21.43%" stop-color="#82c752"/><stop offset="22.32%" stop-color="#d8c230"/><stop offset="23.21%" stop-color="#f6d42a"/><stop offset="24.11%" stop-color="#f4e024"/><stop offset="25.00%" stop-color="#f3ec1e"/><stop offset="25.89%" stop-color="#f4e024"/><stop offset="26.79%" stop-color="#f6d42a"/><stop offset="27.68%" stop-color="#f6d42a"/><stop offset="28.57%" stop-color="#f6d42a"/><stop offset="29.46%" stop-color="#f8bc37"/><stop offset="30.36%" stop-color="#e2c032"/><stop offset="31.25%" stop-color="#e2c032"/><stop offset="32.14%" stop-color="#e2c032"/><stop offset="33.04%" stop-color="#cdc42d"/><stop offset="33.93%" stop-color="#a8c640"/><stop offset="34.82%" stop-color="#95c649"/><stop offset="35.71%" stop-color="#82c752"/><stop offset="36.61%" stop-color="#6ec564"/><stop offset="37.50%" stop-color="#5ac276"/><stop offset="38.39%" stop-color="#5ac276"/><stop offset="39.29%" stop-color="#5ac276"/><stop offset="40.18%" stop-color="#46c089"/><stop offset="41.07%" stop-color="#32be9b"/><stop offset="41.96%" stop-color="#32be9b"/><stop offset="42.86%" stop-color="#32be9b"/><stop offset="43.75%" stop-color="#2bbca9"/><stop offset="44.64%" stop-color="#24b9b8"/><stop offset="45.54%" stop-color="#1aa9da"/><stop offset="46.43%" stop-color="#3181d4"/><stop offset="47.32%" stop-color="#1e9ee1"/><stop offset="48.21%" stop-color="#1aa9da"/><stop offset="49.11%" stop-color="#18aed7"/><stop offset="50.00%" stop-color="#16b4d4"/><stop offset="50.89%" stop-color="#24b9b8"/><stop offset="51.79%" stop-color="#32be9b"/><stop offset="52.68%" stop-color="#46c089"/><stop offset="53.57%" stop-color="#5ac276"/><stop offset="54.46%" stop-color="#a8c640"/><stop offset="55.36%" stop-color="#e2c032"/><stop offset="56.25%" stop-color="#95c649"/><stop offset="57.14%" stop-color="#32be9b"/><stop offset="58.04%" stop-color="#24b9b8"/><stop offset="58.93%" stop-color="#16b4d4"/><stop offset="59.82%" stop-color="#24b9b8"/><stop offset="60.71%" stop-color="#32be9b"/><stop offset="61.61%" stop-color="#1db6c6"/><stop offset="62.50%" stop-color="#1aa9da"/><stop offset="63.39%" stop-color="#1aa9da"/><stop offset="64.29%" stop-color="#1aa9da"/><stop offset="65.18%" stop-color="#1db6c6"/><stop offset="66.07%" stop-color="#32be9b"/><stop offset="66.96%" stop-color="#32be9b"/><stop offset="67.86%" stop-color="#32be9b"/><stop offset="68.75%" stop-color="#2bbca9"/><stop offset="69.64%" stop-color="#24b9b8"/><stop offset="70.54%" stop-color="#2bbca9"/><stop offset="71.43%" stop-color="#32be9b"/><stop offset="72.32%" stop-color="#5ac276"/><stop offset="73.21%" stop-color="#82c752"/><stop offset="74.11%" stop-color="#95c649"/><stop offset="75.00%" stop-color="#a8c640"/><stop offset="75.89%" stop-color="#82c752"/><stop offset="76.79%" stop-color="#5ac276"/><stop offset="77.68%" stop-color="#2bbca9"/><stop offset="78.57%" stop-color="#16b4d4"/><stop offset="79.46%" stop-color="#1e9ee1"/><stop offset="80.36%" stop-color="#4464c8"/><stop offset="81.25%" stop-color="#2890db"/><stop offset="82.14%" stop-color="#1aa9da"/><stop offset="83.04%" stop-color="#32be9b"/><stop offset="83.93%" stop-color="#a8c640"/><stop offset="84.82%" stop-color="#a8c640"/><stop offset="85.71%" stop-color="#a8c640"/><stop offset="86.61%" stop-color="#6ec564"/><stop offset="87.50%" stop-color="#32be9b"/><stop offset="88.39%" stop-color="#24b9b8"/><stop offset="89.29%" stop-color="#16b4d4"/><stop offset="90.18%" stop-color="#18aed7"/><stop offset="91.07%" stop-color="#1aa9da"/><stop offset="91.96%" stop-color="#1ca4de"/><stop offset="92.86%" stop-color="#1e9ee1"/><stop offset="93.75%" stop-color="#18aed7"/><stop offset="94.64%" stop-color="#24b9b8"/><stop offset="95.54%" stop-color="#2bbca9"/><stop offset="96.43%" stop-color="#32be9b"/><stop offset="97.32%" stop-color="#2bbca9"/><stop offset="98.21%" stop-color="#24b9b8"/><stop offset="99.11%" stop-color="#16b4d4"/><stop offset="100.00%" stop-color="#1aa9da"/></linearGradient><linearGradient id="gB12" gradientUnits="userSpaceOnUse" x1="156.0" y1="0" x2="1275.0" y2="0"><stop offset="0.00%" stop-color="#82c752"/><stop offset="0.89%" stop-color="#cdc42d"/><stop offset="1.79%" stop-color="#f8bc37"/><stop offset="2.68%" stop-color="#e2c032"/><stop offset="3.57%" stop-color="#cdc42d"/><stop offset="4.46%" stop-color="#e2c032"/><stop offset="5.36%" stop-color="#f8bc37"/><stop offset="6.25%" stop-color="#f8bc37"/><stop offset="7.14%" stop-color="#f8bc37"/><stop offset="8.04%" stop-color="#f8bc37"/><stop offset="8.93%" stop-color="#f8bc37"/><stop offset="9.82%" stop-color="#cdc42d"/><stop offset="10.71%" stop-color="#82c752"/><stop offset="11.61%" stop-color="#5ac276"/><stop offset="12.50%" stop-color="#32be9b"/><stop offset="13.39%" stop-color="#24b9b8"/><stop offset="14.29%" stop-color="#16b4d4"/><stop offset="15.18%" stop-color="#1aa9da"/><stop offset="16.07%" stop-color="#1e9ee1"/><stop offset="16.96%" stop-color="#1aa9da"/><stop offset="17.86%" stop-color="#16b4d4"/><stop offset="18.75%" stop-color="#5ac276"/><stop offset="19.64%" stop-color="#cdc42d"/><stop offset="20.54%" stop-color="#a8c640"/><stop offset="21.43%" stop-color="#82c752"/><stop offset="22.32%" stop-color="#cdc42d"/><stop offset="23.21%" stop-color="#f8bc37"/><stop offset="24.11%" stop-color="#f6d42a"/><stop offset="25.00%" stop-color="#f3ec1e"/><stop offset="25.89%" stop-color="#f6d42a"/><stop offset="26.79%" stop-color="#f8bc37"/><stop offset="27.68%" stop-color="#f6d42a"/><stop offset="28.57%" stop-color="#f3ec1e"/><stop offset="29.46%" stop-color="#f3ec1e"/><stop offset="30.36%" stop-color="#f3ec1e"/><stop offset="31.25%" stop-color="#f6d42a"/><stop offset="32.14%" stop-color="#f8bc37"/><stop offset="33.04%" stop-color="#a8c640"/><stop offset="33.93%" stop-color="#32be9b"/><stop offset="34.82%" stop-color="#32be9b"/><stop offset="35.71%" stop-color="#32be9b"/><stop offset="36.61%" stop-color="#5ac276"/><stop offset="37.50%" stop-color="#82c752"/><stop offset="38.39%" stop-color="#5ac276"/><stop offset="39.29%" stop-color="#32be9b"/><stop offset="40.18%" stop-color="#32be9b"/><stop offset="41.07%" stop-color="#32be9b"/><stop offset="41.96%" stop-color="#32be9b"/><stop offset="42.86%" stop-color="#32be9b"/><stop offset="43.75%" stop-color="#32be9b"/><stop offset="44.64%" stop-color="#32be9b"/><stop offset="45.54%" stop-color="#16b4d4"/><stop offset="46.43%" stop-color="#1e9ee1"/><stop offset="47.32%" stop-color="#1aa9da"/><stop offset="48.21%" stop-color="#16b4d4"/><stop offset="49.11%" stop-color="#16b4d4"/><stop offset="50.00%" stop-color="#16b4d4"/><stop offset="50.89%" stop-color="#24b9b8"/><stop offset="51.79%" stop-color="#32be9b"/><stop offset="52.68%" stop-color="#5ac276"/><stop offset="53.57%" stop-color="#82c752"/><stop offset="54.46%" stop-color="#cdc42d"/><stop offset="55.36%" stop-color="#f8bc37"/><stop offset="56.25%" stop-color="#a8c640"/><stop offset="57.14%" stop-color="#32be9b"/><stop offset="58.04%" stop-color="#24b9b8"/><stop offset="58.93%" stop-color="#16b4d4"/><stop offset="59.82%" stop-color="#24b9b8"/><stop offset="60.71%" stop-color="#32be9b"/><stop offset="61.61%" stop-color="#24b9b8"/><stop offset="62.50%" stop-color="#16b4d4"/><stop offset="63.39%" stop-color="#1aa9da"/><stop offset="64.29%" stop-color="#1e9ee1"/><stop offset="65.18%" stop-color="#16b4d4"/><stop offset="66.07%" stop-color="#32be9b"/><stop offset="66.96%" stop-color="#24b9b8"/><stop offset="67.86%" stop-color="#16b4d4"/><stop offset="68.75%" stop-color="#16b4d4"/><stop offset="69.64%" stop-color="#16b4d4"/><stop offset="70.54%" stop-color="#24b9b8"/><stop offset="71.43%" stop-color="#32be9b"/><stop offset="72.32%" stop-color="#5ac276"/><stop offset="73.21%" stop-color="#82c752"/><stop offset="74.11%" stop-color="#82c752"/><stop offset="75.00%" stop-color="#82c752"/><stop offset="75.89%" stop-color="#5ac276"/><stop offset="76.79%" stop-color="#32be9b"/><stop offset="77.68%" stop-color="#24b9b8"/><stop offset="78.57%" stop-color="#16b4d4"/><stop offset="79.46%" stop-color="#1e9ee1"/><stop offset="80.36%" stop-color="#4464c8"/><stop offset="81.25%" stop-color="#1e9ee1"/><stop offset="82.14%" stop-color="#16b4d4"/><stop offset="83.04%" stop-color="#5ac276"/><stop offset="83.93%" stop-color="#cdc42d"/><stop offset="84.82%" stop-color="#a8c640"/><stop offset="85.71%" stop-color="#82c752"/><stop offset="86.61%" stop-color="#5ac276"/><stop offset="87.50%" stop-color="#32be9b"/><stop offset="88.39%" stop-color="#16b4d4"/><stop offset="89.29%" stop-color="#1e9ee1"/><stop offset="90.18%" stop-color="#1e9ee1"/><stop offset="91.07%" stop-color="#1e9ee1"/><stop offset="91.96%" stop-color="#1e9ee1"/><stop offset="92.86%" stop-color="#1e9ee1"/><stop offset="93.75%" stop-color="#1e9ee1"/><stop offset="94.64%" stop-color="#1e9ee1"/><stop offset="95.54%" stop-color="#16b4d4"/><stop offset="96.43%" stop-color="#32be9b"/><stop offset="97.32%" stop-color="#5ac276"/><stop offset="98.21%" stop-color="#82c752"/><stop offset="99.11%" stop-color="#5ac276"/><stop offset="100.00%" stop-color="#32be9b"/></linearGradient><linearGradient id="gB13" gradientUnits="userSpaceOnUse" x1="156.0" y1="0" x2="1275.0" y2="0"><stop offset="0.00%" stop-color="#a8c640"/><stop offset="0.89%" stop-color="#cdc42d"/><stop offset="1.79%" stop-color="#e2c032"/><stop offset="2.68%" stop-color="#cdc42d"/><stop offset="3.57%" stop-color="#a8c640"/><stop offset="4.46%" stop-color="#d8c230"/><stop offset="5.36%" stop-color="#f8bc37"/><stop offset="6.25%" stop-color="#edbe34"/><stop offset="7.14%" stop-color="#e2c032"/><stop offset="8.04%" stop-color="#e2c032"/><stop offset="8.93%" stop-color="#e2c032"/><stop offset="9.82%" stop-color="#bac536"/><stop offset="10.71%" stop-color="#82c752"/><stop offset="11.61%" stop-color="#5ac276"/><stop offset="12.50%" stop-color="#32be9b"/><stop offset="13.39%" stop-color="#24b9b8"/><stop offset="14.29%" stop-color="#16b4d4"/><stop offset="15.18%" stop-color="#16b4d4"/><stop offset="16.07%" stop-color="#16b4d4"/><stop offset="16.96%" stop-color="#24b9b8"/><stop offset="17.86%" stop-color="#32be9b"/><stop offset="18.75%" stop-color="#82c752"/><stop offset="19.64%" stop-color="#cdc42d"/><stop offset="20.54%" stop-color="#bac536"/><stop offset="21.43%" stop-color="#a8c640"/><stop offset="22.32%" stop-color="#bac536"/><stop offset="23.21%" stop-color="#cdc42d"/><stop offset="24.11%" stop-color="#e2c032"/><stop offset="25.00%" stop-color="#f8bc37"/><stop offset="25.89%" stop-color="#f7c831"/><stop offset="26.79%" stop-color="#f6d42a"/><stop offset="27.68%" stop-color="#f4e024"/><stop offset="28.57%" stop-color="#f3ec1e"/><stop offset="29.46%" stop-color="#f6d42a"/><stop offset="30.36%" stop-color="#f8bc37"/><stop offset="31.25%" stop-color="#e2c032"/><stop offset="32.14%" stop-color="#cdc42d"/><stop offset="33.04%" stop-color="#82c752"/><stop offset="33.93%" stop-color="#32be9b"/><stop offset="34.82%" stop-color="#46c089"/><stop offset="35.71%" stop-color="#5ac276"/><stop offset="36.61%" stop-color="#5ac276"/><stop offset="37.50%" stop-color="#5ac276"/><stop offset="38.39%" stop-color="#46c089"/><stop offset="39.29%" stop-color="#32be9b"/><stop offset="40.18%" stop-color="#32be9b"/><stop offset="41.07%" stop-color="#32be9b"/><stop offset="41.96%" stop-color="#32be9b"/><stop offset="42.86%" stop-color="#32be9b"/><stop offset="43.75%" stop-color="#32be9b"/><stop offset="44.64%" stop-color="#32be9b"/><stop offset="45.54%" stop-color="#2bbca9"/><stop offset="46.43%" stop-color="#24b9b8"/><stop offset="47.32%" stop-color="#1db6c6"/><stop offset="48.21%" stop-color="#16b4d4"/><stop offset="49.11%" stop-color="#16b4d4"/><stop offset="50.00%" stop-color="#16b4d4"/><stop offset="50.89%" stop-color="#32be9b"/><stop offset="51.79%" stop-color="#82c752"/><stop offset="52.68%" stop-color="#95c649"/><stop offset="53.57%" stop-color="#a8c640"/><stop offset="54.46%" stop-color="#bac536"/><stop offset="55.36%" stop-color="#cdc42d"/><stop offset="56.25%" stop-color="#82c752"/><stop offset="57.14%" stop-color="#32be9b"/><stop offset="58.04%" stop-color="#32be9b"/><stop offset="58.93%" stop-color="#32be9b"/><stop offset="59.82%" stop-color="#32be9b"/><stop offset="60.71%" stop-color="#32be9b"/><stop offset="61.61%" stop-color="#2bbca9"/><stop offset="62.50%" stop-color="#24b9b8"/><stop offset="63.39%" stop-color="#16b4d4"/><stop offset="64.29%" stop-color="#1aa9da"/><stop offset="65.18%" stop-color="#16b4d4"/><stop offset="66.07%" stop-color="#24b9b8"/><stop offset="66.96%" stop-color="#16b4d4"/><stop offset="67.86%" stop-color="#1aa9da"/><stop offset="68.75%" stop-color="#18aed7"/><stop offset="69.64%" stop-color="#16b4d4"/><stop offset="70.54%" stop-color="#24b9b8"/><stop offset="71.43%" stop-color="#32be9b"/><stop offset="72.32%" stop-color="#46c089"/><stop offset="73.21%" stop-color="#5ac276"/><stop offset="74.11%" stop-color="#6ec564"/><stop offset="75.00%" stop-color="#82c752"/><stop offset="75.89%" stop-color="#5ac276"/><stop offset="76.79%" stop-color="#32be9b"/><stop offset="77.68%" stop-color="#24b9b8"/><stop offset="78.57%" stop-color="#16b4d4"/><stop offset="79.46%" stop-color="#16b4d4"/><stop offset="80.36%" stop-color="#16b4d4"/><stop offset="81.25%" stop-color="#2bbca9"/><stop offset="82.14%" stop-color="#5ac276"/><stop offset="83.04%" stop-color="#6ec564"/><stop offset="83.93%" stop-color="#82c752"/><stop offset="84.82%" stop-color="#6ec564"/><stop offset="85.71%" stop-color="#5ac276"/><stop offset="86.61%" stop-color="#32be9b"/><stop offset="87.50%" stop-color="#24b9b8"/><stop offset="88.39%" stop-color="#16b4d4"/><stop offset="89.29%" stop-color="#1aa9da"/><stop offset="90.18%" stop-color="#1aa9da"/><stop offset="91.07%" stop-color="#1aa9da"/><stop offset="91.96%" stop-color="#1aa9da"/><stop offset="92.86%" stop-color="#1aa9da"/><stop offset="93.75%" stop-color="#1aa9da"/><stop offset="94.64%" stop-color="#1aa9da"/><stop offset="95.54%" stop-color="#16b4d4"/><stop offset="96.43%" stop-color="#24b9b8"/><stop offset="97.32%" stop-color="#32be9b"/><stop offset="98.21%" stop-color="#5ac276"/><stop offset="99.11%" stop-color="#6ec564"/><stop offset="100.00%" stop-color="#82c752"/></linearGradient><linearGradient id="gB14" gradientUnits="userSpaceOnUse" x1="156.0" y1="0" x2="1275.0" y2="0"><stop offset="0.00%" stop-color="#cdc42d"/><stop offset="0.89%" stop-color="#cdc42d"/><stop offset="1.79%" stop-color="#cdc42d"/><stop offset="2.68%" stop-color="#a8c640"/><stop offset="3.57%" stop-color="#82c752"/><stop offset="4.46%" stop-color="#cdc42d"/><stop offset="5.36%" stop-color="#f8bc37"/><stop offset="6.25%" stop-color="#e2c032"/><stop offset="7.14%" stop-color="#cdc42d"/><stop offset="8.04%" stop-color="#cdc42d"/><stop offset="8.93%" stop-color="#cdc42d"/><stop offset="9.82%" stop-color="#a8c640"/><stop offset="10.71%" stop-color="#82c752"/><stop offset="11.61%" stop-color="#5ac276"/><stop offset="12.50%" stop-color="#32be9b"/><stop offset="13.39%" stop-color="#24b9b8"/><stop offset="14.29%" stop-color="#16b4d4"/><stop offset="15.18%" stop-color="#24b9b8"/><stop offset="16.07%" stop-color="#32be9b"/><stop offset="16.96%" stop-color="#5ac276"/><stop offset="17.86%" stop-color="#82c752"/><stop offset="18.75%" stop-color="#a8c640"/><stop offset="19.64%" stop-color="#cdc42d"/><stop offset="20.54%" stop-color="#cdc42d"/><stop offset="21.43%" stop-color="#cdc42d"/><stop offset="22.32%" stop-color="#a8c640"/><stop offset="23.21%" stop-color="#82c752"/><stop offset="24.11%" stop-color="#a8c640"/><stop offset="25.00%" stop-color="#cdc42d"/><stop offset="25.89%" stop-color="#f8bc37"/><stop offset="26.79%" stop-color="#f3ec1e"/><stop offset="27.68%" stop-color="#f3ec1e"/><stop offset="28.57%" stop-color="#f3ec1e"/><stop offset="29.46%" stop-color="#f8bc37"/><stop offset="30.36%" stop-color="#cdc42d"/><stop offset="31.25%" stop-color="#a8c640"/><stop offset="32.14%" stop-color="#82c752"/><stop offset="33.04%" stop-color="#5ac276"/><stop offset="33.93%" stop-color="#32be9b"/><stop offset="34.82%" stop-color="#5ac276"/><stop offset="35.71%" stop-color="#82c752"/><stop offset="36.61%" stop-color="#5ac276"/><stop offset="37.50%" stop-color="#32be9b"/><stop offset="38.39%" stop-color="#32be9b"/><stop offset="39.29%" stop-color="#32be9b"/><stop offset="40.18%" stop-color="#32be9b"/><stop offset="41.07%" stop-color="#32be9b"/><stop offset="41.96%" stop-color="#32be9b"/><stop offset="42.86%" stop-color="#32be9b"/><stop offset="43.75%" stop-color="#32be9b"/><stop offset="44.64%" stop-color="#32be9b"/><stop offset="45.54%" stop-color="#5ac276"/><stop offset="46.43%" stop-color="#82c752"/><stop offset="47.32%" stop-color="#32be9b"/><stop offset="48.21%" stop-color="#16b4d4"/><stop offset="49.11%" stop-color="#16b4d4"/><stop offset="50.00%" stop-color="#16b4d4"/><stop offset="50.89%" stop-color="#5ac276"/><stop offset="51.79%" stop-color="#cdc42d"/><stop offset="52.68%" stop-color="#cdc42d"/><stop offset="53.57%" stop-color="#cdc42d"/><stop offset="54.46%" stop-color="#a8c640"/><stop offset="55.36%" stop-color="#82c752"/><stop offset="56.25%" stop-color="#5ac276"/><stop offset="57.14%" stop-color="#32be9b"/><stop offset="58.04%" stop-color="#5ac276"/><stop offset="58.93%" stop-color="#82c752"/><stop offset="59.82%" stop-color="#5ac276"/><stop offset="60.71%" stop-color="#32be9b"/><stop offset="61.61%" stop-color="#32be9b"/><stop offset="62.50%" stop-color="#32be9b"/><stop offset="63.39%" stop-color="#24b9b8"/><stop offset="64.29%" stop-color="#16b4d4"/><stop offset="65.18%" stop-color="#16b4d4"/><stop offset="66.07%" stop-color="#16b4d4"/><stop offset="66.96%" stop-color="#1aa9da"/><stop offset="67.86%" stop-color="#1e9ee1"/><stop offset="68.75%" stop-color="#1aa9da"/><stop offset="69.64%" stop-color="#16b4d4"/><stop offset="70.54%" stop-color="#24b9b8"/><stop offset="71.43%" stop-color="#32be9b"/><stop offset="72.32%" stop-color="#32be9b"/><stop offset="73.21%" stop-color="#32be9b"/><stop offset="74.11%" stop-color="#5ac276"/><stop offset="75.00%" stop-color="#82c752"/><stop offset="75.89%" stop-color="#5ac276"/><stop offset="76.79%" stop-color="#32be9b"/><stop offset="77.68%" stop-color="#24b9b8"/><stop offset="78.57%" stop-color="#16b4d4"/><stop offset="79.46%" stop-color="#32be9b"/><stop offset="80.36%" stop-color="#82c752"/><stop offset="81.25%" stop-color="#a8c640"/><stop offset="82.14%" stop-color="#cdc42d"/><stop offset="83.04%" stop-color="#82c752"/><stop offset="83.93%" stop-color="#32be9b"/><stop offset="84.82%" stop-color="#32be9b"/><stop offset="85.71%" stop-color="#32be9b"/><stop offset="86.61%" stop-color="#24b9b8"/><stop offset="87.50%" stop-color="#16b4d4"/><stop offset="88.39%" stop-color="#16b4d4"/><stop offset="89.29%" stop-color="#16b4d4"/><stop offset="90.18%" stop-color="#16b4d4"/><stop offset="91.07%" stop-color="#16b4d4"/><stop offset="91.96%" stop-color="#16b4d4"/><stop offset="92.86%" stop-color="#16b4d4"/><stop offset="93.75%" stop-color="#16b4d4"/><stop offset="94.64%" stop-color="#16b4d4"/><stop offset="95.54%" stop-color="#16b4d4"/><stop offset="96.43%" stop-color="#16b4d4"/><stop offset="97.32%" stop-color="#24b9b8"/><stop offset="98.21%" stop-color="#32be9b"/><stop offset="99.11%" stop-color="#82c752"/><stop offset="100.00%" stop-color="#cdc42d"/></linearGradient><linearGradient id="gB15" gradientUnits="userSpaceOnUse" x1="156.0" y1="0" x2="1275.0" y2="0"><stop offset="0.00%" stop-color="#cdc42d"/><stop offset="0.89%" stop-color="#bac536"/><stop offset="1.79%" stop-color="#a8c640"/><stop offset="2.68%" stop-color="#a8c640"/><stop offset="3.57%" stop-color="#a8c640"/><stop offset="4.46%" stop-color="#bac536"/><stop offset="5.36%" stop-color="#cdc42d"/><stop offset="6.25%" stop-color="#cdc42d"/><stop offset="7.14%" stop-color="#cdc42d"/><stop offset="8.04%" stop-color="#cdc42d"/><stop offset="8.93%" stop-color="#cdc42d"/><stop offset="9.82%" stop-color="#bac536"/><stop offset="10.71%" stop-color="#a8c640"/><stop offset="11.61%" stop-color="#6ec564"/><stop offset="12.50%" stop-color="#32be9b"/><stop offset="13.39%" stop-color="#2bbca9"/><stop offset="14.29%" stop-color="#24b9b8"/><stop offset="15.18%" stop-color="#2bbca9"/><stop offset="16.07%" stop-color="#32be9b"/><stop offset="16.96%" stop-color="#6ec564"/><stop offset="17.86%" stop-color="#a8c640"/><stop offset="18.75%" stop-color="#a8c640"/><stop offset="19.64%" stop-color="#a8c640"/><stop offset="20.54%" stop-color="#bac536"/><stop offset="21.43%" stop-color="#cdc42d"/><stop offset="22.32%" stop-color="#a8c640"/><stop offset="23.21%" stop-color="#82c752"/><stop offset="24.11%" stop-color="#95c649"/><stop offset="25.00%" stop-color="#a8c640"/><stop offset="25.89%" stop-color="#e2c032"/><stop offset="26.79%" stop-color="#f6d42a"/><stop offset="27.68%" stop-color="#f4e024"/><stop offset="28.57%" stop-color="#f3ec1e"/><stop offset="29.46%" stop-color="#f7c831"/><stop offset="30.36%" stop-color="#e2c032"/><stop offset="31.25%" stop-color="#d8c230"/><stop offset="32.14%" stop-color="#cdc42d"/><stop offset="33.04%" stop-color="#95c649"/><stop offset="33.93%" stop-color="#5ac276"/><stop offset="34.82%" stop-color="#5ac276"/><stop offset="35.71%" stop-color="#5ac276"/><stop offset="36.61%" stop-color="#5ac276"/><stop offset="37.50%" stop-color="#5ac276"/><stop offset="38.39%" stop-color="#46c089"/><stop offset="39.29%" stop-color="#32be9b"/><stop offset="40.18%" stop-color="#2bbca9"/><stop offset="41.07%" stop-color="#24b9b8"/><stop offset="41.96%" stop-color="#2bbca9"/><stop offset="42.86%" stop-color="#32be9b"/><stop offset="43.75%" stop-color="#32be9b"/><stop offset="44.64%" stop-color="#32be9b"/><stop offset="45.54%" stop-color="#46c089"/><stop offset="46.43%" stop-color="#5ac276"/><stop offset="47.32%" stop-color="#32be9b"/><stop offset="48.21%" stop-color="#24b9b8"/><stop offset="49.11%" stop-color="#16b4d4"/><stop offset="50.00%" stop-color="#1aa9da"/><stop offset="50.89%" stop-color="#32be9b"/><stop offset="51.79%" stop-color="#a8c640"/><stop offset="52.68%" stop-color="#95c649"/><stop offset="53.57%" stop-color="#82c752"/><stop offset="54.46%" stop-color="#82c752"/><stop offset="55.36%" stop-color="#82c752"/><stop offset="56.25%" stop-color="#6ec564"/><stop offset="57.14%" stop-color="#5ac276"/><stop offset="58.04%" stop-color="#6ec564"/><stop offset="58.93%" stop-color="#82c752"/><stop offset="59.82%" stop-color="#5ac276"/><stop offset="60.71%" stop-color="#32be9b"/><stop offset="61.61%" stop-color="#32be9b"/><stop offset="62.50%" stop-color="#32be9b"/><stop offset="63.39%" stop-color="#2bbca9"/><stop offset="64.29%" stop-color="#24b9b8"/><stop offset="65.18%" stop-color="#1db6c6"/><stop offset="66.07%" stop-color="#16b4d4"/><stop offset="66.96%" stop-color="#18aed7"/><stop offset="67.86%" stop-color="#1aa9da"/><stop offset="68.75%" stop-color="#18aed7"/><stop offset="69.64%" stop-color="#16b4d4"/><stop offset="70.54%" stop-color="#1db6c6"/><stop offset="71.43%" stop-color="#24b9b8"/><stop offset="72.32%" stop-color="#2bbca9"/><stop offset="73.21%" stop-color="#32be9b"/><stop offset="74.11%" stop-color="#46c089"/><stop offset="75.00%" stop-color="#5ac276"/><stop offset="75.89%" stop-color="#32be9b"/><stop offset="76.79%" stop-color="#24b9b8"/><stop offset="77.68%" stop-color="#2bbca9"/><stop offset="78.57%" stop-color="#32be9b"/><stop offset="79.46%" stop-color="#82c752"/><stop offset="80.36%" stop-color="#cdc42d"/><stop offset="81.25%" stop-color="#cdc42d"/><stop offset="82.14%" stop-color="#cdc42d"/><stop offset="83.04%" stop-color="#82c752"/><stop offset="83.93%" stop-color="#32be9b"/><stop offset="84.82%" stop-color="#32be9b"/><stop offset="85.71%" stop-color="#32be9b"/><stop offset="86.61%" stop-color="#2bbca9"/><stop offset="87.50%" stop-color="#24b9b8"/><stop offset="88.39%" stop-color="#24b9b8"/><stop offset="89.29%" stop-color="#24b9b8"/><stop offset="90.18%" stop-color="#1db6c6"/><stop offset="91.07%" stop-color="#16b4d4"/><stop offset="91.96%" stop-color="#16b4d4"/><stop offset="92.86%" stop-color="#16b4d4"/><stop offset="93.75%" stop-color="#16b4d4"/><stop offset="94.64%" stop-color="#16b4d4"/><stop offset="95.54%" stop-color="#16b4d4"/><stop offset="96.43%" stop-color="#16b4d4"/><stop offset="97.32%" stop-color="#1db6c6"/><stop offset="98.21%" stop-color="#24b9b8"/><stop offset="99.11%" stop-color="#5ac276"/><stop offset="100.00%" stop-color="#a8c640"/></linearGradient><linearGradient id="gB16" gradientUnits="userSpaceOnUse" x1="156.0" y1="0" x2="1275.0" y2="0"><stop offset="0.00%" stop-color="#cdc42d"/><stop offset="0.89%" stop-color="#a8c640"/><stop offset="1.79%" stop-color="#82c752"/><stop offset="2.68%" stop-color="#a8c640"/><stop offset="3.57%" stop-color="#cdc42d"/><stop offset="4.46%" stop-color="#a8c640"/><stop offset="5.36%" stop-color="#82c752"/><stop offset="6.25%" stop-color="#a8c640"/><stop offset="7.14%" stop-color="#cdc42d"/><stop offset="8.04%" stop-color="#cdc42d"/><stop offset="8.93%" stop-color="#cdc42d"/><stop offset="9.82%" stop-color="#cdc42d"/><stop offset="10.71%" stop-color="#cdc42d"/><stop offset="11.61%" stop-color="#82c752"/><stop offset="12.50%" stop-color="#32be9b"/><stop offset="13.39%" stop-color="#32be9b"/><stop offset="14.29%" stop-color="#32be9b"/><stop offset="15.18%" stop-color="#32be9b"/><stop offset="16.07%" stop-color="#32be9b"/><stop offset="16.96%" stop-color="#82c752"/><stop offset="17.86%" stop-color="#cdc42d"/><stop offset="18.75%" stop-color="#a8c640"/><stop offset="19.64%" stop-color="#82c752"/><stop offset="20.54%" stop-color="#a8c640"/><stop offset="21.43%" stop-color="#cdc42d"/><stop offset="22.32%" stop-color="#a8c640"/><stop offset="23.21%" stop-color="#82c752"/><stop offset="24.11%" stop-color="#82c752"/><stop offset="25.00%" stop-color="#82c752"/><stop offset="25.89%" stop-color="#cdc42d"/><stop offset="26.79%" stop-color="#f8bc37"/><stop offset="27.68%" stop-color="#f6d42a"/><stop offset="28.57%" stop-color="#f3ec1e"/><stop offset="29.46%" stop-color="#f6d42a"/><stop offset="30.36%" stop-color="#f8bc37"/><stop offset="31.25%" stop-color="#f8bc37"/><stop offset="32.14%" stop-color="#f8bc37"/><stop offset="33.04%" stop-color="#cdc42d"/><stop offset="33.93%" stop-color="#82c752"/><stop offset="34.82%" stop-color="#5ac276"/><stop offset="35.71%" stop-color="#32be9b"/><stop offset="36.61%" stop-color="#5ac276"/><stop offset="37.50%" stop-color="#82c752"/><stop offset="38.39%" stop-color="#5ac276"/><stop offset="39.29%" stop-color="#32be9b"/><stop offset="40.18%" stop-color="#24b9b8"/><stop offset="41.07%" stop-color="#16b4d4"/><stop offset="41.96%" stop-color="#24b9b8"/><stop offset="42.86%" stop-color="#32be9b"/><stop offset="43.75%" stop-color="#32be9b"/><stop offset="44.64%" stop-color="#32be9b"/><stop offset="45.54%" stop-color="#32be9b"/><stop offset="46.43%" stop-color="#32be9b"/><stop offset="47.32%" stop-color="#32be9b"/><stop offset="48.21%" stop-color="#32be9b"/><stop offset="49.11%" stop-color="#16b4d4"/><stop offset="50.00%" stop-color="#1e9ee1"/><stop offset="50.89%" stop-color="#24b9b8"/><stop offset="51.79%" stop-color="#82c752"/><stop offset="52.68%" stop-color="#5ac276"/><stop offset="53.57%" stop-color="#32be9b"/><stop offset="54.46%" stop-color="#5ac276"/><stop offset="55.36%" stop-color="#82c752"/><stop offset="56.25%" stop-color="#82c752"/><stop offset="57.14%" stop-color="#82c752"/><stop offset="58.04%" stop-color="#82c752"/><stop offset="58.93%" stop-color="#82c752"/><stop offset="59.82%" stop-color="#5ac276"/><stop offset="60.71%" stop-color="#32be9b"/><stop offset="61.61%" stop-color="#32be9b"/><stop offset="62.50%" stop-color="#32be9b"/><stop offset="63.39%" stop-color="#32be9b"/><stop offset="64.29%" stop-color="#32be9b"/><stop offset="65.18%" stop-color="#24b9b8"/><stop offset="66.07%" stop-color="#16b4d4"/><stop offset="66.96%" stop-color="#16b4d4"/><stop offset="67.86%" stop-color="#16b4d4"/><stop offset="68.75%" stop-color="#16b4d4"/><stop offset="69.64%" stop-color="#16b4d4"/><stop offset="70.54%" stop-color="#16b4d4"/><stop offset="71.43%" stop-color="#16b4d4"/><stop offset="72.32%" stop-color="#24b9b8"/><stop offset="73.21%" stop-color="#32be9b"/><stop offset="74.11%" stop-color="#32be9b"/><stop offset="75.00%" stop-color="#32be9b"/><stop offset="75.89%" stop-color="#24b9b8"/><stop offset="76.79%" stop-color="#16b4d4"/><stop offset="77.68%" stop-color="#32be9b"/><stop offset="78.57%" stop-color="#82c752"/><stop offset="79.46%" stop-color="#cdc42d"/><stop offset="80.36%" stop-color="#f8bc37"/><stop offset="81.25%" stop-color="#e2c032"/><stop offset="82.14%" stop-color="#cdc42d"/><stop offset="83.04%" stop-color="#82c752"/><stop offset="83.93%" stop-color="#32be9b"/><stop offset="84.82%" stop-color="#32be9b"/><stop offset="85.71%" stop-color="#32be9b"/><stop offset="86.61%" stop-color="#32be9b"/><stop offset="87.50%" stop-color="#32be9b"/><stop offset="88.39%" stop-color="#32be9b"/><stop offset="89.29%" stop-color="#32be9b"/><stop offset="90.18%" stop-color="#24b9b8"/><stop offset="91.07%" stop-color="#16b4d4"/><stop offset="91.96%" stop-color="#16b4d4"/><stop offset="92.86%" stop-color="#16b4d4"/><stop offset="93.75%" stop-color="#16b4d4"/><stop offset="94.64%" stop-color="#16b4d4"/><stop offset="95.54%" stop-color="#16b4d4"/><stop offset="96.43%" stop-color="#16b4d4"/><stop offset="97.32%" stop-color="#16b4d4"/><stop offset="98.21%" stop-color="#16b4d4"/><stop offset="99.11%" stop-color="#32be9b"/><stop offset="100.00%" stop-color="#82c752"/></linearGradient><linearGradient id="gB17" gradientUnits="userSpaceOnUse" x1="156.0" y1="0" x2="1275.0" y2="0"><stop offset="0.00%" stop-color="#cdc42d"/><stop offset="0.89%" stop-color="#a8c640"/><stop offset="1.79%" stop-color="#82c752"/><stop offset="2.68%" stop-color="#a8c640"/><stop offset="3.57%" stop-color="#cdc42d"/><stop offset="4.46%" stop-color="#95c649"/><stop offset="5.36%" stop-color="#5ac276"/><stop offset="6.25%" stop-color="#95c649"/><stop offset="7.14%" stop-color="#cdc42d"/><stop offset="8.04%" stop-color="#cdc42d"/><stop offset="8.93%" stop-color="#cdc42d"/><stop offset="9.82%" stop-color="#cdc42d"/><stop offset="10.71%" stop-color="#cdc42d"/><stop offset="11.61%" stop-color="#82c752"/><stop offset="12.50%" stop-color="#32be9b"/><stop offset="13.39%" stop-color="#32be9b"/><stop offset="14.29%" stop-color="#32be9b"/><stop offset="15.18%" stop-color="#32be9b"/><stop offset="16.07%" stop-color="#32be9b"/><stop offset="16.96%" stop-color="#82c752"/><stop offset="17.86%" stop-color="#cdc42d"/><stop offset="18.75%" stop-color="#a8c640"/><stop offset="19.64%" stop-color="#82c752"/><stop offset="20.54%" stop-color="#95c649"/><stop offset="21.43%" stop-color="#a8c640"/><stop offset="22.32%" stop-color="#95c649"/><stop offset="23.21%" stop-color="#82c752"/><stop offset="24.11%" stop-color="#a8c640"/><stop offset="25.00%" stop-color="#cdc42d"/><stop offset="25.89%" stop-color="#e2c032"/><stop offset="26.79%" stop-color="#f8bc37"/><stop offset="27.68%" stop-color="#f6d42a"/><stop offset="28.57%" stop-color="#f3ec1e"/><stop offset="29.46%" stop-color="#f6d42a"/><stop offset="30.36%" stop-color="#f8bc37"/><stop offset="31.25%" stop-color="#f8bc37"/><stop offset="32.14%" stop-color="#f8bc37"/><stop offset="33.04%" stop-color="#cdc42d"/><stop offset="33.93%" stop-color="#82c752"/><stop offset="34.82%" stop-color="#5ac276"/><stop offset="35.71%" stop-color="#32be9b"/><stop offset="36.61%" stop-color="#5ac276"/><stop offset="37.50%" stop-color="#82c752"/><stop offset="38.39%" stop-color="#5ac276"/><stop offset="39.29%" stop-color="#32be9b"/><stop offset="40.18%" stop-color="#2bbca9"/><stop offset="41.07%" stop-color="#24b9b8"/><stop offset="41.96%" stop-color="#2bbca9"/><stop offset="42.86%" stop-color="#32be9b"/><stop offset="43.75%" stop-color="#32be9b"/><stop offset="44.64%" stop-color="#32be9b"/><stop offset="45.54%" stop-color="#32be9b"/><stop offset="46.43%" stop-color="#32be9b"/><stop offset="47.32%" stop-color="#32be9b"/><stop offset="48.21%" stop-color="#32be9b"/><stop offset="49.11%" stop-color="#24b9b8"/><stop offset="50.00%" stop-color="#16b4d4"/><stop offset="50.89%" stop-color="#2bbca9"/><stop offset="51.79%" stop-color="#5ac276"/><stop offset="52.68%" stop-color="#46c089"/><stop offset="53.57%" stop-color="#32be9b"/><stop offset="54.46%" stop-color="#5ac276"/><stop offset="55.36%" stop-color="#82c752"/><stop offset="56.25%" stop-color="#95c649"/><stop offset="57.14%" stop-color="#a8c640"/><stop offset="58.04%" stop-color="#95c649"/><stop offset="58.93%" stop-color="#82c752"/><stop offset="59.82%" stop-color="#6ec564"/><stop offset="60.71%" stop-color="#5ac276"/><stop offset="61.61%" stop-color="#46c089"/><stop offset="62.50%" stop-color="#32be9b"/><stop offset="63.39%" stop-color="#32be9b"/><stop offset="64.29%" stop-color="#32be9b"/><stop offset="65.18%" stop-color="#24b9b8"/><stop offset="66.07%" stop-color="#16b4d4"/><stop offset="66.96%" stop-color="#16b4d4"/><stop offset="67.86%" stop-color="#16b4d4"/><stop offset="68.75%" stop-color="#16b4d4"/><stop offset="69.64%" stop-color="#16b4d4"/><stop offset="70.54%" stop-color="#16b4d4"/><stop offset="71.43%" stop-color="#16b4d4"/><stop offset="72.32%" stop-color="#16b4d4"/><stop offset="73.21%" stop-color="#16b4d4"/><stop offset="74.11%" stop-color="#18aed7"/><stop offset="75.00%" stop-color="#1aa9da"/><stop offset="75.89%" stop-color="#1aa9da"/><stop offset="76.79%" stop-color="#1aa9da"/><stop offset="77.68%" stop-color="#32be9b"/><stop offset="78.57%" stop-color="#a8c640"/><stop offset="79.46%" stop-color="#d8c230"/><stop offset="80.36%" stop-color="#f8bc37"/><stop offset="81.25%" stop-color="#d8c230"/><stop offset="82.14%" stop-color="#a8c640"/><stop offset="83.04%" stop-color="#6ec564"/><stop offset="83.93%" stop-color="#32be9b"/><stop offset="84.82%" stop-color="#32be9b"/><stop offset="85.71%" stop-color="#32be9b"/><stop offset="86.61%" stop-color="#32be9b"/><stop offset="87.50%" stop-color="#32be9b"/><stop offset="88.39%" stop-color="#32be9b"/><stop offset="89.29%" stop-color="#32be9b"/><stop offset="90.18%" stop-color="#24b9b8"/><stop offset="91.07%" stop-color="#16b4d4"/><stop offset="91.96%" stop-color="#18aed7"/><stop offset="92.86%" stop-color="#1aa9da"/><stop offset="93.75%" stop-color="#18aed7"/><stop offset="94.64%" stop-color="#16b4d4"/><stop offset="95.54%" stop-color="#16b4d4"/><stop offset="96.43%" stop-color="#16b4d4"/><stop offset="97.32%" stop-color="#16b4d4"/><stop offset="98.21%" stop-color="#16b4d4"/><stop offset="99.11%" stop-color="#2bbca9"/><stop offset="100.00%" stop-color="#5ac276"/></linearGradient><linearGradient id="gB18" gradientUnits="userSpaceOnUse" x1="156.0" y1="0" x2="1275.0" y2="0"><stop offset="0.00%" stop-color="#cdc42d"/><stop offset="0.89%" stop-color="#a8c640"/><stop offset="1.79%" stop-color="#82c752"/><stop offset="2.68%" stop-color="#a8c640"/><stop offset="3.57%" stop-color="#cdc42d"/><stop offset="4.46%" stop-color="#82c752"/><stop offset="5.36%" stop-color="#32be9b"/><stop offset="6.25%" stop-color="#82c752"/><stop offset="7.14%" stop-color="#cdc42d"/><stop offset="8.04%" stop-color="#cdc42d"/><stop offset="8.93%" stop-color="#cdc42d"/><stop offset="9.82%" stop-color="#cdc42d"/><stop offset="10.71%" stop-color="#cdc42d"/><stop offset="11.61%" stop-color="#82c752"/><stop offset="12.50%" stop-color="#32be9b"/><stop offset="13.39%" stop-color="#32be9b"/><stop offset="14.29%" stop-color="#32be9b"/><stop offset="15.18%" stop-color="#32be9b"/><stop offset="16.07%" stop-color="#32be9b"/><stop offset="16.96%" stop-color="#82c752"/><stop offset="17.86%" stop-color="#cdc42d"/><stop offset="18.75%" stop-color="#a8c640"/><stop offset="19.64%" stop-color="#82c752"/><stop offset="20.54%" stop-color="#82c752"/><stop offset="21.43%" stop-color="#82c752"/><stop offset="22.32%" stop-color="#82c752"/><stop offset="23.21%" stop-color="#82c752"/><stop offset="24.11%" stop-color="#cdc42d"/><stop offset="25.00%" stop-color="#f8bc37"/><stop offset="25.89%" stop-color="#f8bc37"/><stop offset="26.79%" stop-color="#f8bc37"/><stop offset="27.68%" stop-color="#f6d42a"/><stop offset="28.57%" stop-color="#f3ec1e"/><stop offset="29.46%" stop-color="#f6d42a"/><stop offset="30.36%" stop-color="#f8bc37"/><stop offset="31.25%" stop-color="#f8bc37"/><stop offset="32.14%" stop-color="#f8bc37"/><stop offset="33.04%" stop-color="#cdc42d"/><stop offset="33.93%" stop-color="#82c752"/><stop offset="34.82%" stop-color="#5ac276"/><stop offset="35.71%" stop-color="#32be9b"/><stop offset="36.61%" stop-color="#5ac276"/><stop offset="37.50%" stop-color="#82c752"/><stop offset="38.39%" stop-color="#5ac276"/><stop offset="39.29%" stop-color="#32be9b"/><stop offset="40.18%" stop-color="#32be9b"/><stop offset="41.07%" stop-color="#32be9b"/><stop offset="41.96%" stop-color="#32be9b"/><stop offset="42.86%" stop-color="#32be9b"/><stop offset="43.75%" stop-color="#32be9b"/><stop offset="44.64%" stop-color="#32be9b"/><stop offset="45.54%" stop-color="#32be9b"/><stop offset="46.43%" stop-color="#32be9b"/><stop offset="47.32%" stop-color="#32be9b"/><stop offset="48.21%" stop-color="#32be9b"/><stop offset="49.11%" stop-color="#32be9b"/><stop offset="50.00%" stop-color="#32be9b"/><stop offset="50.89%" stop-color="#32be9b"/><stop offset="51.79%" stop-color="#32be9b"/><stop offset="52.68%" stop-color="#32be9b"/><stop offset="53.57%" stop-color="#32be9b"/><stop offset="54.46%" stop-color="#5ac276"/><stop offset="55.36%" stop-color="#82c752"/><stop offset="56.25%" stop-color="#a8c640"/><stop offset="57.14%" stop-color="#cdc42d"/><stop offset="58.04%" stop-color="#a8c640"/><stop offset="58.93%" stop-color="#82c752"/><stop offset="59.82%" stop-color="#82c752"/><stop offset="60.71%" stop-color="#82c752"/><stop offset="61.61%" stop-color="#5ac276"/><stop offset="62.50%" stop-color="#32be9b"/><stop offset="63.39%" stop-color="#32be9b"/><stop offset="64.29%" stop-color="#32be9b"/><stop offset="65.18%" stop-color="#24b9b8"/><stop offset="66.07%" stop-color="#16b4d4"/><stop offset="66.96%" stop-color="#16b4d4"/><stop offset="67.86%" stop-color="#16b4d4"/><stop offset="68.75%" stop-color="#16b4d4"/><stop offset="69.64%" stop-color="#16b4d4"/><stop offset="70.54%" stop-color="#16b4d4"/><stop offset="71.43%" stop-color="#16b4d4"/><stop offset="72.32%" stop-color="#1aa9da"/><stop offset="73.21%" stop-color="#1e9ee1"/><stop offset="74.11%" stop-color="#3181d4"/><stop offset="75.00%" stop-color="#4464c8"/><stop offset="75.89%" stop-color="#3181d4"/><stop offset="76.79%" stop-color="#1e9ee1"/><stop offset="77.68%" stop-color="#32be9b"/><stop offset="78.57%" stop-color="#cdc42d"/><stop offset="79.46%" stop-color="#e2c032"/><stop offset="80.36%" stop-color="#f8bc37"/><stop offset="81.25%" stop-color="#cdc42d"/><stop offset="82.14%" stop-color="#82c752"/><stop offset="83.04%" stop-color="#5ac276"/><stop offset="83.93%" stop-color="#32be9b"/><stop offset="84.82%" stop-color="#32be9b"/><stop offset="85.71%" stop-color="#32be9b"/><stop offset="86.61%" stop-color="#32be9b"/><stop offset="87.50%" stop-color="#32be9b"/><stop offset="88.39%" stop-color="#32be9b"/><stop offset="89.29%" stop-color="#32be9b"/><stop offset="90.18%" stop-color="#24b9b8"/><stop offset="91.07%" stop-color="#16b4d4"/><stop offset="91.96%" stop-color="#1aa9da"/><stop offset="92.86%" stop-color="#1e9ee1"/><stop offset="93.75%" stop-color="#1aa9da"/><stop offset="94.64%" stop-color="#16b4d4"/><stop offset="95.54%" stop-color="#16b4d4"/><stop offset="96.43%" stop-color="#16b4d4"/><stop offset="97.32%" stop-color="#16b4d4"/><stop offset="98.21%" stop-color="#16b4d4"/><stop offset="99.11%" stop-color="#24b9b8"/><stop offset="100.00%" stop-color="#32be9b"/></linearGradient><linearGradient id="gB19" gradientUnits="userSpaceOnUse" x1="156.0" y1="0" x2="1275.0" y2="0"><stop offset="0.00%" stop-color="#cdc42d"/><stop offset="0.89%" stop-color="#a8c640"/><stop offset="1.79%" stop-color="#82c752"/><stop offset="2.68%" stop-color="#82c752"/><stop offset="3.57%" stop-color="#82c752"/><stop offset="4.46%" stop-color="#6ec564"/><stop offset="5.36%" stop-color="#5ac276"/><stop offset="6.25%" stop-color="#95c649"/><stop offset="7.14%" stop-color="#cdc42d"/><stop offset="8.04%" stop-color="#cdc42d"/><stop offset="8.93%" stop-color="#cdc42d"/><stop offset="9.82%" stop-color="#cdc42d"/><stop offset="10.71%" stop-color="#cdc42d"/><stop offset="11.61%" stop-color="#6ec564"/><stop offset="12.50%" stop-color="#24b9b8"/><stop offset="13.39%" stop-color="#2bbca9"/><stop offset="14.29%" stop-color="#32be9b"/><stop offset="15.18%" stop-color="#32be9b"/><stop offset="16.07%" stop-color="#32be9b"/><stop offset="16.96%" stop-color="#82c752"/><stop offset="17.86%" stop-color="#cdc42d"/><stop offset="18.75%" stop-color="#a8c640"/><stop offset="19.64%" stop-color="#82c752"/><stop offset="20.54%" stop-color="#6ec564"/><stop offset="21.43%" stop-color="#5ac276"/><stop offset="22.32%" stop-color="#46c089"/><stop offset="23.21%" stop-color="#32be9b"/><stop offset="24.11%" stop-color="#95c649"/><stop offset="25.00%" stop-color="#e2c032"/><stop offset="25.89%" stop-color="#e2c032"/><stop offset="26.79%" stop-color="#e2c032"/><stop offset="27.68%" stop-color="#edbe34"/><stop offset="28.57%" stop-color="#f8bc37"/><stop offset="29.46%" stop-color="#f8bc37"/><stop offset="30.36%" stop-color="#f8bc37"/><stop offset="31.25%" stop-color="#edbe34"/><stop offset="32.14%" stop-color="#e2c032"/><stop offset="33.04%" stop-color="#bac536"/><stop offset="33.93%" stop-color="#82c752"/><stop offset="34.82%" stop-color="#5ac276"/><stop offset="35.71%" stop-color="#32be9b"/><stop offset="36.61%" stop-color="#46c089"/><stop offset="37.50%" stop-color="#5ac276"/><stop offset="38.39%" stop-color="#46c089"/><stop offset="39.29%" stop-color="#32be9b"/><stop offset="40.18%" stop-color="#2bbca9"/><stop offset="41.07%" stop-color="#24b9b8"/><stop offset="41.96%" stop-color="#2bbca9"/><stop offset="42.86%" stop-color="#32be9b"/><stop offset="43.75%" stop-color="#2bbca9"/><stop offset="44.64%" stop-color="#24b9b8"/><stop offset="45.54%" stop-color="#2bbca9"/><stop offset="46.43%" stop-color="#32be9b"/><stop offset="47.32%" stop-color="#46c089"/><stop offset="48.21%" stop-color="#5ac276"/><stop offset="49.11%" stop-color="#82c752"/><stop offset="50.00%" stop-color="#a8c640"/><stop offset="50.89%" stop-color="#5ac276"/><stop offset="51.79%" stop-color="#24b9b8"/><stop offset="52.68%" stop-color="#24b9b8"/><stop offset="53.57%" stop-color="#24b9b8"/><stop offset="54.46%" stop-color="#46c089"/><stop offset="55.36%" stop-color="#82c752"/><stop offset="56.25%" stop-color="#a8c640"/><stop offset="57.14%" stop-color="#cdc42d"/><stop offset="58.04%" stop-color="#a8c640"/><stop offset="58.93%" stop-color="#82c752"/><stop offset="59.82%" stop-color="#82c752"/><stop offset="60.71%" stop-color="#82c752"/><stop offset="61.61%" stop-color="#5ac276"/><stop offset="62.50%" stop-color="#32be9b"/><stop offset="63.39%" stop-color="#32be9b"/><stop offset="64.29%" stop-color="#32be9b"/><stop offset="65.18%" stop-color="#24b9b8"/><stop offset="66.07%" stop-color="#16b4d4"/><stop offset="66.96%" stop-color="#16b4d4"/><stop offset="67.86%" stop-color="#16b4d4"/><stop offset="68.75%" stop-color="#16b4d4"/><stop offset="69.64%" stop-color="#16b4d4"/><stop offset="70.54%" stop-color="#18aed7"/><stop offset="71.43%" stop-color="#1aa9da"/><stop offset="72.32%" stop-color="#1e9ee1"/><stop offset="73.21%" stop-color="#3181d4"/><stop offset="74.11%" stop-color="#3a72ce"/><stop offset="75.00%" stop-color="#4464c8"/><stop offset="75.89%" stop-color="#3181d4"/><stop offset="76.79%" stop-color="#1e9ee1"/><stop offset="77.68%" stop-color="#46c089"/><stop offset="78.57%" stop-color="#e2c032"/><stop offset="79.46%" stop-color="#edbe34"/><stop offset="80.36%" stop-color="#f8bc37"/><stop offset="81.25%" stop-color="#cdc42d"/><stop offset="82.14%" stop-color="#82c752"/><stop offset="83.04%" stop-color="#5ac276"/><stop offset="83.93%" stop-color="#32be9b"/><stop offset="84.82%" stop-color="#2bbca9"/><stop offset="85.71%" stop-color="#24b9b8"/><stop offset="86.61%" stop-color="#2bbca9"/><stop offset="87.50%" stop-color="#32be9b"/><stop offset="88.39%" stop-color="#32be9b"/><stop offset="89.29%" stop-color="#32be9b"/><stop offset="90.18%" stop-color="#24b9b8"/><stop offset="91.07%" stop-color="#16b4d4"/><stop offset="91.96%" stop-color="#18aed7"/><stop offset="92.86%" stop-color="#1aa9da"/><stop offset="93.75%" stop-color="#18aed7"/><stop offset="94.64%" stop-color="#16b4d4"/><stop offset="95.54%" stop-color="#16b4d4"/><stop offset="96.43%" stop-color="#16b4d4"/><stop offset="97.32%" stop-color="#16b4d4"/><stop offset="98.21%" stop-color="#16b4d4"/><stop offset="99.11%" stop-color="#24b9b8"/><stop offset="100.00%" stop-color="#32be9b"/></linearGradient><linearGradient id="gB20" gradientUnits="userSpaceOnUse" x1="156.0" y1="0" x2="1275.0" y2="0"><stop offset="0.00%" stop-color="#cdc42d"/><stop offset="0.89%" stop-color="#a8c640"/><stop offset="1.79%" stop-color="#82c752"/><stop offset="2.68%" stop-color="#5ac276"/><stop offset="3.57%" stop-color="#32be9b"/><stop offset="4.46%" stop-color="#5ac276"/><stop offset="5.36%" stop-color="#82c752"/><stop offset="6.25%" stop-color="#a8c640"/><stop offset="7.14%" stop-color="#cdc42d"/><stop offset="8.04%" stop-color="#cdc42d"/><stop offset="8.93%" stop-color="#cdc42d"/><stop offset="9.82%" stop-color="#cdc42d"/><stop offset="10.71%" stop-color="#cdc42d"/><stop offset="11.61%" stop-color="#5ac276"/><stop offset="12.50%" stop-color="#16b4d4"/><stop offset="13.39%" stop-color="#24b9b8"/><stop offset="14.29%" stop-color="#32be9b"/><stop offset="15.18%" stop-color="#32be9b"/><stop offset="16.07%" stop-color="#32be9b"/><stop offset="16.96%" stop-color="#82c752"/><stop offset="17.86%" stop-color="#cdc42d"/><stop offset="18.75%" stop-color="#a8c640"/><stop offset="19.64%" stop-color="#82c752"/><stop offset="20.54%" stop-color="#5ac276"/><stop offset="21.43%" stop-color="#32be9b"/><stop offset="22.32%" stop-color="#24b9b8"/><stop offset="23.21%" stop-color="#16b4d4"/><stop offset="24.11%" stop-color="#5ac276"/><stop offset="25.00%" stop-color="#cdc42d"/><stop offset="25.89%" stop-color="#cdc42d"/><stop offset="26.79%" stop-color="#cdc42d"/><stop offset="27.68%" stop-color="#cdc42d"/><stop offset="28.57%" stop-color="#cdc42d"/><stop offset="29.46%" stop-color="#e2c032"/><stop offset="30.36%" stop-color="#f8bc37"/><stop offset="31.25%" stop-color="#e2c032"/><stop offset="32.14%" stop-color="#cdc42d"/><stop offset="33.04%" stop-color="#a8c640"/><stop offset="33.93%" stop-color="#82c752"/><stop offset="34.82%" stop-color="#5ac276"/><stop offset="35.71%" stop-color="#32be9b"/><stop offset="36.61%" stop-color="#32be9b"/><stop offset="37.50%" stop-color="#32be9b"/><stop offset="38.39%" stop-color="#32be9b"/><stop offset="39.29%" stop-color="#32be9b"/><stop offset="40.18%" stop-color="#24b9b8"/><stop offset="41.07%" stop-color="#16b4d4"/><stop offset="41.96%" stop-color="#24b9b8"/><stop offset="42.86%" stop-color="#32be9b"/><stop offset="43.75%" stop-color="#24b9b8"/><stop offset="44.64%" stop-color="#16b4d4"/><stop offset="45.54%" stop-color="#24b9b8"/><stop offset="46.43%" stop-color="#32be9b"/><stop offset="47.32%" stop-color="#5ac276"/><stop offset="48.21%" stop-color="#82c752"/><stop offset="49.11%" stop-color="#cdc42d"/><stop offset="50.00%" stop-color="#f8bc37"/><stop offset="50.89%" stop-color="#82c752"/><stop offset="51.79%" stop-color="#16b4d4"/><stop offset="52.68%" stop-color="#16b4d4"/><stop offset="53.57%" stop-color="#16b4d4"/><stop offset="54.46%" stop-color="#32be9b"/><stop offset="55.36%" stop-color="#82c752"/><stop offset="56.25%" stop-color="#a8c640"/><stop offset="57.14%" stop-color="#cdc42d"/><stop offset="58.04%" stop-color="#a8c640"/><stop offset="58.93%" stop-color="#82c752"/><stop offset="59.82%" stop-color="#82c752"/><stop offset="60.71%" stop-color="#82c752"/><stop offset="61.61%" stop-color="#5ac276"/><stop offset="62.50%" stop-color="#32be9b"/><stop offset="63.39%" stop-color="#32be9b"/><stop offset="64.29%" stop-color="#32be9b"/><stop offset="65.18%" stop-color="#24b9b8"/><stop offset="66.07%" stop-color="#16b4d4"/><stop offset="66.96%" stop-color="#16b4d4"/><stop offset="67.86%" stop-color="#16b4d4"/><stop offset="68.75%" stop-color="#16b4d4"/><stop offset="69.64%" stop-color="#16b4d4"/><stop offset="70.54%" stop-color="#1aa9da"/><stop offset="71.43%" stop-color="#1e9ee1"/><stop offset="72.32%" stop-color="#3181d4"/><stop offset="73.21%" stop-color="#4464c8"/><stop offset="74.11%" stop-color="#4464c8"/><stop offset="75.00%" stop-color="#4464c8"/><stop offset="75.89%" stop-color="#3181d4"/><stop offset="76.79%" stop-color="#1e9ee1"/><stop offset="77.68%" stop-color="#5ac276"/><stop offset="78.57%" stop-color="#f8bc37"/><stop offset="79.46%" stop-color="#f8bc37"/><stop offset="80.36%" stop-color="#f8bc37"/><stop offset="81.25%" stop-color="#cdc42d"/><stop offset="82.14%" stop-color="#82c752"/><stop offset="83.04%" stop-color="#5ac276"/><stop offset="83.93%" stop-color="#32be9b"/><stop offset="84.82%" stop-color="#24b9b8"/><stop offset="85.71%" stop-color="#16b4d4"/><stop offset="86.61%" stop-color="#24b9b8"/><stop offset="87.50%" stop-color="#32be9b"/><stop offset="88.39%" stop-color="#32be9b"/><stop offset="89.29%" stop-color="#32be9b"/><stop offset="90.18%" stop-color="#24b9b8"/><stop offset="91.07%" stop-color="#16b4d4"/><stop offset="91.96%" stop-color="#16b4d4"/><stop offset="92.86%" stop-color="#16b4d4"/><stop offset="93.75%" stop-color="#16b4d4"/><stop offset="94.64%" stop-color="#16b4d4"/><stop offset="95.54%" stop-color="#16b4d4"/><stop offset="96.43%" stop-color="#16b4d4"/><stop offset="97.32%" stop-color="#16b4d4"/><stop offset="98.21%" stop-color="#16b4d4"/><stop offset="99.11%" stop-color="#24b9b8"/><stop offset="100.00%" stop-color="#32be9b"/></linearGradient><linearGradient id="gB21" gradientUnits="userSpaceOnUse" x1="156.0" y1="0" x2="1275.0" y2="0"><stop offset="0.00%" stop-color="#5ac276"/><stop offset="0.89%" stop-color="#5ac276"/><stop offset="1.79%" stop-color="#5ac276"/><stop offset="2.68%" stop-color="#46c089"/><stop offset="3.57%" stop-color="#32be9b"/><stop offset="4.46%" stop-color="#46c089"/><stop offset="5.36%" stop-color="#5ac276"/><stop offset="6.25%" stop-color="#82c752"/><stop offset="7.14%" stop-color="#a8c640"/><stop offset="8.04%" stop-color="#a8c640"/><stop offset="8.93%" stop-color="#a8c640"/><stop offset="9.82%" stop-color="#bac536"/><stop offset="10.71%" stop-color="#cdc42d"/><stop offset="11.61%" stop-color="#82c752"/><stop offset="12.50%" stop-color="#32be9b"/><stop offset="13.39%" stop-color="#46c089"/><stop offset="14.29%" stop-color="#5ac276"/><stop offset="15.18%" stop-color="#46c089"/><stop offset="16.07%" stop-color="#32be9b"/><stop offset="16.96%" stop-color="#5ac276"/><stop offset="17.86%" stop-color="#82c752"/><stop offset="18.75%" stop-color="#95c649"/><stop offset="19.64%" stop-color="#a8c640"/><stop offset="20.54%" stop-color="#82c752"/><stop offset="21.43%" stop-color="#5ac276"/><stop offset="22.32%" stop-color="#2bbca9"/><stop offset="23.21%" stop-color="#16b4d4"/><stop offset="24.11%" stop-color="#5ac276"/><stop offset="25.00%" stop-color="#cdc42d"/><stop offset="25.89%" stop-color="#cdc42d"/><stop offset="26.79%" stop-color="#cdc42d"/><stop offset="27.68%" stop-color="#cdc42d"/><stop offset="28.57%" stop-color="#cdc42d"/><stop offset="29.46%" stop-color="#bac536"/><stop offset="30.36%" stop-color="#a8c640"/><stop offset="31.25%" stop-color="#a8c640"/><stop offset="32.14%" stop-color="#a8c640"/><stop offset="33.04%" stop-color="#95c649"/><stop offset="33.93%" stop-color="#82c752"/><stop offset="34.82%" stop-color="#5ac276"/><stop offset="35.71%" stop-color="#32be9b"/><stop offset="36.61%" stop-color="#24b9b8"/><stop offset="37.50%" stop-color="#16b4d4"/><stop offset="38.39%" stop-color="#24b9b8"/><stop offset="39.29%" stop-color="#32be9b"/><stop offset="40.18%" stop-color="#32be9b"/><stop offset="41.07%" stop-color="#32be9b"/><stop offset="41.96%" stop-color="#32be9b"/><stop offset="42.86%" stop-color="#32be9b"/><stop offset="43.75%" stop-color="#2bbca9"/><stop offset="44.64%" stop-color="#24b9b8"/><stop offset="45.54%" stop-color="#1db6c6"/><stop offset="46.43%" stop-color="#16b4d4"/><stop offset="47.32%" stop-color="#46c089"/><stop offset="48.21%" stop-color="#a8c640"/><stop offset="49.11%" stop-color="#bac536"/><stop offset="50.00%" stop-color="#cdc42d"/><stop offset="50.89%" stop-color="#82c752"/><stop offset="51.79%" stop-color="#32be9b"/><stop offset="52.68%" stop-color="#2bbca9"/><stop offset="53.57%" stop-color="#24b9b8"/><stop offset="54.46%" stop-color="#5ac276"/><stop offset="55.36%" stop-color="#a8c640"/><stop offset="56.25%" stop-color="#a8c640"/><stop offset="57.14%" stop-color="#a8c640"/><stop offset="58.04%" stop-color="#82c752"/><stop offset="58.93%" stop-color="#5ac276"/><stop offset="59.82%" stop-color="#6ec564"/><stop offset="60.71%" stop-color="#82c752"/><stop offset="61.61%" stop-color="#5ac276"/><stop offset="62.50%" stop-color="#32be9b"/><stop offset="63.39%" stop-color="#32be9b"/><stop offset="64.29%" stop-color="#32be9b"/><stop offset="65.18%" stop-color="#2bbca9"/><stop offset="66.07%" stop-color="#24b9b8"/><stop offset="66.96%" stop-color="#24b9b8"/><stop offset="67.86%" stop-color="#24b9b8"/><stop offset="68.75%" stop-color="#1db6c6"/><stop offset="69.64%" stop-color="#16b4d4"/><stop offset="70.54%" stop-color="#1ca4de"/><stop offset="71.43%" stop-color="#3181d4"/><stop offset="72.32%" stop-color="#4464c8"/><stop offset="73.21%" stop-color="#4656bd"/><stop offset="74.11%" stop-color="#455dc2"/><stop offset="75.00%" stop-color="#4464c8"/><stop offset="75.89%" stop-color="#2890db"/><stop offset="76.79%" stop-color="#1aa9da"/><stop offset="77.68%" stop-color="#46c089"/><stop offset="78.57%" stop-color="#cdc42d"/><stop offset="79.46%" stop-color="#d8c230"/><stop offset="80.36%" stop-color="#e2c032"/><stop offset="81.25%" stop-color="#bac536"/><stop offset="82.14%" stop-color="#82c752"/><stop offset="83.04%" stop-color="#5ac276"/><stop offset="83.93%" stop-color="#32be9b"/><stop offset="84.82%" stop-color="#24b9b8"/><stop offset="85.71%" stop-color="#16b4d4"/><stop offset="86.61%" stop-color="#16b4d4"/><stop offset="87.50%" stop-color="#16b4d4"/><stop offset="88.39%" stop-color="#1db6c6"/><stop offset="89.29%" stop-color="#24b9b8"/><stop offset="90.18%" stop-color="#24b9b8"/><stop offset="91.07%" stop-color="#24b9b8"/><stop offset="91.96%" stop-color="#1db6c6"/><stop offset="92.86%" stop-color="#16b4d4"/><stop offset="93.75%" stop-color="#16b4d4"/><stop offset="94.64%" stop-color="#16b4d4"/><stop offset="95.54%" stop-color="#16b4d4"/><stop offset="96.43%" stop-color="#16b4d4"/><stop offset="97.32%" stop-color="#16b4d4"/><stop offset="98.21%" stop-color="#16b4d4"/><stop offset="99.11%" stop-color="#16b4d4"/><stop offset="100.00%" stop-color="#16b4d4"/></linearGradient><linearGradient id="gB22" gradientUnits="userSpaceOnUse" x1="156.0" y1="0" x2="1275.0" y2="0"><stop offset="0.00%" stop-color="#16b4d4"/><stop offset="0.89%" stop-color="#24b9b8"/><stop offset="1.79%" stop-color="#32be9b"/><stop offset="2.68%" stop-color="#32be9b"/><stop offset="3.57%" stop-color="#32be9b"/><stop offset="4.46%" stop-color="#32be9b"/><stop offset="5.36%" stop-color="#32be9b"/><stop offset="6.25%" stop-color="#5ac276"/><stop offset="7.14%" stop-color="#82c752"/><stop offset="8.04%" stop-color="#82c752"/><stop offset="8.93%" stop-color="#82c752"/><stop offset="9.82%" stop-color="#a8c640"/><stop offset="10.71%" stop-color="#cdc42d"/><stop offset="11.61%" stop-color="#a8c640"/><stop offset="12.50%" stop-color="#82c752"/><stop offset="13.39%" stop-color="#82c752"/><stop offset="14.29%" stop-color="#82c752"/><stop offset="15.18%" stop-color="#5ac276"/><stop offset="16.07%" stop-color="#32be9b"/><stop offset="16.96%" stop-color="#32be9b"/><stop offset="17.86%" stop-color="#32be9b"/><stop offset="18.75%" stop-color="#82c752"/><stop offset="19.64%" stop-color="#cdc42d"/><stop offset="20.54%" stop-color="#a8c640"/><stop offset="21.43%" stop-color="#82c752"/><stop offset="22.32%" stop-color="#32be9b"/><stop offset="23.21%" stop-color="#16b4d4"/><stop offset="24.11%" stop-color="#5ac276"/><stop offset="25.00%" stop-color="#cdc42d"/><stop offset="25.89%" stop-color="#cdc42d"/><stop offset="26.79%" stop-color="#cdc42d"/><stop offset="27.68%" stop-color="#cdc42d"/><stop offset="28.57%" stop-color="#cdc42d"/><stop offset="29.46%" stop-color="#82c752"/><stop offset="30.36%" stop-color="#32be9b"/><stop offset="31.25%" stop-color="#5ac276"/><stop offset="32.14%" stop-color="#82c752"/><stop offset="33.04%" stop-color="#82c752"/><stop offset="33.93%" stop-color="#82c752"/><stop offset="34.82%" stop-color="#5ac276"/><stop offset="35.71%" stop-color="#32be9b"/><stop offset="36.61%" stop-color="#16b4d4"/><stop offset="37.50%" stop-color="#1e9ee1"/><stop offset="38.39%" stop-color="#16b4d4"/><stop offset="39.29%" stop-color="#32be9b"/><stop offset="40.18%" stop-color="#5ac276"/><stop offset="41.07%" stop-color="#82c752"/><stop offset="41.96%" stop-color="#5ac276"/><stop offset="42.86%" stop-color="#32be9b"/><stop offset="43.75%" stop-color="#32be9b"/><stop offset="44.64%" stop-color="#32be9b"/><stop offset="45.54%" stop-color="#16b4d4"/><stop offset="46.43%" stop-color="#1e9ee1"/><stop offset="47.32%" stop-color="#32be9b"/><stop offset="48.21%" stop-color="#cdc42d"/><stop offset="49.11%" stop-color="#a8c640"/><stop offset="50.00%" stop-color="#82c752"/><stop offset="50.89%" stop-color="#82c752"/><stop offset="51.79%" stop-color="#82c752"/><stop offset="52.68%" stop-color="#5ac276"/><stop offset="53.57%" stop-color="#32be9b"/><stop offset="54.46%" stop-color="#82c752"/><stop offset="55.36%" stop-color="#cdc42d"/><stop offset="56.25%" stop-color="#a8c640"/><stop offset="57.14%" stop-color="#82c752"/><stop offset="58.04%" stop-color="#5ac276"/><stop offset="58.93%" stop-color="#32be9b"/><stop offset="59.82%" stop-color="#5ac276"/><stop offset="60.71%" stop-color="#82c752"/><stop offset="61.61%" stop-color="#5ac276"/><stop offset="62.50%" stop-color="#32be9b"/><stop offset="63.39%" stop-color="#32be9b"/><stop offset="64.29%" stop-color="#32be9b"/><stop offset="65.18%" stop-color="#32be9b"/><stop offset="66.07%" stop-color="#32be9b"/><stop offset="66.96%" stop-color="#32be9b"/><stop offset="67.86%" stop-color="#32be9b"/><stop offset="68.75%" stop-color="#24b9b8"/><stop offset="69.64%" stop-color="#16b4d4"/><stop offset="70.54%" stop-color="#1e9ee1"/><stop offset="71.43%" stop-color="#4464c8"/><stop offset="72.32%" stop-color="#4656bd"/><stop offset="73.21%" stop-color="#4848b2"/><stop offset="74.11%" stop-color="#4656bd"/><stop offset="75.00%" stop-color="#4464c8"/><stop offset="75.89%" stop-color="#1e9ee1"/><stop offset="76.79%" stop-color="#16b4d4"/><stop offset="77.68%" stop-color="#32be9b"/><stop offset="78.57%" stop-color="#82c752"/><stop offset="79.46%" stop-color="#a8c640"/><stop offset="80.36%" stop-color="#cdc42d"/><stop offset="81.25%" stop-color="#a8c640"/><stop offset="82.14%" stop-color="#82c752"/><stop offset="83.04%" stop-color="#5ac276"/><stop offset="83.93%" stop-color="#32be9b"/><stop offset="84.82%" stop-color="#24b9b8"/><stop offset="85.71%" stop-color="#16b4d4"/><stop offset="86.61%" stop-color="#1aa9da"/><stop offset="87.50%" stop-color="#1e9ee1"/><stop offset="88.39%" stop-color="#1aa9da"/><stop offset="89.29%" stop-color="#16b4d4"/><stop offset="90.18%" stop-color="#24b9b8"/><stop offset="91.07%" stop-color="#32be9b"/><stop offset="91.96%" stop-color="#24b9b8"/><stop offset="92.86%" stop-color="#16b4d4"/><stop offset="93.75%" stop-color="#16b4d4"/><stop offset="94.64%" stop-color="#16b4d4"/><stop offset="95.54%" stop-color="#16b4d4"/><stop offset="96.43%" stop-color="#16b4d4"/><stop offset="97.32%" stop-color="#16b4d4"/><stop offset="98.21%" stop-color="#16b4d4"/><stop offset="99.11%" stop-color="#1aa9da"/><stop offset="100.00%" stop-color="#1e9ee1"/></linearGradient><linearGradient id="gB23" gradientUnits="userSpaceOnUse" x1="156.0" y1="0" x2="1275.0" y2="0"><stop offset="0.00%" stop-color="#24b9b8"/><stop offset="0.89%" stop-color="#2bbca9"/><stop offset="1.79%" stop-color="#32be9b"/><stop offset="2.68%" stop-color="#32be9b"/><stop offset="3.57%" stop-color="#32be9b"/><stop offset="4.46%" stop-color="#32be9b"/><stop offset="5.36%" stop-color="#32be9b"/><stop offset="6.25%" stop-color="#5ac276"/><stop offset="7.14%" stop-color="#82c752"/><stop offset="8.04%" stop-color="#82c752"/><stop offset="8.93%" stop-color="#82c752"/><stop offset="9.82%" stop-color="#a8c640"/><stop offset="10.71%" stop-color="#cdc42d"/><stop offset="11.61%" stop-color="#95c649"/><stop offset="12.50%" stop-color="#5ac276"/><stop offset="13.39%" stop-color="#5ac276"/><stop offset="14.29%" stop-color="#5ac276"/><stop offset="15.18%" stop-color="#2bbca9"/><stop offset="16.07%" stop-color="#16b4d4"/><stop offset="16.96%" stop-color="#46c089"/><stop offset="17.86%" stop-color="#a8c640"/><stop offset="18.75%" stop-color="#cdc42d"/><stop offset="19.64%" stop-color="#e2c032"/><stop offset="20.54%" stop-color="#bac536"/><stop offset="21.43%" stop-color="#82c752"/><stop offset="22.32%" stop-color="#5ac276"/><stop offset="23.21%" stop-color="#32be9b"/><stop offset="24.11%" stop-color="#82c752"/><stop offset="25.00%" stop-color="#cdc42d"/><stop offset="25.89%" stop-color="#cdc42d"/><stop offset="26.79%" stop-color="#cdc42d"/><stop offset="27.68%" stop-color="#cdc42d"/><stop offset="28.57%" stop-color="#cdc42d"/><stop offset="29.46%" stop-color="#82c752"/><stop offset="30.36%" stop-color="#32be9b"/><stop offset="31.25%" stop-color="#46c089"/><stop offset="32.14%" stop-color="#5ac276"/><stop offset="33.04%" stop-color="#6ec564"/><stop offset="33.93%" stop-color="#82c752"/><stop offset="34.82%" stop-color="#6ec564"/><stop offset="35.71%" stop-color="#5ac276"/><stop offset="36.61%" stop-color="#24b9b8"/><stop offset="37.50%" stop-color="#1aa9da"/><stop offset="38.39%" stop-color="#16b4d4"/><stop offset="39.29%" stop-color="#24b9b8"/><stop offset="40.18%" stop-color="#32be9b"/><stop offset="41.07%" stop-color="#5ac276"/><stop offset="41.96%" stop-color="#46c089"/><stop offset="42.86%" stop-color="#32be9b"/><stop offset="43.75%" stop-color="#32be9b"/><stop offset="44.64%" stop-color="#32be9b"/><stop offset="45.54%" stop-color="#1db6c6"/><stop offset="46.43%" stop-color="#1aa9da"/><stop offset="47.32%" stop-color="#32be9b"/><stop offset="48.21%" stop-color="#a8c640"/><stop offset="49.11%" stop-color="#82c752"/><stop offset="50.00%" stop-color="#5ac276"/><stop offset="50.89%" stop-color="#82c752"/><stop offset="51.79%" stop-color="#a8c640"/><stop offset="52.68%" stop-color="#5ac276"/><stop offset="53.57%" stop-color="#24b9b8"/><stop offset="54.46%" stop-color="#5ac276"/><stop offset="55.36%" stop-color="#a8c640"/><stop offset="56.25%" stop-color="#82c752"/><stop offset="57.14%" stop-color="#5ac276"/><stop offset="58.04%" stop-color="#46c089"/><stop offset="58.93%" stop-color="#32be9b"/><stop offset="59.82%" stop-color="#5ac276"/><stop offset="60.71%" stop-color="#82c752"/><stop offset="61.61%" stop-color="#5ac276"/><stop offset="62.50%" stop-color="#32be9b"/><stop offset="63.39%" stop-color="#32be9b"/><stop offset="64.29%" stop-color="#32be9b"/><stop offset="65.18%" stop-color="#32be9b"/><stop offset="66.07%" stop-color="#32be9b"/><stop offset="66.96%" stop-color="#32be9b"/><stop offset="67.86%" stop-color="#32be9b"/><stop offset="68.75%" stop-color="#1db6c6"/><stop offset="69.64%" stop-color="#1aa9da"/><stop offset="70.54%" stop-color="#2890db"/><stop offset="71.43%" stop-color="#4464c8"/><stop offset="72.32%" stop-color="#455dc2"/><stop offset="73.21%" stop-color="#4656bd"/><stop offset="74.11%" stop-color="#4464c8"/><stop offset="75.00%" stop-color="#3181d4"/><stop offset="75.89%" stop-color="#1aa9da"/><stop offset="76.79%" stop-color="#24b9b8"/><stop offset="77.68%" stop-color="#46c089"/><stop offset="78.57%" stop-color="#82c752"/><stop offset="79.46%" stop-color="#a8c640"/><stop offset="80.36%" stop-color="#cdc42d"/><stop offset="81.25%" stop-color="#a8c640"/><stop offset="82.14%" stop-color="#82c752"/><stop offset="83.04%" stop-color="#6ec564"/><stop offset="83.93%" stop-color="#5ac276"/><stop offset="84.82%" stop-color="#2bbca9"/><stop offset="85.71%" stop-color="#16b4d4"/><stop offset="86.61%" stop-color="#1aa9da"/><stop offset="87.50%" stop-color="#1e9ee1"/><stop offset="88.39%" stop-color="#1ca4de"/><stop offset="89.29%" stop-color="#1aa9da"/><stop offset="90.18%" stop-color="#16b4d4"/><stop offset="91.07%" stop-color="#24b9b8"/><stop offset="91.96%" stop-color="#1db6c6"/><stop offset="92.86%" stop-color="#16b4d4"/><stop offset="93.75%" stop-color="#16b4d4"/><stop offset="94.64%" stop-color="#16b4d4"/><stop offset="95.54%" stop-color="#16b4d4"/><stop offset="96.43%" stop-color="#16b4d4"/><stop offset="97.32%" stop-color="#16b4d4"/><stop offset="98.21%" stop-color="#16b4d4"/><stop offset="99.11%" stop-color="#1aa9da"/><stop offset="100.00%" stop-color="#1e9ee1"/></linearGradient><linearGradient id="gB24" gradientUnits="userSpaceOnUse" x1="156.0" y1="0" x2="1275.0" y2="0"><stop offset="0.00%" stop-color="#32be9b"/><stop offset="0.89%" stop-color="#32be9b"/><stop offset="1.79%" stop-color="#32be9b"/><stop offset="2.68%" stop-color="#32be9b"/><stop offset="3.57%" stop-color="#32be9b"/><stop offset="4.46%" stop-color="#32be9b"/><stop offset="5.36%" stop-color="#32be9b"/><stop offset="6.25%" stop-color="#5ac276"/><stop offset="7.14%" stop-color="#82c752"/><stop offset="8.04%" stop-color="#82c752"/><stop offset="8.93%" stop-color="#82c752"/><stop offset="9.82%" stop-color="#a8c640"/><stop offset="10.71%" stop-color="#cdc42d"/><stop offset="11.61%" stop-color="#82c752"/><stop offset="12.50%" stop-color="#32be9b"/><stop offset="13.39%" stop-color="#32be9b"/><stop offset="14.29%" stop-color="#32be9b"/><stop offset="15.18%" stop-color="#16b4d4"/><stop offset="16.07%" stop-color="#1e9ee1"/><stop offset="16.96%" stop-color="#5ac276"/><stop offset="17.86%" stop-color="#f8bc37"/><stop offset="18.75%" stop-color="#f8bc37"/><stop offset="19.64%" stop-color="#f8bc37"/><stop offset="20.54%" stop-color="#cdc42d"/><stop offset="21.43%" stop-color="#82c752"/><stop offset="22.32%" stop-color="#82c752"/><stop offset="23.21%" stop-color="#82c752"/><stop offset="24.11%" stop-color="#a8c640"/><stop offset="25.00%" stop-color="#cdc42d"/><stop offset="25.89%" stop-color="#cdc42d"/><stop offset="26.79%" stop-color="#cdc42d"/><stop offset="27.68%" stop-color="#cdc42d"/><stop offset="28.57%" stop-color="#cdc42d"/><stop offset="29.46%" stop-color="#82c752"/><stop offset="30.36%" stop-color="#32be9b"/><stop offset="31.25%" stop-color="#32be9b"/><stop offset="32.14%" stop-color="#32be9b"/><stop offset="33.04%" stop-color="#5ac276"/><stop offset="33.93%" stop-color="#82c752"/><stop offset="34.82%" stop-color="#82c752"/><stop offset="35.71%" stop-color="#82c752"/><stop offset="36.61%" stop-color="#32be9b"/><stop offset="37.50%" stop-color="#16b4d4"/><stop offset="38.39%" stop-color="#16b4d4"/><stop offset="39.29%" stop-color="#16b4d4"/><stop offset="40.18%" stop-color="#24b9b8"/><stop offset="41.07%" stop-color="#32be9b"/><stop offset="41.96%" stop-color="#32be9b"/><stop offset="42.86%" stop-color="#32be9b"/><stop offset="43.75%" stop-color="#32be9b"/><stop offset="44.64%" stop-color="#32be9b"/><stop offset="45.54%" stop-color="#24b9b8"/><stop offset="46.43%" stop-color="#16b4d4"/><stop offset="47.32%" stop-color="#32be9b"/><stop offset="48.21%" stop-color="#82c752"/><stop offset="49.11%" stop-color="#5ac276"/><stop offset="50.00%" stop-color="#32be9b"/><stop offset="50.89%" stop-color="#82c752"/><stop offset="51.79%" stop-color="#cdc42d"/><stop offset="52.68%" stop-color="#5ac276"/><stop offset="53.57%" stop-color="#16b4d4"/><stop offset="54.46%" stop-color="#32be9b"/><stop offset="55.36%" stop-color="#82c752"/><stop offset="56.25%" stop-color="#5ac276"/><stop offset="57.14%" stop-color="#32be9b"/><stop offset="58.04%" stop-color="#32be9b"/><stop offset="58.93%" stop-color="#32be9b"/><stop offset="59.82%" stop-color="#5ac276"/><stop offset="60.71%" stop-color="#82c752"/><stop offset="61.61%" stop-color="#5ac276"/><stop offset="62.50%" stop-color="#32be9b"/><stop offset="63.39%" stop-color="#32be9b"/><stop offset="64.29%" stop-color="#32be9b"/><stop offset="65.18%" stop-color="#32be9b"/><stop offset="66.07%" stop-color="#32be9b"/><stop offset="66.96%" stop-color="#32be9b"/><stop offset="67.86%" stop-color="#32be9b"/><stop offset="68.75%" stop-color="#16b4d4"/><stop offset="69.64%" stop-color="#1e9ee1"/><stop offset="70.54%" stop-color="#3181d4"/><stop offset="71.43%" stop-color="#4464c8"/><stop offset="72.32%" stop-color="#4464c8"/><stop offset="73.21%" stop-color="#4464c8"/><stop offset="74.11%" stop-color="#3181d4"/><stop offset="75.00%" stop-color="#1e9ee1"/><stop offset="75.89%" stop-color="#16b4d4"/><stop offset="76.79%" stop-color="#32be9b"/><stop offset="77.68%" stop-color="#5ac276"/><stop offset="78.57%" stop-color="#82c752"/><stop offset="79.46%" stop-color="#a8c640"/><stop offset="80.36%" stop-color="#cdc42d"/><stop offset="81.25%" stop-color="#a8c640"/><stop offset="82.14%" stop-color="#82c752"/><stop offset="83.04%" stop-color="#82c752"/><stop offset="83.93%" stop-color="#82c752"/><stop offset="84.82%" stop-color="#32be9b"/><stop offset="85.71%" stop-color="#16b4d4"/><stop offset="86.61%" stop-color="#1aa9da"/><stop offset="87.50%" stop-color="#1e9ee1"/><stop offset="88.39%" stop-color="#1e9ee1"/><stop offset="89.29%" stop-color="#1e9ee1"/><stop offset="90.18%" stop-color="#1aa9da"/><stop offset="91.07%" stop-color="#16b4d4"/><stop offset="91.96%" stop-color="#16b4d4"/><stop offset="92.86%" stop-color="#16b4d4"/><stop offset="93.75%" stop-color="#16b4d4"/><stop offset="94.64%" stop-color="#16b4d4"/><stop offset="95.54%" stop-color="#16b4d4"/><stop offset="96.43%" stop-color="#16b4d4"/><stop offset="97.32%" stop-color="#16b4d4"/><stop offset="98.21%" stop-color="#16b4d4"/><stop offset="99.11%" stop-color="#1aa9da"/><stop offset="100.00%" stop-color="#1e9ee1"/></linearGradient><linearGradient id="gB25" gradientUnits="userSpaceOnUse" x1="156.0" y1="0" x2="1275.0" y2="0"><stop offset="0.00%" stop-color="#82c752"/><stop offset="0.89%" stop-color="#6ec564"/><stop offset="1.79%" stop-color="#5ac276"/><stop offset="2.68%" stop-color="#46c089"/><stop offset="3.57%" stop-color="#32be9b"/><stop offset="4.46%" stop-color="#32be9b"/><stop offset="5.36%" stop-color="#32be9b"/><stop offset="6.25%" stop-color="#5ac276"/><stop offset="7.14%" stop-color="#82c752"/><stop offset="8.04%" stop-color="#82c752"/><stop offset="8.93%" stop-color="#82c752"/><stop offset="9.82%" stop-color="#82c752"/><stop offset="10.71%" stop-color="#82c752"/><stop offset="11.61%" stop-color="#6ec564"/><stop offset="12.50%" stop-color="#5ac276"/><stop offset="13.39%" stop-color="#6ec564"/><stop offset="14.29%" stop-color="#82c752"/><stop offset="15.18%" stop-color="#46c089"/><stop offset="16.07%" stop-color="#24b9b8"/><stop offset="16.96%" stop-color="#95c649"/><stop offset="17.86%" stop-color="#f8bc37"/><stop offset="18.75%" stop-color="#f8bc37"/><stop offset="19.64%" stop-color="#f8bc37"/><stop offset="20.54%" stop-color="#d8c230"/><stop offset="21.43%" stop-color="#a8c640"/><stop offset="22.32%" stop-color="#a8c640"/><stop offset="23.21%" stop-color="#a8c640"/><stop offset="24.11%" stop-color="#bac536"/><stop offset="25.00%" stop-color="#cdc42d"/><stop offset="25.89%" stop-color="#cdc42d"/><stop offset="26.79%" stop-color="#cdc42d"/><stop offset="27.68%" stop-color="#cdc42d"/><stop offset="28.57%" stop-color="#cdc42d"/><stop offset="29.46%" stop-color="#82c752"/><stop offset="30.36%" stop-color="#32be9b"/><stop offset="31.25%" stop-color="#32be9b"/><stop offset="32.14%" stop-color="#32be9b"/><stop offset="33.04%" stop-color="#46c089"/><stop offset="33.93%" stop-color="#5ac276"/><stop offset="34.82%" stop-color="#5ac276"/><stop offset="35.71%" stop-color="#5ac276"/><stop offset="36.61%" stop-color="#46c089"/><stop offset="37.50%" stop-color="#32be9b"/><stop offset="38.39%" stop-color="#24b9b8"/><stop offset="39.29%" stop-color="#16b4d4"/><stop offset="40.18%" stop-color="#2bbca9"/><stop offset="41.07%" stop-color="#5ac276"/><stop offset="41.96%" stop-color="#46c089"/><stop offset="42.86%" stop-color="#32be9b"/><stop offset="43.75%" stop-color="#32be9b"/><stop offset="44.64%" stop-color="#32be9b"/><stop offset="45.54%" stop-color="#46c089"/><stop offset="46.43%" stop-color="#5ac276"/><stop offset="47.32%" stop-color="#6ec564"/><stop offset="48.21%" stop-color="#82c752"/><stop offset="49.11%" stop-color="#5ac276"/><stop offset="50.00%" stop-color="#32be9b"/><stop offset="50.89%" stop-color="#6ec564"/><stop offset="51.79%" stop-color="#a8c640"/><stop offset="52.68%" stop-color="#6ec564"/><stop offset="53.57%" stop-color="#32be9b"/><stop offset="54.46%" stop-color="#46c089"/><stop offset="55.36%" stop-color="#5ac276"/><stop offset="56.25%" stop-color="#5ac276"/><stop offset="57.14%" stop-color="#5ac276"/><stop offset="58.04%" stop-color="#46c089"/><stop offset="58.93%" stop-color="#32be9b"/><stop offset="59.82%" stop-color="#5ac276"/><stop offset="60.71%" stop-color="#82c752"/><stop offset="61.61%" stop-color="#5ac276"/><stop offset="62.50%" stop-color="#32be9b"/><stop offset="63.39%" stop-color="#32be9b"/><stop offset="64.29%" stop-color="#32be9b"/><stop offset="65.18%" stop-color="#32be9b"/><stop offset="66.07%" stop-color="#32be9b"/><stop offset="66.96%" stop-color="#2bbca9"/><stop offset="67.86%" stop-color="#24b9b8"/><stop offset="68.75%" stop-color="#18aed7"/><stop offset="69.64%" stop-color="#1e9ee1"/><stop offset="70.54%" stop-color="#2890db"/><stop offset="71.43%" stop-color="#3181d4"/><stop offset="72.32%" stop-color="#3181d4"/><stop offset="73.21%" stop-color="#3181d4"/><stop offset="74.11%" stop-color="#1e9ee1"/><stop offset="75.00%" stop-color="#1aa9da"/><stop offset="75.89%" stop-color="#1db6c6"/><stop offset="76.79%" stop-color="#32be9b"/><stop offset="77.68%" stop-color="#5ac276"/><stop offset="78.57%" stop-color="#82c752"/><stop offset="79.46%" stop-color="#95c649"/><stop offset="80.36%" stop-color="#a8c640"/><stop offset="81.25%" stop-color="#82c752"/><stop offset="82.14%" stop-color="#5ac276"/><stop offset="83.04%" stop-color="#5ac276"/><stop offset="83.93%" stop-color="#5ac276"/><stop offset="84.82%" stop-color="#2bbca9"/><stop offset="85.71%" stop-color="#16b4d4"/><stop offset="86.61%" stop-color="#18aed7"/><stop offset="87.50%" stop-color="#1aa9da"/><stop offset="88.39%" stop-color="#1ca4de"/><stop offset="89.29%" stop-color="#1e9ee1"/><stop offset="90.18%" stop-color="#1aa9da"/><stop offset="91.07%" stop-color="#16b4d4"/><stop offset="91.96%" stop-color="#16b4d4"/><stop offset="92.86%" stop-color="#16b4d4"/><stop offset="93.75%" stop-color="#16b4d4"/><stop offset="94.64%" stop-color="#16b4d4"/><stop offset="95.54%" stop-color="#16b4d4"/><stop offset="96.43%" stop-color="#16b4d4"/><stop offset="97.32%" stop-color="#16b4d4"/><stop offset="98.21%" stop-color="#16b4d4"/><stop offset="99.11%" stop-color="#18aed7"/><stop offset="100.00%" stop-color="#1aa9da"/></linearGradient><linearGradient id="gB26" gradientUnits="userSpaceOnUse" x1="156.0" y1="0" x2="1275.0" y2="0"><stop offset="0.00%" stop-color="#cdc42d"/><stop offset="0.89%" stop-color="#a8c640"/><stop offset="1.79%" stop-color="#82c752"/><stop offset="2.68%" stop-color="#5ac276"/><stop offset="3.57%" stop-color="#32be9b"/><stop offset="4.46%" stop-color="#32be9b"/><stop offset="5.36%" stop-color="#32be9b"/><stop offset="6.25%" stop-color="#5ac276"/><stop offset="7.14%" stop-color="#82c752"/><stop offset="8.04%" stop-color="#82c752"/><stop offset="8.93%" stop-color="#82c752"/><stop offset="9.82%" stop-color="#5ac276"/><stop offset="10.71%" stop-color="#32be9b"/><stop offset="11.61%" stop-color="#5ac276"/><stop offset="12.50%" stop-color="#82c752"/><stop offset="13.39%" stop-color="#a8c640"/><stop offset="14.29%" stop-color="#cdc42d"/><stop offset="15.18%" stop-color="#a8c640"/><stop offset="16.07%" stop-color="#82c752"/><stop offset="16.96%" stop-color="#cdc42d"/><stop offset="17.86%" stop-color="#f8bc37"/><stop offset="18.75%" stop-color="#f8bc37"/><stop offset="19.64%" stop-color="#f8bc37"/><stop offset="20.54%" stop-color="#e2c032"/><stop offset="21.43%" stop-color="#cdc42d"/><stop offset="22.32%" stop-color="#cdc42d"/><stop offset="23.21%" stop-color="#cdc42d"/><stop offset="24.11%" stop-color="#cdc42d"/><stop offset="25.00%" stop-color="#cdc42d"/><stop offset="25.89%" stop-color="#cdc42d"/><stop offset="26.79%" stop-color="#cdc42d"/><stop offset="27.68%" stop-color="#cdc42d"/><stop offset="28.57%" stop-color="#cdc42d"/><stop offset="29.46%" stop-color="#82c752"/><stop offset="30.36%" stop-color="#32be9b"/><stop offset="31.25%" stop-color="#32be9b"/><stop offset="32.14%" stop-color="#32be9b"/><stop offset="33.04%" stop-color="#32be9b"/><stop offset="33.93%" stop-color="#32be9b"/><stop offset="34.82%" stop-color="#32be9b"/><stop offset="35.71%" stop-color="#32be9b"/><stop offset="36.61%" stop-color="#5ac276"/><stop offset="37.50%" stop-color="#82c752"/><stop offset="38.39%" stop-color="#32be9b"/><stop offset="39.29%" stop-color="#16b4d4"/><stop offset="40.18%" stop-color="#32be9b"/><stop offset="41.07%" stop-color="#82c752"/><stop offset="41.96%" stop-color="#5ac276"/><stop offset="42.86%" stop-color="#32be9b"/><stop offset="43.75%" stop-color="#32be9b"/><stop offset="44.64%" stop-color="#32be9b"/><stop offset="45.54%" stop-color="#82c752"/><stop offset="46.43%" stop-color="#cdc42d"/><stop offset="47.32%" stop-color="#a8c640"/><stop offset="48.21%" stop-color="#82c752"/><stop offset="49.11%" stop-color="#5ac276"/><stop offset="50.00%" stop-color="#32be9b"/><stop offset="50.89%" stop-color="#5ac276"/><stop offset="51.79%" stop-color="#82c752"/><stop offset="52.68%" stop-color="#82c752"/><stop offset="53.57%" stop-color="#82c752"/><stop offset="54.46%" stop-color="#5ac276"/><stop offset="55.36%" stop-color="#32be9b"/><stop offset="56.25%" stop-color="#5ac276"/><stop offset="57.14%" stop-color="#82c752"/><stop offset="58.04%" stop-color="#5ac276"/><stop offset="58.93%" stop-color="#32be9b"/><stop offset="59.82%" stop-color="#5ac276"/><stop offset="60.71%" stop-color="#82c752"/><stop offset="61.61%" stop-color="#5ac276"/><stop offset="62.50%" stop-color="#32be9b"/><stop offset="63.39%" stop-color="#32be9b"/><stop offset="64.29%" stop-color="#32be9b"/><stop offset="65.18%" stop-color="#32be9b"/><stop offset="66.07%" stop-color="#32be9b"/><stop offset="66.96%" stop-color="#24b9b8"/><stop offset="67.86%" stop-color="#16b4d4"/><stop offset="68.75%" stop-color="#1aa9da"/><stop offset="69.64%" stop-color="#1e9ee1"/><stop offset="70.54%" stop-color="#1e9ee1"/><stop offset="71.43%" stop-color="#1e9ee1"/><stop offset="72.32%" stop-color="#1e9ee1"/><stop offset="73.21%" stop-color="#1e9ee1"/><stop offset="74.11%" stop-color="#1aa9da"/><stop offset="75.00%" stop-color="#16b4d4"/><stop offset="75.89%" stop-color="#24b9b8"/><stop offset="76.79%" stop-color="#32be9b"/><stop offset="77.68%" stop-color="#5ac276"/><stop offset="78.57%" stop-color="#82c752"/><stop offset="79.46%" stop-color="#82c752"/><stop offset="80.36%" stop-color="#82c752"/><stop offset="81.25%" stop-color="#5ac276"/><stop offset="82.14%" stop-color="#32be9b"/><stop offset="83.04%" stop-color="#32be9b"/><stop offset="83.93%" stop-color="#32be9b"/><stop offset="84.82%" stop-color="#24b9b8"/><stop offset="85.71%" stop-color="#16b4d4"/><stop offset="86.61%" stop-color="#16b4d4"/><stop offset="87.50%" stop-color="#16b4d4"/><stop offset="88.39%" stop-color="#1aa9da"/><stop offset="89.29%" stop-color="#1e9ee1"/><stop offset="90.18%" stop-color="#1aa9da"/><stop offset="91.07%" stop-color="#16b4d4"/><stop offset="91.96%" stop-color="#16b4d4"/><stop offset="92.86%" stop-color="#16b4d4"/><stop offset="93.75%" stop-color="#16b4d4"/><stop offset="94.64%" stop-color="#16b4d4"/><stop offset="95.54%" stop-color="#16b4d4"/><stop offset="96.43%" stop-color="#16b4d4"/><stop offset="97.32%" stop-color="#16b4d4"/><stop offset="98.21%" stop-color="#16b4d4"/><stop offset="99.11%" stop-color="#16b4d4"/><stop offset="100.00%" stop-color="#16b4d4"/></linearGradient></defs>
<clipPath id="clipB"><rect x="146" y="450" width="1139" height="277"/></clipPath>
<g clip-path="url(#clipB)"><g filter="url(#bl)">
<rect x="126" y="430" width="1179" height="30.39" fill="url(#gB0)"/>
<rect x="126" y="459.89" width="1179" height="10.19" fill="url(#gB1)"/>
<rect x="126" y="459.89" width="1179" height="10.19" fill="url(#gB0)" mask="url(#fade)"/>
<rect x="126" y="469.79" width="1179" height="10.19" fill="url(#gB2)"/>
<rect x="126" y="469.79" width="1179" height="10.19" fill="url(#gB1)" mask="url(#fade)"/>
<rect x="126" y="479.68" width="1179" height="10.19" fill="url(#gB3)"/>
<rect x="126" y="479.68" width="1179" height="10.19" fill="url(#gB2)" mask="url(#fade)"/>
<rect x="126" y="489.57" width="1179" height="10.19" fill="url(#gB4)"/>
<rect x="126" y="489.57" width="1179" height="10.19" fill="url(#gB3)" mask="url(#fade)"/>
<rect x="126" y="499.46" width="1179" height="10.19" fill="url(#gB5)"/>
<rect x="126" y="499.46" width="1179" height="10.19" fill="url(#gB4)" mask="url(#fade)"/>
<rect x="126" y="509.36" width="1179" height="10.19" fill="url(#gB6)"/>
<rect x="126" y="509.36" width="1179" height="10.19" fill="url(#gB5)" mask="url(#fade)"/>
<rect x="126" y="519.25" width="1179" height="10.19" fill="url(#gB7)"/>
<rect x="126" y="519.25" width="1179" height="10.19" fill="url(#gB6)" mask="url(#fade)"/>
<rect x="126" y="529.14" width="1179" height="10.19" fill="url(#gB8)"/>
<rect x="126" y="529.14" width="1179" height="10.19" fill="url(#gB7)" mask="url(#fade)"/>
<rect x="126" y="539.04" width="1179" height="10.19" fill="url(#gB9)"/>
<rect x="126" y="539.04" width="1179" height="10.19" fill="url(#gB8)" mask="url(#fade)"/>
<rect x="126" y="548.93" width="1179" height="10.19" fill="url(#gB10)"/>
<rect x="126" y="548.93" width="1179" height="10.19" fill="url(#gB9)" mask="url(#fade)"/>
<rect x="126" y="558.82" width="1179" height="10.19" fill="url(#gB11)"/>
<rect x="126" y="558.82" width="1179" height="10.19" fill="url(#gB10)" mask="url(#fade)"/>
<rect x="126" y="568.71" width="1179" height="10.19" fill="url(#gB12)"/>
<rect x="126" y="568.71" width="1179" height="10.19" fill="url(#gB11)" mask="url(#fade)"/>
<rect x="126" y="578.61" width="1179" height="10.19" fill="url(#gB13)"/>
<rect x="126" y="578.61" width="1179" height="10.19" fill="url(#gB12)" mask="url(#fade)"/>
<rect x="126" y="588.50" width="1179" height="10.19" fill="url(#gB14)"/>
<rect x="126" y="588.50" width="1179" height="10.19" fill="url(#gB13)" mask="url(#fade)"/>
<rect x="126" y="598.39" width="1179" height="10.19" fill="url(#gB15)"/>
<rect x="126" y="598.39" width="1179" height="10.19" fill="url(#gB14)" mask="url(#fade)"/>
<rect x="126" y="608.29" width="1179" height="10.19" fill="url(#gB16)"/>
<rect x="126" y="608.29" width="1179" height="10.19" fill="url(#gB15)" mask="url(#fade)"/>
<rect x="126" y="618.18" width="1179" height="10.19" fill="url(#gB17)"/>
<rect x="126" y="618.18" width="1179" height="10.19" fill="url(#gB16)" mask="url(#fade)"/>
<rect x="126" y="628.07" width="1179" height="10.19" fill="url(#gB18)"/>
<rect x="126" y="628.07" width="1179" height="10.19" fill="url(#gB17)" mask="url(#fade)"/>
<rect x="126" y="637.96" width="1179" height="10.19" fill="url(#gB19)"/>
<rect x="126" y="637.96" width="1179" height="10.19" fill="url(#gB18)" mask="url(#fade)"/>
<rect x="126" y="647.86" width="1179" height="10.19" fill="url(#gB20)"/>
<rect x="126" y="647.86" width="1179" height="10.19" fill="url(#gB19)" mask="url(#fade)"/>
<rect x="126" y="657.75" width="1179" height="10.19" fill="url(#gB21)"/>
<rect x="126" y="657.75" width="1179" height="10.19" fill="url(#gB20)" mask="url(#fade)"/>
<rect x="126" y="667.64" width="1179" height="10.19" fill="url(#gB22)"/>
<rect x="126" y="667.64" width="1179" height="10.19" fill="url(#gB21)" mask="url(#fade)"/>
<rect x="126" y="677.54" width="1179" height="10.19" fill="url(#gB23)"/>
<rect x="126" y="677.54" width="1179" height="10.19" fill="url(#gB22)" mask="url(#fade)"/>
<rect x="126" y="687.43" width="1179" height="10.19" fill="url(#gB24)"/>
<rect x="126" y="687.43" width="1179" height="10.19" fill="url(#gB23)" mask="url(#fade)"/>
<rect x="126" y="697.32" width="1179" height="10.19" fill="url(#gB25)"/>
<rect x="126" y="697.32" width="1179" height="10.19" fill="url(#gB24)" mask="url(#fade)"/>
<rect x="126" y="707.21" width="1179" height="10.19" fill="url(#gB26)"/>
<rect x="126" y="707.21" width="1179" height="10.19" fill="url(#gB25)" mask="url(#fade)"/>
<rect x="126" y="717.11" width="1179" height="29.89" fill="url(#gB26)"/>
</g></g>
<text x="918" y="721.3" font-size="38" fill="#fff">2006.03.18 00:00</text>
<g clip-path="url(#clipB)"><path d="M146.0,476.0 C188.3,476.0 307.7,475.9 400.0,475.8 C492.3,475.7 600.0,475.6 700.0,475.5 C800.0,475.4 902.3,475.6 1000.0,475.5 C1097.7,475.4 1238.3,474.9 1286.0,474.8" fill="none" stroke="#000" stroke-width="2.1" stroke-linejoin="round" stroke-linecap="round"/>
<path d="M146.0,488.0 C171.7,487.9 241.0,487.5 300.0,487.5 C359.0,487.5 433.3,487.7 500.0,487.8 C566.7,487.9 616.7,488.0 700.0,488.0 C783.3,488.0 902.3,488.0 1000.0,488.0 C1097.7,488.0 1238.3,488.0 1286.0,488.0" fill="none" stroke="#000" stroke-width="2.1" stroke-linejoin="round" stroke-linecap="round"/>
<path d="M146.0,510.0 C171.7,510.1 241.0,510.6 300.0,510.5 C359.0,510.4 433.3,509.5 500.0,509.5 C566.7,509.5 633.3,510.4 700.0,510.5 C766.7,510.6 833.3,510.2 900.0,510.0 C966.7,509.8 1035.7,509.7 1100.0,509.5 C1164.3,509.3 1255.0,509.1 1286.0,509.0" fill="none" stroke="#000" stroke-width="2.1" stroke-linejoin="round" stroke-linecap="round"/>
<path d="M146.0,538.8 C171.7,538.8 241.0,538.6 300.0,538.5 C359.0,538.4 433.3,537.9 500.0,538.0 C566.7,538.1 633.3,538.8 700.0,539.0 C766.7,539.2 833.3,539.5 900.0,539.5 C966.7,539.5 1035.7,538.9 1100.0,539.0 C1164.3,539.1 1255.0,539.8 1286.0,540.0" fill="none" stroke="#000" stroke-width="2.1" stroke-linejoin="round" stroke-linecap="round"/>
<path d="M146.0,569.2 C171.7,569.1 249.3,568.7 300.0,568.5 C350.7,568.3 400.0,567.8 450.0,568.0 C500.0,568.2 541.7,569.3 600.0,569.5 C658.3,569.7 733.3,569.0 800.0,569.0 C866.7,569.0 919.0,569.5 1000.0,569.5 C1081.0,569.5 1238.3,569.1 1286.0,569.0" fill="none" stroke="#000" stroke-width="2.1" stroke-linejoin="round" stroke-linecap="round"/>
<path d="M146.0,614.0 C160.0,613.9 204.3,613.5 230.0,613.3 C255.7,613.1 271.7,613.0 300.0,613.0 C328.3,613.0 373.3,613.7 400.0,613.5 C426.7,613.3 443.3,612.0 460.0,612.0 C476.7,612.0 485.0,613.2 500.0,613.5 C515.0,613.8 525.0,614.0 550.0,614.0 C575.0,614.0 625.0,613.5 650.0,613.5 C675.0,613.5 675.0,613.8 700.0,614.0 C725.0,614.2 750.0,614.5 800.0,614.5 C850.0,614.5 933.3,614.4 1000.0,614.3 C1066.7,614.2 1152.3,613.9 1200.0,614.0 C1247.7,614.1 1271.7,614.8 1286.0,615.0" fill="none" stroke="#000" stroke-width="2.1" stroke-linejoin="round" stroke-linecap="round"/>
<path d="M146.0,668.0 C157.5,667.9 193.5,667.8 215.0,667.6 C236.5,667.4 244.2,666.9 275.0,667.0 C305.8,667.1 365.8,668.1 400.0,668.0 C434.2,667.9 455.0,666.5 480.0,666.5 C505.0,666.5 513.3,667.8 550.0,668.0 C586.7,668.2 641.7,667.9 700.0,668.0 C758.3,668.1 833.3,668.5 900.0,668.5 C966.7,668.5 1035.7,668.1 1100.0,668.0 C1164.3,667.9 1255.0,668.0 1286.0,668.0" fill="none" stroke="#000" stroke-width="2.1" stroke-linejoin="round" stroke-linecap="round"/>
<path d="M146.0,715.0 C155.0,715.1 176.5,715.5 200.0,715.5 C223.5,715.5 265.3,715.1 287.0,715.0 C308.7,714.9 318.7,714.9 330.0,715.0 C341.3,715.1 340.0,715.5 355.0,715.5 C370.0,715.5 397.0,715.2 420.0,715.0 C443.0,714.8 479.7,714.3 493.0,714.5 C506.3,714.7 482.2,715.9 500.0,716.0 C517.8,716.1 566.7,715.2 600.0,715.0 C633.3,714.8 650.0,714.5 700.0,714.5 C750.0,714.5 833.3,715.0 900.0,715.0 C966.7,715.0 1035.7,714.8 1100.0,714.8 C1164.3,714.8 1255.0,714.8 1286.0,714.8" fill="none" stroke="#000" stroke-width="2.1" stroke-linejoin="round" stroke-linecap="round"/></g>
<path d="M206.2,727.5 C206.4,726.2 206.9,723.9 207.5,720.0 C208.1,716.1 208.3,710.0 209.5,704.0 C210.7,698.0 212.6,690.9 214.5,684.0 C216.4,677.1 218.8,669.3 221.0,662.4 C223.2,655.5 225.5,648.9 227.7,642.6 C229.9,636.3 232.2,629.8 234.3,624.4 C236.4,619.0 238.9,613.3 240.5,610.0 C242.1,606.7 243.0,605.7 244.0,604.5 C245.0,603.3 245.6,603.2 246.3,603.0 C247.1,602.8 247.6,602.8 248.5,603.5 C249.4,604.2 250.4,605.6 251.5,607.0 C252.6,608.4 253.9,609.6 255.0,612.0 C256.1,614.4 256.7,616.8 258.0,621.1 C259.3,625.4 261.6,632.1 263.0,637.6 C264.4,643.1 264.9,648.7 266.3,654.2 C267.7,659.7 269.6,664.6 271.2,670.7 C272.8,676.8 274.6,684.0 276.0,690.6 C277.4,697.2 278.3,704.2 279.3,710.4 C280.3,716.5 281.4,724.6 281.8,727.5 Z" fill="#fff" stroke="none"/>
<path d="M359.0,727.5 C359.4,726.2 360.4,722.4 361.5,720.0 C362.6,717.6 363.8,715.1 365.5,713.0 C367.2,710.9 369.6,708.6 372.0,707.5 C374.4,706.4 377.4,706.7 380.0,706.5 C382.6,706.3 384.9,706.6 387.4,706.2 C389.9,705.8 392.6,705.2 395.0,704.3 C397.4,703.4 399.0,703.0 401.6,701.0 C404.2,699.0 407.9,696.5 410.5,692.5 C413.1,688.5 415.2,682.3 417.5,677.0 C419.8,671.7 421.8,666.0 424.0,660.5 C426.2,655.0 428.5,648.6 430.7,644.0 C432.9,639.4 434.9,635.5 437.0,633.0 C439.1,630.5 441.6,629.9 443.5,629.3 C445.4,628.7 446.3,628.8 448.6,629.3 C450.9,629.8 454.5,630.6 457.5,632.2 C460.5,633.8 463.7,636.0 466.5,639.0 C469.3,642.0 472.1,645.8 474.5,650.0 C476.9,654.2 478.9,658.8 480.8,664.5 C482.7,670.2 484.4,676.9 485.8,684.0 C487.2,691.1 488.1,699.9 489.1,707.1 C490.1,714.4 491.2,724.1 491.6,727.5 Z" fill="#fff" stroke="none"/>
<rect x="434" y="623.5" width="18" height="5" fill="#fff"/>
<rect x="372" y="700.2" width="19" height="5" fill="#fff"/>
<path d="M206.2,727.5 C206.4,726.2 206.9,723.9 207.5,720.0 C208.1,716.1 208.3,710.0 209.5,704.0 C210.7,698.0 212.6,690.9 214.5,684.0 C216.4,677.1 218.8,669.3 221.0,662.4 C223.2,655.5 225.5,648.9 227.7,642.6 C229.9,636.3 232.2,629.8 234.3,624.4 C236.4,619.0 238.9,613.3 240.5,610.0 C242.1,606.7 243.0,605.7 244.0,604.5 C245.0,603.3 245.6,603.2 246.3,603.0 C247.1,602.8 247.6,602.8 248.5,603.5 C249.4,604.2 250.4,605.6 251.5,607.0 C252.6,608.4 253.9,609.6 255.0,612.0 C256.1,614.4 256.7,616.8 258.0,621.1 C259.3,625.4 261.6,632.1 263.0,637.6 C264.4,643.1 264.9,648.7 266.3,654.2 C267.7,659.7 269.6,664.6 271.2,670.7 C272.8,676.8 274.6,684.0 276.0,690.6 C277.4,697.2 278.3,704.2 279.3,710.4 C280.3,716.5 281.4,724.6 281.8,727.5" fill="none" stroke="#000" stroke-width="6" stroke-linejoin="round"/>
<path d="M359.0,727.5 C359.4,726.2 360.4,722.4 361.5,720.0 C362.6,717.6 363.8,715.1 365.5,713.0 C367.2,710.9 369.6,708.6 372.0,707.5 C374.4,706.4 377.4,706.7 380.0,706.5 C382.6,706.3 384.9,706.6 387.4,706.2 C389.9,705.8 392.6,705.2 395.0,704.3 C397.4,703.4 399.0,703.0 401.6,701.0 C404.2,699.0 407.9,696.5 410.5,692.5 C413.1,688.5 415.2,682.3 417.5,677.0 C419.8,671.7 421.8,666.0 424.0,660.5 C426.2,655.0 428.5,648.6 430.7,644.0 C432.9,639.4 434.9,635.5 437.0,633.0 C439.1,630.5 441.6,629.9 443.5,629.3 C445.4,628.7 446.3,628.8 448.6,629.3 C450.9,629.8 454.5,630.6 457.5,632.2 C460.5,633.8 463.7,636.0 466.5,639.0 C469.3,642.0 472.1,645.8 474.5,650.0 C476.9,654.2 478.9,658.8 480.8,664.5 C482.7,670.2 484.4,676.9 485.8,684.0 C487.2,691.1 488.1,699.9 489.1,707.1 C490.1,714.4 491.2,724.1 491.6,727.5" fill="none" stroke="#000" stroke-width="6" stroke-linejoin="round"/>
<line x1="146" y1="450.5" x2="1285" y2="450.5" stroke="#777" stroke-width="1"/>
<line x1="146" y1="726.5" x2="1285" y2="726.5" stroke="#555" stroke-width="1"/>
<line x1="1284.5" y1="450" x2="1284.5" y2="727" stroke="#444" stroke-width="1"/>
<line x1="375.4" y1="715" x2="375.4" y2="727" stroke="#333" stroke-width="1.3"/><rect x="1302.5" y="42.5" width="33" height="279.5" fill="url(#cbg)" stroke="#222" stroke-width="1.2"/><line x1="1331" y1="89.6" x2="1336" y2="89.6" stroke="#222" stroke-width="1"/><line x1="1331" y1="182.8" x2="1336" y2="182.8" stroke="#222" stroke-width="1"/><line x1="1331" y1="276.0" x2="1336" y2="276.0" stroke="#222" stroke-width="1"/><rect x="1302.5" y="450.5" width="33" height="279.5" fill="url(#cbg)" stroke="#222" stroke-width="1.2"/><line x1="1331" y1="497.6" x2="1336" y2="497.6" stroke="#222" stroke-width="1"/><line x1="1331" y1="590.8" x2="1336" y2="590.8" stroke="#222" stroke-width="1"/><line x1="1331" y1="684.0" x2="1336" y2="684.0" stroke="#222" stroke-width="1"/>
<text x="-0.3" y="67.9" font-size="31" text-anchor="start" font-weight="bold" fill="#000" >A</text><text x="134.8" y="126.7" font-size="39" text-anchor="end" font-weight="normal" fill="#000" >-200</text><text x="134.8" y="195.5" font-size="39" text-anchor="end" font-weight="normal" fill="#000" >-400</text><text x="134.8" y="264.3" font-size="39" text-anchor="end" font-weight="normal" fill="#000" >-600</text><text x="134.8" y="333.09999999999997" font-size="39" text-anchor="end" font-weight="normal" fill="#000" >-800</text><text transform="translate(42.8,181.7) rotate(-90)" font-size="42" text-anchor="middle">depth/m</text><text x="1286" y="22.7" font-size="32" text-anchor="start" font-weight="normal" fill="#000" >[m/s]</text><text x="1346.5" y="102.5" font-size="34.5" text-anchor="start" font-weight="normal" fill="#000" >0.2</text><text x="1346.5" y="195.70000000000002" font-size="34.5" text-anchor="start" font-weight="normal" fill="#000" >0</text><text x="1346.5" y="288.9" font-size="34.5" text-anchor="start" font-weight="normal" fill="#000" >-0.2</text><text x="-0.3" y="469.0" font-size="31" text-anchor="start" font-weight="bold" fill="#000" >B</text><text x="134.8" y="534.7" font-size="39" text-anchor="end" font-weight="normal" fill="#000" >-200</text><text x="134.8" y="603.5" font-size="39" text-anchor="end" font-weight="normal" fill="#000" >-400</text><text x="134.8" y="672.3000000000001" font-size="39" text-anchor="end" font-weight="normal" fill="#000" >-600</text><text x="134.8" y="741.1" font-size="39" text-anchor="end" font-weight="normal" fill="#000" >-800</text><text transform="translate(42.8,589.7) rotate(-90)" font-size="42" text-anchor="middle">depth/m</text><text x="1286" y="430.7" font-size="32" text-anchor="start" font-weight="normal" fill="#000" >[m/s]</text><text x="1346.5" y="510.5" font-size="34.5" text-anchor="start" font-weight="normal" fill="#000" >0.02</text><text x="1346.5" y="603.6999999999999" font-size="34.5" text-anchor="start" font-weight="normal" fill="#000" >0</text><text x="1346.5" y="696.9" font-size="34.5" text-anchor="start" font-weight="normal" fill="#000" >-0.02</text><text x="146" y="777.0" font-size="39" text-anchor="middle" font-weight="normal" fill="#000" >92</text><text x="376.0" y="777.0" font-size="39" text-anchor="middle" font-weight="normal" fill="#000" >92.5</text><text x="606" y="777.0" font-size="39" text-anchor="middle" font-weight="normal" fill="#000" >93</text><text x="836.0" y="777.0" font-size="39" text-anchor="middle" font-weight="normal" fill="#000" >93.5</text><text x="1066" y="777.0" font-size="39" text-anchor="middle" font-weight="normal" fill="#000" >94</text><text x="715.5" y="829.9" font-size="42" text-anchor="middle" font-weight="normal" fill="#000" >Longitude/<tspan dy="3.5">°</tspan><tspan dy="-3.5">E</tspan></text>
</svg>
</body></html>
